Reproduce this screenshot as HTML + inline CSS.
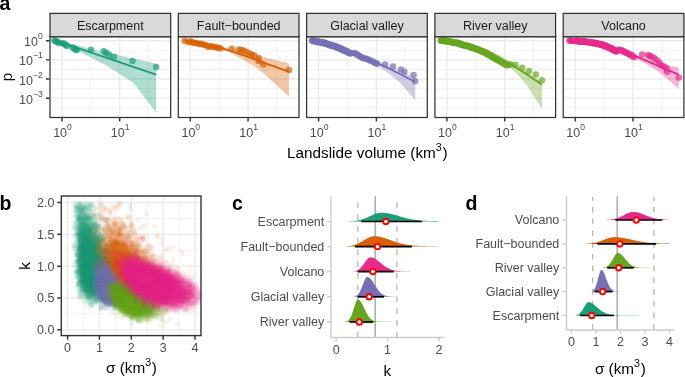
<!DOCTYPE html>
<html lang="en">
<head>
<meta charset="utf-8">
<title>Landslide volume distributions</title>
<style>
html,body{margin:0;padding:0;background:#fff;}
body{width:685px;height:377px;overflow:hidden;font-family:"Liberation Sans",sans-serif;}
svg{display:block;will-change:transform;font-family:"Liberation Sans",sans-serif;}
</style>
</head>
<body>
<svg width="685" height="377" viewBox="0 0 685 377">
<rect width="685" height="377" fill="#fff"/>
<g id="panel-a">
<g>
<rect x="50" y="36.7" width="120.7" height="80.8" fill="#fff"/>
<path d="M50,50.28H170.7M50,69.42H170.7M50,88.58H170.7M50,107.72H170.7M90.85,36.7V117.5M148.65,36.7V117.5" stroke="#ebebeb" stroke-width="0.7" fill="none"/>
<path d="M50,40.70H170.7M50,59.85H170.7M50,79.00H170.7M50,98.15H170.7M61.95,36.7V117.5M119.75,36.7V117.5" stroke="#ebebeb" stroke-width="1.35" fill="none"/>
<clipPath id="ca0"><rect x="50" y="36.7" width="120.7" height="80.8"/></clipPath>
<g clip-path="url(#ca0)">
<polygon points="54.4,39.8 80,46.3 107.3,52.8 132.5,58.6 156.2,63.5 156.2,112.7 133.6,83.1 107.3,66 80,52 54.4,40.6" fill="#1B9E77" fill-opacity="0.35"/>
<path d="M54.4,40.1 L156.2,74.6" stroke="#1B9E77" stroke-width="1.8" fill="none"/>
<g fill="#1B9E77" fill-opacity="0.7">
<circle cx="54.4" cy="40.6" r="3.25"/>
<circle cx="55.6" cy="40.9" r="3.25"/>
<circle cx="56.8" cy="41.4" r="3.25"/>
<circle cx="58" cy="42.2" r="3.25"/>
<circle cx="59.2" cy="42.9" r="3.25"/>
<circle cx="63" cy="43.3" r="3.25"/>
<circle cx="64.4" cy="44.1" r="3.25"/>
<circle cx="65.8" cy="45" r="3.25"/>
<circle cx="67" cy="45.9" r="3.25"/>
<circle cx="72.6" cy="47.4" r="3.25"/>
<circle cx="74.2" cy="48.4" r="3.25"/>
<circle cx="75.6" cy="49.3" r="3.25"/>
<circle cx="76.8" cy="50" r="3.25"/>
<circle cx="91" cy="49.8" r="3.25"/>
<circle cx="103.7" cy="51.3" r="3.25"/>
<circle cx="106.1" cy="52.7" r="3.25"/>
<circle cx="109" cy="54.5" r="3.25"/>
<circle cx="114" cy="56.8" r="3.25"/>
<circle cx="132.5" cy="60.9" r="3.25"/>
<circle cx="156.2" cy="66.9" r="3.25"/>
</g>
</g>
<rect x="50" y="36.7" width="120.7" height="80.8" fill="none" stroke="#333333" stroke-width="1.25"/>
<rect x="50" y="13.4" width="120.7" height="23.3" fill="#d9d9d9" stroke="#333333" stroke-width="1.25"/>
<text x="110.3" y="29.7" font-size="12.5" fill="#1a1a1a" text-anchor="middle">Escarpment</text>
<path d="M61.95,118v3.6M119.75,118v3.6" stroke="#333333" stroke-width="1.45" fill="none"/>
<text x="62.5" y="137.1" font-size="12.5" fill="#4d4d4d" text-anchor="middle">10<tspan dy="-7.0" font-size="8.6">0</tspan></text>
<text x="120.2" y="137.1" font-size="12.5" fill="#4d4d4d" text-anchor="middle">10<tspan dy="-7.0" font-size="8.6">1</tspan></text>
</g>
<g>
<rect x="178.3" y="36.7" width="120.7" height="80.8" fill="#fff"/>
<path d="M178.3,50.28H299M178.3,69.42H299M178.3,88.58H299M178.3,107.72H299M219.20,36.7V117.5M277.00,36.7V117.5" stroke="#ebebeb" stroke-width="0.7" fill="none"/>
<path d="M178.3,40.70H299M178.3,59.85H299M178.3,79.00H299M178.3,98.15H299M190.30,36.7V117.5M248.10,36.7V117.5" stroke="#ebebeb" stroke-width="1.35" fill="none"/>
<clipPath id="ca1"><rect x="178.3" y="36.7" width="120.7" height="80.8"/></clipPath>
<g clip-path="url(#ca1)">
<polygon points="184.7,39.9 187.5,40.4 191.3,41.1 195.8,42 200.8,42.9 206,43.9 211.1,44.9 215.8,45.8 220,46.6 223.7,47.3 227.2,48.1 230.5,48.8 233.7,49.4 236.7,50.1 239.6,50.8 242.4,51.4 245,52 247.5,52.6 249.8,53.2 251.9,53.8 254,54.3 255.9,54.9 257.8,55.4 259.6,55.9 261.5,56.4 263.3,56.9 265.1,57.3 266.8,57.8 268.4,58.2 270,58.6 271.7,59 273.3,59.5 275,59.9 276.8,60.4 278.8,60.9 280.8,61.4 282.8,61.9 284.8,62.3 286.5,62.8 287.9,63.1 289,63.4 289,96.8 287.3,95.2 285,93 282.2,90.4 279.2,87.6 276.1,84.8 273.3,82.2 270.9,80 268.9,78.2 267.1,76.6 265.4,75.1 263.9,73.7 262.4,72.4 260.8,71.2 259.2,69.9 257.6,68.7 256,67.6 254.5,66.6 252.9,65.6 251.3,64.6 249.5,63.5 247.5,62.3 245.2,61 242.7,59.5 240,58 237.3,56.4 234.6,55 232.2,53.7 230,52.6 228.4,51.8 227.3,51.3 226.5,51 225.7,50.7 224.5,50.4 222.7,50 220,49.3 216,48.3 210.7,47 204.8,45.6 198.7,44.1 193,42.8 188.1,41.6 184.7,40.8" fill="#D95F02" fill-opacity="0.35"/>
<path d="M184.7,40.3 C187.25,40.78 194.95,42.18 200.00,43.20 C205.05,44.22 211.27,45.55 215.00,46.40 C218.73,47.25 218.83,47.22 222.40,48.30 C225.97,49.38 232.12,51.45 236.40,52.90 C240.68,54.35 244.30,55.63 248.10,57.00 C251.90,58.37 254.72,59.48 259.20,61.10 C263.68,62.72 270.03,64.95 275.00,66.70 C279.97,68.45 286.67,70.78 289.00,71.60" stroke="#D95F02" stroke-width="1.8" fill="none"/>
<g fill="#D95F02" fill-opacity="0.7">
<circle cx="184.6" cy="40.8" r="3.25"/>
<circle cx="188.5" cy="42.2" r="3.25"/>
<circle cx="190.6" cy="41.3" r="3.25"/>
<circle cx="192.8" cy="42.7" r="3.25"/>
<circle cx="194.9" cy="42.8" r="3.25"/>
<circle cx="197.1" cy="43.3" r="3.25"/>
<circle cx="199.2" cy="43.9" r="3.25"/>
<circle cx="201.3" cy="43.8" r="3.25"/>
<circle cx="203.5" cy="44.8" r="3.25"/>
<circle cx="205.6" cy="45.1" r="3.25"/>
<circle cx="207.8" cy="46.8" r="3.25"/>
<circle cx="209.9" cy="46.3" r="3.25"/>
<circle cx="212" cy="46.6" r="3.25"/>
<circle cx="214.2" cy="47.1" r="3.25"/>
<circle cx="216.3" cy="47.5" r="3.25"/>
<circle cx="218.5" cy="47.8" r="3.25"/>
<circle cx="220.6" cy="48.5" r="3.25"/>
<circle cx="231.8" cy="48.8" r="3.25"/>
<circle cx="238.8" cy="49.4" r="3.25"/>
<circle cx="241.2" cy="49.9" r="3.25"/>
<circle cx="243.4" cy="50.6" r="3.25"/>
<circle cx="246.4" cy="51.8" r="3.25"/>
<circle cx="249.3" cy="53.5" r="3.25"/>
<circle cx="251.8" cy="54.5" r="3.25"/>
<circle cx="254.3" cy="55.6" r="3.25"/>
<circle cx="258.6" cy="58" r="3.25"/>
<circle cx="258.6" cy="61.1" r="3.25"/>
<circle cx="263.3" cy="64.4" r="3.25"/>
<circle cx="289" cy="69.9" r="3.25"/>
</g>
</g>
<rect x="178.3" y="36.7" width="120.7" height="80.8" fill="none" stroke="#333333" stroke-width="1.25"/>
<rect x="178.3" y="13.4" width="120.7" height="23.3" fill="#d9d9d9" stroke="#333333" stroke-width="1.25"/>
<text x="238.7" y="29.7" font-size="12.5" fill="#1a1a1a" text-anchor="middle">Fault−bounded</text>
<path d="M190.30,118v3.6M248.10,118v3.6" stroke="#333333" stroke-width="1.45" fill="none"/>
<text x="190.8" y="137.1" font-size="12.5" fill="#4d4d4d" text-anchor="middle">10<tspan dy="-7.0" font-size="8.6">0</tspan></text>
<text x="248.6" y="137.1" font-size="12.5" fill="#4d4d4d" text-anchor="middle">10<tspan dy="-7.0" font-size="8.6">1</tspan></text>
</g>
<g>
<rect x="306.6" y="36.7" width="120.7" height="80.8" fill="#fff"/>
<path d="M306.6,50.28H427.3M306.6,69.42H427.3M306.6,88.58H427.3M306.6,107.72H427.3M347.50,36.7V117.5M405.30,36.7V117.5" stroke="#ebebeb" stroke-width="0.7" fill="none"/>
<path d="M306.6,40.70H427.3M306.6,59.85H427.3M306.6,79.00H427.3M306.6,98.15H427.3M318.60,36.7V117.5M376.40,36.7V117.5" stroke="#ebebeb" stroke-width="1.35" fill="none"/>
<clipPath id="ca2"><rect x="306.6" y="36.7" width="120.7" height="80.8"/></clipPath>
<g clip-path="url(#ca2)">
<polygon points="312,40 314.6,40.7 318.1,41.6 322.3,42.7 326.9,43.9 331.8,45.3 336.8,46.6 341.6,48 346.1,49.3 350,50.5 353.5,51.7 356.7,52.9 359.8,54.1 362.8,55.3 365.6,56.5 368.3,57.7 370.9,58.9 373.5,60 376,61 378.4,62 380.7,62.8 382.8,63.7 384.9,64.5 386.9,65.2 388.8,66 390.8,66.8 392.9,67.6 395,68.5 397.3,69.5 399.8,70.6 402.4,71.7 405,72.8 407.5,74 409.9,75 412,76 413.8,76.8 415.2,77.4 415.2,100.2 414.1,98.9 412.6,97.2 410.9,95.1 409,92.8 406.9,90.4 404.7,87.9 402.5,85.4 400.2,83.1 398,81 395.8,79.1 393.5,77.2 391.2,75.3 388.8,73.5 386.3,71.7 383.8,70 381.2,68.3 378.6,66.6 376,65 373.4,63.5 370.7,62 368.1,60.5 365.4,59.2 362.6,57.8 359.7,56.5 356.7,55.2 353.4,53.8 350,52.5 346.1,51.1 341.6,49.6 336.8,48.1 331.8,46.6 326.9,45.2 322.3,43.8 318.1,42.6 314.6,41.6 312,40.8" fill="#7570B3" fill-opacity="0.35"/>
<path d="M312,40.4 C315.00,41.03 323.67,42.35 330.00,44.20 C336.33,46.05 343.33,48.87 350.00,51.50 C356.67,54.13 363.33,57.08 370.00,60.00 C376.67,62.92 382.47,65.33 390.00,69.00 C397.53,72.67 411.00,79.83 415.20,82.00" stroke="#7570B3" stroke-width="1.8" fill="none"/>
<g fill="#7570B3" fill-opacity="0.7">
<circle cx="312" cy="40.5" r="3.25"/>
<circle cx="312.6" cy="40.4" r="3.25"/>
<circle cx="313.1" cy="40.9" r="3.25"/>
<circle cx="313.7" cy="40.7" r="3.25"/>
<circle cx="314.2" cy="40.9" r="3.25"/>
<circle cx="314.8" cy="41.4" r="3.25"/>
<circle cx="315.4" cy="41.3" r="3.25"/>
<circle cx="315.9" cy="41.1" r="3.25"/>
<circle cx="316.5" cy="41.3" r="3.25"/>
<circle cx="317.1" cy="41.6" r="3.25"/>
<circle cx="317.6" cy="42.2" r="3.25"/>
<circle cx="318.2" cy="41.6" r="3.25"/>
<circle cx="318.7" cy="41.8" r="3.25"/>
<circle cx="319.3" cy="42.3" r="3.25"/>
<circle cx="319.9" cy="41.8" r="3.25"/>
<circle cx="320.4" cy="42.1" r="3.25"/>
<circle cx="321" cy="42.6" r="3.25"/>
<circle cx="321.6" cy="42.7" r="3.25"/>
<circle cx="322.1" cy="42.6" r="3.25"/>
<circle cx="322.7" cy="43" r="3.25"/>
<circle cx="323.2" cy="42.1" r="3.25"/>
<circle cx="323.8" cy="43.4" r="3.25"/>
<circle cx="324.4" cy="42.9" r="3.25"/>
<circle cx="324.9" cy="42.8" r="3.25"/>
<circle cx="325.5" cy="43.6" r="3.25"/>
<circle cx="326.1" cy="43.9" r="3.25"/>
<circle cx="326.6" cy="43.7" r="3.25"/>
<circle cx="327.2" cy="43.7" r="3.25"/>
<circle cx="327.7" cy="44.2" r="3.25"/>
<circle cx="328.3" cy="44.3" r="3.25"/>
<circle cx="328.9" cy="44.9" r="3.25"/>
<circle cx="329.4" cy="44.9" r="3.25"/>
<circle cx="330" cy="44.9" r="3.25"/>
<circle cx="330.6" cy="45.4" r="3.25"/>
<circle cx="331.1" cy="45.1" r="3.25"/>
<circle cx="331.7" cy="45.1" r="3.25"/>
<circle cx="332.2" cy="45.8" r="3.25"/>
<circle cx="332.8" cy="46" r="3.25"/>
<circle cx="333.4" cy="45.9" r="3.25"/>
<circle cx="333.9" cy="45.9" r="3.25"/>
<circle cx="334.5" cy="46.5" r="3.25"/>
<circle cx="335.1" cy="45.8" r="3.25"/>
<circle cx="335.6" cy="47" r="3.25"/>
<circle cx="336.2" cy="47.2" r="3.25"/>
<circle cx="336.7" cy="46.7" r="3.25"/>
<circle cx="337.3" cy="47.5" r="3.25"/>
<circle cx="337.9" cy="47.4" r="3.25"/>
<circle cx="338.4" cy="48.1" r="3.25"/>
<circle cx="339" cy="47.5" r="3.25"/>
<circle cx="339.6" cy="48.1" r="3.25"/>
<circle cx="340.1" cy="48.8" r="3.25"/>
<circle cx="340.7" cy="49.2" r="3.25"/>
<circle cx="341.2" cy="48.4" r="3.25"/>
<circle cx="341.8" cy="49.2" r="3.25"/>
<circle cx="342.4" cy="49.7" r="3.25"/>
<circle cx="342.9" cy="49.6" r="3.25"/>
<circle cx="343.5" cy="50.5" r="3.25"/>
<circle cx="344.1" cy="50" r="3.25"/>
<circle cx="344.6" cy="50.7" r="3.25"/>
<circle cx="345.2" cy="50.5" r="3.25"/>
<circle cx="345.7" cy="51.5" r="3.25"/>
<circle cx="346.3" cy="51.3" r="3.25"/>
<circle cx="346.9" cy="51.5" r="3.25"/>
<circle cx="347.4" cy="51.3" r="3.25"/>
<circle cx="348" cy="52.6" r="3.25"/>
<circle cx="348.6" cy="52.6" r="3.25"/>
<circle cx="349.1" cy="52.8" r="3.25"/>
<circle cx="349.7" cy="53.2" r="3.25"/>
<circle cx="350.2" cy="53.2" r="3.25"/>
<circle cx="350.8" cy="53.2" r="3.25"/>
<circle cx="354" cy="53" r="3.25"/>
<circle cx="355.4" cy="53.6" r="3.25"/>
<circle cx="356.8" cy="54.3" r="3.25"/>
<circle cx="358.2" cy="55.2" r="3.25"/>
<circle cx="359.5" cy="56" r="3.25"/>
<circle cx="361" cy="56.9" r="3.25"/>
<circle cx="362.2" cy="57.5" r="3.25"/>
<circle cx="363.6" cy="58.4" r="3.25"/>
<circle cx="366" cy="58.6" r="3.25"/>
<circle cx="367.5" cy="59.3" r="3.25"/>
<circle cx="369" cy="59.9" r="3.25"/>
<circle cx="370.8" cy="60.8" r="3.25"/>
<circle cx="372.5" cy="61.6" r="3.25"/>
<circle cx="374.2" cy="62.4" r="3.25"/>
<circle cx="375.9" cy="63.2" r="3.25"/>
<circle cx="377" cy="63.8" r="3.25"/>
<circle cx="385" cy="64.4" r="3.25"/>
<circle cx="393" cy="66.6" r="3.25"/>
<circle cx="401" cy="69.4" r="3.25"/>
<circle cx="404.4" cy="71.7" r="3.25"/>
<circle cx="413.6" cy="75.1" r="3.25"/>
<circle cx="415.2" cy="81.2" r="3.25"/>
</g>
</g>
<rect x="306.6" y="36.7" width="120.7" height="80.8" fill="none" stroke="#333333" stroke-width="1.25"/>
<rect x="306.6" y="13.4" width="120.7" height="23.3" fill="#d9d9d9" stroke="#333333" stroke-width="1.25"/>
<text x="367" y="29.7" font-size="12.5" fill="#1a1a1a" text-anchor="middle">Glacial valley</text>
<path d="M318.60,118v3.6M376.40,118v3.6" stroke="#333333" stroke-width="1.45" fill="none"/>
<text x="319.1" y="137.1" font-size="12.5" fill="#4d4d4d" text-anchor="middle">10<tspan dy="-7.0" font-size="8.6">0</tspan></text>
<text x="376.9" y="137.1" font-size="12.5" fill="#4d4d4d" text-anchor="middle">10<tspan dy="-7.0" font-size="8.6">1</tspan></text>
</g>
<g>
<rect x="434.9" y="36.7" width="120.7" height="80.8" fill="#fff"/>
<path d="M434.9,50.28H555.6M434.9,69.42H555.6M434.9,88.58H555.6M434.9,107.72H555.6M475.80,36.7V117.5M533.60,36.7V117.5" stroke="#ebebeb" stroke-width="0.7" fill="none"/>
<path d="M434.9,40.70H555.6M434.9,59.85H555.6M434.9,79.00H555.6M434.9,98.15H555.6M446.90,36.7V117.5M504.70,36.7V117.5" stroke="#ebebeb" stroke-width="1.35" fill="none"/>
<clipPath id="ca3"><rect x="434.9" y="36.7" width="120.7" height="80.8"/></clipPath>
<g clip-path="url(#ca3)">
<polygon points="440.7,40 443.9,40.6 448.3,41.4 453.6,42.3 459.4,43.4 465.3,44.4 471,45.5 476,46.5 480,47.4 483.1,48.2 485.6,48.9 487.6,49.6 489.3,50.2 490.8,50.9 492.2,51.5 493.5,52.1 495,52.8 496.4,53.4 497.6,54 498.7,54.5 499.7,55.1 500.7,55.7 501.9,56.4 503.3,57.2 505,58.2 507,59.4 509.4,60.8 511.9,62.3 514.6,64 517.3,65.6 520,67.3 522.6,69 525,70.5 527.4,72.1 529.9,73.7 532.3,75.4 534.8,77 537,78.6 539,80 540.7,81.1 542,82 542,109.3 540.9,107.5 539.4,105.1 537.7,102.2 535.8,99 533.7,95.7 531.5,92.2 529.3,88.9 527.1,85.8 525,83 522.9,80.5 520.9,78.1 518.7,75.8 516.6,73.6 514.4,71.4 512.1,69.3 509.8,67.3 507.5,65.4 505,63.5 502.5,61.7 500.1,59.9 497.6,58.3 495,56.7 492.4,55.1 489.6,53.6 486.6,52.2 483.4,50.9 480,49.6 476,48.4 471.5,47.1 466.5,46 461.4,44.9 456.3,43.8 451.4,42.9 447.1,42.1 443.4,41.4 440.7,40.8" fill="#66A61E" fill-opacity="0.35"/>
<path d="M440.7,40.4 C443.92,40.77 453.45,41.23 460.00,42.60 C466.55,43.97 473.33,46.00 480.00,48.60 C486.67,51.20 493.33,54.63 500.00,58.20 C506.67,61.77 513.00,65.58 520.00,70.00 C527.00,74.42 538.33,82.25 542.00,84.70" stroke="#66A61E" stroke-width="1.8" fill="none"/>
<g fill="#66A61E" fill-opacity="0.7">
<circle cx="440.7" cy="40.3" r="3.25"/>
<circle cx="441.3" cy="40.4" r="3.25"/>
<circle cx="441.8" cy="41" r="3.25"/>
<circle cx="442.4" cy="40.3" r="3.25"/>
<circle cx="442.9" cy="40.6" r="3.25"/>
<circle cx="443.5" cy="40.7" r="3.25"/>
<circle cx="444" cy="40.9" r="3.25"/>
<circle cx="444.6" cy="41.1" r="3.25"/>
<circle cx="445.1" cy="40.7" r="3.25"/>
<circle cx="445.7" cy="40.6" r="3.25"/>
<circle cx="446.2" cy="41.1" r="3.25"/>
<circle cx="446.8" cy="41.5" r="3.25"/>
<circle cx="447.3" cy="41.5" r="3.25"/>
<circle cx="447.9" cy="41.4" r="3.25"/>
<circle cx="448.5" cy="41.3" r="3.25"/>
<circle cx="449" cy="41.6" r="3.25"/>
<circle cx="449.6" cy="41.5" r="3.25"/>
<circle cx="450.1" cy="41.9" r="3.25"/>
<circle cx="450.7" cy="41.6" r="3.25"/>
<circle cx="451.2" cy="41.9" r="3.25"/>
<circle cx="451.8" cy="41.9" r="3.25"/>
<circle cx="452.3" cy="42.2" r="3.25"/>
<circle cx="452.9" cy="42.2" r="3.25"/>
<circle cx="453.4" cy="42.9" r="3.25"/>
<circle cx="454" cy="42.8" r="3.25"/>
<circle cx="454.5" cy="42.9" r="3.25"/>
<circle cx="455.1" cy="42.2" r="3.25"/>
<circle cx="455.7" cy="42.7" r="3.25"/>
<circle cx="456.2" cy="42.8" r="3.25"/>
<circle cx="456.8" cy="43.2" r="3.25"/>
<circle cx="457.3" cy="42.6" r="3.25"/>
<circle cx="457.9" cy="43.6" r="3.25"/>
<circle cx="458.4" cy="43.7" r="3.25"/>
<circle cx="459" cy="43.3" r="3.25"/>
<circle cx="459.5" cy="43.5" r="3.25"/>
<circle cx="460.1" cy="43.7" r="3.25"/>
<circle cx="460.6" cy="44.1" r="3.25"/>
<circle cx="461.2" cy="44.4" r="3.25"/>
<circle cx="461.7" cy="44.9" r="3.25"/>
<circle cx="462.3" cy="44.5" r="3.25"/>
<circle cx="462.9" cy="44.9" r="3.25"/>
<circle cx="463.4" cy="44.9" r="3.25"/>
<circle cx="464" cy="45.4" r="3.25"/>
<circle cx="464.5" cy="45.3" r="3.25"/>
<circle cx="465.1" cy="45.6" r="3.25"/>
<circle cx="465.6" cy="45.2" r="3.25"/>
<circle cx="466.2" cy="45.6" r="3.25"/>
<circle cx="466.7" cy="45.6" r="3.25"/>
<circle cx="467.3" cy="46.3" r="3.25"/>
<circle cx="467.8" cy="46.3" r="3.25"/>
<circle cx="468.4" cy="46.2" r="3.25"/>
<circle cx="468.9" cy="46.4" r="3.25"/>
<circle cx="469.5" cy="46.8" r="3.25"/>
<circle cx="470.1" cy="46.7" r="3.25"/>
<circle cx="470.6" cy="46.8" r="3.25"/>
<circle cx="471.2" cy="47.3" r="3.25"/>
<circle cx="471.7" cy="48" r="3.25"/>
<circle cx="472.3" cy="47.5" r="3.25"/>
<circle cx="472.8" cy="47.7" r="3.25"/>
<circle cx="473.4" cy="47.7" r="3.25"/>
<circle cx="473.9" cy="47.9" r="3.25"/>
<circle cx="474.5" cy="48.5" r="3.25"/>
<circle cx="475" cy="48.8" r="3.25"/>
<circle cx="475.6" cy="48.8" r="3.25"/>
<circle cx="476.1" cy="49.1" r="3.25"/>
<circle cx="476.7" cy="49.3" r="3.25"/>
<circle cx="477.3" cy="49.5" r="3.25"/>
<circle cx="477.8" cy="49.3" r="3.25"/>
<circle cx="478.4" cy="49.7" r="3.25"/>
<circle cx="478.9" cy="50.1" r="3.25"/>
<circle cx="479.5" cy="50.1" r="3.25"/>
<circle cx="480" cy="50.4" r="3.25"/>
<circle cx="480.6" cy="50.5" r="3.25"/>
<circle cx="481.1" cy="50.9" r="3.25"/>
<circle cx="481.7" cy="51.4" r="3.25"/>
<circle cx="482.2" cy="51.3" r="3.25"/>
<circle cx="482.8" cy="51.6" r="3.25"/>
<circle cx="483.3" cy="52.1" r="3.25"/>
<circle cx="483.9" cy="52.3" r="3.25"/>
<circle cx="484.5" cy="52.8" r="3.25"/>
<circle cx="485" cy="52.1" r="3.25"/>
<circle cx="485.6" cy="53.1" r="3.25"/>
<circle cx="486.1" cy="53" r="3.25"/>
<circle cx="486.7" cy="53.4" r="3.25"/>
<circle cx="487.2" cy="53.9" r="3.25"/>
<circle cx="487.8" cy="54.3" r="3.25"/>
<circle cx="488.3" cy="54.5" r="3.25"/>
<circle cx="488.9" cy="54.6" r="3.25"/>
<circle cx="489.4" cy="55.3" r="3.25"/>
<circle cx="490" cy="55.2" r="3.25"/>
<circle cx="490.5" cy="55.5" r="3.25"/>
<circle cx="491.1" cy="56.1" r="3.25"/>
<circle cx="491.7" cy="56.1" r="3.25"/>
<circle cx="492.2" cy="57.1" r="3.25"/>
<circle cx="492.8" cy="57.1" r="3.25"/>
<circle cx="493.3" cy="57.7" r="3.25"/>
<circle cx="493.9" cy="57.5" r="3.25"/>
<circle cx="494.4" cy="57.8" r="3.25"/>
<circle cx="495" cy="58.2" r="3.25"/>
<circle cx="495.5" cy="58.7" r="3.25"/>
<circle cx="496.1" cy="58.8" r="3.25"/>
<circle cx="496.6" cy="59.3" r="3.25"/>
<circle cx="497.2" cy="59.6" r="3.25"/>
<circle cx="497.7" cy="60.4" r="3.25"/>
<circle cx="498.3" cy="60.1" r="3.25"/>
<circle cx="499.6" cy="61" r="3.25"/>
<circle cx="501" cy="61.9" r="3.25"/>
<circle cx="502.4" cy="62.8" r="3.25"/>
<circle cx="503.8" cy="63.6" r="3.25"/>
<circle cx="505.2" cy="64.5" r="3.25"/>
<circle cx="506.4" cy="65.2" r="3.25"/>
<circle cx="508" cy="65.2" r="3.25"/>
<circle cx="510.5" cy="64.6" r="3.25"/>
<circle cx="515.3" cy="64.8" r="3.25"/>
<circle cx="522.2" cy="67.8" r="3.25"/>
<circle cx="529" cy="71" r="3.25"/>
<circle cx="535.9" cy="74.6" r="3.25"/>
<circle cx="542" cy="80.3" r="3.25"/>
</g>
</g>
<rect x="434.9" y="36.7" width="120.7" height="80.8" fill="none" stroke="#333333" stroke-width="1.25"/>
<rect x="434.9" y="13.4" width="120.7" height="23.3" fill="#d9d9d9" stroke="#333333" stroke-width="1.25"/>
<text x="495.2" y="29.7" font-size="12.5" fill="#1a1a1a" text-anchor="middle">River valley</text>
<path d="M446.90,118v3.6M504.70,118v3.6" stroke="#333333" stroke-width="1.45" fill="none"/>
<text x="447.4" y="137.1" font-size="12.5" fill="#4d4d4d" text-anchor="middle">10<tspan dy="-7.0" font-size="8.6">0</tspan></text>
<text x="505.2" y="137.1" font-size="12.5" fill="#4d4d4d" text-anchor="middle">10<tspan dy="-7.0" font-size="8.6">1</tspan></text>
</g>
<g>
<rect x="563.2" y="36.7" width="120.7" height="80.8" fill="#fff"/>
<path d="M563.2,50.28H683.9M563.2,69.42H683.9M563.2,88.58H683.9M563.2,107.72H683.9M604.10,36.7V117.5M661.90,36.7V117.5" stroke="#ebebeb" stroke-width="0.7" fill="none"/>
<path d="M563.2,40.70H683.9M563.2,59.85H683.9M563.2,79.00H683.9M563.2,98.15H683.9M575.20,36.7V117.5M633.00,36.7V117.5" stroke="#ebebeb" stroke-width="1.35" fill="none"/>
<clipPath id="ca4"><rect x="563.2" y="36.7" width="120.7" height="80.8"/></clipPath>
<g clip-path="url(#ca4)">
<polygon points="568.3,39.9 571.2,40.3 575.1,40.8 579.7,41.4 584.8,42.1 590.3,42.9 595.7,43.7 601,44.5 605.8,45.4 610,46.2 613.6,47.1 616.9,48 620,49 622.9,50 625.6,51.1 628.2,52.1 630.8,53.1 633.4,54.1 636,55 638.6,55.9 641.2,56.7 643.7,57.5 646.1,58.3 648.5,59.1 650.9,59.8 653.3,60.6 655.6,61.3 658,62 660.5,62.7 663.1,63.5 665.8,64.2 668.5,65 671,65.7 673.5,66.3 675.6,66.9 677.4,67.4 678.8,67.8 678.8,88.8 677.6,87.7 676,86.3 674.1,84.7 672,82.8 669.7,80.8 667.3,78.8 664.9,76.7 662.4,74.8 660,73 657.6,71.3 655.1,69.6 652.5,67.9 649.8,66.3 647.1,64.6 644.3,63 641.6,61.4 638.8,59.9 636,58.5 633.3,57.1 630.7,55.8 628.1,54.5 625.4,53.3 622.7,52.1 619.9,51 616.9,49.9 613.6,48.8 610,47.8 605.8,46.8 601,45.8 595.7,44.9 590.3,44 584.8,43.2 579.7,42.4 575.1,41.7 571.2,41.2 568.3,40.7" fill="#E7298A" fill-opacity="0.35"/>
<path d="M568.3,40.3 C571.92,40.65 583.05,41.28 590.00,42.40 C596.95,43.52 602.83,44.87 610.00,47.00 C617.17,49.13 625.50,52.28 633.00,55.20 C640.50,58.12 647.37,61.27 655.00,64.50 C662.63,67.73 674.83,72.92 678.80,74.60" stroke="#E7298A" stroke-width="1.8" fill="none"/>
<g fill="#E7298A" fill-opacity="0.7">
<circle cx="569.4" cy="40.6" r="3.25"/>
<circle cx="570.4" cy="40.7" r="3.25"/>
<circle cx="571.4" cy="40.8" r="3.25"/>
<circle cx="572.2" cy="41" r="3.25"/>
<circle cx="575.5" cy="41.2" r="3.25"/>
<circle cx="576" cy="40.8" r="3.25"/>
<circle cx="576.5" cy="40.7" r="3.25"/>
<circle cx="577.1" cy="40.8" r="3.25"/>
<circle cx="577.6" cy="40.8" r="3.25"/>
<circle cx="578.1" cy="41.1" r="3.25"/>
<circle cx="578.6" cy="41.4" r="3.25"/>
<circle cx="579.2" cy="41.2" r="3.25"/>
<circle cx="579.7" cy="41.4" r="3.25"/>
<circle cx="580.2" cy="41.7" r="3.25"/>
<circle cx="580.7" cy="41.4" r="3.25"/>
<circle cx="581.2" cy="41.4" r="3.25"/>
<circle cx="581.8" cy="41.3" r="3.25"/>
<circle cx="582.3" cy="41.1" r="3.25"/>
<circle cx="582.8" cy="41.7" r="3.25"/>
<circle cx="583.3" cy="41.1" r="3.25"/>
<circle cx="583.9" cy="41.8" r="3.25"/>
<circle cx="584.4" cy="41.7" r="3.25"/>
<circle cx="584.9" cy="42" r="3.25"/>
<circle cx="585.4" cy="41.8" r="3.25"/>
<circle cx="585.9" cy="41.6" r="3.25"/>
<circle cx="586.5" cy="42" r="3.25"/>
<circle cx="587" cy="41.8" r="3.25"/>
<circle cx="587.5" cy="42" r="3.25"/>
<circle cx="588" cy="42.1" r="3.25"/>
<circle cx="588.6" cy="42.2" r="3.25"/>
<circle cx="589.1" cy="42.2" r="3.25"/>
<circle cx="589.6" cy="42.1" r="3.25"/>
<circle cx="590.1" cy="42.4" r="3.25"/>
<circle cx="590.6" cy="42" r="3.25"/>
<circle cx="591.2" cy="42.6" r="3.25"/>
<circle cx="591.7" cy="42.4" r="3.25"/>
<circle cx="592.2" cy="43.1" r="3.25"/>
<circle cx="592.7" cy="43.2" r="3.25"/>
<circle cx="593.3" cy="42.5" r="3.25"/>
<circle cx="593.8" cy="43.1" r="3.25"/>
<circle cx="594.3" cy="43.1" r="3.25"/>
<circle cx="594.8" cy="43" r="3.25"/>
<circle cx="595.3" cy="43.5" r="3.25"/>
<circle cx="595.9" cy="43.4" r="3.25"/>
<circle cx="596.4" cy="43.1" r="3.25"/>
<circle cx="596.9" cy="43.6" r="3.25"/>
<circle cx="597.4" cy="43.8" r="3.25"/>
<circle cx="598" cy="43.9" r="3.25"/>
<circle cx="598.5" cy="43.7" r="3.25"/>
<circle cx="599" cy="44.3" r="3.25"/>
<circle cx="599.5" cy="44.4" r="3.25"/>
<circle cx="600" cy="44.1" r="3.25"/>
<circle cx="600.6" cy="44.3" r="3.25"/>
<circle cx="601.1" cy="44.6" r="3.25"/>
<circle cx="601.6" cy="44.6" r="3.25"/>
<circle cx="602.1" cy="45.3" r="3.25"/>
<circle cx="602.7" cy="45" r="3.25"/>
<circle cx="603.2" cy="44.8" r="3.25"/>
<circle cx="603.7" cy="45" r="3.25"/>
<circle cx="604.2" cy="45.4" r="3.25"/>
<circle cx="604.7" cy="46.2" r="3.25"/>
<circle cx="605.2" cy="45.8" r="3.25"/>
<circle cx="605.7" cy="46" r="3.25"/>
<circle cx="606.2" cy="46.3" r="3.25"/>
<circle cx="606.7" cy="46.4" r="3.25"/>
<circle cx="607.2" cy="47.2" r="3.25"/>
<circle cx="607.7" cy="46.7" r="3.25"/>
<circle cx="608.2" cy="47.3" r="3.25"/>
<circle cx="608.7" cy="47.3" r="3.25"/>
<circle cx="609.2" cy="47.7" r="3.25"/>
<circle cx="609.7" cy="47.5" r="3.25"/>
<circle cx="610.2" cy="48.4" r="3.25"/>
<circle cx="610.6" cy="48.2" r="3.25"/>
<circle cx="611.1" cy="48.5" r="3.25"/>
<circle cx="611.6" cy="48.5" r="3.25"/>
<circle cx="612.1" cy="48.8" r="3.25"/>
<circle cx="612.6" cy="49.4" r="3.25"/>
<circle cx="613.1" cy="49.7" r="3.25"/>
<circle cx="613.6" cy="49.9" r="3.25"/>
<circle cx="614.1" cy="50.3" r="3.25"/>
<circle cx="614.6" cy="50.5" r="3.25"/>
<circle cx="615.1" cy="50.6" r="3.25"/>
<circle cx="615.6" cy="51.1" r="3.25"/>
<circle cx="616.1" cy="51.3" r="3.25"/>
<circle cx="616.6" cy="51.4" r="3.25"/>
<circle cx="618.6" cy="49.4" r="3.25"/>
<circle cx="619.9" cy="50.1" r="3.25"/>
<circle cx="621.2" cy="50.3" r="3.25"/>
<circle cx="622.5" cy="50.7" r="3.25"/>
<circle cx="623.7" cy="51.6" r="3.25"/>
<circle cx="625" cy="52.6" r="3.25"/>
<circle cx="626.3" cy="52.5" r="3.25"/>
<circle cx="627.6" cy="53.2" r="3.25"/>
<circle cx="628.9" cy="53.9" r="3.25"/>
<circle cx="630.1" cy="55" r="3.25"/>
<circle cx="631.4" cy="54.8" r="3.25"/>
<circle cx="632.7" cy="56.2" r="3.25"/>
<circle cx="634" cy="57.2" r="3.25"/>
<circle cx="642.1" cy="54.6" r="3.25"/>
<circle cx="648" cy="55.2" r="3.25"/>
<circle cx="649.6" cy="55.8" r="3.25"/>
<circle cx="651.3" cy="56.6" r="3.25"/>
<circle cx="654" cy="57.9" r="3.25"/>
<circle cx="656.6" cy="59.9" r="3.25"/>
<circle cx="659.3" cy="62.5" r="3.25"/>
<circle cx="661.3" cy="65.2" r="3.25"/>
<circle cx="663.9" cy="66.5" r="3.25"/>
<circle cx="666.6" cy="68.5" r="3.25"/>
<circle cx="667.2" cy="71.8" r="3.25"/>
<circle cx="678.8" cy="77.5" r="3.25"/>
</g>
</g>
<rect x="563.2" y="36.7" width="120.7" height="80.8" fill="none" stroke="#333333" stroke-width="1.25"/>
<rect x="563.2" y="13.4" width="120.7" height="23.3" fill="#d9d9d9" stroke="#333333" stroke-width="1.25"/>
<text x="623.6" y="29.7" font-size="12.5" fill="#1a1a1a" text-anchor="middle">Volcano</text>
<path d="M575.20,118v3.6M633.00,118v3.6" stroke="#333333" stroke-width="1.45" fill="none"/>
<text x="575.7" y="137.1" font-size="12.5" fill="#4d4d4d" text-anchor="middle">10<tspan dy="-7.0" font-size="8.6">0</tspan></text>
<text x="633.5" y="137.1" font-size="12.5" fill="#4d4d4d" text-anchor="middle">10<tspan dy="-7.0" font-size="8.6">1</tspan></text>
</g>
<path d="M49.5,40.70h-3.6M49.5,59.85h-3.6M49.5,79.00h-3.6M49.5,98.15h-3.6" stroke="#333333" stroke-width="1.45" fill="none"/>
<text x="42.8" y="46.2" font-size="12.5" fill="#4d4d4d" text-anchor="end">10<tspan dy="-7.0" font-size="8.6">0</tspan></text>
<text x="42.8" y="65.3" font-size="12.5" fill="#4d4d4d" text-anchor="end">10<tspan dy="-7.0" font-size="8.6">−1</tspan></text>
<text x="42.8" y="84.5" font-size="12.5" fill="#4d4d4d" text-anchor="end">10<tspan dy="-7.0" font-size="8.6">−2</tspan></text>
<text x="42.8" y="103.7" font-size="12.5" fill="#4d4d4d" text-anchor="end">10<tspan dy="-7.0" font-size="8.6">−3</tspan></text>
<text x="367.3" y="158.0" font-size="15.3" fill="#000" text-anchor="middle">Landslide volume (km<tspan dy="-7.2" font-size="10.7">3</tspan><tspan dy="7.2" dx="0.7">)</tspan></text>
<text transform="translate(12.4,76.9) rotate(-90)" font-size="15.3" fill="#000" text-anchor="middle">p</text>
</g>
<g font-weight="bold" font-size="19.5" fill="#000">
<text x="-0.6" y="10.0">a</text>
<text x="-0.4" y="209.8">b</text>
<text x="232.1" y="209.8">c</text>
<text x="465.6" y="209.8">d</text>
</g>
<g id="panel-b">
<rect x="61.3" y="196" width="139.7" height="139.6" fill="#fff"/>
<path d="M83.52,196V335.6M115.38,196V335.6M147.22,196V335.6M179.07,196V335.6M61.3,313.89H201M61.3,282.06H201M61.3,250.24H201M61.3,218.41H201" stroke="#ebebeb" stroke-width="0.7" fill="none"/>
<path d="M67.60,196V335.6M99.45,196V335.6M131.30,196V335.6M163.15,196V335.6M195.00,196V335.6M61.3,329.80H201M61.3,297.98H201M61.3,266.15H201M61.3,234.33H201M61.3,202.50H201" stroke="#ebebeb" stroke-width="1.35" fill="none"/>
<clipPath id="cb"><rect x="61.3" y="196" width="139.7" height="139.6"/></clipPath>
<g clip-path="url(#cb)" fill="none" stroke-linecap="round" stroke-width="5.2">
<filter id="bl" x="-20%" y="-20%" width="140%" height="140%"><feGaussianBlur stdDeviation="2.2"/></filter>
<polygon points="122.9,284.7 122.6,281.3 121.8,277.5 120.6,273.3 118.8,268.7 116.7,263.8 114.3,258.4 111.7,252.8 108.9,246.9 106.1,240.9 103.2,234.8 100.4,228.8 97.7,222.9 95.1,217.5 92.7,212.4 90.5,208.1 88.5,204.5 86.7,204.4 85.1,204.4 83.6,204.4 82.4,204.4 81.3,204.4 80.3,204.4 79.5,207 78.9,211.2 78.3,216 77.9,221.4 77.5,227.1 77.3,233.1 77.2,239.2 77.1,245.3 77.2,251.2 77.3,256.9 77.5,262.3 77.9,267.4 78.3,272.1 78.9,276.4 79.5,280.3 80.3,283.8 81.3,286.9 82.4,289.7 83.6,292.1 85.1,294.1 86.7,295.9 88.5,297.3 90.5,298.5 92.7,299.4 95.1,300 97.7,300.4 100.4,300.6 103.2,300.5 106.1,300.2 108.9,299.6 111.7,298.8 114.3,297.7 116.7,296.3 118.8,294.6 120.6,292.7 121.8,290.4 122.6,287.7" fill="#1B9E77" fill-opacity="0.3" stroke="none" filter="url(#bl)"/>
<polygon points="114.7,282.1 114.5,279.1 114,275.9 113.1,272.4 111.9,268.6 110.4,264.6 108.7,260.3 106.8,255.8 104.7,251.3 102.6,246.6 100.5,242 98.3,237.4 96.2,233.1 94.2,229 92.3,225.4 90.5,222.2 88.9,219.6 87.3,217.7 86,216.4 84.7,216 83.6,216.2 82.6,217.3 81.8,219 81,221.4 80.4,224.4 79.9,228 79.5,231.9 79.2,236.2 78.9,240.7 78.8,245.3 78.8,250 78.8,254.6 78.9,259.1 79.2,263.4 79.5,267.5 79.9,271.4 80.4,275 81,278.3 81.8,281.3 82.6,284 83.6,286.4 84.7,288.5 86,290.4 87.3,292 88.9,293.3 90.5,294.4 92.3,295.2 94.2,295.8 96.2,296.2 98.3,296.3 100.5,296.2 102.6,295.9 104.7,295.4 106.8,294.6 108.7,293.6 110.4,292.4 111.9,290.9 113.1,289.1 114,287 114.5,284.7" fill="#1B9E77" fill-opacity="0.5" stroke="none" filter="url(#bl)"/>
<polygon points="107,278.9 106.8,276.6 106.5,274 105.9,271.3 105.2,268.5 104.2,265.5 103.1,262.3 101.9,259.1 100.5,255.8 99.1,252.6 97.6,249.4 96.2,246.3 94.7,243.4 93.3,240.7 91.9,238.2 90.5,236.2 89.3,234.5 88.1,233.2 87,232.4 86,232.1 85.1,232.3 84.3,232.9 83.6,234.1 83,235.6 82.4,237.6 82,239.9 81.6,242.6 81.3,245.4 81.1,248.5 81,251.7 81,254.9 81,258.2 81.1,261.4 81.3,264.6 81.6,267.6 82,270.6 82.4,273.3 83,275.9 83.6,278.3 84.3,280.4 85.1,282.4 86,284.2 87,285.7 88.1,287 89.3,288.2 90.5,289.1 91.9,289.8 93.3,290.3 94.7,290.7 96.2,290.8 97.6,290.7 99.1,290.4 100.5,290 101.9,289.3 103.1,288.4 104.2,287.4 105.2,286.1 105.9,284.6 106.5,282.9 106.8,281" fill="#1B9E77" fill-opacity="0.6" stroke="none" filter="url(#bl)"/>
<g stroke="#1B9E77" stroke-opacity="0.08">
<path d="M90.8,245.1h0M92.9,279.7h0M105.5,289.8h0M84.1,278.9h0M95.1,300h0M95.2,256h0M88.7,285.5h0M82.6,281.7h0M75.1,228.7h0M80.2,226.7h0M88.5,287.4h0M102.5,268.5h0M93.7,250.7h0M84.4,271.8h0M89,233.6h0M91.1,203.7h0M89.5,269.8h0M94.4,246.2h0M85.9,254.6h0M95.7,265.5h0M93.1,277h0M79.1,262h0M88.2,267.8h0M91.4,234.5h0M81,260.9h0M107,273.3h0M100.8,273.8h0M101,287.3h0M106.9,289.6h0M117.4,280.2h0M94,289.2h0M90.1,253.8h0M83.6,234.7h0M87.7,283.1h0M105.1,293.8h0M87.4,266h0M94.2,224.6h0M86.1,266.6h0M82.6,261.9h0M81,238.7h0M107.4,259.2h0M88.8,263.8h0M105.1,251.5h0M81.8,271.7h0M97.3,270.4h0M88.7,251.3h0M90,289.1h0M105.6,283.7h0M101.4,285.7h0M110.7,280.5h0M93.7,257.8h0M88.8,273.5h0M98.9,284.5h0M94.7,301h0M87.7,251h0M93.7,286.6h0M103.4,219.4h0M88.8,280.8h0M85.1,258.2h0M94.1,273.4h0M76.5,208h0M80.5,283.8h0M99.9,309.4h0M101.5,271.7h0M86.1,242.9h0M93.6,269h0M96.6,281.1h0M78.5,210.6h0M91.8,266.1h0M79.6,243.4h0M106.8,270h0M81,256.6h0M85.8,287.8h0M80.1,260h0M103.3,242.1h0M84.7,266.6h0M99.3,263.7h0M119.2,289.6h0M88.9,265.2h0M80.2,241.5h0M91.9,284.3h0M88.5,279.1h0M90.4,283.7h0M89.8,279h0M84.3,238.3h0M81.9,212.9h0M89.9,257.6h0M93.5,292.1h0M91.9,258.1h0"/>
<path d="M107.1,272.2h0M103.2,277.3h0M81.4,262.2h0M88.2,280.6h0M96.3,273h0M93.1,281.1h0M87.5,236.6h0M84.9,231.8h0M89.3,255.1h0M95,278.8h0M98.6,280.8h0M106.9,304.4h0M81.9,277.4h0M86.7,269.2h0M82.8,242.9h0M89.1,283.1h0M128.5,255.9h0M91.9,253.5h0M87.8,267.1h0M90.5,260.6h0M83.3,273h0M82.9,279.9h0M105.4,294.7h0M89,239.6h0M92.5,254.4h0M75.1,212.9h0M89.1,241.7h0M85.6,267.8h0M101,240.5h0M96.1,250.5h0M95.4,258.1h0M108.3,225.1h0M75.6,214.9h0M92.9,268.9h0M79.7,280h0M97,284.4h0M107.2,274.7h0M94.9,283.3h0M92.7,282.2h0M94.8,267.7h0M94.1,281.6h0M92.7,279.2h0M87,268.2h0M101.6,282.3h0M83.3,264.2h0M87.2,230h0M89.6,251.4h0M84.8,260.1h0M79.6,271.3h0M98,284.2h0M84.1,258.8h0M83.4,266.4h0M107.7,260.9h0M88.3,272h0M90.7,256.5h0M87.5,276.7h0M77.1,213.8h0M100,268.7h0M85.4,246.7h0M79.5,269.4h0M78.8,219.3h0M78.1,257.5h0M87.4,259.3h0M86.9,246.3h0M92.5,293.4h0M100.2,280.9h0M87.2,278h0M114.3,299.2h0M99.3,262h0M78.6,258.4h0M93.7,249h0M106.4,286.1h0M80.2,293.5h0M93.8,280.1h0M87.1,240.8h0M94,273.6h0M126.5,302.7h0M96.9,289h0M81.4,255.8h0M117.8,275.7h0M100.8,280.1h0M96.5,250.7h0M88.7,293.7h0M89,259h0M108.2,292.7h0M92.9,273.3h0M86.8,258.9h0M93.2,289.4h0M88.1,304h0"/>
<path d="M105,262.9h0M81.3,259h0M96.4,263.3h0M87.5,255h0M96.1,252.5h0M101.1,301.4h0M101.6,262.7h0M109.9,279.2h0M83.8,234.4h0M86.8,283.1h0M90.1,256.5h0M86.7,272.8h0M102.5,278.4h0M83.4,285.4h0M92.8,277.1h0M109.4,284.8h0M94.4,266.5h0M93.9,287.5h0M116.2,288.9h0M97.8,257.3h0M97.7,276.1h0M90.7,281.4h0M121.8,302.1h0M100.4,276.4h0M87.1,260.8h0M87.7,264.2h0M89.7,248h0M82.8,282.3h0M80.8,282.4h0M95.1,300.2h0M94.8,271h0M108.2,298.5h0M89.4,287.3h0M79.5,238.6h0M105,296h0M108.9,270.1h0M95.3,275.4h0M94,273.9h0M86.7,277.4h0M82,283.9h0M84.9,267.1h0M86.2,215.8h0M95.8,264.8h0M78.6,234.9h0M90.1,295.3h0M96.8,245.7h0M94,273.7h0M75.6,206.4h0M102.9,299.9h0M87.7,275.2h0M114.8,265.3h0M89.6,268.1h0M85.2,237.6h0M94.1,248.5h0M88.4,283.2h0M75,255.1h0M92.3,267.2h0M81,247h0M88.4,272.4h0M94.2,282.6h0M98.4,274.1h0M91.5,244.9h0M111,277.1h0M96.3,243h0M85.1,278.5h0M77.2,206.9h0M132.8,296.1h0M93.9,300.5h0M84.4,208.7h0M82.4,210.8h0M93.6,254.4h0M99.7,238.2h0M115.5,273.8h0M98.1,253.8h0M81.9,261.1h0M103.5,261.3h0M88.2,290.2h0M100,252.6h0M96.7,228.9h0M94.7,290h0M83.1,279.2h0M91.3,303h0M103.9,285h0M84.2,278.5h0M89.4,278.8h0M87.7,288.8h0M108.3,258.8h0M96,252h0M107.1,276.7h0"/>
<path d="M86.3,238h0M85.2,255.8h0M106.2,251.7h0M92.4,285.5h0M92.5,281.4h0M92.1,261.3h0M113.3,271.9h0M93.8,263.9h0M97,274.5h0M94,226.2h0M86.2,238.8h0M84.7,264.8h0M84.7,215.1h0M103.5,281.9h0M112.8,283.4h0M92.7,284.7h0M104.8,262.2h0M90,260.7h0M101.6,265.7h0M82.8,286.8h0M89.4,292.4h0M83.5,281.7h0M81.1,215.8h0M91.5,264.8h0M95.7,270.4h0M100.1,288.8h0M92.6,260.4h0M88.1,238.4h0M99.8,266.8h0M99.3,274.3h0M84.8,279.5h0M93.7,290.1h0M104.1,295.5h0M104.5,237.7h0M93.8,277.1h0M87.5,232.7h0M82.5,262.5h0M98.8,243.3h0M89.7,264.5h0M116.5,274.6h0M93.6,289.9h0M77.6,222h0M82.9,267.5h0M93.2,277.5h0M91,260.6h0M89.8,251h0M94.9,232.6h0M85.7,241.2h0M139.1,287.4h0M101.6,296.9h0M94,273.1h0M82.5,268.3h0M95.8,214.9h0M93.4,265.6h0M82.6,273.5h0M88.4,277.7h0M81.6,269.9h0M102.7,269.2h0M94.2,228.3h0M80,259.2h0M86.7,270.9h0M93.4,272h0M92.4,279.4h0M87.2,284.6h0M84.1,271.2h0M79.2,268.3h0M100.4,264.8h0M89.5,262.4h0M92.6,269.5h0M82.6,229.1h0M92.3,280.9h0M101.4,262.1h0M85.1,273.4h0M92,274.5h0M105.5,285.7h0M86.1,266.7h0M91.8,270.2h0M96.1,292.2h0M84.7,258.4h0M81.9,262.8h0M121.5,289.6h0M87.1,255.5h0M97.9,275.9h0M84.1,255.9h0M78,266.2h0M77.9,267.5h0M97.4,289.1h0M90.2,284.9h0M96.6,262.6h0"/>
<path d="M88,230.8h0M84,287.9h0M79.7,270.6h0M103.1,272.5h0M92.2,280.9h0M93.8,273.6h0M87,249.4h0M88.1,243h0M89,258h0M95.2,243.8h0M108.7,286.5h0M95.1,278.5h0M94,263.5h0M92.3,285.3h0M89.2,256.7h0M93.7,279.1h0M88.6,270.6h0M99.7,261.1h0M78.8,235.8h0M78.5,274h0M104.4,278.7h0M102.9,254.6h0M129.7,205.3h0M86.6,238.5h0M92.3,277.6h0M91.9,293h0M90.4,273.9h0M92.9,255.5h0M96.7,284.7h0M100.5,277.9h0M100.1,286.4h0M97.9,278.4h0M86.5,263.3h0M97.2,250.8h0M89.4,291.1h0M107.4,295.1h0M96.1,277.4h0M90.9,286.6h0M82.8,250.3h0M79,212.7h0M102.1,285.6h0M106.7,220.4h0M84,242h0M88.7,247.3h0M88,249.8h0M78,221.1h0M81.8,251.1h0M97.1,238.5h0M97,262.8h0M81.1,282.9h0M88.6,231.9h0M79.9,226.1h0M95.9,275.4h0M86.3,233.3h0M100.3,282.2h0M88.4,238.8h0M81,271.5h0M86.5,263h0M92.8,252.5h0M92.1,272.8h0M89.4,267.8h0M87.8,268.5h0M91.4,278.6h0M93.7,294.2h0M101.8,260.2h0M91.2,276.2h0M89.8,279.5h0M85.7,273.7h0M80.1,282.4h0M89.7,290.4h0M103.7,291.9h0M114.8,283.9h0M86.9,291.2h0M92.1,291.8h0M87.9,289h0M87.4,294h0M87.4,247.2h0M101.3,292.8h0M93.8,275.7h0M102.3,260.6h0M93.2,245.4h0M90.4,266.5h0M110.1,246.4h0M80.2,254.6h0M82.1,281.1h0M80.9,272.3h0M93.8,263.2h0M88.6,272.7h0M83.7,255.3h0"/>
<path d="M86.2,238.7h0M79.1,257.9h0M87.9,249.7h0M90.7,247.4h0M80.2,224.1h0M89.4,273h0M97.9,265.4h0M93.9,286h0M117.3,283.9h0M89.5,254.9h0M101.7,255.3h0M87.4,271.8h0M85.7,280.4h0M90.3,238h0M105.8,255.9h0M109.7,286.7h0M76.2,272.5h0M100.2,236.9h0M91.3,305.2h0M81.8,275.9h0M83.5,262h0M80.4,288.2h0M110.7,290.6h0M108.3,272.2h0M80.8,290.8h0M98.6,225.5h0M86.8,264.4h0M87.6,253.7h0M86.2,227.6h0M107.8,293.2h0M86.7,253.4h0M84.4,269.5h0M78.5,288.2h0M98.6,262.6h0M82.5,259.7h0M104.1,288.4h0M99.8,293.8h0M91.9,281.1h0M84.5,272.9h0M104.1,272.3h0M85.5,259.4h0M83.9,247.2h0M93.9,278.1h0M93.5,276h0M82.7,250.9h0M90.3,270.7h0M85.1,241h0M80,209.7h0M96.8,293h0M92.1,280.1h0M82.5,258.7h0M114,286.8h0M109.6,251.9h0M89.5,265.2h0M86.1,247.4h0M84.1,279.4h0M95.1,246h0M79.2,249.3h0M101.9,266h0M75.8,205.5h0M80.2,272.6h0M105.7,287.3h0M88.6,272.8h0M109,271.6h0M90.9,259.4h0M73.8,245.9h0M86.7,287.6h0M98,288h0M84.5,296.4h0M86.4,280.5h0M90.8,282.9h0M96.1,272.4h0M84.5,277.3h0M105.7,297.4h0M91,253.6h0M88.6,251.1h0M91.1,242.6h0M93,284.6h0M83.3,264.1h0M86.7,259.8h0M107.7,278.5h0M88.9,262h0M87.6,254.1h0M100.4,292.6h0M84,245h0M103.7,254.4h0M92.1,228.6h0M95,265.3h0M105.2,297.3h0"/>
<path d="M96.4,274.6h0M91.7,275.2h0M81.2,254.2h0M100.7,274.8h0M89.1,284.4h0M97.1,291.6h0M101,272.2h0M86.5,243.5h0M100.9,284.7h0M93.6,270.9h0M105.7,295.4h0M87.9,270.4h0M87.8,296.2h0M95.5,286.7h0M93.3,277.4h0M106,297h0M76.7,286.9h0M87.4,245.8h0M89.3,272.7h0M82.5,269.4h0M75.2,252.1h0M93.1,268.9h0M99.8,296.7h0M98.9,272.2h0M78.6,228.8h0M89.4,284.9h0M78.8,255.9h0M88.9,266.4h0M96.6,274.5h0M113.5,282.2h0M93.9,291.3h0M96.4,274.1h0M92.9,269.2h0M105.4,278.6h0M79.7,236.9h0M86.9,256.3h0M102.1,289.2h0M114,258.7h0M95.5,247.7h0M98.5,292.4h0M98,291.1h0M86.8,203.9h0M83.2,268.6h0M84.4,224.7h0M104.1,299.7h0M107,250h0M93.8,259.6h0M81.4,269.5h0M92.1,221.7h0M97.3,284.2h0M95.2,241.3h0M95.2,294.9h0M103.9,273h0M95.1,260.6h0M107.5,287.1h0M84.1,255.7h0M105,261.9h0M106.9,260.3h0M80.9,296.8h0M89.9,293.3h0M85.6,238.3h0M107.7,267.2h0M89.9,279.1h0M85.4,246.6h0M88.5,269.3h0M97.5,262.2h0M89.5,278.7h0M90.5,204.7h0M82.9,261.8h0M86.7,257.2h0M78.3,271.1h0M92,276.4h0M86.3,270.9h0M92.8,268.1h0M87.3,275.3h0M89,258.6h0M87.2,266h0M86.7,260.6h0M92.9,241.6h0M88.3,239.7h0M84.3,273.4h0M93.8,275.4h0M87.8,237.3h0M88.6,298.8h0M89.1,280.3h0M95.5,270.3h0M99.6,274.8h0M99.7,277.8h0M85.8,277.6h0"/>
<path d="M90,266.1h0M95.9,277.8h0M92.9,273.8h0M87,300.7h0M84.6,277.9h0M83.3,277.8h0M98.1,269.1h0M93.2,290h0M100.3,267.4h0M90.4,263h0M96.8,257.9h0M102.9,307.5h0M104.5,298.1h0M83.3,268.2h0M82.3,266h0M100.4,289.5h0M102.1,273.2h0M91.5,266.5h0M89,263.7h0M80.6,230.6h0M86.6,296.6h0M96.3,282.6h0M94.3,239.2h0M100.1,277h0M82.9,239.4h0M127.3,295.8h0M115.5,249.4h0M101.3,278.1h0M94.7,253.7h0M87.6,278.2h0M97.9,287h0M84,273.9h0M91.1,263.2h0M84.2,283.8h0M82.3,212.2h0M79.4,205.8h0M94,272.3h0M90.1,285.1h0M93.9,271.6h0M78.6,262.2h0M88.9,277h0M80,241.4h0M99.4,265.1h0M77.8,233h0M95.6,275.2h0M78.3,217.9h0M95.1,267.3h0M92.9,262.8h0M100.9,275.2h0M97.7,275.8h0M86.8,256.8h0M100.8,271.9h0M92.3,285.6h0M95.9,272h0M89.5,281.1h0M97.2,257.3h0M80.4,216h0M86.3,280.7h0M92.5,280.9h0M98.3,253.2h0M99,245.3h0M90.4,255.1h0M90.9,269.8h0M85.7,227.2h0M88.4,283.1h0M103.9,271.5h0M109.5,293.7h0M90.3,275.4h0M107.9,262.9h0M86.8,274.9h0M93.7,248.8h0M97.9,272.3h0M91.2,253.8h0M90.4,277.5h0M91.5,214.8h0M83.1,269.4h0M82.5,260.1h0M92.9,285.1h0M89,275.7h0M87.3,264.1h0M102.1,238h0M91.5,291.4h0M86.9,276.8h0M98.1,285.9h0M98.7,237.5h0M106.1,286.5h0M86.4,296.3h0M80,273.3h0M117.8,272.7h0"/>
<path d="M98.5,267h0M84.7,277.5h0M109.6,259.2h0M93.7,244.4h0M91.7,274.4h0M99.1,277.9h0M102.5,252.6h0M85.2,270.8h0M92.3,261.8h0M98.7,293.5h0M89.5,284.5h0M112.7,284h0M92.6,243.9h0M83.5,259.1h0M88.3,240.4h0M79.8,258.3h0M92.3,280.9h0M127.8,287.2h0M86.3,252.6h0M93.5,276.6h0M121.8,306.4h0M108.8,295.8h0M128.5,269.4h0M104.9,282.5h0M98.5,282h0M82.8,271.9h0M79.8,240.9h0M93.4,276.6h0M86.6,264.2h0M81.5,245.6h0M87.8,215.3h0M89.1,290.8h0M101.6,267.4h0M74.1,245.6h0M90.3,274.8h0M99.9,259.6h0M81.8,285.6h0M99.2,289.8h0M86.5,260.2h0M87.9,244.7h0M89,209.3h0M85.7,246.2h0M85.5,224.3h0M79.6,282.7h0M88,259.9h0M84.1,233.8h0M91.1,285.7h0M104.5,260h0M87.6,283.9h0M82.8,280.2h0M87.1,263.5h0M83.2,235.6h0M92.7,254h0M98.2,281.5h0M85.2,237.1h0M103,293.2h0M82.6,232.3h0M94.3,292.2h0M92.8,256.3h0M95.5,276.5h0M91.4,246.3h0M88.6,231.6h0M110,281.4h0M87.9,248.2h0M91.8,265.6h0M74.9,203.1h0M85.5,287.9h0M104.6,292h0M87.7,237.9h0M89.2,256.6h0M74.3,223.7h0M88.1,282h0M99.3,301.4h0M87.7,224.6h0M127.8,303.6h0M86.5,250.6h0M101.8,272.5h0M92,225.7h0M90.5,276.7h0M82.1,275.7h0M94.5,241.7h0M91.2,269.7h0M93.2,270.8h0M99.5,274.1h0M84.7,283.1h0M92.4,267.3h0M83.4,234.5h0M87.6,296.1h0M111.6,274.6h0"/>
<path d="M78.6,252.6h0M107.5,303.9h0M119.1,288.1h0M77.3,209.2h0M86.6,249.2h0M86.3,287.7h0M87.2,278.6h0M93.2,284h0M90.2,218.8h0M95.6,271.7h0M87,258.9h0M93.1,281.4h0M87.2,257.9h0M83.7,240.5h0M83.1,253.8h0M103.6,260.1h0M81.2,255.6h0M94.7,259.3h0M80.4,265.5h0M85.2,273.2h0M95.3,258.1h0M100.9,262.2h0M91.4,259.3h0M98.3,284.3h0M94.9,274.5h0M80.9,230.1h0M87.6,276.7h0M83.1,230.2h0M89.4,284.7h0M75.5,248.5h0M81.3,271.2h0M89.3,274.9h0M100.4,267h0M93.7,291h0M81.9,208h0M96.9,264.2h0M104.4,294.9h0M91,268.9h0M93.9,279h0M107.5,295.4h0M89.3,269.5h0M86.9,279.7h0M90.6,247.2h0M105.2,277.8h0M79.4,256h0M90.2,287.5h0M132.8,257h0M132.8,271.6h0M98.9,225h0M80.8,205h0M92.9,285.4h0M90.3,266.9h0M88.2,231.4h0M100.8,269.2h0M95.3,239.4h0M117.3,306.2h0M86,229.7h0M89.1,244.4h0M111.1,288.1h0M104.8,268h0M86.2,258.3h0M88.1,278.4h0M126.4,296.7h0M93.7,229.8h0M90.8,276.8h0M100.2,265.2h0M92.3,250.2h0M88.1,270.9h0M95,269.8h0M84,257.8h0M112.8,248.4h0M96.6,231.3h0M82.8,266.7h0M97.5,281.9h0M87.8,255.5h0M92.2,275.6h0M91.6,272.6h0M80.4,234.4h0M95,248.7h0M126.2,279h0M88.9,265.1h0M89.3,273.9h0M85,254.7h0M86.3,262.3h0M85.6,269.1h0M92.9,271.6h0M78.4,253.8h0M88.5,244.7h0M89.6,258.5h0"/>
<path d="M110.5,284h0M99.5,263.3h0M78.9,207.8h0M80.4,211.2h0M97,260.7h0M82.4,259.7h0M98.4,289.5h0M106.7,245.1h0M93.9,258.1h0M86,256h0M88.1,281.5h0M88.8,267.8h0M81.5,280.2h0M95.6,263.6h0M98.8,268.3h0M83.4,282h0M103.5,260.5h0M88.9,260.1h0M100,291.4h0M78,271.9h0M88.8,282.6h0M92.9,283.2h0M86.7,225.9h0M81.5,269.3h0M94.6,265.8h0M93.2,282.2h0M97.4,286.4h0M86.9,275.4h0M88.2,296.5h0M87.2,253.5h0M96.8,266.3h0M86.5,247.2h0M88,231.8h0M106.2,279.8h0M84.1,246.6h0M126.4,286.1h0M84.8,229.2h0M86.7,276.6h0M92.1,261.2h0M102.9,281.8h0M102.5,296h0M88,262.2h0M89.2,248h0M91.8,286.8h0M85.1,254.3h0M80.8,235.4h0M103.2,277.8h0M108.7,283.2h0M89.1,273.6h0M114.3,302.1h0M93,255.4h0M88.8,261.5h0M87.5,298.5h0M94.3,250.9h0M100.8,289.6h0M104.4,270h0M89.7,278.5h0M103.3,288.7h0M88.6,293.3h0M82.5,265.5h0M110,276.7h0M86.7,283.4h0M82,218.2h0M137.3,281.5h0M76.7,216.6h0M89.8,255h0M85.1,232.9h0M89.8,261.7h0M84.3,273.2h0M94.2,287.5h0M103.7,257.5h0M78,209.3h0M93.9,255.5h0M88.1,286.9h0M88.1,232.6h0M91.1,275.3h0M105.6,285.6h0M93.2,301.6h0M94.3,246.1h0M87,253.9h0M85.2,290h0M95.1,274.2h0M100.8,287.9h0M88.4,234h0M123,284h0M85.8,276.2h0M104.3,266h0M91.8,279.3h0M98.6,291.1h0"/>
<path d="M89.7,219.4h0M97.1,257.4h0M85.8,268.9h0M99.1,257.3h0M99.4,282.7h0M94.1,268.9h0M119.1,283.5h0M86.3,245.7h0M106.1,287.7h0M85.7,265.5h0M101.1,289.4h0M96.4,280.7h0M104.1,264.9h0M93.9,270.7h0M82.1,245.4h0M91.9,271.4h0M80,281.6h0M119.7,290h0M83.3,256.4h0M129.5,294.2h0M100.3,246.8h0M91.4,241.3h0M92,275.4h0M87.3,256h0M77.9,268.4h0M108.2,269.6h0M94.3,244.5h0M85.2,240.4h0M92.7,225.9h0M98.7,288h0M82.2,246.5h0M77.4,222.7h0M94.3,276.8h0M103.9,256.2h0M85.5,266.5h0M108.3,285.6h0M96.7,283.5h0M86.7,268.9h0M91.8,260h0M79.1,215.2h0M81.9,279.5h0M89.3,229.2h0M87.1,261.7h0M83.3,261.2h0M89.7,255.4h0M85.6,244.6h0M89.7,294.4h0M80.3,282.1h0M87.8,225.3h0M87.2,242.8h0M84.3,250.6h0M80.6,267.8h0M86.8,228.1h0M97.4,299.9h0M83.7,263.4h0M85.2,289.8h0M81.3,272.3h0M103.5,265.4h0M93.7,281.1h0M110.8,228.5h0M89.9,256.5h0M106.4,287.7h0M93.1,249.5h0M86,275.2h0M84.1,210.6h0M110,279.2h0M108,297.6h0M96.6,237.6h0M89.9,279.5h0M90.9,273.2h0M87.1,276.5h0M115.5,306.1h0M85.3,251h0M97.5,284.4h0M92.5,277.3h0M90.3,249.3h0M86.3,251.8h0M91.2,264.4h0M91.5,235.9h0M94.1,285.1h0M83.7,224.5h0M86.3,263.9h0M93.9,265.1h0M87.5,263.7h0M91.3,284.8h0M86.3,255.6h0M95.6,267.1h0M101.7,297.5h0M92.1,264.7h0"/>
<path d="M97.7,264.9h0M94.5,209.6h0M98,287.4h0M85.7,289.3h0M93.5,275.7h0M112.7,283.4h0M99.2,251.1h0M79.8,238.9h0M96,260.1h0M113.7,273.9h0M91.6,278.1h0M78.4,248.8h0M98.3,280h0M96.5,219.7h0M106.5,289.4h0M82.5,244.8h0M103.7,299.2h0M90.6,287.3h0M87.4,249.5h0M84,269.1h0M95.6,283.7h0M90.1,270.9h0M80.9,248.2h0M102.1,281.2h0M75.4,216.5h0M90,261h0M96.4,286.2h0M92.3,263.8h0M87,258.9h0M94.3,243.3h0M83.6,235.3h0M84,272.9h0M78.7,207.2h0M86,236.5h0M97.5,263.3h0M99,267h0M79.9,230.2h0M84.1,256.1h0M110.6,268.3h0M85.8,267.3h0M86.9,264.9h0M85,248.3h0M91.1,300.1h0M99.4,274.1h0M98.9,242h0M90.5,248.3h0M98.1,282.7h0M76.8,247.4h0M92.8,305.3h0M80,237.2h0M106,276.4h0M96.2,286.5h0M100.7,287.6h0M88.4,280.8h0M88.4,238.7h0M93.4,284h0M125.2,297.7h0M103.6,287.7h0M84.1,219.8h0M111.4,302h0M87.5,219.9h0M92.8,289.3h0M98.2,281.2h0M77.8,218.1h0M88.9,264.1h0M94.5,252.3h0M90.4,229.5h0M105.3,273h0M89.2,269.2h0M83,246.4h0M90.5,253.4h0M86.6,280.7h0M105.6,263h0M91.5,287.2h0M93.3,214h0M82.7,282.8h0M93,278.7h0M93,263.6h0M91.5,283.3h0M90.7,282.4h0M114.5,257.5h0M101.6,283.5h0M83.1,264.2h0M102.1,276.8h0M86.2,295.3h0M86.7,278.9h0M97.1,261.4h0M81,268.6h0M83.5,220.8h0"/>
<path d="M89.3,217.6h0M101.2,262.5h0M110.7,267.1h0M96.5,241.1h0M93.6,268.7h0M101.3,270.6h0M85.5,257.1h0M88.6,275.5h0M87.5,268.8h0M89.6,279.4h0M80.3,212.2h0M90.4,262.2h0M87.7,277h0M102.9,277.1h0M96.5,275.4h0M88.9,269.6h0M108.6,275.4h0M82.4,229.9h0M85.6,294h0M81.5,258.3h0M95.2,265.2h0M103.9,271.7h0M95.5,256.3h0M84.6,285.3h0M85.5,245.3h0M102.5,291.9h0M98.8,268h0M82,275.8h0M96.1,289.5h0M91.6,261.2h0M82.3,234.8h0M93.7,259.9h0M103.2,267.2h0M89.6,246.1h0M88,225.6h0M112.7,272.6h0M99,251.6h0M90.6,248.1h0M86.9,278.1h0M81.6,267.3h0M96.7,255h0M85.3,268.2h0M101.9,277.7h0M84.1,264.4h0M86.7,257.6h0M80.8,295.8h0M106.5,293.3h0M92.3,279.2h0M91.1,206.2h0M82.2,208.3h0M83.2,247.2h0M84.8,259.8h0M86.7,218.5h0M89.4,297.7h0M108.8,286.1h0M81.1,258.3h0M97.1,274.4h0M98.2,290.7h0M94.8,258.9h0M81.7,224.5h0M103.9,289h0M87.7,266.6h0M86.7,234.3h0M85.4,278.9h0M99.2,290.9h0M89.5,256.6h0M102.1,235.9h0M90.6,288h0M84.7,259h0M116.7,283.3h0M92.1,259.9h0M97.1,274.1h0M91.9,283.2h0M103.8,252h0M81.8,225.8h0M85.7,289h0M97.3,276.9h0M86.4,285.1h0M81.2,244.7h0M79.7,250.6h0M104.8,286.2h0M92.5,288.8h0M74.6,227.9h0M91.7,260.7h0M90.8,279.5h0M84.5,249.2h0M90.8,240.1h0M95.7,271.6h0"/>
<path d="M87.3,278.4h0M81.1,206.5h0M94.7,292.3h0M96.1,265.6h0M91.4,275.3h0M86.3,264.5h0M96.8,276.6h0M87.4,218.3h0M105.8,245.2h0M101.7,272.3h0M90.2,278.8h0M82.6,206.7h0M92.9,278.9h0M80.9,247h0M77.8,215.6h0M81.4,266.4h0M84.5,252.7h0M97.6,284.8h0M84.7,286.6h0M105.3,296.5h0M86.3,287.3h0M85.3,264.7h0M89.7,273h0M91,267.5h0M87.7,245.2h0M86.1,259.2h0M105.6,275.4h0M88.9,288.8h0M78.2,255.6h0M87.5,217.4h0M99.6,304.7h0M89.9,258.7h0M92.1,258.3h0M93.2,269.6h0M89.2,228.5h0M82.7,253.7h0M84.5,260.2h0M85.6,257.7h0M94.4,257.7h0M82.5,235.6h0M81.3,256.6h0M89.8,265.7h0M144.8,291.3h0M81.3,284.3h0M102.1,205.4h0M92.9,295.9h0M94,243.3h0M103.1,276.2h0M79.6,246.1h0M91.7,234.4h0M82.5,252.8h0M88.8,284.5h0M87.6,259h0M104.2,291.4h0M83.2,236.1h0M98.8,270.2h0M87.8,269.5h0M79.6,205.6h0M94.5,254.4h0M84.2,269.9h0M79,251.2h0M88.5,274.5h0M76.3,205.2h0M79.9,267.8h0M108.1,224.3h0M92.9,263.4h0M98.2,293.6h0M93.6,279.2h0M101.9,265.2h0M81.5,251.9h0M103.2,295.4h0M94.5,282h0M98.7,283.6h0M84.3,274.1h0M78.9,217.4h0M84.6,263.7h0M78.5,212.1h0M95.9,274.2h0M89.4,277.2h0M85.9,272.4h0M91.6,234.5h0M95.1,278.2h0M78.6,277.4h0M92.1,276.3h0M81.5,256.4h0M83.2,233.5h0M112,279h0M79,286.7h0"/>
<path d="M95.2,272.8h0M96.9,262h0M84.6,281.7h0M106.5,260.9h0M86.8,279h0M97.9,290.6h0M105.6,263.1h0M92,236.7h0M92.4,293.6h0M94.4,293h0M80.6,238.3h0M127.2,295.5h0M82.8,267.7h0M91.9,283.7h0M99,277.2h0M111.6,283.5h0M82.3,263.2h0M83.6,265.1h0M98.5,283.4h0M104.2,278.8h0M91.2,279.7h0M96,259.8h0M93.9,261.7h0M94.6,232.7h0M85.7,239.9h0M81.9,279h0M93.4,248h0M97.9,285.5h0M88.1,242.3h0M85.4,264.9h0M89,275.3h0M87.1,273.6h0M102.8,279h0M78.7,219.9h0M106.6,264.7h0M92.4,279.3h0M103.2,261h0M87,257h0M94.4,280.1h0M84.9,215.3h0M79.5,226h0M93,281.3h0M81.5,240.3h0M103.1,274.5h0M91,263h0M94.1,264.2h0M79,217.5h0M79.8,214.3h0M122.8,284.2h0M106,295.6h0M93.8,284.8h0M80.1,261.8h0M92.2,265.7h0M78.5,276.9h0M84.2,285.9h0M94.5,276.8h0M86.5,262h0M79.3,253.8h0M85.4,258.8h0M85.8,267.8h0M96.2,283.8h0M96.2,286.5h0M97.5,283.3h0M86.1,254.7h0M83.7,244.6h0M102.7,297.4h0M86.9,255.2h0M92.5,224h0M79.9,249.4h0M99.1,267.3h0M84.8,283.3h0M92.3,298.7h0M81,224.4h0M91.3,229.3h0M85.7,276.7h0M101.9,294.2h0M81.2,249.7h0M97.5,272.3h0M77,233.6h0M92.3,259.2h0M92.4,283.1h0M81.4,279.7h0M108.4,302.9h0M98.2,233.6h0M96,287.1h0M105.2,275h0M83,239h0M84.4,258h0"/>
<path d="M99.5,281.8h0M96.8,279.4h0M93.4,273.5h0M99.3,276.9h0M89.1,284.3h0M86.7,281.7h0M94.2,269.1h0M82.1,233.6h0M89.8,278h0M85.9,262.4h0M92.1,266.4h0M98.2,236.8h0M82.9,211.2h0M81,229.2h0M110.3,283.2h0M82.9,257.6h0M99.7,283.2h0M86.4,245h0M94.3,303.4h0M82.1,243.2h0M92.5,273.8h0M89.8,246.3h0M94.2,275.4h0M108.7,253.5h0M94.1,296.8h0M107.7,281.3h0M140.9,298.6h0M90.8,268.7h0M79.3,279.8h0M88.1,274.7h0M76.9,206.8h0M94.7,277.5h0M102.4,257.7h0M85.1,266.9h0M87.8,266.6h0M88.2,290.6h0M114.4,284.2h0M104.9,250.6h0M88.2,262.7h0M114.3,274.7h0M95.7,265.5h0M88.7,276.9h0M92.7,224.1h0M116.2,296.6h0M84.1,252.3h0M81.1,273.2h0M91.3,229.2h0M86.5,243h0M93.1,263.1h0M91.5,260.7h0M92,287.2h0M101.8,289.9h0M86.4,225.2h0M95.5,281.1h0M92.5,274.4h0M85.9,276.7h0M126.7,299.9h0M92.5,291.5h0M86.8,222.5h0M90.3,234.2h0M82.2,280.1h0M87.1,266h0M90.2,274h0M90.9,273.5h0M118.6,275h0M93.6,278.6h0M99.9,279.8h0M100.6,298.2h0M98.8,226.4h0M84.8,263.2h0M84.1,274.1h0M92.3,255.1h0M91.9,228.9h0M94,257.7h0M88.6,238.8h0M107.8,263.1h0M98.4,282.4h0M85.3,274.4h0M76.8,277.6h0M100.5,294h0M84.8,266.3h0M86.9,267h0M90,233.9h0M89.8,276.8h0M101.4,271.4h0M95,279.1h0M104.5,295h0M86.1,263.1h0"/>
<path d="M88.7,273.5h0M78.9,237.4h0M90.4,267.4h0M102,279.7h0M86.4,246.7h0M89.4,264.1h0M85.9,292.5h0M94.5,273.2h0M84.3,272.4h0M84.6,271.9h0M81.8,249.2h0M91.9,273.4h0M84.1,277.7h0M86.1,253.5h0M84.3,254h0M89.4,248.6h0M82.4,285.5h0M93.7,271.8h0M85.1,273.2h0M80.3,245.1h0M85.3,248.9h0M92.9,277.9h0M82.7,247.3h0M106.4,302.2h0M89.1,255h0M110.5,267.4h0M82.9,247.7h0M83.5,282.1h0M95.8,276.4h0M94.4,268.9h0M98.3,286.2h0M97.6,272.8h0M87.9,278.5h0M85.3,292.8h0M96.7,255.8h0M113.7,292.6h0M104.5,289.8h0M89.3,231h0M81.8,236.1h0M91.2,288.7h0M90,285.1h0M112.4,297.9h0M88.4,246.8h0M92.5,254h0M74.9,208.5h0M90.3,258.3h0M90.9,205.1h0M87.1,282.3h0M79.8,275.8h0M106.2,263.5h0M91.4,253.7h0M98.7,277.4h0M88.7,271.7h0M152.8,295.2h0M81.9,240.8h0M90,245.7h0M124.7,283.2h0M83.2,264.5h0M90.2,304h0M92.3,273.7h0M84.2,253.3h0M93.6,250.1h0M89.8,291.8h0M83.4,236.2h0M92,267.2h0M92.1,280.9h0M103.2,261.7h0M112.2,281.9h0M138.8,286.3h0M94.6,240.5h0M85.9,230.1h0M91.9,287.9h0M92.3,262.3h0M94.7,216.8h0M84.3,231.5h0M93.4,282.7h0M91.4,253.7h0M94.2,273.2h0M87.4,268.8h0M87.5,245.6h0M78.6,259.8h0M106.5,246.7h0M91.9,267.9h0M119.5,293.9h0M85.8,291.9h0M85.2,259.4h0M83.9,276.8h0M88,256h0"/>
<path d="M89.2,272.1h0M93.9,288.7h0M88.7,270.8h0M89.5,270.8h0M94.4,274.8h0M91.4,247.6h0M110.1,293.4h0M165.3,296.6h0M85.9,259.3h0M91.7,288.7h0M81.4,248.2h0M88.8,281.2h0M94,277.9h0M102,294.1h0M101.6,269.3h0M88.9,237.9h0M100,276.6h0M89.4,240.7h0M83.3,238.8h0M83,281.3h0M82.3,208.1h0M88.3,266h0M106.6,276.2h0M100.6,288h0M81.9,265.5h0M109.9,283.3h0M92.7,266.2h0M85.5,247.7h0M90.7,274.5h0M78.9,261h0M119.9,248.9h0M84.1,256.6h0M89.1,250h0M110.7,278h0M82.6,252.4h0M96.4,278.7h0M82.1,259h0M103.8,282.2h0M97.5,238.5h0M88,290.2h0M88.7,240.7h0M91.8,242.3h0M83.1,287.4h0M100.3,239.8h0M81.5,256.2h0M102.2,276.9h0M121.2,292.2h0M91.2,279.6h0M104.7,259h0M93.7,249h0M87.3,259.1h0M94.5,253.3h0M94.4,286.2h0M79.1,224.6h0M79.5,225.7h0M88.7,262.3h0M86.7,245.9h0M95.3,275.8h0M96.5,291h0M76.1,213.8h0M85,233.3h0M90.2,253.1h0M91.4,276.7h0M85.2,269.8h0M96.2,269.6h0M81.1,287.2h0M83,301.2h0M84.3,230.5h0M84.9,249.9h0M96.5,291h0M92.6,276.4h0M79.7,233.7h0M84.4,266.7h0M103.8,277.5h0M82.9,252.7h0M110.1,300.9h0M78.7,252.9h0M99.4,269h0M88.1,240.2h0M93.9,281h0M78.8,244.9h0M89.4,267.4h0M86.9,265.5h0M83.4,268.6h0M101.8,271.1h0M86.9,287.4h0M86.6,266.2h0M85.4,262.1h0"/>
<path d="M97.8,276h0M88.3,260.9h0M84.7,292h0M84.9,217.2h0M96.5,260.5h0M76.7,239.5h0M81.5,291h0M81.4,257.3h0M85.4,263.8h0M93,276.3h0M91.6,256.1h0M76,272.6h0M93.4,241h0M103.2,286.2h0M93,283.3h0M104.8,295.1h0M81.8,271.4h0M84.5,280.9h0M86.6,282.2h0M103.6,262.2h0M91.8,248.3h0M121.7,251.6h0M83,291.2h0M89,249.3h0M83.8,230.6h0M86.8,279.7h0M87.4,246.9h0M91.7,243.5h0M89.5,236.3h0M98.3,289.4h0M114.5,278.1h0M90.6,282.9h0M83.7,229.8h0M85.2,260.7h0M93.8,267.3h0M74.4,262.7h0M83.4,257.3h0M93.1,295.9h0M92.7,277h0M87.2,268.4h0M91.3,276h0M91.4,242.1h0M92.6,268h0M119.2,288.5h0M79.8,258.6h0M88.6,244.4h0M78.6,285.1h0M89.3,259.8h0M91.4,258.9h0M96.4,261.7h0M91.2,228.5h0M83.6,259h0M88.1,275.9h0M111.3,258.7h0M94.6,295.2h0M85.7,208.3h0M94.3,270.5h0M92.1,274.1h0M100.3,255.3h0M96.7,241.3h0M91.7,286.2h0M107.2,288.4h0M93,250.2h0M92.5,286.4h0M86.6,261.8h0M96.9,244.7h0M100,263.7h0M90.7,263h0M92.1,246h0M100.8,266.5h0M93.9,291.3h0M86.5,253.5h0M88.9,285.1h0M94.5,251.5h0M87.1,254.3h0M87.7,272.4h0M84.7,244.7h0M98.9,282.9h0M108,276.2h0M87.5,257h0M85.6,264.8h0M83.7,275.4h0M78.2,217.3h0M105.4,253.9h0M88,207h0M101.4,242.4h0M81.6,209.7h0M86.1,281h0"/>
<path d="M83.8,268.7h0M98.9,276.4h0M94.4,290.7h0M84.7,254.4h0M81.1,270.2h0M92.4,278.2h0M95.6,276.1h0M93.8,240.9h0M75.1,272.3h0M96.9,272.1h0M89.8,286.2h0M98.1,257.3h0M84.6,221.2h0M102.9,261.4h0M79.4,248h0M80.6,289.5h0M99.3,266.9h0M86,245.3h0M101.4,273.7h0M87.8,247.2h0M101.4,295.4h0M85.3,273.1h0M100.5,274h0M100.9,274.3h0M91.9,245.5h0M82,265.3h0M86,228.8h0M95.4,261.4h0M91.2,264.3h0M80.4,253.4h0M85.8,283.9h0M87.5,267.9h0M77.6,261.9h0M110.5,300.9h0M91.7,263.5h0M107.4,273.2h0M83.9,256.8h0M100,289.3h0M90.7,285.4h0M96.8,297h0M139.3,295.1h0M84.8,262h0M83.3,262.5h0M76.1,265.6h0M88.5,233.6h0M94.4,279.8h0M110.1,292.6h0M96.3,244h0M93.8,263.8h0M103,284.9h0M79.6,226.2h0M86.1,232.5h0M92.6,286.8h0M79.5,270.3h0M97.8,295.7h0M107.1,291.9h0M106.1,307.9h0M80.6,251.2h0M87.6,260.6h0M88.3,276.8h0M91.5,247.5h0M104.2,277.5h0M125.9,291.1h0M84.8,245.2h0M86.1,257.4h0M92.1,234.9h0M169.6,297.5h0M91.6,273h0M80.4,227.3h0M109.3,286.9h0M87.7,262.9h0M106.1,247.4h0M102.3,264.4h0M100.7,300.7h0M89.3,297.7h0M87.7,297.5h0M82.7,274.9h0M83.8,261.5h0M96.7,303h0M96.3,294.5h0M89.2,230.6h0M74.6,266.9h0M77.9,234.2h0M107.8,286.8h0M93.3,250h0M94.3,208.2h0M91.2,282.5h0M87.4,290.6h0"/>
<path d="M94.5,258.1h0M86.8,282.2h0M93.5,260.1h0M86.5,266.9h0M100.3,275h0M82.8,254.4h0M90.4,275.8h0M87.9,281.3h0M102,299.1h0M81.4,267.2h0M79.4,250.2h0M111.6,298.8h0M98.4,288.6h0M90.9,290.4h0M95.4,222.8h0M90.2,271.2h0M91.4,248.3h0M85.7,285.1h0M91.7,283.6h0M84.2,253.9h0M97.3,273.4h0M93.1,225.8h0M79.8,280.1h0M96.1,271.4h0M91.3,250.7h0M82,260.4h0M93.3,268.6h0M99.7,296.9h0M110.6,293.4h0M89.1,267.9h0M91.2,256.9h0M83.6,270.7h0M89.2,282.6h0M90.6,277.2h0M92.2,222.9h0M83.6,284.4h0M97.7,272.1h0M85.5,234.7h0M90.4,264.2h0M97.1,273.9h0M82.7,260.2h0M101.3,293.4h0M89.2,249h0M91,261.9h0M93,298.8h0M96.7,288.5h0M89.1,256.8h0M103.3,275.9h0M99.6,283.6h0M88.1,231.3h0M98.7,260.3h0M105,270.5h0M94.5,259.7h0M95.2,281.3h0M97.1,287.3h0M148.3,291.9h0M82.1,258.3h0M82.7,280.4h0M116.9,288h0M101.2,250.5h0M93.5,257.2h0M80.6,247.3h0M92.3,294.3h0M103.5,284.5h0M109.5,298.5h0M118.2,264.4h0M89.3,256.9h0M98.6,287.7h0M91.4,279.7h0M84.2,250.4h0M99.8,263.5h0M83.2,276h0M93.2,262.8h0M118.1,288.3h0M79.5,239.5h0M81.1,214.5h0M86.6,277.7h0M83.2,281.1h0M102.3,257.4h0M76.1,211.8h0M82,263.9h0M93.9,259.8h0M79.5,265.4h0M82.1,271.6h0M84.6,236.3h0M92.4,269.3h0M87.9,271.9h0M88,269.5h0"/>
<path d="M85.1,275.8h0M90.4,239.9h0M89.7,255.3h0M82.2,280.3h0M84.5,252.8h0M84.9,290.6h0M81.8,245.9h0M92.4,267.2h0M96.4,268.7h0M85.7,239.6h0M98.5,267.9h0M84.7,239.4h0M99,226.2h0M88.7,269.7h0M78.8,249.1h0M88.7,266h0M86.9,274.4h0M104.2,296.8h0M92.8,261.8h0M90.3,287.4h0M95.5,275.2h0M93.3,277.3h0M94.4,284.9h0M89.2,269.2h0M89.9,268.5h0M88.6,258.7h0M108.7,283h0M89.2,298.8h0M82.3,233.5h0M85.4,274.5h0M95.6,224.7h0M80.1,220.3h0M91.8,281.7h0M79.3,293h0M86.6,284.1h0M99,279.2h0M94.1,277.6h0M91.9,277h0M90.4,237.9h0M83.1,234h0M86.4,273h0M82.4,261.1h0M104.2,277.3h0M96.2,292.3h0M106.3,299.9h0M88.1,252.6h0M100.9,306.6h0M91.7,261.9h0M84.5,281.8h0M94.4,272.6h0M83,242.7h0M88.2,267.1h0M78.7,250.5h0M113.2,272.1h0M94.8,255.2h0M100,276.6h0M86,270.6h0M82.1,264.2h0M108.9,301.5h0M87.5,269.4h0M92.5,260.8h0M89.1,253.1h0M99.8,240.9h0M103,248.3h0M89.2,279.2h0M91.7,257.1h0M99.2,257.5h0M112.4,278.8h0M79.5,282.3h0M142.8,276.8h0M83.1,280.8h0M82.9,204h0M87.2,282.4h0M99.8,285.1h0M85.9,209.4h0M92.3,270h0M109.9,297.9h0M91.1,255.8h0M87.4,257.1h0M96.5,269h0M99.1,266.1h0M91.5,280.7h0M91.1,260.2h0M100,263.6h0M84.2,267.7h0M81.6,290.9h0M94.7,258.3h0M78.5,261.5h0"/>
<path d="M78.2,261.1h0M93.9,247.1h0M88.6,282.6h0M86,251.8h0M84.7,251.8h0M80.3,273.6h0M104.9,230.4h0M82.1,233.8h0M88.6,228.7h0M89.7,278.5h0M122.1,291.6h0M97.7,267.5h0M92.2,245.5h0M102.9,259.4h0M75.6,228.6h0M95.9,258.4h0M83.6,250h0M84.8,280.1h0M87.7,250.8h0M104.7,296.8h0M95.7,282.6h0M97,282.2h0M84.2,288.4h0M107.3,278.1h0M124.5,223.6h0M96.5,301.5h0M84.9,240.5h0M81.1,232.1h0M100.3,267.1h0M87.4,272h0M100.3,285.6h0M89.5,297.7h0M82.4,257.9h0M123.2,290.7h0M82.8,259.5h0M86.6,255.5h0M92.2,245.4h0M133.4,295.3h0M83.4,265.1h0M107.8,307.3h0M80.3,258.5h0M82.7,281.2h0M77.5,282.8h0M79.8,272.1h0M89.7,207.1h0M101,279.4h0M88,275.9h0M99.2,294.5h0M75,225.1h0M88,273.6h0M88.7,262.5h0M93.2,284.4h0M128.4,273h0M110.7,290.4h0M81.8,238.7h0M103.2,268h0M107.5,263.1h0M83.6,250.3h0M87,273h0M103.8,273.8h0M107.9,253.1h0M98.2,280.2h0M86.3,209h0M84,271.9h0M90.2,269.4h0M91,232.3h0M81.9,294.7h0M91.8,258.7h0M98.6,292.5h0M95.2,258.7h0M90.5,217.4h0M123.7,299.1h0M88.9,275.2h0M82.6,223.6h0M93.8,279.2h0M86.4,247.4h0M85.9,234.4h0M83,271.6h0M94.3,276.2h0M85.7,289.4h0M95.8,271.2h0M96.9,260.7h0M98,268.9h0M93.2,243.5h0M80.2,262.7h0M86.8,276.4h0M85.6,272.6h0M80.6,208.8h0"/>
<path d="M84.2,242.8h0M83.8,249.2h0M81.3,248.6h0M89.7,266.3h0M88.8,256.4h0M80.1,261.4h0M94,280.8h0M95.2,230.5h0M102.4,245.7h0M111.1,263.7h0M80.3,244.5h0M98.2,282.8h0M102.3,295.9h0M87.4,269.2h0M94.5,292.4h0M95.3,249.7h0M92.8,266.6h0M85.8,260.3h0M88.3,234.2h0M80.8,253.6h0M132.1,278.6h0M95.2,295.5h0M91.1,251.1h0M95.7,287.8h0M88.3,266.2h0M95.7,297h0M84.9,285.3h0M108.1,250h0M80.1,221h0M82.7,276.7h0M90.8,256.6h0M83.7,279.8h0M97.9,266.7h0M83.1,225.5h0M87.9,283.7h0M93,252.4h0M93.7,274h0M99.5,281.5h0M78.6,284.3h0M82.1,259.9h0M86.5,252.4h0M96.2,279.8h0M92.2,283.3h0M93.6,282.8h0M81.6,235h0M93.9,288.5h0M92.2,249.9h0M119.6,288.8h0M90.8,249h0M86,257.7h0M98.6,283.4h0M91.9,266.3h0M92.5,243.9h0M84.1,270h0M98.1,252.2h0M92.5,266h0M85.2,265.9h0M88.7,253.9h0M85.4,265.7h0M96,284.1h0M112.8,290.4h0M86.7,286h0M94.1,237.1h0M87.6,248.1h0M105.2,275.5h0M86.5,290.3h0M97,274.3h0M94.2,267.1h0M87.3,256.2h0M84.4,243.9h0M85.4,275.9h0M106.3,248h0M95.4,286.7h0M80.6,254.8h0M89.2,247h0M91,257.3h0M118.8,257.7h0M130.1,267.1h0M103.1,277.1h0M75,277h0M92,264.2h0M119.6,292.5h0M95.3,275.6h0M100.1,281.3h0M92.6,245h0M82.1,283.3h0M80.6,279.3h0M86.7,269.8h0"/>
<path d="M86.6,251.9h0M96.7,257.1h0M86.5,258.7h0M93,266.6h0M85.9,252.4h0M83.3,260.4h0M82,256.6h0M90.2,258.8h0M94.9,277.6h0M76.5,220.6h0M115.1,294.7h0M79.9,266.7h0M88,218.2h0M93.9,265.9h0M124.9,269.7h0M86.6,275.9h0M78.4,229.4h0M119.4,292.3h0M92.6,268.6h0M87.3,282.3h0M93,233h0M94.9,285.1h0M85.4,268.7h0M84.6,230.9h0M91.7,285.4h0M80.5,241.4h0M98.2,270.8h0M93.4,277.1h0M86.6,279.9h0M82,253.7h0M82.3,274.8h0M121.5,270.7h0M91.3,249h0M96.9,283.3h0M86.6,242.7h0M97.3,268.5h0M96.7,279.6h0M101.8,241h0M89.9,228.7h0M87.6,257h0M108.8,281.8h0M81.7,264.8h0M94.2,275.6h0M91.5,271.1h0M124.6,275.8h0M82.8,290.8h0M103.7,289.2h0M83.2,272.7h0M94.2,267.9h0M98.5,280.7h0M90.9,302.5h0M82.3,278.9h0M92.7,252.1h0M81.7,289.7h0M104.5,265.8h0M87.9,265.5h0M87.1,250.9h0M97.8,273.2h0M129.5,297.6h0M87.7,259.2h0M98.1,238.2h0M99.4,269.4h0M87.9,289.9h0M91.3,307h0M114.7,279h0M100,248.6h0M86.9,264.3h0M106.2,259.4h0M78.9,233.8h0M81.1,234.3h0M83.2,231h0M112.3,262h0M106.4,267.5h0M97.7,258.4h0M80.8,265.8h0M95,267.8h0M88.4,236.8h0M84.5,214.5h0M95.3,277.6h0M82.6,239.4h0M79,268h0M90.5,277.2h0M89.4,230.4h0M81.8,238h0M88.1,271.7h0M78.2,284.3h0M96.2,298.8h0M95.7,264.9h0"/>
<path d="M81.8,269.1h0M89.6,226.1h0M104.8,258.2h0M87.6,241.1h0M93.4,272.6h0M99.5,280.1h0M96.8,279.4h0M111.7,273.6h0M94.2,261.4h0M94.9,280.9h0M85,244.7h0M100.9,267.2h0M89.5,289.8h0M106.6,288.1h0M85.7,241.9h0M92.8,217.4h0M88.1,226.9h0M86,286h0M78.6,218.8h0M80.8,280h0M102.4,283.6h0M101.7,298.5h0M77.2,255.2h0M105.9,292.5h0M83,233.1h0M92.4,271.7h0M96.1,287.4h0M94.6,261.1h0M92.1,287h0M88.5,287.6h0M98.5,283.5h0M89.5,258.1h0M94.9,224.2h0M113,256.3h0M102.3,253.8h0M92.5,241.7h0M97.6,254.3h0M92.7,268.2h0M80,217.5h0M94.4,279.6h0M90.1,238.5h0M105,261.7h0M82.8,291.1h0M97.1,294.4h0M92.8,262.7h0M99.5,280h0M91.3,270.3h0M83,251.2h0M103.6,280h0M84.7,273.3h0M136.8,275.5h0M109.9,265.7h0M79.1,217.4h0M80.9,237.4h0M85.2,273.8h0M123.7,247.8h0M81.1,264.4h0M106.9,290.7h0M97.1,244.2h0M104.4,261.6h0M98.6,280.4h0M93.9,286.7h0M89.3,249.2h0M99.1,286.1h0M80.6,243.1h0M89.9,296.5h0M100.8,264.8h0M82.4,252.9h0M81.8,247.7h0M128.8,278h0M106.6,266.3h0M91.1,259.6h0M99.6,276.6h0M87.3,276.1h0M87.3,262.1h0M88.1,283.3h0M84.8,253.1h0M97.5,281.4h0M93.5,245.3h0M96.7,254.5h0M88.6,266.4h0M91.8,270h0M81.3,234.5h0M92.9,280.6h0M88.3,251.6h0M100.3,277.7h0M105.7,264.1h0M101.5,275.4h0"/>
<path d="M80.2,228.5h0M95.5,274.5h0M88.8,278.6h0M78.2,227.2h0M85.8,247.4h0M112.3,285h0M86.9,302.1h0M84.9,224.6h0M76.1,261.2h0M86.1,225.6h0M86.4,276h0M107,276.4h0M95.3,258.7h0M87.4,276h0M99.6,259.2h0M87.3,259.3h0M87.2,249.7h0M109.2,257.6h0M111.3,274.3h0M122.3,270.3h0M117.8,263.9h0M80.2,265.7h0M82.4,223.8h0M88.4,268.6h0M87.5,287.7h0M90.7,267.8h0M117.8,297.5h0M93.5,275h0M83.9,245h0M82.4,208.1h0M96.8,271.1h0M88.4,265.2h0M84.3,214.3h0M86.1,257.7h0M100.6,246.4h0M83.3,270.6h0M113,294h0M99.9,280.5h0M87.2,236h0M111.9,273.8h0M96,263.4h0M89.7,286.6h0M95.1,272.9h0M85.1,293.8h0M87.6,257.4h0M98.7,277.7h0M102.6,289.5h0M96.4,275.8h0M85.4,272h0M92.1,265.9h0M80.8,237h0M78,275.5h0M97.8,250h0M99,271.1h0M101.5,282.7h0M87.7,268.9h0M84.7,254.7h0M83.1,291.8h0M96.4,252.2h0M99.3,254.9h0M87.3,252.9h0M96.7,279.8h0M83.6,275.9h0M90.2,264.2h0M89.5,294.1h0M85.9,259.3h0M91.5,243.5h0M85.5,229.2h0M80.1,231.3h0M113.6,284.5h0M88.3,278.5h0M94,287.8h0M98.8,247.1h0M93.4,289h0M90.1,302.2h0M82,236.2h0M110.4,277h0M86.8,254.9h0M91,269.3h0M124.6,304h0M90.3,233.8h0M85,288.6h0M99.1,262.9h0M83.1,219.5h0M82.2,276.1h0M87.7,268.2h0M98.1,290.5h0M138.5,305.9h0"/>
<path d="M90.9,290.2h0M86.2,285.8h0M80.5,210.1h0M89.9,266.7h0M83.9,268.5h0M90.3,286.8h0M78.3,265.6h0M92.2,255.6h0M88.5,288.1h0M94.9,290.9h0M88.9,271.4h0M92.7,254.9h0M90.2,286.1h0M85.6,274h0M91.6,272.2h0M95.3,296.2h0M97.7,260h0M106.4,291.7h0M84.3,270.1h0M115.1,266.8h0M91,235.5h0M90.7,253.6h0M91.3,253.9h0M96.8,238.8h0M95.9,225.6h0M91.4,264.6h0M102.2,296.8h0M82.7,270.5h0M92.5,277.2h0M128.8,285.9h0M81,242h0M87,247.6h0M78.8,242.4h0M81.6,271h0M81.8,263.7h0M107.9,289.8h0M90.2,267.2h0M82,270.3h0M97.6,285.7h0M87.1,252.1h0M86,218.8h0M79.8,243.7h0M93.2,274.4h0M93.7,236.6h0M87.6,280.6h0M85,292.6h0M89.8,219.3h0M116.9,293.2h0M89.3,249.9h0M90.5,260h0M84.7,258.9h0M92.7,290.8h0M95.5,273.2h0M87.8,283.1h0M87.7,281.5h0M94.9,263.9h0M98.1,255.1h0M85.9,226.1h0M86.9,270.2h0M86.3,258.7h0M82.3,285h0M90,273.1h0M84.2,263.9h0M116.7,281.7h0M91.2,284.4h0M113.7,279.8h0M82.8,239.6h0M87.9,262.5h0M88.9,234.4h0M91,252h0M83.2,261.2h0M99.8,239.3h0M111.3,253.9h0M89,266.2h0M98.5,297.1h0M89.8,273.3h0M101.1,279.5h0M76.7,251h0M83.3,286.8h0M84.9,248.7h0M81.5,233.6h0M90,239h0M88.1,278.9h0M87.7,282.9h0M82,247.6h0M87,275.9h0M89.9,260.3h0M91.3,253.1h0"/>
<path d="M100.4,282.8h0M103,290.3h0M106.7,282.8h0M92.7,265.2h0M106.4,284h0M103.1,285.5h0M85,275.1h0M141.1,284.2h0M96,245.3h0M86.4,251h0M80.5,233.1h0M90,267.5h0M99.1,297.8h0M90.4,274.3h0M87.7,257.2h0M89.6,245.6h0M81.5,235.5h0M89.2,268.8h0M85.9,224.5h0M101.1,264.2h0M93.1,287h0M81.7,257.7h0M97.2,277.1h0M80.1,222.6h0M96.4,251.3h0M90.3,270.8h0M92.7,293.7h0M87.8,241.8h0M98.3,301h0M87,242.1h0M87.3,257h0M115.8,298.4h0M98.7,280.4h0M102.4,299h0M97.1,272h0M94.6,247.3h0M92.6,234.3h0M83.9,279.5h0M87.9,229.8h0M92.7,245.6h0M113.8,279.8h0M87.9,278.7h0M87,236.4h0M84.9,271.7h0M80.6,259.1h0M94.7,287h0M87.1,206.2h0M92.7,286.3h0M95.9,237.9h0M86.8,260.9h0M91.5,264.9h0M89.8,281.4h0M88.2,278.6h0M91.2,290.4h0M92.7,253h0M89.8,264.2h0M84.3,266.9h0M110.5,295.4h0M89.3,247.3h0M79.5,263.6h0M96.6,253.4h0M93.5,252.2h0M95.3,258.7h0M90,248.2h0M116.6,291.4h0M117.2,274.7h0M105.6,289.3h0M91.9,249.7h0M101.4,287.1h0M99.7,255h0M91.6,268.4h0M97.3,257.3h0M80,243.2h0M106.4,250.3h0M79.4,255.9h0M89.5,280.3h0M107.4,268.7h0M89.3,257.5h0M83.4,275.8h0M85.2,238.5h0M77.2,270.8h0M90.3,286.1h0M90.3,278.8h0M108.1,283.1h0M85.4,258.4h0M83.2,230h0M94.3,261.3h0M84.2,270h0"/>
<path d="M88.5,221.7h0M96.8,259.7h0M96,239.8h0M103,274.8h0M90.9,253h0M88.2,260.6h0M93.1,265h0M84.5,270.4h0M111.3,268.5h0M94.1,269.3h0M106.2,258.5h0M99,282.5h0M81.5,234h0M96.7,261h0M96.9,274.3h0M85.2,255.9h0M113.1,287.3h0M80.6,248h0M106.8,287.4h0M89.3,235.7h0M102.4,237.9h0M92.9,280.3h0M80.4,289.9h0M90.5,268h0M89.2,234h0M88.8,274.4h0M87.7,246.4h0M93,279.2h0M81.8,268.5h0M85.2,283h0M93,266.2h0M83.2,250.2h0M96.7,290.6h0M91.1,251.9h0M86.5,245.1h0M90.5,282.4h0M78.6,247.1h0M99.4,274.8h0M86.2,232.4h0M105.2,208h0M91.5,237.3h0M113.1,285.5h0M103.8,278.2h0M95.7,275.1h0M96.3,287.6h0M106.7,280.6h0M88.7,283.1h0M104,272.1h0M88.8,268.8h0M104.3,283.6h0M107.3,259.1h0M79.6,283.4h0M93.9,286.4h0M93.7,288.5h0M94.6,291.1h0M97.1,283.7h0M81.3,249h0M100.5,283.3h0M99.3,276h0M86,275.2h0M90.8,268h0M95.9,280.9h0M98.7,241.6h0M93,204.7h0M131.3,285h0M87.8,250.6h0M90,252.4h0M94.4,276.9h0M84.5,241.9h0M108,263.1h0M83.3,266.2h0M90.4,292.8h0M80.5,218.2h0M104.8,277h0M97.4,281.2h0M90.4,297.1h0M117.4,285.5h0M83.2,275.2h0M80.4,203.9h0M95.3,240h0M116.8,288.1h0M98.6,271.5h0M89.8,240.1h0M89.3,274.2h0M95.3,300.7h0M98.6,273.7h0M79.1,271.9h0M92,291.4h0"/>
<path d="M84.6,298.9h0M89,261.8h0M120.9,268.5h0M96.5,258.1h0M82,222.1h0M78.3,283.7h0M97.2,286.2h0M83.6,284.8h0M115.5,286.2h0M110.5,266.9h0M95.5,281.1h0M80,239.2h0M108.2,272.5h0M95.4,270.8h0M111.8,266.3h0M90.3,262h0M87.8,265.3h0M95.1,279.7h0M92.7,266.8h0M97.4,255.7h0M112.6,248.1h0M82,276.6h0M77.5,227.6h0M83.4,259.3h0M94.5,248.5h0M96.7,271.1h0M92.6,251.6h0M102.3,260.3h0M89.8,253.9h0M86,255.5h0M95.8,288.8h0M89,285.3h0M89.4,247.9h0M81.6,238.6h0M95.2,268.1h0M98.2,276.3h0M81.2,213h0M87,260.2h0M95.2,243.2h0M96.3,265.8h0M81.2,219.7h0M83.4,280.3h0M80.8,266.7h0M91.1,255.3h0M93.5,242.9h0M92.4,262.2h0M86.4,278.5h0M88.4,276.5h0M89.4,281.5h0M92,260.9h0M88.5,242.4h0M93.8,268.1h0M107.6,265.1h0M95.3,264.9h0M80.5,253.3h0M90.5,252.6h0M85.6,259.7h0M92.8,270.7h0M97,268.9h0M97,287.9h0M99.9,284.1h0M80.3,250.5h0M95.3,282.6h0M90.9,286.2h0M90.8,271.8h0M83.7,242.4h0M83.8,274.6h0M87.4,218.1h0M92.5,272.5h0M92.2,263.4h0M97.7,258.7h0M80.6,296h0M76.8,209.3h0M82.2,207.3h0M86.5,291.6h0M97.1,245.1h0M102.8,291.1h0M86.3,281.5h0M94.1,246.7h0M93.2,267.6h0M97,288.2h0M96.2,263.9h0M86.6,257.4h0M76.9,265.3h0M93.5,272.7h0M120.4,295.9h0M87.5,255.3h0M97.4,266.3h0"/>
<path d="M94.3,274.9h0M97.1,294h0M91.1,284.5h0M85.3,245.2h0M90.6,250h0M91.9,288h0M92.1,289.2h0M90.2,230.9h0M108.2,284.1h0M94,292.9h0M84.6,272.9h0M91.4,287.3h0M84.4,262.5h0M92,219.4h0M81.6,256.3h0M94.1,293.8h0M82.1,249h0M97.6,267.1h0M85.8,242.2h0M77.5,271.5h0M93.6,265.1h0M83.3,272.6h0M83.9,265.6h0M83.2,270.8h0M91.1,259.7h0M91.7,255.5h0M89,264.4h0M91.1,225.6h0M87.3,277.5h0M82.5,260.7h0M99,298.8h0M84.3,283.4h0M86.8,252h0M82.5,284.2h0M86.5,256.8h0M86.2,290.7h0M85.1,266.4h0M88.8,271.5h0M87.8,268.5h0M102.7,289.1h0M98,275.5h0M80.8,239h0M96.4,274h0M86.6,253.2h0M109.6,267.7h0M103.9,261.8h0M89.5,263.4h0M101.6,250.5h0M83.8,286.9h0M92,287.4h0M80.6,247.5h0M95.9,284.3h0M88.6,275.6h0M96.7,282.1h0M109.5,276.6h0M97.2,298.7h0M114.8,272.6h0M76.5,231.9h0M84,270.3h0M88.4,271.3h0M78.6,271.6h0M83.5,264.7h0M85.2,269.3h0M82,258.9h0M95.1,222.7h0M105.8,288.3h0M92.7,254h0M117.2,260.6h0M76.4,234.9h0M87.4,258.1h0M101,274.6h0M85.1,274.3h0M100,241.2h0M93.2,274.5h0M92.2,252h0M88.4,270.1h0M105.1,258.9h0M79.7,253.8h0M87.9,247.2h0M85.7,287.9h0M87.3,277.3h0M86.6,252.9h0M84.7,270.9h0M80.7,255.7h0M85.1,248.7h0M96.5,265.1h0M103.8,302.8h0M91.6,241.3h0"/>
<path d="M98.2,254.5h0M105.6,252.5h0M86.7,269.2h0M84.8,257.5h0M79.9,216.9h0M95,277.7h0M91,256.2h0M90.1,274.5h0M82,231.8h0M94.9,288.9h0M88.1,242.9h0M102.6,261.2h0M89.1,262.8h0M96.2,262.3h0M96.3,257.2h0M124.4,289.1h0M107.5,255.7h0M101.4,264.7h0M79.9,269.9h0M93.2,245.4h0M94.1,230.4h0M90.1,290.1h0M88.8,273.1h0M78.3,260.3h0M78.4,275.2h0M92.7,263.5h0M80.9,226.8h0M74.2,236.4h0M78.2,208.8h0M76.2,210.9h0M96,261.6h0M89.3,256h0M88,270.4h0M87.2,272.2h0M80.3,248.1h0M116.7,262.5h0M81.9,266.8h0M87.4,237.9h0M86.7,267.6h0M101.4,290.1h0M96.1,236.7h0M95,278.8h0M87.9,263.7h0M80.1,266.8h0M102.2,271h0M105.7,288.6h0M107.3,265.3h0M86,257.8h0M113,276.8h0M113.3,272.3h0M104.1,280.2h0M91,276.1h0M84.4,278.7h0M92.2,289.7h0M84.1,228.8h0M81.7,225.6h0M92.4,272.6h0M82.9,260h0M105.5,219.5h0M114.2,272.2h0M135,285.3h0M82.8,270.2h0M93.8,290.2h0M101.7,283.4h0M101.2,281.8h0M85,274.5h0M84.1,264.2h0M85.9,246.8h0M97.6,293.2h0M90.9,296.2h0M103.5,299h0M80.3,271.4h0M76.8,254.4h0M88,270.2h0M97.4,264.8h0M87.9,272.9h0M79.3,225.7h0M83.6,275.3h0M84.9,276.4h0M89,294.9h0M111,289.3h0M107.4,263.7h0M85.7,254.1h0M82.1,239.8h0M93.4,259.8h0M100.8,293.2h0M94.9,273.8h0M82.5,260.8h0"/>
<path d="M87.9,268.2h0M114.5,278.7h0M80.5,246.1h0M118.9,293.8h0M114.5,282.4h0M86.9,226.2h0M95.3,273.1h0M99.7,285.8h0M77.1,235.1h0M94.2,283.8h0M80.1,297.5h0M81.6,254.8h0M80.8,256.9h0M79.7,245.3h0M93.9,290.7h0M86.4,260.2h0M112.2,257.3h0M91.2,270.5h0M92.3,264h0M81,252.3h0M91.4,263.9h0M107.9,295.7h0M85.5,245.3h0M121.9,287.5h0M73.8,246.8h0M85,261.3h0M90.6,267.4h0M88.4,215.9h0M88.9,275.4h0M88.2,245.9h0M89.4,263.1h0M90.1,281.1h0M89.2,269.4h0M101.3,253.2h0M102,271.2h0M92.9,254.6h0M92.8,272.4h0M88.8,282.7h0M86.8,229.7h0M92.4,288.3h0M91.2,256.1h0M105.2,285.7h0M82.2,229.8h0M110.3,286.4h0M99.1,266.1h0M89.9,256.2h0M82,244.6h0M98.5,277.6h0M84.3,262.3h0M75,227h0M83.6,242.7h0M84.1,244.1h0M108.7,291.2h0M79.9,261.7h0M90,281.4h0M90,291.9h0M86.1,253.2h0M92,283.6h0M93.5,293h0M93,280.2h0M81.3,218.4h0M112.8,267h0M75.9,241.6h0M93.5,256.5h0M105.3,281.7h0M143.1,298.6h0M96.2,275.9h0M90.1,283.9h0M95.5,271.2h0M100.9,287.4h0M82.9,256.1h0M112.4,269h0M90.3,252.8h0M81.2,261h0M83.6,274.7h0M112.6,303h0M84.3,248.1h0M89,237.7h0M93.6,260h0M87.2,204h0M103.3,293.5h0M83.2,269.1h0M81.3,253.2h0M102,288.2h0M113.9,275.9h0M81.5,263.6h0M83.8,279.2h0M89.4,272.6h0"/>
<path d="M96.1,284.8h0M79.8,203.1h0M106.5,259.3h0M98.6,257.2h0M80.1,257.8h0M93.5,257h0M88.7,281.4h0M91.8,249.9h0M96.4,277.6h0M84.6,260h0M87.6,232.3h0M101.7,291.6h0M96.8,277.4h0M92.1,271.5h0M80.6,261.2h0M93.5,273.4h0M83.7,279.6h0M104.7,258.2h0M104.6,285.9h0M81.1,244.4h0M81.8,225.1h0M96.6,226.3h0M84.3,272.9h0M89.3,234.5h0M125.4,276.4h0M94.5,287.4h0M89,275.2h0M94,290.2h0M84.3,262.5h0M93.5,294.2h0M80.9,281.7h0M103,282.3h0M86.2,265.2h0M88,278.5h0M95.1,273.5h0M94.3,283.2h0M102.5,284.7h0M81.7,288.8h0M108.7,273h0M96.4,257.6h0M92.4,272.3h0M101.1,252.1h0M88.4,281.4h0M102,240.2h0M104.5,278.7h0M97.1,247.4h0M79.5,231.4h0M95.3,250.7h0M92.1,237.3h0M82.7,254.4h0M88.9,246.1h0M95.1,300.7h0M94.5,275.1h0M109.5,265.9h0M86.7,256h0M108,284.5h0M92.2,296.1h0M85.7,264.4h0M83.2,262.6h0M92.4,281.3h0M90.8,257.7h0M93.5,279.2h0M101.3,290.3h0M92.5,281.7h0M88.5,290.3h0M90.6,265.6h0M91.4,266.4h0M105.5,275h0M76.3,261.3h0M91.4,272h0M89.8,285.9h0M87.6,262h0M98.9,229.5h0M97.4,276.2h0M84,292.2h0M102.2,258h0M95.2,273h0M89.7,251.9h0M85.6,237.2h0M96.8,265.1h0M95,262.4h0M98.5,276.5h0M92.9,276.5h0M84.9,206.3h0M91.5,239.3h0M92.1,283.2h0M99.6,271h0M90,279h0"/>
<path d="M102.4,289.3h0M100.2,252.8h0M131.7,301.5h0M115.3,266.4h0M95.4,258.8h0M96.4,237.8h0M104.3,288.4h0M84.5,276.8h0M90.8,261.7h0M96.1,270.7h0M100.9,249.7h0M87,281.6h0M105.8,292.7h0M83.4,274.7h0M111.3,309.3h0M108.8,267.9h0M90.7,268.9h0M107.6,287.6h0M83.6,262.7h0M84.9,219.2h0M103.5,265.4h0M93.6,266.2h0M100,276.7h0M92.9,277.5h0M99.6,277.6h0M89.4,262.4h0M88.5,283.8h0M106.1,261.4h0M106.8,298.8h0M80.1,220.5h0M96.8,232.9h0M80.5,237.4h0M77.8,292.7h0M97.4,265.7h0M81.6,244.7h0M94.1,295.5h0M86.9,270.4h0M80.5,265.5h0M96.9,278.3h0M99.8,268.1h0M91.2,269.1h0M87.1,255.2h0M87,296.7h0M99,247h0M87.5,283.5h0M87.8,274.1h0M90.5,242.9h0M95.3,289.5h0M88.7,268.4h0M75.5,222.3h0M100.4,217.8h0M103.5,280.5h0M90.2,262.7h0M105.9,252.8h0M95.6,288.3h0M83,257.1h0M95.2,276.6h0M118.8,243h0M101.9,256.7h0M94.5,287.9h0M101.7,281.8h0M94.3,262.8h0M90.3,277h0M98.8,295.8h0M101.1,234.7h0M103.4,282.4h0M88.6,291h0M100.9,308h0M105.8,279.4h0M81.9,229.2h0M117.8,286.2h0M89.4,260.3h0M80.7,235.2h0M89.3,277.4h0M89.3,251.7h0M89.4,268.9h0M92.7,276.6h0M82.2,249.8h0M101.8,274.6h0M98.9,254.4h0M92.7,250h0M111.5,280.8h0M89,268.5h0M79.9,246.1h0M119.1,284.4h0M92.5,264.2h0M89.2,262.7h0M80.6,263.9h0"/>
<path d="M88.7,296.1h0M95.2,279.1h0M84.1,269.6h0M121.3,296.7h0M96.1,259h0M83.8,224.3h0M91.9,274.6h0M92.6,289.7h0M101.3,275.2h0M88.7,265.3h0M79.1,272.4h0M77.6,254.4h0M102.8,266.4h0M81,251.4h0M117.6,285h0M77.6,207.6h0M85,289.6h0M82.6,277.9h0M107.2,297.8h0M87.5,255.5h0M88.3,280.7h0M108,291.8h0M101.6,259.3h0M103.5,267h0M90,259.2h0M77.4,271.2h0M86.9,246.6h0M98.1,273.5h0M83.8,275h0M90.5,290.9h0M107.6,289h0M90.2,284.8h0M98.8,275h0M112,303.1h0M78.4,278.1h0M83.6,253.3h0M86.6,271.5h0M89.7,259.4h0M94.8,284.2h0M89.7,256.4h0M83.2,261.3h0M93,260.2h0M79.9,230.3h0M84.5,241.8h0M86.3,213.5h0M102.3,277h0M112.8,256.4h0M108.6,261.1h0M85.8,290h0M91,271h0M85.2,277.7h0M92.7,262h0M128.5,289.5h0M86,261.4h0M95.3,251h0M85.5,272.5h0M91.9,252.3h0M93.3,275.2h0M88.9,243.5h0M83.6,246.2h0M80.7,270.6h0M92.2,264.8h0M93.3,255.4h0M99.6,295.7h0M85.6,260.6h0M82.1,285.3h0M99.5,280.2h0M91.8,275.6h0M79.7,258.9h0M99.8,249.8h0M89.2,261.8h0M94,279.6h0M85.3,268.8h0M95,274.3h0M97.9,280.3h0M83.2,232.2h0M98.4,272.5h0M84.7,264.6h0M115.7,270.3h0M113.6,285.9h0M98.9,271.4h0M97.4,251.2h0M102,260.7h0M103.4,271.1h0M94.9,283.9h0M109.1,283.8h0M98,270.8h0M81.7,226.8h0"/>
<path d="M84.2,283.6h0M89.7,265.3h0M85.3,247h0M84.1,250.8h0M93.5,233.6h0M80.3,263.4h0M93.4,253.5h0M133.5,293.8h0M89.4,273.3h0M84.2,265.3h0M86.9,235.3h0M89.6,293.6h0M99.6,274.6h0M81.7,277.2h0M83.3,240h0M79,203.3h0M87.8,275h0M108.2,276.2h0M82.2,252.3h0M96.5,237.5h0M79.1,244.2h0M83.4,243h0M98.6,263.8h0M89.5,258h0M79,264.8h0M95.4,282.9h0M112.7,267.5h0M129.7,234.4h0M112.9,284h0M81.7,218.6h0M117.9,299.7h0M111.1,270.2h0M80.1,244.3h0M105.7,290.9h0M86.1,270.9h0M82,249.9h0M86.4,243.8h0M83,259.4h0M81.5,248.3h0M109.9,276.2h0M79.9,243.8h0M103.2,274.3h0M88.2,263.7h0M86.8,217.5h0M89.5,250.9h0M89.5,293.8h0M102.6,229.8h0M103.9,287.3h0M97.5,290.3h0M95.6,257.2h0M86.8,250.9h0M113.4,262.2h0M93.5,287h0M89.2,262.4h0M91.1,275.8h0M108,287.4h0M78.8,232.5h0M82.3,242.7h0M99,296.7h0M89.4,271.9h0M85.9,281.6h0M86.2,292.7h0M104.4,278.2h0M78.5,231.2h0M75.7,243.4h0M91.6,248h0M82.2,279.7h0M96,269.5h0M89.1,209h0M79.3,246.9h0M107.2,280.6h0M91.2,247.5h0M88.3,259h0M129.6,295.1h0M85.8,242.9h0M86.6,264.2h0M86.8,259.5h0M83.8,263.8h0M94.7,246.9h0M100.5,279h0M108.7,286.3h0M93,285.8h0M78.7,239h0M92.9,282.6h0M106.7,262.2h0M90.5,278.2h0M80.5,238.1h0M104.3,276.6h0"/>
<path d="M94,269.9h0M82.9,272.7h0M96.7,263.4h0M94.4,277.4h0M101.8,299h0M88.6,267.4h0M96.1,241.2h0M105.7,278.6h0M92.6,280.9h0M90.2,279.3h0M91.9,262.1h0M83.1,221.7h0M79.9,258.2h0M83.5,247.3h0M113.6,285.2h0M81.9,222.3h0M110.4,299.9h0M92.2,285h0M84.7,287.3h0M98,273h0M89.2,269.9h0M87.1,276h0M83.5,271.6h0M95.9,264.7h0M81.4,270.8h0M88.2,262.8h0M97.9,247.5h0M108.1,278.5h0M86.1,250.1h0M90.1,268.7h0M90.1,258.9h0M88.8,269.9h0M87.5,266.9h0M108.4,266.3h0M81.9,281.1h0M92.8,243.2h0M91.8,260.5h0M85.1,277h0M96.4,291.7h0M83.1,228.4h0M100.6,290.9h0M120.2,280.9h0M109.4,294.3h0M110.7,302.2h0M81.2,257.6h0M85.8,277.3h0M106.7,273.8h0M86.3,244.2h0M103.7,275h0M97.9,262.1h0M95.6,285.2h0M100,272.1h0M90.3,256.1h0M86.5,258.3h0M108.6,284.8h0M95,246.3h0M93.6,286.6h0M82.6,288.6h0M85.9,280.3h0M85.1,288.8h0M77.7,255.5h0M84.6,289h0M87.1,262.4h0M95.9,268.8h0M81.3,268.9h0M105.3,293.5h0M103.7,260h0M101.5,288.7h0M105.6,289.9h0M85,281.2h0M111.7,262.5h0M96.7,282.2h0M98.6,213.7h0M106.7,291.6h0M80.5,218.2h0M94,284.6h0M103.6,293.2h0M91.5,248h0M84.9,235.4h0M97.4,276.8h0M91.2,265.1h0M107.2,271.9h0M104.2,288.8h0M93.9,271.9h0M104.3,282.8h0M83.3,253h0M86,275.1h0M77,233.6h0"/>
</g>
<polygon points="177.4,293.1 177.1,290.8 176.1,288.1 174.4,285.2 172.1,282 169.3,278.4 166.1,274.6 162.5,270.6 158.5,266.2 154.4,261.8 150.2,257.1 145.9,252.5 141.7,247.9 137.5,243.3 133.5,239.1 129.7,235.1 126.1,231.7 122.8,228.7 119.7,226.4 116.9,224.8 114.3,224 112,223.9 110,224.7 108.3,226.2 106.8,228.4 105.5,231.3 104.5,234.7 103.7,238.6 103.2,242.8 102.8,247.3 102.7,251.9 102.8,256.6 103.2,261.2 103.7,265.7 104.5,270 105.5,274.1 106.8,278 108.3,281.6 110,284.8 112,287.8 114.3,290.5 116.9,292.8 119.7,294.9 122.8,296.7 126.1,298.3 129.7,299.6 133.5,300.7 137.5,301.5 141.7,302.2 145.9,302.6 150.2,302.8 154.4,302.8 158.5,302.6 162.5,302.2 166.1,301.6 169.3,300.8 172.1,299.7 174.4,298.5 176.1,296.9 177.1,295.2" fill="#D95F02" fill-opacity="0.2" stroke="none" filter="url(#bl)"/>
<polygon points="163.6,289.7 163.3,287.7 162.6,285.6 161.5,283.2 160,280.7 158.1,277.9 155.9,275 153.4,272 150.7,268.8 147.8,265.5 144.8,262.2 141.7,259 138.6,255.7 135.6,252.6 132.6,249.8 129.7,247.1 126.9,244.8 124.3,242.9 121.9,241.4 119.6,240.3 117.6,239.8 115.7,239.7 114,240.2 112.6,241.2 111.3,242.7 110.2,244.5 109.3,246.8 108.7,249.4 108.2,252.3 107.9,255.3 107.8,258.6 107.9,261.8 108.2,265.1 108.7,268.4 109.3,271.6 110.2,274.7 111.3,277.6 112.6,280.4 114,282.9 115.7,285.3 117.6,287.5 119.6,289.5 121.9,291.2 124.3,292.7 126.9,294.1 129.7,295.2 132.6,296.2 135.6,296.9 138.6,297.5 141.7,297.9 144.8,298 147.8,298.1 150.7,297.9 153.4,297.5 155.9,297 158.1,296.3 160,295.4 161.5,294.2 162.6,292.9 163.3,291.4" fill="#D95F02" fill-opacity="0.38" stroke="none" filter="url(#bl)"/>
<polygon points="151.4,285.9 151.3,284.5 150.9,282.9 150.2,281.2 149.3,279.4 148.1,277.5 146.8,275.4 145.2,273.4 143.5,271.2 141.7,269.1 139.8,267 137.8,264.9 135.7,262.9 133.7,260.9 131.7,259.2 129.7,257.6 127.8,256.2 126,255 124.2,254.1 122.6,253.5 121.1,253.2 119.7,253.2 118.4,253.5 117.3,254.1 116.3,254.9 115.5,256 114.8,257.4 114.3,259 113.9,260.7 113.7,262.6 113.6,264.6 113.7,266.7 113.9,268.8 114.3,271 114.8,273.1 115.5,275.2 116.3,277.2 117.3,279.1 118.4,281 119.7,282.7 121.1,284.3 122.6,285.8 124.2,287.1 126,288.3 127.8,289.3 129.7,290.2 131.7,291 133.7,291.6 135.7,292 137.8,292.3 139.8,292.5 141.7,292.5 143.5,292.3 145.2,292.1 146.8,291.6 148.1,291 149.3,290.3 150.2,289.4 150.9,288.4 151.3,287.2" fill="#D95F02" fill-opacity="0.5" stroke="none" filter="url(#bl)"/>
<g stroke="#D95F02" stroke-opacity="0.08">
<path d="M130,268.1h0M106.1,270.7h0M117.1,226.5h0M121.6,277.2h0M131.4,298.6h0M117.5,288.9h0M115.4,267h0M106.6,207.9h0M130.6,289.4h0M150,277.2h0M152.6,265.1h0M169.5,287.7h0M120.2,256.2h0M152.7,305.1h0M144.1,278.3h0M103.9,267.2h0M124.2,279.9h0M164.2,301.7h0M147.8,277.4h0M183.1,277.8h0M147.1,267.7h0M141.5,288.9h0M117.7,270.4h0M121,263.5h0M141.1,291.5h0M133.4,289.1h0M120.1,283.7h0M123.7,277.9h0M129.2,274.9h0M121.7,262.6h0M139.5,295.9h0M168.3,294.7h0M119.3,253.3h0M107.4,269.2h0M131.1,275.6h0M131.2,281.8h0M110.6,261.4h0M165.8,294.9h0M115.5,256.5h0M107.3,279h0M129.3,276.5h0M149.8,292.6h0M173.3,274.9h0M134.7,276.7h0M114.2,245h0M139.1,292.1h0M172.6,264.3h0M130,261.7h0M113.5,267.4h0M128,240.6h0M106.4,254.1h0M115.8,261.9h0M114,268.2h0M136.9,266.7h0M142.5,290.9h0M159.8,301.4h0M114.4,252.5h0M180.2,287.1h0M119.4,287.8h0M110,284.2h0M110.6,289h0M109.5,285.3h0M108,229.3h0M105.6,263.5h0M117.4,255.2h0M119,269.5h0M114.4,270.6h0M164.3,267.5h0M122.7,274.2h0M160.7,300.2h0M134.7,297h0M167.4,284.6h0M151,254.6h0M103.9,247.4h0M112.4,276h0M189.4,286h0M132.8,266.8h0M140,299.3h0M108,232.1h0M133.1,273.3h0M116.9,268.1h0M107.6,247.4h0M149.5,301.3h0M133.1,265.5h0M130.9,282.8h0M109,261.4h0M134.3,265.7h0M128.8,247.1h0M162.6,254.6h0"/>
<path d="M159.9,293.8h0M130.5,249.1h0M149.6,245.2h0M123.5,281.6h0M125.8,264.5h0M139.9,255.6h0M145.3,287.4h0M126.2,273.8h0M127.6,272.2h0M155.9,288.4h0M124.8,270.9h0M126,275.2h0M121.1,254.2h0M152.7,284.5h0M112.7,244.8h0M109.1,284h0M173.8,303.4h0M142.6,270.2h0M126.6,251.5h0M130.9,269.3h0M123.1,227.5h0M142.2,286.7h0M113.4,294.3h0M153.2,281.8h0M143.2,289h0M142,280.5h0M128.6,282.3h0M143.8,270.2h0M138.6,265h0M124.1,264.5h0M119.4,244.4h0M105.4,268.2h0M154,267.8h0M138.2,276.5h0M130.5,283.8h0M125.3,266.3h0M130.7,294.4h0M107,246.4h0M171.2,269.7h0M134.5,276.8h0M98.7,248.8h0M141.6,282.1h0M149.9,298.8h0M168.2,293.9h0M140.3,280.1h0M130.4,248.7h0M119,280.3h0M136.8,288.8h0M167.1,278.4h0M155.4,301.4h0M112.9,265.1h0M134.9,286.4h0M113.7,286.3h0M133.1,276.7h0M143.6,269.3h0M152.9,287.5h0M129,254.5h0M134.8,276h0M129.5,271.4h0M126.9,286.2h0M114.5,270.1h0M119.2,285.1h0M127.9,280.2h0M123.5,293.5h0M130.6,248h0M157.9,286.9h0M134.9,283.7h0M139.7,285.1h0M132.5,247h0M161.9,266.5h0M107,254.4h0M140.8,290.5h0M119.6,284.5h0M127,263.8h0M98.8,254h0M97.9,248.7h0M151.4,282h0M120,276.6h0M104.8,252.6h0M137.7,290.8h0M136.2,290.7h0M126.4,259.9h0M116.8,275.7h0M122.7,248.4h0M127,300.6h0M109.9,252h0M123.6,283.4h0M109.4,281.9h0M118.8,255.5h0"/>
<path d="M147.5,286.6h0M123.8,255.6h0M172.5,281.8h0M142.6,283.8h0M147.3,299.4h0M134.3,296.1h0M155.6,275.8h0M110,257.3h0M129.7,294.7h0M120.8,294.4h0M113.9,283.9h0M123.6,280.5h0M138.5,270.3h0M159.7,280.8h0M120,276.5h0M122.3,257.1h0M125.8,279.4h0M117.3,262.7h0M186.3,287h0M124.4,285.3h0M155.4,289.5h0M118.7,276.3h0M119.5,263.7h0M137,250h0M121.9,277.1h0M93.6,266.3h0M140.8,264.6h0M120.3,253.4h0M107.8,265.6h0M109.5,251.8h0M140,272h0M154.2,296.8h0M118.6,288.7h0M103.5,241.1h0M180.8,288.8h0M100.1,246.8h0M110.3,263.4h0M191.8,292h0M108.4,244.4h0M112,231.2h0M159.2,288.1h0M124,255.8h0M113.7,258.1h0M136.3,296.4h0M160.8,299.9h0M109.3,257.1h0M124.7,284.9h0M125.1,287.1h0M172.9,291.4h0M166.3,304h0M105.9,253.8h0M140.1,264.1h0M126.8,263.8h0M134,293.6h0M115.7,265.8h0M147.4,281.6h0M159.7,291.5h0M116,269.9h0M121.3,243.2h0M127.5,274.2h0M135.8,279.5h0M140.1,294.4h0M158.1,289h0M119.6,267.3h0M127.6,241h0M112.1,262.5h0M109.4,269.3h0M119.8,252h0M133,272.1h0M140.3,288.8h0M114,232.2h0M142.2,282.4h0M111.7,256h0M129.4,265.9h0M157.5,298.6h0M123.9,243.6h0M122.7,254.7h0M138.3,272.6h0M125.6,273.8h0M120.1,275.1h0M116.7,233.9h0M172.6,277.6h0M124.6,261.8h0M125.9,289.1h0M114.3,268.2h0M125.5,270.5h0M141.6,288h0M102.1,243.5h0M115.6,272.8h0"/>
<path d="M146.5,285.5h0M119.4,292.8h0M111.6,273.3h0M143.3,287.2h0M136.8,264.4h0M110.3,231.5h0M141,288.8h0M112.4,232.6h0M124.1,254.7h0M121.7,248.5h0M119.6,274h0M134.6,286.5h0M114.2,282.2h0M122,272.7h0M135.1,298.5h0M152.9,255h0M136,295.8h0M108.1,264.5h0M172.8,307.8h0M161.3,274.4h0M132.4,285.2h0M104.8,269.9h0M128.8,294.5h0M149.9,302.3h0M131.1,229.9h0M122.2,272.1h0M122.7,297.4h0M96.6,207.3h0M104.6,239.3h0M152.6,302.8h0M118.4,296.1h0M116.7,265h0M106.4,270.8h0M123.1,264.7h0M136.6,298.1h0M103.8,273.9h0M119.9,230.7h0M110.7,280.4h0M115.6,303.6h0M163.9,282.9h0M115.5,265.1h0M166.8,297.1h0M153,291.8h0M121.3,279.9h0M129.6,259.3h0M142.6,291.7h0M103.5,255.7h0M133,283.3h0M126.8,285.3h0M151.3,292.3h0M126.7,276.6h0M134.6,300.7h0M147.3,277.1h0M137.5,270.8h0M115.5,261h0M137.9,277.8h0M125.4,252.9h0M111.6,288.8h0M165.8,250h0M145.3,272h0M139.5,295.1h0M105.8,249.6h0M140.2,273.4h0M129.2,292h0M145.3,285.4h0M131.7,277.2h0M121.5,284.1h0M125.8,271.6h0M120.7,282.9h0M156.4,282.5h0M145,276.5h0M96.6,263.6h0M107.4,254h0M124.8,267.8h0M136.1,302.1h0M151.1,290.8h0M146.2,285.8h0M125.2,246.4h0M139.5,290.9h0M145.8,286.3h0M137.4,265.4h0M132,293.4h0M122.9,245.8h0M158.3,292.8h0M117.4,260.2h0M147.6,280.1h0M116.5,266h0M114.3,259.9h0M132.4,286.4h0"/>
<path d="M118,268.8h0M117.8,218.1h0M128.3,272h0M160,272.9h0M158,273.9h0M111.6,289.3h0M139.6,302.6h0M119,281.4h0M135.8,271.3h0M113.5,260.1h0M123.4,251.8h0M148.1,297.6h0M104.2,216.2h0M103.8,262.2h0M118.7,245.8h0M154.1,281.8h0M110.4,210.6h0M131.1,272.4h0M131.3,298.1h0M139.3,283.6h0M146.7,280h0M133.1,283.9h0M143.5,236.4h0M139.7,288.3h0M117.2,241.4h0M111.4,258.2h0M163.9,297.1h0M126.5,290.5h0M123.5,263.2h0M176.3,297.5h0M120.2,260.2h0M142.3,270.3h0M118.3,279.8h0M190.5,295.3h0M112.1,234.1h0M146.9,301.8h0M120.3,279.3h0M125.5,272.1h0M136.2,256.8h0M167.9,288.9h0M147.6,265.8h0M111.2,240.8h0M127.8,279.3h0M126,274.2h0M137.6,274.3h0M153.7,277.1h0M129.8,262.1h0M163.4,288.3h0M168.8,247.9h0M129.5,281.2h0M101.4,251h0M130.9,284.3h0M122.7,279.2h0M183.3,297.3h0M135.1,279.9h0M126.1,302.3h0M126.1,290.3h0M117.5,278.5h0M154.1,283.1h0M131.1,267.7h0M120.4,278.7h0M123.9,243.4h0M120.7,253.2h0M140.1,284.3h0M149.4,296.8h0M104.8,227h0M143.6,292.3h0M127,266.2h0M121.3,264.5h0M128.2,290.7h0M129.9,275.1h0M141.2,290.7h0M142,292.8h0M114.6,246.9h0M128,291.9h0M176.9,303.6h0M123.3,268.9h0M129.6,269.6h0M133.5,273.5h0M119.2,274h0M161.6,265.9h0M103.7,239.8h0M116.7,294h0M135,290.4h0M141.9,262.4h0M120.5,276h0M118,236.6h0M122.1,267.7h0M126.7,296h0"/>
<path d="M118.3,301.8h0M119.8,264h0M148.2,264.1h0M102.8,268.9h0M118,275.1h0M124.3,259.7h0M122.5,255.6h0M122.8,276.8h0M117.1,275.1h0M124,284.7h0M130.5,279.8h0M163.8,287.9h0M122.1,264.5h0M132.2,281.3h0M107.4,279.1h0M142.4,273.7h0M149.7,273.1h0M162,301.8h0M140.7,282.9h0M120.3,296.6h0M116.9,250.3h0M110.5,277.2h0M113.5,267.1h0M165.9,300.5h0M123.9,225.4h0M159.5,279.2h0M149.7,301.7h0M160.2,292.4h0M136.2,240.6h0M117.1,267.9h0M128.2,296.6h0M109.5,272.4h0M136.2,296.5h0M155.5,307.6h0M131.9,249.7h0M112.4,243.3h0M97.8,234.5h0M116.1,282.2h0M140.2,302.6h0M155.3,284.8h0M127.2,254.2h0M105.7,274.2h0M144.6,262.4h0M156,299.7h0M130.7,297.6h0M134.2,274.6h0M170.5,304.1h0M120,252.6h0M146.5,265.3h0M136.5,269.6h0M108.6,274.6h0M188.4,292.3h0M111.6,244h0M131.8,262.7h0M182.9,254.2h0M112.4,263.1h0M120.5,284.7h0M134.2,243.4h0M131.8,269.8h0M140.9,286.3h0M125.5,254.4h0M128.4,275.2h0M125.2,290.6h0M108.7,274.3h0M131.6,254.8h0M152.3,270.5h0M130.9,294.7h0M94.1,266.8h0M110.4,279.9h0M120.7,281.5h0M153.4,302.9h0M105,264.2h0M123,264.7h0M130.3,284.5h0M132.9,258.3h0M158.1,296.2h0M132.1,271.4h0M112.6,268.2h0M127.7,272.5h0M151.3,281.9h0M132.1,295.1h0M111.2,231.8h0M152.2,257.9h0M145.6,258.6h0M155,281.7h0M117.7,247h0M151.7,300.9h0M109.8,260.7h0M158.9,287.4h0"/>
<path d="M118,284.3h0M132.1,289.3h0M141.9,289.2h0M135.2,267.7h0M136.8,294.8h0M158.3,306.5h0M183.3,288.9h0M133,291.1h0M188.5,304.5h0M121.7,279.9h0M131.3,273.9h0M112.9,243.3h0M123.5,284.6h0M133,264.4h0M132.3,294.8h0M156.7,276.9h0M127.3,280h0M147.5,293h0M136.2,283.4h0M134.1,278.9h0M175.4,304.7h0M153.8,307.4h0M109.9,254.5h0M126.8,270.3h0M145.4,225.3h0M150.4,284.5h0M165,302.3h0M114.3,247.8h0M160.2,297.6h0M144.8,286.3h0M151.7,279.4h0M138.6,303.1h0M125.5,225.7h0M142.6,292.8h0M120.6,245.6h0M136.4,294.3h0M111.2,290.4h0M131.9,285.8h0M132.6,285.2h0M188.4,278.6h0M126.2,280.7h0M109.7,227.5h0M137.4,285.6h0M138,283h0M147.7,262.9h0M141.1,283.1h0M112,268.8h0M116.5,258.8h0M113.1,244.1h0M130.9,286.5h0M116.6,220.4h0M130.2,272.5h0M115.3,294.3h0M157.5,266.6h0M104.5,229.5h0M150.6,286.3h0M136.3,296.8h0M157.4,285h0M121.5,289.7h0M164.2,297.5h0M114,245.1h0M107.3,264.3h0M144,296.6h0M117.1,237.7h0M122.6,280.3h0M109.1,209.9h0M147.5,276.2h0M143.4,278.8h0M121,246.8h0M193.7,310h0M129.8,263.9h0M119.7,257.7h0M129.9,262.7h0M134.6,291.4h0M157.8,301.5h0M122.1,281.3h0M135.3,300.3h0M140.7,278.6h0M116.2,253.6h0M171.2,302.4h0M128.9,284.8h0M126.5,300.1h0M168.3,273.7h0M106.6,259.2h0M165.6,282.5h0M120.7,248.3h0M164.7,299.6h0M106.5,252.8h0M153,293.6h0"/>
<path d="M154.5,254.7h0M143,278.7h0M151.5,285.9h0M125.9,290.7h0M121.1,261.1h0M118,277.5h0M124.3,280.6h0M113.4,219.1h0M118,282h0M179.6,283.4h0M115.2,237.7h0M125.3,281h0M146.3,283.8h0M134.3,286.2h0M122.3,279.4h0M121.8,288h0M125,275.5h0M164.6,297.3h0M136.7,296.9h0M136.5,253.1h0M133.9,266.5h0M131.7,298.5h0M152.7,281.1h0M114,243h0M122.2,275.2h0M131.9,274.4h0M108.6,251.3h0M142.6,280.7h0M118.4,270.1h0M127.6,284.5h0M147,271.9h0M134.9,299.5h0M118.1,275.4h0M141.1,286h0M119.3,229.1h0M143.7,287h0M136.3,293.8h0M140.6,282.7h0M168.4,267.2h0M146.9,271.6h0M140.1,284.3h0M157.2,298.4h0M131.2,275.6h0M117.4,258.4h0M107.5,249.3h0M154.5,291.9h0M123.9,246.5h0M178.2,297h0M149.9,287.6h0M131.5,289.4h0M149.3,302.4h0M129.3,282.9h0M111.1,264.2h0M133.8,291.1h0M105.7,243.6h0M122.2,249.7h0M140.1,252.9h0M130.7,287.3h0M142,275.9h0M112.7,288.3h0M121.2,261.7h0M155.3,278h0M165.4,296.7h0M123.4,283.8h0M168.2,290.4h0M111.9,251.7h0M117.8,262.2h0M124.6,269h0M168,293.3h0M125.4,241.9h0M140.6,285.2h0M148.1,256.1h0M169.1,273.5h0M130.3,288.9h0M123.1,236.1h0M169.7,270.1h0M97,214.7h0M121.8,289.7h0M128.5,298.3h0M147.5,267.4h0M139.3,282.4h0M112.5,270.7h0M114.5,250.9h0M142.9,292.5h0M118.5,264.3h0M143.8,272.5h0M136.4,253.1h0M121.8,278.2h0M134.3,232.1h0"/>
<path d="M157.2,287.2h0M116,264.6h0M159.1,297.3h0M112.7,265.3h0M111.4,269.4h0M140.9,297.8h0M133.8,281.6h0M119.7,286.1h0M143.4,282.2h0M160.9,296.7h0M119.8,284.9h0M100.3,260.1h0M118.3,265.4h0M121.8,272.8h0M134.3,259.9h0M115,253.7h0M124.4,257.8h0M123.9,246.4h0M152.3,274.9h0M126.4,272.8h0M143.8,286.1h0M129.3,291.8h0M140.4,300.9h0M119.7,272.3h0M146.6,279h0M132.7,285.8h0M169.5,292h0M123.9,293.9h0M114.7,282.7h0M141.1,279.4h0M93.6,234.3h0M100.5,267.9h0M116.9,271.7h0M125.6,270.6h0M112.6,287.8h0M128.3,277.3h0M101.1,250.6h0M192,295.6h0M175,301.1h0M164.8,288.4h0M171.2,296.9h0M131.7,293.1h0M136.4,245.4h0M156.9,295.9h0M116,243.2h0M141.6,295.2h0M118.1,229.6h0M122.3,260.7h0M144,278.3h0M145.7,270.1h0M140.9,278h0M155.2,273.1h0M105.3,233h0M129.1,277.5h0M140.8,271.1h0M133,281.8h0M116,281.7h0M157.2,298.3h0M135.3,280.7h0M128,283.3h0M137,267.6h0M125,286.4h0M125.2,251.3h0M106.4,257.5h0M115.6,278.7h0M126.8,266.1h0M122,297.7h0M145.1,277.8h0M126.7,297.3h0M157.9,236.1h0M131.8,275.7h0M106.4,280.2h0M108.9,290.8h0M167.7,290.8h0M109.4,258.9h0M167.6,279h0M156.9,272.2h0M154.5,288.9h0M129.9,253.2h0M131.7,276.9h0M113.2,289.6h0M131.9,289.1h0M165.3,291.2h0M118,269.6h0M114.1,239.6h0M126.7,286.3h0M118.4,271h0M119.9,260h0M125.9,282.5h0"/>
<path d="M112.8,230.2h0M174.9,282.3h0M104.1,265h0M147.2,279.8h0M104.1,260.4h0M117.9,263.1h0M137.1,268.5h0M127.2,292.8h0M161.3,297.5h0M108.5,280.3h0M182.1,301.3h0M123.7,286.9h0M124.4,274h0M137.8,275.3h0M146.5,298.7h0M177,272.8h0M127.4,274.8h0M131.7,277h0M115.5,255.9h0M98.1,258.2h0M117.3,257h0M131.7,306h0M145.9,256.5h0M130.7,224.9h0M126.9,302.9h0M131.5,274.9h0M123.1,276.4h0M107.6,258.8h0M115.8,253.7h0M133,254.4h0M156.6,291.5h0M118.3,272.3h0M114.3,271.7h0M119.3,258.4h0M144.9,296.8h0M152.3,281.3h0M108.9,238h0M156.1,291.7h0M180.1,307.3h0M150.4,306.8h0M128.3,266h0M119.8,261.8h0M122.7,267.1h0M108.2,224h0M119.6,292.6h0M127.7,276.1h0M125.7,286.1h0M135.2,265.4h0M133.2,283.3h0M154.8,297.6h0M123.5,247.6h0M172.2,297h0M121.9,242h0M116.4,276.1h0M134.5,304.8h0M109.3,259.5h0M132.4,269.8h0M127.4,288h0M129.4,292.2h0M137.8,258.9h0M162.1,268.9h0M107,262.8h0M131.9,273.9h0M125.8,243.2h0M127.2,293.9h0M140,228.5h0M127.5,282h0M95,226.9h0M114.6,234.3h0M116.6,265.2h0M140.3,278.6h0M192.8,275.9h0M100.4,243.1h0M149.8,295.1h0M153.6,284.5h0M124,264.8h0M140.9,269.4h0M106.9,238.7h0M127.6,265.9h0M141.6,291.2h0M118.9,266.8h0M116.2,252.3h0M152.6,305.3h0M169,275.1h0M142.1,300.3h0M129.7,279.9h0M154.1,300.6h0M118,235.2h0M129.2,285.3h0"/>
<path d="M109.5,271.5h0M161.8,277.4h0M143.7,299.2h0M109.3,238h0M127.9,284.3h0M137.4,291.5h0M124.4,267.4h0M133.1,295.3h0M125.8,290.2h0M145.8,278.8h0M123.8,241.5h0M148,299.8h0M119.6,279.5h0M112.2,266.1h0M120.1,269.7h0M138.1,263.5h0M142.6,279.8h0M117,282.9h0M109.4,229.7h0M132.9,276.6h0M118.2,261.1h0M145.3,294.5h0M124.5,282.1h0M116.1,282h0M133.1,275.9h0M128.5,272.8h0M118.7,272h0M124.6,253.3h0M117.3,252.9h0M128.3,292.9h0M130.9,279.7h0M141.7,282.2h0M113,278.5h0M179.1,299.6h0M121.1,271.5h0M119.6,283.7h0M114.7,247.7h0M118.1,271h0M128.1,277.9h0M149,275.2h0M120,263.5h0M125.8,297.1h0M117.7,289.1h0M100.6,267.7h0M151.3,267.8h0M105.8,254.1h0M117.6,293.8h0M127.7,277.3h0M120,277.4h0M130.8,208.5h0M133.9,299.4h0M114.6,255.1h0M117.6,257h0M130.2,304h0M114.3,280.1h0M138,283.4h0M169,306.7h0M101.2,260.2h0M121.4,289.3h0M119,273.1h0M140.6,284.1h0M113.7,243.3h0M139.1,282.6h0M120.9,300.2h0M177.8,299.2h0M110,285.1h0M147.2,283.9h0M144.2,281.6h0M119,260.9h0M137.5,274h0M136.9,285.5h0M120.5,299.6h0M132.1,265.8h0M114.3,261.5h0M123.4,225.8h0M131.5,278.1h0M137.7,260.4h0M152,282.4h0M111.9,270.1h0M100.2,259.9h0M110.9,260.3h0M115.4,289.2h0M123.3,269.5h0M109.2,282.7h0M125.4,272.7h0M118.2,264.4h0M163.5,286.3h0M169.7,306h0M159.2,298.7h0"/>
<path d="M131.6,297.1h0M124.9,249.3h0M105.9,224.6h0M108.5,281h0M114.6,274.5h0M119,273.7h0M146.1,296.3h0M139.7,251.1h0M148.8,278.3h0M125,257.9h0M159.5,281.5h0M142.7,296.3h0M120.2,232.2h0M146,279.7h0M110.7,213.1h0M122.6,275.3h0M143.7,237.2h0M141.9,291.1h0M157.3,283.8h0M114.6,275.4h0M144.5,286.1h0M129.2,266.9h0M108.3,230.2h0M130.6,273.4h0M125.5,281.5h0M142.8,276.9h0M126.4,282.9h0M99.3,287h0M132.9,243.6h0M149.8,264.7h0M131.3,278.1h0M150.4,278h0M119.5,248.7h0M125.7,260.4h0M123.3,273.4h0M142.4,298.2h0M149,292.9h0M133.7,285.2h0M148.6,289.4h0M148.6,282.8h0M139.5,273.7h0M113.8,242.4h0M125.9,289.5h0M114.4,283.9h0M161.9,286.6h0M115.9,266.6h0M124.3,276.1h0M143.2,295h0M99.1,241.8h0M146.2,299.6h0M125.7,296.1h0M113.4,265.7h0M122.1,238.7h0M118.2,264.7h0M148.3,265.6h0M160,300.3h0M106.3,234.7h0M135.9,282.6h0M107.4,225.5h0M137.2,288h0M148,293.6h0M137.5,257.7h0M126.4,294.2h0M135.8,287h0M141.3,285.5h0M127.8,271.1h0M153.7,298.1h0M130.4,267.2h0M117.5,276.3h0M147.5,245.4h0M153.4,296.6h0M146.1,304.8h0M161,270h0M118.2,271.8h0M155.7,299.8h0M115.2,259.8h0M132.3,292.9h0M109.8,245.4h0M121.3,244.9h0M163.7,286.1h0M114,269h0M108.5,261.4h0M142.2,292.5h0M118.8,252.3h0M146,279.5h0M128.2,232.3h0M125.8,260.7h0M146.6,259.9h0M137.1,281.6h0"/>
<path d="M158.8,292.4h0M135.2,295.2h0M114.4,276.8h0M168.1,309.9h0M120.4,285.5h0M137,277.3h0M166.9,271.8h0M146.5,270.5h0M120.4,265.9h0M104,230.2h0M120.7,251.5h0M192.8,294.8h0M182.6,299.2h0M172.5,284.3h0M116,259.2h0M144.5,292.8h0M117.1,253.6h0M127,252.9h0M138.7,247.7h0M113.1,251.2h0M105.5,269.8h0M140.7,279.1h0M159.2,266.9h0M127.3,284.3h0M157.3,286.9h0M141.5,271.6h0M165.7,292.3h0M156.8,262.4h0M108.2,263.1h0M144.1,294.9h0M163.3,298.6h0M134.5,234.2h0M97.4,237.2h0M119.3,232.5h0M125.8,280.3h0M128.2,280.4h0M149,250.3h0M131.8,282.9h0M125,301h0M135.7,280.6h0M97.3,267.5h0M100.8,214.8h0M125,281.2h0M103.2,222.9h0M142,287.9h0M117.2,232.7h0M112.7,268.9h0M144.3,276h0M129.6,257.3h0M135.5,277.9h0M101.8,219.2h0M158.8,291.6h0M172.9,287.1h0M152.2,291.7h0M133.2,254.5h0M127.9,264.3h0M151.1,301h0M151.5,262.1h0M109.5,235h0M104.8,248.1h0M130.8,275.1h0M159.8,293h0M136.4,297.2h0M142.2,300.9h0M140.6,301.9h0M139.9,273.3h0M156.4,282h0M112.5,277.3h0M127.8,272h0M105.6,268.2h0M120.8,267.1h0M120.5,227.6h0M132.8,270.3h0M114,228.2h0M165.8,275.7h0M124.5,290.2h0M124.5,269h0M136.1,286.3h0M125,247.1h0M115,267.9h0M167,291.6h0M135.7,282.9h0M178.4,288.9h0M148.4,282.8h0M149.5,282.3h0M122.5,257.3h0M124.4,285.5h0M108.3,281.7h0M141.7,289.7h0"/>
<path d="M134.4,284.7h0M164.6,286.7h0M112.5,261h0M137.6,248.7h0M114,246.6h0M114.2,282.6h0M125.8,274.6h0M134.5,291h0M113.6,244.1h0M134.3,264.8h0M135.2,275.3h0M142.7,301.6h0M95.7,229.2h0M131.3,281.8h0M144.8,286.6h0M116.4,278.5h0M108.2,278.1h0M117.3,259.8h0M123.6,282.1h0M130.8,272.1h0M158.2,290.4h0M136.8,300h0M157,273.3h0M125.4,292.7h0M133.6,276.2h0M126.8,262.3h0M141.3,275.7h0M123.2,275.3h0M145.2,269.8h0M122.6,286.2h0M117.9,259.7h0M119.5,285.1h0M138,289h0M142.6,274.5h0M118.7,260h0M108.2,277.6h0M164.1,312.9h0M118.3,232h0M163.4,267.7h0M174.9,277.6h0M115.8,261.1h0M154.1,281.9h0M138,276.8h0M126.8,281.4h0M158.5,284.2h0M145.8,283.9h0M134.7,260h0M133.3,260.5h0M124.9,273.6h0M133.6,256h0M102.8,260.5h0M153,295.6h0M147.5,286.3h0M141.1,286.5h0M121.6,283.2h0M148,251.1h0M148.6,294.3h0M141.5,277.2h0M106.3,265.1h0M125.4,281.2h0M139.7,278.8h0M134.9,284.6h0M134.7,273.1h0M142.8,252.5h0M129,245.8h0M129.7,264.4h0M132,286.1h0M178.1,289.1h0M116.3,252h0M107.4,251.1h0M125.7,262.4h0M144,260.9h0M161.9,287.8h0M131.8,290.8h0M128.4,264.1h0M162,243.9h0M159.3,290.4h0M110.7,248.7h0M100,263.3h0M113.1,252.8h0M115.1,289.2h0M133.9,289.7h0M119.1,276.7h0M183.2,296.1h0M124,248.6h0M152.7,278.9h0M140,290.4h0M146.1,288.8h0M97.6,278.8h0"/>
<path d="M142.1,292.8h0M114.6,276.5h0M139.1,272.6h0M146.8,295.8h0M112.1,236.1h0M116.3,278.1h0M158.5,299.5h0M139.2,293.1h0M116.4,251h0M117.8,263h0M117.7,284.6h0M121.2,236.1h0M140.6,282.7h0M129.8,236.5h0M130.4,288.2h0M166.6,274.5h0M100.1,268.4h0M123.7,280.2h0M119.9,276h0M186.8,298h0M119.7,244.9h0M120.6,293.4h0M119.2,303.8h0M130.3,282.5h0M118,298h0M117.4,255.5h0M140,293h0M137.4,252h0M109.6,255.2h0M139.4,293.9h0M113.3,275.3h0M128,254.7h0M135.1,283h0M128.2,260.5h0M122.8,278.3h0M102.4,250.6h0M114.1,289.4h0M141.6,256.6h0M98.6,247.6h0M112.5,278.2h0M113.9,275.8h0M130.5,294.7h0M133.8,274h0M131,287.5h0M122.9,259.9h0M160.8,285h0M151.7,273.1h0M115,250.7h0M112.4,239.1h0M114.7,264.6h0M108.4,269.7h0M146.4,292.8h0M160.5,284.6h0M124.9,267.3h0M128.1,300.6h0M126.9,288.7h0M107.6,297.4h0M153.6,258h0M115,296.3h0M104.2,273.7h0M150.2,293.5h0M132.9,285.3h0M158.6,300h0M124.7,265.1h0M154.6,290.1h0M117.2,278.4h0M118.2,268.2h0M146.8,295.1h0M155,287.1h0M118,279.5h0M118.3,224.8h0M119.9,264.9h0M154.8,294.3h0M151.1,266.7h0M128.2,285.6h0M111.5,249.1h0M128.7,279h0M113.3,267.4h0M128.3,276.4h0M121.4,238.8h0M127.3,264h0M135.2,280.1h0M120.3,288.7h0M109.6,252.3h0M128.1,292.2h0M129.9,254.2h0M127.4,289.5h0M124.9,286.7h0M111,235.5h0"/>
<path d="M138.8,260.8h0M119,291.9h0M105.4,261.7h0M159.4,292.5h0M130.3,293.8h0M177.4,290.9h0M162.9,275.2h0M144.2,241.5h0M154.2,300.9h0M135.4,282.4h0M100.7,209.9h0M116,250.9h0M115.4,261.4h0M142,291.2h0M144.9,300.6h0M108.7,271.2h0M119.8,278h0M142.3,286.5h0M108.7,243.9h0M111,243h0M150.9,302.7h0M153.9,294.6h0M137.4,294h0M124.1,271.1h0M133.7,272.9h0M167.9,288.7h0M155.1,286.6h0M129.8,258.3h0M188.7,271.5h0M119.7,253.1h0M102.2,283.5h0M109.4,263.6h0M131.4,269.4h0M158.1,292.9h0M128.2,275.3h0M126.9,296.4h0M146.5,266.9h0M134.7,291.6h0M118.8,273.1h0M106.4,250.6h0M123.5,288h0M162.2,300h0M106,286h0M125.6,287.6h0M120.8,276.9h0M130.4,251.8h0M146.7,284.1h0M115.4,283.3h0M110.6,253.4h0M138.2,299.4h0M123.7,281.7h0M124.6,282.2h0M128.9,217.7h0M155,272.7h0M120.6,289.7h0M132.6,248.5h0M106.2,281.1h0M115.1,292.1h0M173.2,259.9h0M185.3,309.1h0M115.1,260.8h0M126,268.8h0M119.8,249.2h0M133.6,279.6h0M135.1,257.2h0M138.1,285.8h0M122.9,286.6h0M115.1,263.8h0M116.4,261.9h0M123.5,254.9h0M129.5,279.4h0M128.7,270.8h0M136.6,250.9h0M165.9,281h0M127.5,279.9h0M156.9,271.6h0M146.7,297.9h0M142.2,294.1h0M132.2,274.2h0M112.9,263.8h0M121.6,240.4h0M141,300.4h0M114.1,208.7h0M127.6,285.2h0M107.5,224.8h0M154.3,300.5h0M107.2,286.3h0M114.7,251.6h0M125.8,265.4h0"/>
<path d="M140.8,257h0M119.1,282.2h0M131.5,291.8h0M109.9,265.2h0M109.3,242.6h0M148.4,296.6h0M121.5,241.9h0M129.7,288h0M153.3,286.6h0M139.9,302.8h0M118.7,276.1h0M133.7,278.6h0M130,297h0M140,281.7h0M122.5,243.4h0M119.5,267.8h0M133.2,242.5h0M149.8,273.5h0M126.5,267.3h0M136,246.4h0M118.7,264.5h0M167.7,300.2h0M153.1,291.3h0M152.8,294.1h0M158.3,293.4h0M122.1,271.5h0M156.3,294.2h0M107.6,250h0M127.3,273.6h0M129.1,267.2h0M111.5,255.8h0M113.3,260.3h0M148.6,279.7h0M118.8,284.7h0M143.1,307.4h0M169,296.7h0M134,254.4h0M121.8,300.2h0M126,274.2h0M117,265.7h0M108.9,259.1h0M129.6,268h0M148,297.8h0M120.5,262.1h0M107,275.6h0M151.7,273.4h0M103.6,271.4h0M132.3,270.3h0M160.5,288.4h0M128.5,275.6h0M149.5,299.5h0M142.2,277.8h0M133.4,230.7h0M113.9,253.4h0M135.3,271.1h0M121.6,233h0M120.5,252.1h0M125.2,277.3h0M130.7,266.3h0M175.6,310h0M150.2,280.8h0M166.6,266.5h0M131,289.5h0M132.9,275.2h0M125.3,282.5h0M153.2,301.8h0M130.1,273.5h0M116.9,275.4h0M125.3,251.4h0M130.7,268.6h0M138.7,293.3h0M98.7,242.6h0M117.3,268.2h0M132.3,226h0M125,286.9h0M137,257.8h0M104.1,271.9h0M104.4,283.2h0M131.6,289.7h0M127.6,295.7h0M120.3,289.7h0M125.6,290.8h0M181.2,251.3h0M119.2,285.3h0M107.9,238.4h0M137.4,270.5h0M142.5,288.5h0M117.8,272.5h0M141.3,251.3h0"/>
<path d="M126.8,285.4h0M113.3,282.2h0M107.1,269.5h0M161,268.5h0M126,247.7h0M109.3,252.8h0M143.9,294.6h0M133.6,280.7h0M114.8,282.5h0M118.2,271.7h0M146.5,276.9h0M168.8,298h0M132.4,248.9h0M140.5,278.3h0M144,298.5h0M125.5,270h0M134.5,283h0M147.5,287.6h0M105.8,282.4h0M107.4,250h0M129,277.3h0M154,280.9h0M156.1,287.4h0M133,287.1h0M136.5,296h0M117.5,278.1h0M158.2,275.6h0M122.9,273.8h0M131.4,279.7h0M142,263.6h0M146.8,251h0M133.1,282.7h0M119.6,250.3h0M116,256.5h0M175.8,297.8h0M156.1,302.1h0M109.6,212.8h0M118,251.7h0M121.4,270.2h0M168.1,305h0M148,289.1h0M141.4,305.2h0M129.3,293.4h0M113.4,276.3h0M156.1,278.9h0M98.1,284.2h0M161,285.2h0M176.7,291.7h0M107.4,255.6h0M136.3,259.7h0M125.4,283.5h0M108.3,271h0M115.7,258.6h0M116.1,225.5h0M118.1,272.3h0M96.2,271h0M160.8,303.4h0M130.4,300.8h0M144.4,251.6h0M157.7,282.5h0M141.6,263.3h0M157.7,287h0M136.1,277h0M150.8,273.6h0M153.9,287h0M188.7,300.3h0M107.4,254.9h0M141.5,291.3h0M162.8,293.9h0M117.2,242.5h0M131.1,235.2h0M150.3,306.5h0M132.7,246.1h0M118.9,279.5h0M127.7,238.9h0M137.5,280.4h0M178,294.3h0M147.1,307.6h0M112.8,266.1h0M122.6,265.8h0M122.5,289h0M153.3,297.7h0M151,301.9h0M169.1,304.8h0M144.2,296.7h0M133.7,308.4h0M145.3,273.4h0M125.1,298.3h0M141.7,271.3h0"/>
<path d="M138.7,242.9h0M144,277.6h0M179.7,303.4h0M131.6,265.5h0M129.8,266.9h0M154.8,305.2h0M133.5,297.6h0M115,281h0M152.4,302h0M164.9,297h0M156.4,279.7h0M109.2,240.1h0M115.2,267.2h0M132.8,278.9h0M120.3,268.2h0M125.3,278.4h0M107.7,235.4h0M194.9,298.3h0M134.3,289.1h0M105.9,221.2h0M131.5,279.2h0M131.8,277.7h0M140.6,251.4h0M147.4,284.6h0M114.1,276.2h0M191.7,289.3h0M152.7,268h0M155.9,289.7h0M105.6,232.6h0M139,291.2h0M116.5,242.9h0M128.9,253.9h0M129.4,249.4h0M122.4,264.4h0M131.3,288.3h0M139.8,238.9h0M139.9,293.2h0M144.3,247.9h0M168.3,272.3h0M125.1,277.4h0M124.4,264.2h0M118.2,244.8h0M148.5,285.2h0M150.5,291.7h0M141,276.5h0M135.5,280.8h0M145.6,294.9h0M104.8,259.6h0M145.2,303.8h0M152.7,294.6h0M124.9,255.7h0M111.5,281h0M103.9,241h0M145.1,292.3h0M112.2,238.5h0M136.4,296h0M119.3,234.1h0M136.7,304.6h0M120.2,282.2h0M147.3,279.6h0M151.3,296.9h0M106.4,278.8h0M117.8,252.7h0M103.8,237.9h0M174.5,297.2h0M157.6,306.3h0M105.2,210.1h0M172.4,298.1h0M129.2,275.7h0M117.4,244.2h0M102.5,219.6h0M143.9,271.1h0M155.3,284.8h0M112.3,251.1h0M161.7,239.3h0M119.8,271.6h0M132.5,292.1h0M181.3,302.7h0M124.1,254.4h0M126.3,271.7h0M123.7,272.4h0M112.4,246.6h0M116.9,262.4h0M183.6,290.4h0M180.5,295.5h0M105,265.7h0M104.3,240.3h0M113.3,264.9h0M130.5,276.4h0"/>
<path d="M143.2,268.6h0M125.5,278.8h0M120.5,268.3h0M140.4,261.6h0M107.3,228.4h0M125.5,228.3h0M132.6,295.8h0M134.6,228h0M114.8,265.5h0M131.9,244.8h0M151.3,279.4h0M113.2,271.4h0M140,262.2h0M123.8,289.1h0M117.9,248.6h0M109.4,276.9h0M143.6,298.8h0M146.9,292h0M137.2,270.3h0M123.3,255.7h0M149.7,281.7h0M143.5,281.4h0M125.6,247.2h0M108.9,272.2h0M118.4,252.3h0M131.7,255.2h0M138,270.8h0M146.6,293.1h0M135.2,279.9h0M106.9,279.1h0M113.3,267.6h0M143.1,268.2h0M96.4,252.1h0M166.6,275.6h0M147.4,301.3h0M147,304.6h0M129.3,295.4h0M127.5,279h0M108.6,265.1h0M116.3,265.1h0M132.6,270.1h0M142.8,250h0M144.3,277.7h0M102.4,284.7h0M129.3,292.5h0M111.5,281h0M156,298.5h0M128.9,278h0M132,258.3h0M146.4,301.5h0M126.8,279.7h0M164.6,282.5h0M105.9,243.6h0M135.2,265.8h0M117.8,272.9h0M138.9,291.6h0M130.4,228.7h0M141.4,279.5h0M160.3,294h0M149,292.9h0M138.3,257.2h0M130,255.2h0M123.9,262.1h0M124.8,270.8h0M136.2,279.9h0M105.5,235.1h0M135.5,276.9h0M140.1,289.1h0M157.4,256.9h0M113.3,281.5h0M118.1,279.9h0M123.6,279.3h0M140.1,275.8h0M105.3,266.7h0M139.6,298.2h0M146.1,294.9h0M134,283.7h0M142.3,289.3h0M134.2,234.5h0M152.4,284.3h0M133.9,293.8h0M142.7,258.8h0M127.2,290.1h0M137.8,298.2h0M106.2,257.9h0M125.4,271.2h0M170.9,293h0M124.2,256.6h0M103.7,227.7h0"/>
<path d="M127.2,291.5h0M131.2,271.4h0M129.2,285.2h0M146.6,262.7h0M152.6,274.6h0M159.5,273.2h0M119,278.5h0M151.8,296.4h0M133.4,284.1h0M116.2,276.1h0M118.5,286.6h0M130.2,236.2h0M160.1,287.7h0M166.7,290.4h0M128.5,284.6h0M147.2,278.4h0M120.3,259.5h0M115.6,298.4h0M119.8,267.1h0M149.7,287.2h0M115.7,256.5h0M112.6,271.2h0M121.7,277.2h0M131.6,259.1h0M114.3,277.5h0M127,283.3h0M142.6,266.3h0M123.2,269.8h0M102.8,266.2h0M141.6,238.4h0M137.2,290.2h0M132.3,246.6h0M133,290.8h0M148.9,289.3h0M118.1,249.4h0M149.5,293.1h0M118.3,291.5h0M156.2,282.5h0M116.3,279h0M115.9,242.5h0M130.2,277.2h0M122.8,290.9h0M135.5,282.5h0M145.6,299.7h0M109.3,226.8h0M150.5,295.1h0M116,268.5h0M140.3,288.7h0M157.8,278.2h0M145.6,284h0M133,271.9h0M110.1,258.7h0M122.3,292.2h0M112.2,277.2h0M136.4,276.1h0M140.8,293.9h0M132,281.4h0M150.8,304.8h0M132.6,247.5h0M125.2,266.4h0M118.5,272.1h0M140.9,262.5h0M129.2,276.5h0M117,245.4h0M116.2,264.9h0M157.9,290.2h0M134.1,277.9h0M122.6,256.1h0M126.4,278.6h0M113.3,274.6h0M120.5,273.5h0M124.2,299.4h0M129.8,287.1h0M170.5,295.5h0M171.3,299.6h0M127.5,275.7h0M112.3,283h0M105.5,252.6h0M146.3,303.2h0M135,281.6h0M122.4,285.2h0M121.2,275.3h0M143,270.7h0M151.7,293.2h0M109,293.4h0M114.5,288.6h0M111.7,286.5h0M141.7,282.4h0M130.3,277.1h0"/>
<path d="M169.4,277.6h0M130.9,278.5h0M111.2,235.4h0M142.7,275.6h0M114.3,263.9h0M108.2,285h0M152.1,299h0M118.7,292.4h0M144.6,278.9h0M105.1,248.3h0M122.1,262.3h0M122.6,275h0M109.2,241.4h0M110.1,278.2h0M126.4,278h0M141.7,291.8h0M155.5,298.6h0M155.2,278.2h0M154.1,294.9h0M135.3,277.9h0M141.2,281.1h0M115.9,250h0M128.5,290.3h0M122.6,259.1h0M162.9,268.5h0M109.1,247h0M110.3,271.8h0M117.7,261.7h0M147.1,303.2h0M111.3,249.6h0M113.6,274h0M140.5,237.3h0M122.6,278.8h0M134.4,292.5h0M163.8,300.8h0M126,281.1h0M112.4,281.1h0M147.9,284.5h0M111,253.3h0M139.2,272.9h0M124.3,263.4h0M142.5,296.5h0M141.8,274.5h0M135.4,285.3h0M113.6,270.1h0M158.9,274.6h0M120.3,221.8h0M120.9,281.3h0M106.1,245.2h0M121.8,298.8h0M114.7,247.6h0M126.3,264.8h0M137.6,287.2h0M117.7,273h0M153.3,279.7h0M169,298.8h0M128.3,294.6h0M123,272h0M146.8,294.6h0M125.8,263h0M122.1,291.9h0M126.2,250.1h0M121.4,272.5h0M131,269.8h0M135.8,272.9h0M151.3,297.5h0M115.3,264.9h0M173,299.4h0M145.8,292.1h0M136.6,275.8h0M123.9,270.2h0M112.5,251.1h0M137.6,296h0M123.1,266.6h0M141.3,284.1h0M126.6,276.8h0M114,255h0M140.9,292.4h0M134.7,268.1h0M117.3,291.6h0M135.2,284.8h0M120.1,277.7h0M125.3,287.2h0M121.8,284h0M121.8,271h0M149.2,307.8h0M110.2,259.7h0M129.4,290.2h0M115.4,240.3h0"/>
<path d="M112.5,256.2h0M125.8,271.9h0M119.8,275.9h0M123,276.4h0M139.9,285.1h0M126.7,287.2h0M157.2,294h0M160.7,288.9h0M100.8,261.2h0M189,286.4h0M110,283.2h0M147.9,278.8h0M104.9,257.3h0M154,289h0M124.4,253.8h0M130,282.9h0M125.4,280.6h0M116.7,269.3h0M147.6,288h0M135.4,250.6h0M135.7,254.1h0M115.1,264.8h0M118.5,251.5h0M103,249.7h0M134.6,270.8h0M113.2,268.1h0M128.9,281.8h0M128.3,295.9h0M118.9,258.7h0M134,305.7h0M117.1,236h0M127.2,292.5h0M141.5,279.5h0M131.2,291.1h0M188.7,310.7h0M160,296.4h0M105.8,246.5h0M110.7,254.6h0M129.2,272.3h0M128.8,276.6h0M118.8,263.5h0M134.1,266.7h0M108.3,263.1h0M129,294.9h0M139.9,244.3h0M155.4,260.6h0M144.7,250.5h0M135.3,274.1h0M132,273.2h0M106.7,244.9h0M141.9,290.9h0M141.6,281.3h0M184.9,292.9h0M125.8,253.2h0M119.1,271.9h0M148.4,297.1h0M178.6,297.9h0M113.3,280.6h0M154.2,288.1h0M101.7,267.5h0M130.2,254.8h0M138.2,265.9h0M112.2,253.8h0M150.7,247.7h0M116.8,258.3h0M135.4,252.1h0M150,281.9h0M120.1,262.8h0M184.6,293.3h0M120.8,257.9h0M119,234h0M117.4,251.2h0M129.9,270.4h0M120.5,250.7h0M123.4,286.4h0M106.2,287.5h0M136.4,237.3h0M126.2,291.4h0M108.8,284.5h0M123.8,277h0M124.8,292.4h0M117.2,292h0M154.9,280.4h0M114.4,244.7h0M143.8,290.7h0M135.3,296.9h0M114.4,243.7h0M123.4,271.1h0M99.4,246.2h0"/>
<path d="M122.5,271.9h0M164.6,283.9h0M159.1,281.5h0M129.4,250.3h0M121.3,283h0M121,277.7h0M168.8,296.7h0M121,268.8h0M142.7,273.9h0M116,285.2h0M132.9,272.9h0M120.6,284.2h0M154.2,302.7h0M114.8,255.4h0M129.6,274.7h0M140.7,262.9h0M130.9,276.7h0M113.2,244.7h0M135.2,281.1h0M157.6,282.1h0M146.3,287.1h0M119.5,202.9h0M142.6,269.7h0M184.2,280.8h0M150,286.2h0M161.5,292.1h0M100.8,245.1h0M109.8,273h0M134.4,253.9h0M144.2,295.7h0M116.4,250.5h0M141.1,282.5h0M147,291.5h0M136.1,276.1h0M136.7,286.8h0M135.4,296.9h0M139.4,287.4h0M100.6,260.6h0M115,252.7h0M156.9,277.3h0M159.5,289.4h0M112.5,276.2h0M167.3,289.7h0M139.3,288.1h0M129.9,246.5h0M147.2,278.3h0M173.8,271.7h0M128.9,275.7h0M158,298.4h0M123.6,257.5h0M128.3,281.4h0M135,246.7h0M127.2,286h0M119.2,260h0M113.6,273.2h0M138.4,286h0M135.1,276.2h0M122.3,248.3h0M138.9,281.6h0M149.5,281.5h0M97.1,226.5h0M142.7,287.6h0M121,276.5h0M133,292.6h0M149.2,282.6h0M143.5,282.9h0M131.7,302.7h0M159.3,281.3h0M115.2,243.2h0M112.6,264.5h0M123.3,271.1h0M134.3,251.8h0M147.5,286.1h0M174,271.3h0M125,251.5h0M130.5,272.1h0M90.2,211.7h0M131.3,271.7h0M143.2,290.5h0M113.8,261.1h0M122.6,294.7h0M139,298.4h0M131.1,285.1h0M143,308.6h0M104.1,266.3h0M136.3,273.4h0M128.1,255.6h0M112.5,222.5h0M113.7,259.1h0"/>
<path d="M115.5,290.7h0M126.4,286.4h0M134.2,291.3h0M132.8,260.5h0M115.9,268.4h0M116.8,257.4h0M135.1,299.7h0M154.2,292.7h0M124.3,277.6h0M130.5,292.7h0M144.6,288.8h0M129.5,256.8h0M178.3,299.3h0M138.5,269h0M149.3,266.6h0M120.8,257h0M117.6,288.5h0M146.3,213.5h0M118.4,272.1h0M139.7,264.5h0M116,207.4h0M147,274.4h0M132.4,281h0M110.4,294.7h0M148.7,296.8h0M124.2,289.1h0M129.9,281.7h0M134.4,305.5h0M139.7,278.6h0M107.6,256.6h0M137.2,291.6h0M194.3,284.8h0M126.3,267.9h0M114.1,294.4h0M124.3,232.6h0M121.6,287.6h0M138.2,286.9h0M130.4,277.1h0M150.5,296.6h0M124.1,300h0M147.6,294.4h0M130.4,264.9h0M179.5,273.5h0M106.9,230.2h0M154.3,289h0M156,309.2h0M115,291.3h0M147.7,282.7h0M127,272.2h0M130.2,273.6h0M133.8,275.5h0M112.2,247.5h0M106.5,261.3h0M133.8,275.1h0M135,288.1h0M118.8,261h0M111.8,294.4h0M126.4,250.9h0M178.2,281.8h0M126.5,257.9h0M116.1,264h0M115.2,283.5h0M118.4,246h0M131.6,282h0M125.8,283.5h0M153.6,297.8h0M127.7,276h0M143.6,238.8h0M140.1,291.4h0M111.4,247.2h0M148.9,259h0M135.5,259.2h0M126,244.9h0M118.6,274.6h0M187,292.2h0M123.3,289.5h0M155.7,288.5h0M127.8,267.3h0M165.7,281.6h0M148.1,286.8h0M124.1,254.1h0M131.9,275.5h0M157.5,278.7h0M124.8,279.6h0M129.9,300h0M126.1,268.1h0M126.9,283.7h0M116.3,246.2h0M121,295.1h0"/>
<path d="M152.3,280.5h0M115.5,269.4h0M111.4,290.6h0M152.8,282.6h0M118.7,235.2h0M110.4,245.8h0M132.6,274.2h0M171.5,300.8h0M107.2,254.6h0M134.9,256.1h0M131.9,247.7h0M128.5,267.8h0M128.7,284.3h0M113.4,265.3h0M117.4,244.3h0M150,306.3h0M118.4,207.3h0M120.8,275.4h0M119.8,260.7h0M119.7,291.4h0M130,298.8h0M115.9,264.6h0M125.5,285.9h0M148.6,295.8h0M125.1,287.5h0M155.7,291.6h0M133.6,268.9h0M105.7,284.7h0M149.3,268.1h0M113,226.4h0M118,263.6h0M113.6,238.8h0M110.2,281.8h0M139.6,258.3h0M131.2,277.5h0M144,258.4h0M124.3,262h0M118.2,273h0M149.2,279.2h0M149.5,291h0M165.4,276.6h0M133.2,284.9h0M143.4,270.4h0M151.7,284.9h0M133.6,264.4h0M175.3,297.9h0M136,269.8h0M171.2,302.8h0M108.6,275.4h0M134.2,293.4h0M140,291.9h0M119.3,263.9h0M122.1,289.3h0M127.9,271.9h0M153,289.3h0M109.6,265.1h0M135.4,289.2h0M122.3,294.6h0M115.3,242.2h0M102.4,280.5h0M119.3,287.2h0M157.8,280h0M121.3,243.9h0M117.9,250.9h0M139.4,299.7h0M125.3,264.9h0M143.3,273.2h0M127.8,256.4h0M112.7,267.6h0M116.5,248.7h0M141.6,277.3h0M144.9,286.2h0M169.5,303.8h0M127.6,285.1h0M119.4,273.6h0M148.4,287.1h0M115.8,288.2h0M151.2,278.7h0M124.6,288.2h0M110.2,219.6h0M166.8,301.2h0M151.1,269.5h0M136.6,301h0M148.4,285h0M158.5,284.3h0M157.8,283.9h0M104.6,273.2h0M107,225.7h0M131.4,283.2h0"/>
<path d="M152.8,295.5h0M108.7,263.2h0M120.9,276.7h0M99.6,282.4h0M106.4,277.8h0M177.5,280.2h0M155.6,267.3h0M134.5,302.1h0M144,267.8h0M148.4,265.7h0M115.4,276.7h0M132.9,270.5h0M100,263.1h0M105.8,266.2h0M103.5,211.8h0M119.1,286.3h0M130.8,291.6h0M131.2,266.1h0M115.4,252.1h0M114.3,247.8h0M117.5,228.4h0M118.7,273.7h0M113.6,223.2h0M147,261.6h0M155.6,271.1h0M112.9,251.9h0M118.6,272.7h0M117.2,281.7h0M160,292.6h0M146.8,248.2h0M120.9,235.7h0M131.6,266.1h0M135.9,279.5h0M121.2,278.4h0M166.6,261h0M128.2,250.8h0M122.7,276.4h0M113,269.6h0M100.6,234.9h0M115.6,280.2h0M127,257.3h0M118.2,277.3h0M121.2,279.7h0M140.7,263.7h0M118.1,285.2h0M121.5,276.9h0M139.4,291.8h0M125.1,269.2h0M102.5,262.7h0M161.6,272.6h0M140.4,280.2h0M140.5,274.4h0M138.2,282.2h0M139.4,270.9h0M123,272.1h0M123.1,287.3h0M142.7,281.2h0M115,250.4h0M124.5,285.5h0M116.3,269.9h0M120.2,251.8h0M132.4,282.2h0M143.5,261.8h0M135,263.7h0M130.8,273.1h0M111.1,271.4h0M136.4,279.5h0M120,284.6h0M129.1,284.6h0M106.1,264.3h0M162.1,296.6h0M155.3,276.3h0M138.1,296.2h0M137.7,278.3h0M152.3,303.3h0M132.4,225.7h0M115,278.3h0M168.9,286.3h0M95.7,229h0M120,229.5h0M109.8,240.6h0M114.3,273.4h0M134.3,271.2h0M127.6,271.4h0M100.1,206.3h0M102.1,255.8h0M130.3,259.7h0M127.3,287.7h0M143.5,277.7h0"/>
<path d="M116.9,224.2h0M118.1,277.6h0M126.7,256.5h0M162.6,296.3h0M120.1,265.1h0M128.4,254.2h0M125.8,279.8h0M123.1,288.2h0M135.4,247h0M108.5,287.4h0M135.4,281.7h0M160.4,263h0M105.4,289.2h0M112.2,205.9h0M136.9,297.2h0M111.9,246.5h0M142,288.5h0M122.2,276.6h0M102.8,267.5h0M124.3,295.3h0M123.1,277.1h0M106.9,269.8h0M131.9,240.4h0M157.2,297.4h0M128.8,277.1h0M147.7,278.4h0M122.3,290.9h0M147.1,277.9h0M154.2,274.8h0M135.9,293.3h0M126.1,272.5h0M121.3,280.8h0M146.9,278.9h0M134,279.3h0M111.1,248.4h0M146.4,251.7h0M119.3,267h0M117.5,264.7h0M100.4,271.5h0M140.8,274.3h0M135.4,260.9h0M127.9,277.4h0M144.8,287.9h0M155.2,298.3h0M111.4,258.9h0M168.5,296.6h0M124.3,264.6h0M136.6,248.6h0M118.2,286.3h0M136.3,253.3h0M145.3,273.8h0M121.7,251.5h0M111,239.1h0M128.7,251.3h0M163.4,276.4h0M121.4,261.2h0M113.1,256.3h0M148.2,285.7h0M140.1,265.5h0M139.7,280.3h0M113.7,282.4h0M152.3,284.5h0M156.2,283.4h0M133.4,285.4h0M146,286.6h0M125.2,298.6h0M113.5,284.5h0M120.5,288.2h0M118.7,225.4h0M133.2,276.8h0M106,249.7h0M151.1,285.3h0M133.8,258.2h0M103.2,221.1h0M114.3,289.8h0M128.4,238.1h0M128.3,263.8h0M134.7,287.5h0M147.1,290h0M164.9,307.5h0M125.1,285.9h0M132.3,288.3h0M120.3,265.9h0M162.1,290h0M112,230.4h0M142.8,266.4h0M136.3,278.4h0M136.5,280.1h0M131.3,274.9h0"/>
<path d="M130.6,291.4h0M133,291.6h0M172,279.1h0M114.6,257h0M113,256.5h0M122.9,289.4h0M128.4,284.4h0M139.2,248.5h0M136.8,286.6h0M97,240.8h0M129.4,278.9h0M108.7,276.2h0M149.3,288.3h0M113.1,266.6h0M175.9,289.5h0M125.7,287.2h0M145.4,253.3h0M127.6,285.1h0M131,224.7h0M136.8,239.5h0M153.6,299.2h0M117.8,285h0M123.9,244.2h0M123.2,251.6h0M137.3,277.6h0M133.3,264.7h0M155.1,298.9h0M129.5,276.9h0M144.9,268.5h0M101.3,230.7h0M103.5,249.5h0M138.9,235.7h0M148.4,294.6h0M130,281.3h0M159.1,258.2h0M111.5,273.1h0M145.2,258h0M163.3,303.6h0M147.4,277.6h0M126.3,261.2h0M137.1,292.8h0M150.1,275.7h0M124.2,249.5h0M101.4,234.7h0M129.9,299.9h0M124.9,238.1h0M137.5,265.5h0M139.7,294.6h0M152,290.2h0M163.7,271.9h0M115.2,265.4h0M167.1,289h0M120.5,269.4h0M136.6,270.2h0M117,267.1h0M152.3,277.9h0M133.3,301.3h0M150.5,278.8h0M128.6,279.5h0M106.2,288.1h0M112.6,282.2h0M134.9,253.5h0M146.3,268.2h0M113.7,230.4h0M102.1,232.8h0M143,281.6h0M118.9,291.7h0M129.6,274.8h0M132,253.1h0M137.3,285.4h0M113.1,289.3h0M137.7,277h0M104.5,271.4h0M108.9,245h0M140.9,281.4h0M120.8,291.5h0M174,290.5h0M160.9,283.3h0M152.3,275.6h0M121.7,223.7h0M141.4,271.5h0M113.7,276.1h0M136.8,273.1h0M129.6,260h0M142.9,261.9h0M122.2,262.1h0M117,235.1h0M135.6,287.3h0M128,276.4h0"/>
<path d="M121.4,292.6h0M132.7,273.6h0M127.4,251.6h0M187,299.9h0M152.8,287.6h0M104.5,252h0M174.5,301.3h0M122.9,296.5h0M124.6,299.8h0M131.2,251.6h0M137.1,302.1h0M103.6,286h0M171.9,285h0M159.5,260h0M151.7,285.3h0M125.4,259.2h0M118.1,248.5h0M105.4,270.3h0M146.3,279.4h0M123.9,266.2h0M156.7,297h0M105.1,252h0M137.5,265.2h0M97.2,228.5h0M102.2,246.4h0M123.3,284.1h0M125.1,269.5h0M118.5,267.9h0M119.4,275.6h0M150.2,287.8h0M124.9,282h0M138.2,291.4h0M120.5,254.2h0M135.5,249.8h0M114.5,251.8h0M111.3,259h0M133.1,288.9h0M125.6,251.1h0M137.8,281.8h0M127.6,256.6h0M124.1,287.4h0M158.1,279.7h0M169.7,291.6h0M135.2,285.8h0M169.4,302.5h0M109.5,250.1h0M121.7,257.9h0M133.8,276.8h0M166,275.1h0M123.4,278.3h0M138.3,300.1h0M126.6,261.4h0M138.2,267.3h0M122.5,278.9h0M161.2,295.5h0M136,290.5h0M119.8,271.7h0M151,293h0M139.3,282.9h0M120.9,204.6h0M124.4,274.2h0M128.1,298.7h0M116.6,284h0M141.4,265.1h0M135.6,288h0M120.5,235.1h0M108.7,289.4h0M161,282.4h0M111.4,254.3h0M109.4,280.3h0M110.3,271.9h0M136.4,240.2h0M100.6,270.9h0M136.6,262.8h0M123.6,297.7h0M119.5,265.5h0M131.8,281.2h0M120.3,260.8h0M129.9,294.4h0M129.8,292.2h0M138.2,287.5h0M138.7,271.6h0M147.2,281.8h0M132.3,279.9h0M152.3,280.3h0M113.3,275.2h0M98.3,218.9h0M126,276.9h0M119.5,244.2h0"/>
<path d="M108.6,250h0M135,268.8h0M138.1,286.6h0M139.4,265.8h0M137.6,281h0M153.3,289.4h0M111.9,264.6h0M115,240.4h0M118.1,292.7h0M106.7,273.2h0M124.4,277.3h0M106.3,289.6h0M126.3,268h0M118.5,281.6h0M110.1,265.3h0M136,261.7h0M110.6,296.2h0M150.8,289.7h0M107.6,260.4h0M125.5,255.9h0M114.6,273.6h0M148.2,277.8h0M114.6,271.9h0M144.2,280.8h0M128.8,261.5h0M104.7,292.5h0M131.8,222.3h0M132.2,285.4h0M111.9,285.5h0M119.5,274.6h0M103.8,283.8h0M116.2,243h0M114.7,222.9h0M121.8,291.1h0M116.8,256h0M178.3,275.2h0M103.9,252.4h0M177.2,291.9h0M106.2,218.7h0M151.1,273.7h0M129.3,272.6h0M131.2,278.1h0M122.5,282.6h0M127.8,261.7h0M180.6,294.7h0M143.2,272.3h0M160,296.5h0M130.9,276.9h0M131.2,268.7h0M113.2,252.2h0M106.5,250.5h0M172.2,294.3h0M130.7,279.6h0M137.2,266.6h0M143.2,296.1h0M140.2,275.9h0M110,259.9h0M146,264.1h0M186.3,293.3h0M100.3,216.3h0M118.8,248h0M159.4,305.5h0M135.6,285h0M121.4,228.3h0M132.9,273.6h0M119.1,294h0M142.1,252.5h0M129,285.4h0M101.1,214.9h0M120.3,246.7h0M151.2,275.9h0M126.1,278.2h0M127,300.2h0M102,248.9h0M122.2,254.9h0M117.6,260.6h0M151.1,304.9h0M192.5,284.9h0M122.3,223.1h0M136.6,286.2h0M112.6,288.1h0M159.8,270.2h0M107.4,220.6h0M152.9,292.1h0M116.5,247.3h0M117.3,268.7h0M110.9,235.5h0M156,298h0M127.7,251.5h0"/>
<path d="M116,285.8h0M122.3,228.7h0M152.4,290.9h0M172.8,246.7h0M110.4,276h0M153.5,279h0M96.5,268.3h0M153.3,247.6h0M109.1,231.6h0M124.1,272.6h0M131.5,278.5h0M123.5,283.7h0M107.9,274.1h0M116.9,263.5h0M137.8,300h0M143.1,266.1h0M138.7,274.1h0M159.4,287.3h0M137.8,243.2h0M120.1,280h0M126.9,271.1h0M126.5,242.8h0M143.8,277.9h0M129.2,278.3h0M123.3,259.2h0M162,280.5h0M180.2,292.7h0M124.8,290.5h0M144.9,286.4h0M111.6,270.3h0M110.9,240.3h0M132.2,282.5h0M124.6,307.2h0M149.8,275.3h0M135.6,309.9h0M143.1,273.9h0M131,288.9h0M146,281h0M129.3,241.7h0M113.9,224.3h0M105.9,234.5h0M99.1,202.6h0M111.8,253.1h0M99,270.5h0M117.6,255.7h0M147.2,283.7h0M106.4,276.8h0M100.9,241.6h0M148.9,295.5h0M148.9,293h0M100.7,253.4h0M128.7,244h0M136.9,290.7h0M136.5,280.4h0M105.5,271.6h0M105,276.6h0M115.3,241.9h0M140.7,265.9h0M125,254.4h0M121.4,223.6h0M158.2,287.6h0M136.9,298.2h0M110.5,245.7h0M101,254.7h0M134.8,292h0M110.7,270.2h0M128,262h0M116,245.3h0M141.1,297.9h0M123.1,227.3h0M144.1,292.5h0M157.4,309.6h0M122.4,285.5h0M119.7,256.7h0M115.7,274.5h0M144.3,254.4h0M108.7,280.1h0M113.4,269.4h0M155.3,297.7h0M130.5,243.5h0M111.2,252h0M114,265.9h0M141.8,259.7h0M135.8,276.2h0M146.7,299.7h0M127.8,232.9h0M116.7,267h0M135.1,288.6h0M110.9,283.1h0"/>
<path d="M135.6,251.9h0M138,277.7h0M193.6,295.2h0M125.7,272.5h0M172.1,296.4h0M125.6,277.4h0M152,276.7h0M102.5,218h0M125.3,237.1h0M182.8,293.5h0M115.8,280.3h0M130.9,282.8h0M154.4,259.9h0M112.9,225.7h0M153.4,288.8h0M170.6,266h0M159.8,272.9h0M126.8,236.1h0M126.1,273.5h0M116.4,267.3h0M128.5,276.2h0M149,281.1h0M127.8,289.9h0M144.9,297h0M117.6,275.8h0M133.6,280.3h0M137.9,299.5h0M134.2,264.9h0M136,278.4h0M134.8,294.7h0M121.1,257.4h0M133.3,280.9h0M113,277.6h0M136.6,273.9h0M143.5,299.8h0M113.2,259h0M138.8,269.3h0M104.4,269h0M110.5,255.8h0M121.9,288.5h0M111.2,261.6h0M145.9,256.8h0M116.5,287h0M124.3,271.4h0M140.3,267.5h0M137.4,265h0M136.6,268.4h0M132.4,264.5h0M151.8,295.8h0M112.6,232.6h0M122.5,272.3h0M155.6,289.5h0M129.8,274.5h0M144,279.4h0M139.8,275.9h0M121,282.4h0M146.2,280.3h0M122.2,273.5h0M135.5,280.9h0M128.2,295.2h0M129,273.8h0M165.9,298.1h0M140.4,305.4h0M125.8,247.2h0M108.3,250h0M140.3,270.1h0M148.8,262.8h0M159.8,306.6h0M131.6,287.8h0M145.9,285.4h0M119.9,274.3h0M117.6,274.8h0M178.9,286.2h0M127.7,227.2h0M117.3,244.9h0M107.5,256.9h0M117.7,261.1h0M111.6,281.1h0M147.3,292.5h0M147.3,269.2h0M126.7,277.3h0M151.8,291h0M159,295.4h0M163.5,285.6h0M148.2,291.2h0M134,286.4h0M142.5,297h0M138.9,257.2h0M142.5,281.3h0"/>
<path d="M140.5,293.5h0M138.5,277h0M142.7,287.5h0M172.2,287.7h0M124.8,259.1h0M107.8,289h0M163.4,295.3h0M149.8,282.3h0M112.5,246.3h0M118.9,275.8h0M114.2,268.8h0M139.5,286.9h0M107.8,263.3h0M128.1,288h0M147.9,264.8h0M108.6,281.6h0M121.5,285.9h0M160.2,283.3h0M132.7,292.8h0M110.9,279.8h0M114.4,233.4h0M160.4,276.1h0M178,269.8h0M128.2,295h0M134.3,275.1h0M130.6,266.2h0M151.5,283.1h0M152.9,277h0M120.8,254.9h0M119.2,283.7h0M131.3,263.6h0M127.4,255.6h0M100.3,252h0M117.1,242.1h0M151.1,301.8h0M106.4,253.8h0M119.2,288.4h0M138.5,303.5h0M147,298.2h0M120.5,261.4h0M114.9,240.3h0M176.1,282.8h0M117.8,263.8h0M131.2,260h0M117.8,242.9h0M119.9,273.2h0M121.6,244.4h0M113.4,275h0M142.4,263.4h0M107.1,265.7h0M136.8,294.8h0M137.3,311.1h0M128.4,298h0M136.4,277.6h0M125.7,272.6h0M151.5,285.1h0M126.8,254.5h0M123,295.1h0M121.4,261.3h0M98.1,245.8h0M127.8,288.6h0M141.7,283.8h0M144.1,301.4h0M138.6,281.4h0M159.1,291.6h0M113.2,258h0M118.4,274.3h0M152,306.2h0M158.2,283.9h0M117.3,223.1h0M120.5,288.3h0M116.7,289.7h0M117.8,248.3h0M141.8,272.6h0M132.8,272.5h0M134.7,286.1h0M145.7,296.1h0M122.3,250.2h0M129.7,292.8h0M130.3,290.8h0M152.3,294.9h0M113.2,259.9h0M150.1,285h0M122.1,267h0M109.2,263.8h0M151.2,299.2h0M120,261.9h0M111.1,282.7h0M128.3,266.9h0"/>
<path d="M117.1,253.3h0M110.9,281.1h0M112.6,252.5h0M138.2,266.3h0M108.8,243.6h0M140.3,288.9h0M161.4,301.4h0M116.9,241.3h0M121.6,240h0M143.1,290.1h0M95.3,232.1h0M134.8,271.8h0M117.1,261h0M128.2,291.7h0M174,280.5h0M105.4,272.7h0M122.6,271.3h0M150.1,291.7h0M145.6,298.4h0M116.5,281.9h0M122.9,273.8h0M138.6,276.1h0M117.3,284.4h0M161,305.4h0M110.5,266.8h0M150.4,253.8h0M140.5,291.4h0M127.7,292.3h0M128.6,299.5h0M130.6,282.1h0M124.6,245.7h0M135.4,289.4h0M136.2,266.1h0M138.3,266.9h0M163.2,294h0M128.3,258.5h0M121.2,286.3h0M164.6,291.3h0M109.5,262.5h0M134.9,290.9h0M111.8,280.4h0M125.8,293.1h0M145.4,290h0M117,264.4h0M135,261h0M143.8,298.7h0M129.3,287.5h0M122.9,253.8h0M116.3,270.8h0M120.9,288.3h0M138.2,279.7h0M130.2,265.3h0M158.9,296.9h0M123.1,253.6h0M126.5,248.2h0M121.3,275.7h0M106,243.8h0M135.5,306.1h0M116.8,280.5h0M116.9,240.1h0M146.2,268.6h0M184.8,291.1h0M123.6,258.5h0M137.4,273.5h0M118.8,260.4h0M126.1,256.6h0M111.8,276.5h0M131.7,287.9h0M133.4,252.3h0M123.5,234.4h0M134.9,277.7h0M136.4,292.3h0M114.5,293.2h0M127.8,283.9h0M161.5,280.8h0M163,284.1h0M110,242.4h0M145.9,268.6h0M126.9,247.8h0M138.8,279h0M142.5,239.3h0M162,296h0M138.7,291.6h0M117.2,260.1h0M127.6,274.4h0M117.9,289.2h0M136.3,283.6h0M121.2,257.5h0M150.3,246.5h0"/>
<path d="M129.1,290.1h0M137.3,281.3h0M113.7,246.7h0M138.1,246.1h0M152.8,300.8h0M128.7,217.7h0M152.7,283.1h0M150.5,267.5h0M137.5,286.4h0M111.4,299.9h0M131.8,271.8h0M131.1,257.9h0M117.9,272.4h0M140,266h0M146.8,293h0M134.7,285.9h0M122.3,282.7h0M158.9,273.5h0M150.5,292.4h0M174,289.2h0M112.7,268.4h0M135.8,282.6h0M179.9,300.7h0M141.8,274.8h0M125.4,265.4h0M114.7,242.8h0M143,298.9h0M105,263h0M149.5,258.9h0M134.8,271.2h0M151.6,286.7h0M160.7,275.9h0M137.7,293.1h0M123.8,288.8h0M112.6,243.4h0M113.5,273.9h0M119.4,257h0M103.9,264h0M119.3,284.7h0M108.9,269.8h0M138.6,271.7h0M115.9,277.9h0M129.5,270.2h0M137.8,276.5h0M94.3,249.3h0M126.9,275.2h0M115.6,281.7h0M139.2,269.8h0M145.2,269.3h0M137,282.7h0M135.7,281.1h0M108.9,266.6h0M147.4,289h0M128.6,272h0M117.7,271.2h0M110.9,236.6h0M144.4,294.4h0M103.8,228.3h0M103.3,280.2h0M138,287.5h0M127.7,280.8h0M117,281.5h0M130.2,273.4h0M131.3,262h0M138.3,220h0M118,272.8h0M153.8,303.2h0M157.5,279.2h0M131.5,296h0M113.2,273.8h0M159.2,304.5h0M108.2,218.2h0M146.9,279.4h0M111.3,268.5h0M137.5,273.5h0M136.1,271h0M94.7,235.2h0M150.2,287.9h0M133.8,271.5h0M112.9,252.5h0M126.6,236.3h0M131.8,278.8h0M127.4,282.8h0M151.2,268.2h0M120,278.8h0M116.8,295.7h0M128,278.3h0M120,272.7h0"/>
<path d="M146.3,290.9h0M137.7,258h0M170.5,279.3h0M139,304.2h0M142.3,283.5h0M106.8,258.4h0M155.2,288.2h0M121.1,291.8h0M146.4,291.8h0M122.4,278.4h0M130.8,268.2h0M103,268.2h0M117.7,281.6h0M117,231.3h0M93.8,239h0M159.4,293.8h0M136.9,289.6h0M167,299.3h0M118.8,279h0M153.7,290.2h0M141.2,286.1h0M131.8,268.3h0M129.7,278.2h0M124.9,273.3h0M96.8,275.8h0M165,309.5h0M156.8,236.3h0M137.8,275.5h0M148.7,275.3h0M149.4,260.2h0M131.2,282.9h0M141.7,279.1h0M142.3,279.7h0M137.2,299.8h0M131.8,266h0M160.1,284h0M142.3,304.9h0M110,297.3h0M139.5,292.7h0M163.5,280.2h0M137.2,301.8h0M136,282.7h0M135.8,231.5h0M141.8,286.5h0M119.1,271.4h0M138.3,299.3h0M93.2,238.4h0M142.1,286.1h0M113.9,221.6h0M154.6,278.5h0M146.3,291.4h0M140.2,284.1h0M133.6,286.7h0M158.4,292.6h0M129.9,283.1h0M133.6,281.4h0M93.8,215.2h0M134.6,276.9h0M139.7,295.4h0M123,219.3h0M128.7,264.4h0M131.2,254.9h0M145.9,287.6h0M128.1,281.4h0M120.9,253.4h0M158.5,267.7h0M147,279.2h0M133.7,262h0M115.9,259.4h0M114.1,270h0M165.8,293.6h0M124.1,263.6h0M101.7,270.4h0M129.6,279h0M115.3,277.4h0M126.3,297.4h0M116.1,283.4h0M105.9,292h0M153,285.2h0M127.9,288.3h0M121.9,288.7h0M139.8,262.2h0M114,219.2h0M142.1,257.4h0M124.2,274.9h0M149.4,300.1h0M124.6,261.7h0M150.2,292.5h0"/>
<path d="M160.6,287.3h0M124.7,227h0M137.6,291.2h0M97.1,254.7h0M112.6,291h0M183,279.7h0M118.4,241.1h0M176.3,287.3h0M137.9,258.6h0M136.9,277.9h0M112.5,239.9h0M117.5,241.6h0M139.6,279.6h0M109.8,242.5h0M140.5,283.6h0M152,272.2h0M151.2,256.1h0M111.7,246.1h0M146.1,302.3h0M162,292.1h0M114.3,253h0M121.9,260h0M183.1,273.5h0M120.9,287.5h0M126,278.9h0M148.9,292.3h0M127.2,216.1h0M116.4,285.7h0M119.5,273.5h0M134.8,284.3h0M140.3,274.2h0M125,287.4h0M115.5,231.3h0M147.4,306.6h0M146.5,276.4h0M102.9,268.7h0M122.4,229.1h0M127.6,251.8h0M130.8,253.7h0M132.6,263h0M138.1,291.1h0M134.2,270.1h0M124.3,268.3h0M122.3,301.8h0M103.8,267.3h0M139.5,303.4h0M166.6,297h0M122.5,258.8h0M132.2,258.2h0M130.6,277.8h0M104,269.5h0M130.3,264.7h0M139.2,275.8h0M125.2,292.9h0M118.8,238.5h0M120,266.3h0M112.8,259.3h0M102.5,280.5h0M162.1,285.7h0M163,301.1h0M154.4,226.6h0M117.3,273.5h0M144,286h0M141.8,286h0M125.9,275.7h0M151.1,285.5h0M108.4,284.2h0M174.1,291.2h0M109.1,265.4h0M118.4,276.8h0M118.9,252h0M107.2,271.7h0M131.6,287.6h0M154.1,281.9h0M138.6,288.8h0M184.7,290.9h0M121,228.1h0M133.5,290.3h0M132.8,248.4h0M121.7,263.5h0M124,275h0M112.3,253.7h0M116.4,283.3h0M122.2,287.8h0M133.2,263.1h0M151.9,265.9h0M146.3,291.7h0M125.5,260.2h0"/>
<path d="M135.9,289.4h0M153.4,279.6h0M102.5,209.1h0M107.5,220.4h0M111.1,264.1h0M143.9,284.9h0M153.9,287.1h0M121.2,287.5h0M135,267.1h0M126.5,237h0M164,274.1h0M137.2,288.1h0M112.9,280.3h0M127.4,267.6h0M116,250.5h0M127.4,266.8h0M114.8,243.3h0M149.1,281.2h0M122.9,278.1h0M132.1,279.4h0M162.9,288.3h0M99.8,253h0M155.9,274.5h0M100.7,246.9h0M118.3,240.7h0M143.1,288.5h0M147,285.5h0M154.6,297.1h0M109.7,279.3h0M131.7,262.6h0M120.9,288.8h0M134.2,278.2h0M128.4,270h0M121.5,277.4h0M135.7,302.8h0M157.4,276.3h0M128.9,265.3h0M120.2,234.9h0M153.1,279.5h0M133.5,280.3h0M125.2,288.9h0M149.1,263.1h0M160.7,300h0M124,286.1h0M163.9,289.6h0M122.1,281.6h0M145.8,268.6h0M122.3,244.7h0M146.9,296.5h0M149.8,287h0M119.7,272.7h0M135.6,307.9h0M128,286.9h0M131,294.1h0M132,260.4h0M129.8,255.9h0M98.7,255.5h0M174.5,302.5h0M130.9,275.3h0M147.4,284.9h0M149.4,281.9h0M112.8,247h0M120.2,234.9h0M139.9,245h0M121.9,265.6h0M189.3,296.3h0M152.3,295.8h0M128.3,245.1h0M132.2,281.7h0M153.8,263.9h0M148.6,290.8h0M115.7,268.4h0M110,247.7h0M119.5,256h0M96.9,251h0M135.7,284.9h0M123.5,303.3h0M136.9,262.8h0M111.4,282.3h0M127.2,292.8h0M125,280.2h0M165.9,305.2h0M124.7,256.1h0M114.4,279.3h0M112.5,285.1h0M113.1,251.2h0M154.9,285.9h0M124.8,270.2h0"/>
<path d="M116,252.7h0M130.6,242.6h0M120.8,296.6h0M105.8,257.3h0M126,273.1h0M112.8,270.4h0M114,275.1h0M99.1,286.4h0M124.5,264.1h0M118.6,204.5h0M155.1,291.1h0M109.4,278.5h0M131.4,292.2h0M147.1,291h0M113.8,277h0M125.1,285.5h0M139,291.2h0M128.7,283h0M96.6,260.8h0M127.6,246.6h0M102,203.9h0M132.8,281.7h0M111.5,276h0M133.6,257.4h0M172.1,304.7h0M144.2,255.6h0M122.5,273.1h0M150.4,280.1h0M102.8,265.1h0M136.6,292.6h0M118.4,295.9h0M179.4,289.5h0M110.6,271.7h0M129.2,268.8h0M155.3,299.6h0M113.7,251.6h0M131,280.6h0M170.8,295h0M138.3,286h0M127,253.3h0M152.1,277.4h0M119.3,279.6h0M130.6,298h0M146.4,293.7h0M123,296.6h0M143.8,287.1h0M139,263h0M125.3,242.1h0M153.9,307.9h0M130,289.6h0M124.8,298.1h0M119.8,294.9h0M128.1,258.8h0M166.2,286.1h0M151.8,267.9h0M136.5,298.7h0M119.2,233.4h0M142.7,226.4h0M157,285.4h0M154.4,291.5h0M125.6,289.1h0M133.2,244.3h0M117.6,258.6h0M103.8,272.5h0M106.3,255.6h0M118.4,260.7h0M118.2,242.9h0M118.1,258.5h0M111.7,259.8h0M136.3,285.8h0M126.3,255.3h0M105.7,250h0M94.7,242.8h0M111.6,286.7h0M128.2,272.9h0M119.8,229.8h0M141.7,288.4h0M123.8,281.8h0M119.5,283.7h0M107.5,219.7h0M107.6,274.8h0M127.3,230.8h0M114.3,224.4h0M120.5,218.3h0M103.6,238.6h0M117.4,258.2h0M157.4,273.3h0M123.7,244.5h0"/>
</g>
<polygon points="125.5,297.3 125.4,295.5 125,293.6 124.4,291.6 123.6,289.4 122.6,287.1 121.4,284.6 120.1,282.1 118.6,279.5 117.1,276.9 115.4,274.3 113.7,271.8 112,269.5 110.4,267.3 108.7,265.3 107.1,263.6 105.5,262.2 104.1,261.1 102.7,260.5 101.4,260.2 100.2,260.4 99.1,260.9 98.2,261.9 97.3,263.2 96.6,264.8 96,266.7 95.4,268.8 95.1,271.2 94.8,273.6 94.6,276.2 94.5,278.8 94.6,281.4 94.8,283.9 95.1,286.4 95.4,288.7 96,291 96.6,293.1 97.3,295 98.2,296.8 99.1,298.4 100.2,299.9 101.4,301.2 102.7,302.3 104.1,303.3 105.5,304.1 107.1,304.7 108.7,305.3 110.4,305.6 112,305.9 113.7,306 115.4,305.9 117.1,305.7 118.6,305.4 120.1,304.9 121.4,304.3 122.6,303.5 123.6,302.6 124.4,301.5 125,300.3 125.4,298.8" fill="#7570B3" fill-opacity="0.4" stroke="none" filter="url(#bl)"/>
<polygon points="122.1,296.1 122,294.6 121.7,293 121.3,291.2 120.6,289.3 119.8,287.4 118.9,285.3 117.8,283.3 116.6,281.1 115.3,279 114,277 112.6,275 111.2,273.1 109.8,271.3 108.4,269.8 107.1,268.4 105.8,267.3 104.5,266.5 103.3,266 102.2,265.8 101.2,265.9 100.3,266.4 99.4,267.1 98.7,268.1 98,269.4 97.5,270.9 97,272.6 96.7,274.4 96.4,276.4 96.3,278.5 96.2,280.6 96.3,282.7 96.4,284.8 96.7,286.8 97,288.8 97.5,290.7 98,292.5 98.7,294.1 99.4,295.7 100.3,297.1 101.2,298.4 102.2,299.5 103.3,300.5 104.5,301.4 105.8,302.2 107.1,302.8 108.4,303.2 109.8,303.6 111.2,303.8 112.6,303.9 114,303.8 115.3,303.6 116.6,303.3 117.8,302.9 118.9,302.3 119.8,301.6 120.6,300.8 121.3,299.8 121.7,298.7 122,297.5" fill="#7570B3" fill-opacity="0.6" stroke="none" filter="url(#bl)"/>
<polygon points="118.6,294.7 118.5,293.5 118.3,292.2 117.9,290.8 117.5,289.3 116.9,287.7 116.1,286.1 115.3,284.5 114.4,282.9 113.5,281.3 112.5,279.8 111.4,278.3 110.3,276.9 109.2,275.6 108.2,274.5 107.1,273.5 106.1,272.7 105.1,272.1 104.1,271.7 103.2,271.6 102.4,271.7 101.6,272 100.9,272.5 100.3,273.2 99.7,274.2 99.3,275.3 98.9,276.5 98.6,277.9 98.4,279.3 98.2,280.9 98.2,282.5 98.2,284.1 98.4,285.7 98.6,287.3 98.9,288.9 99.3,290.4 99.7,291.8 100.3,293.1 100.9,294.4 101.6,295.6 102.4,296.6 103.2,297.6 104.1,298.4 105.1,299.2 106.1,299.8 107.1,300.3 108.2,300.7 109.2,301 110.3,301.2 111.4,301.3 112.5,301.3 113.5,301.1 114.4,300.8 115.3,300.5 116.1,300 116.9,299.4 117.5,298.7 117.9,297.8 118.3,296.9 118.5,295.9" fill="#7570B3" fill-opacity="0.7" stroke="none" filter="url(#bl)"/>
<g stroke="#7570B3" stroke-opacity="0.08">
<path d="M109,280.9h0M101.3,286.7h0M105.7,289.1h0M103.7,271.3h0M105.4,287.2h0M106.3,292.3h0M108.9,273h0M122.7,300.6h0M110.1,294.2h0M103.7,294.6h0M103.9,293.7h0M101.9,265.4h0M103.3,295.1h0M101.1,293.8h0M110.3,266.9h0M104.5,289.5h0M109.1,299.1h0M98.6,283.2h0M103.3,271.7h0M116.3,287.3h0M100.6,298.7h0M111.8,280h0M119.9,292.2h0M102.4,296h0M120.3,285.5h0M105.4,286.8h0M101.8,283.2h0M109.3,284.5h0M107,289.5h0M100.6,276.6h0M98,280.3h0M116.5,285.8h0M101.3,278.9h0M103.2,295.7h0M97,298.5h0M105.6,297.5h0M111.8,283.5h0M100.2,285.5h0"/>
<path d="M104.6,266.3h0M111.3,294.4h0M106.5,295.4h0M109.4,286.3h0M107.6,303.9h0M110.1,290.4h0M115.2,300.1h0M106.1,290.6h0M101.6,284.9h0M105,283.1h0M103.5,275.4h0M111,293.3h0M104.5,300.6h0M101.1,285.6h0M104.2,294.5h0M110.8,300.7h0M112.4,301.2h0M112.3,291.7h0M110.4,286h0M103.4,267.4h0M103.4,289.4h0M107.9,285.6h0M104.8,284h0M109.8,297.3h0M105,297.6h0M100.5,297.1h0M94.2,273.9h0M94.2,273.6h0M113.5,293.3h0M109.8,281.8h0M111,297.6h0M99.3,278.2h0M106.9,280.7h0M108.7,287.7h0M106.8,290.7h0M117.1,299.3h0M103.9,287.3h0M103.1,308.1h0"/>
<path d="M106.6,299.9h0M100.7,295.7h0M117.7,295.4h0M118.6,300.1h0M110.2,291.8h0M101.5,297h0M110.5,293.7h0M96.5,291.6h0M102.9,254h0M117.7,303.3h0M109.5,278.1h0M110.5,295.6h0M107.5,281.6h0M110.8,292.7h0M103.8,300h0M105.3,295.5h0M107.7,303h0M101.8,277.9h0M104.4,288.2h0M107.2,289.2h0M112.9,298.8h0M110.3,285.2h0M115.3,288.1h0M110.4,271.6h0M108.6,286.9h0M108.4,300.8h0M103.9,282h0M106.4,284.6h0M112.8,290.3h0M97.7,285.2h0M118.4,289.7h0M104.2,276.4h0M108.3,299.9h0M112.2,299.8h0M99.3,280h0M106.5,302.4h0M115.1,292h0M105.8,295.7h0"/>
<path d="M115.1,301.3h0M100.3,291.1h0M118.2,299.1h0M104.8,283.8h0M115,299.1h0M108,296.6h0M103.7,288.7h0M100.3,280.1h0M110.6,302.8h0M108.2,280.2h0M101,277.7h0M107.7,276.3h0M109.9,290h0M102.8,284.2h0M104,285h0M108.2,293.9h0M104.6,296.2h0M102.7,288.3h0M107.6,271.6h0M112.7,291.7h0M125.4,301.7h0M99.9,279.9h0M107.1,286.7h0M116.1,302.5h0M99.7,294.9h0M103.5,284.4h0M103.4,290.4h0M102.3,290.2h0M104.3,293.3h0M111.2,294.7h0M101.5,289.4h0M104.7,275.8h0M111.4,292h0M112,292.3h0M113.4,283.3h0M105.7,288.3h0M113,294.4h0M117.3,292.7h0"/>
<path d="M95.1,265.4h0M104,282.5h0M111.4,293.4h0M108.5,293h0M104.5,300h0M103.5,281.6h0M107.3,295.2h0M95.6,275.6h0M105.3,288.1h0M119,291h0M110.7,282.9h0M107.9,300.3h0M109.4,295.9h0M111.5,298.7h0M106.4,284.7h0M115.8,297h0M120,299.7h0M105.1,296.8h0M102.9,271.4h0M106,281.4h0M101.2,302.7h0M100,272.8h0M110.6,291.1h0M110.8,294.2h0M106.6,282.5h0M115,285.4h0M108.2,288.7h0M111.5,295.3h0M106.7,307.9h0M103.6,288.9h0M103.5,281.6h0M104.4,293.3h0M114.5,286.4h0M113.5,291h0M100.5,280.9h0M101.2,280.5h0M123.8,289h0M102.7,292.3h0"/>
<path d="M113.4,287.7h0M102.1,294.4h0M118.3,299.6h0M111.1,281.8h0M105,294.5h0M107,272.2h0M107.2,303h0M99.7,290.8h0M116.4,279.8h0M106,293.3h0M103.3,275.8h0M102.7,285.9h0M108.9,287.8h0M114.4,283.9h0M124.1,306.6h0M110.4,292.4h0M105.1,271.7h0M112.8,296.8h0M104.1,274.6h0M121.4,294.5h0M109.3,298.4h0M101.2,279.8h0M102.9,287.9h0M98.3,288.4h0M105.3,282.8h0M122.2,288.7h0M108,288.1h0M114.2,306.8h0M114.5,295.2h0M113,288.8h0M115.4,297.3h0M108.6,289.8h0M109.4,295h0M112.1,291.8h0M107.7,285.8h0M118,281h0M107,298.8h0M106.7,283.2h0"/>
<path d="M114.7,296.3h0M110.4,279.6h0M104.1,274h0M112.3,291.5h0M101.5,292h0M104.5,292.1h0M112.8,284.1h0M97.5,270.7h0M99.9,282.4h0M101.2,284.9h0M107.9,269.4h0M110.3,293.5h0M99.4,285.5h0M116.4,300.5h0M105.4,297.1h0M110,293h0M102,292.2h0M109,290.8h0M102.5,294.1h0M125.1,299.2h0M96.4,284.8h0M104.8,289.5h0M112.6,286.8h0M102.6,278.8h0M108.6,289.1h0M99,278.4h0M104.6,286.3h0M108.8,289.7h0M104.7,275.8h0M104.9,303.1h0M100.3,299h0M109.5,290.2h0M102.3,291.4h0M110.9,298.5h0M98.5,298.7h0M110,284.8h0M107.3,289.5h0M113.4,290h0"/>
<path d="M106.1,286.3h0M107.7,286.6h0M102.6,263.5h0M113.2,293.2h0M109.6,289.8h0M107.3,278.1h0M110.7,256h0M113.9,294.1h0M103.9,293.6h0M106.8,292.9h0M108.9,251h0M119.1,289.9h0M122.3,290.8h0M114.6,296.6h0M103.9,293.9h0M106.7,296.6h0M108.3,289h0M105.2,289.8h0M109.4,270.9h0M102.4,285.3h0M106.1,277.6h0M101.4,289.9h0M106.7,292.3h0M100.4,290.3h0M107.4,293.3h0M106.8,282.5h0M102.7,284.2h0M104.2,292.5h0M112.3,285.5h0M117.7,280.3h0M101.5,279.8h0M106,286.9h0M105.2,288.5h0M107.6,296h0M109.6,290.9h0M107.3,288.7h0M104.5,284h0M107.8,289.1h0"/>
<path d="M114.5,284.2h0M102.8,287.8h0M95.8,283.8h0M107.8,289.4h0M113.9,299h0M109.2,292.2h0M105.6,278.6h0M105.1,295.1h0M102.5,290.5h0M109.5,287.5h0M109.3,304h0M107.6,285h0M104.3,290h0M101.5,287.5h0M100.8,278.9h0M104.7,299.5h0M103.3,288.1h0M98.9,276.2h0M103.3,282.2h0M103.6,271.7h0M109.1,298.9h0M100.9,289.5h0M99.4,290.5h0M100.1,271.8h0M106.2,288.6h0M100.5,295.4h0M118.4,294.2h0M109.8,289.5h0M105.7,300.5h0M105.8,290.6h0M109.9,293.4h0M99.8,289.9h0M98.5,273.5h0M105.5,285.4h0M116.6,295.8h0M102.4,291.1h0M101.5,292.3h0M104.8,287.9h0"/>
<path d="M103.1,281.1h0M113.3,302.3h0M112.2,298.3h0M107.4,297h0M106.5,277.7h0M103,275.6h0M112.8,303.4h0M100.1,289.1h0M108.8,283.5h0M105.9,277h0M113.9,286.6h0M98.4,283.5h0M115.1,289.3h0M107.5,281.8h0M108.3,287.7h0M99.1,269.8h0M108.7,291.1h0M106.9,274.8h0M101.5,268.1h0M106.7,289.5h0M107.6,301.4h0M111.4,290.8h0M105.2,279.5h0M101.2,285.1h0M112.4,289.7h0M100.7,276.1h0M109.8,290h0M112.2,290.7h0M111.1,296.5h0M105.1,288.1h0M107.1,267h0M108,269.1h0M111.1,284.9h0M104.1,296.8h0M105.2,263.8h0M105.2,289.8h0M109.6,293.7h0M107.6,285.1h0"/>
<path d="M101.2,298.1h0M111,292.8h0M109.5,288.9h0M108.3,288.9h0M112.5,272.3h0M117.1,301.6h0M97.8,282.3h0M120.5,300.1h0M103.2,293.7h0M99.7,285.7h0M105.6,287.6h0M103.3,289h0M108.7,304.4h0M107,289.7h0M110.7,300h0M105.7,274.3h0M101.8,294.8h0M114.1,289.6h0M111.1,296.8h0M109.1,301.3h0M100.1,284.4h0M105.9,294.4h0M102,287.9h0M111.5,280.3h0M103.6,289.7h0M108.2,285.6h0M107,298.1h0M114.5,291.3h0M108.2,295.7h0M103.8,292.6h0M110.9,290.2h0M106.7,301.2h0M121.3,293.4h0M123.4,302.4h0M114.9,283h0M118.2,275.8h0M122.5,298.2h0M115.7,288.3h0"/>
<path d="M98.7,283.2h0M105.5,290.8h0M100.4,283.5h0M104.4,289.2h0M104,282.2h0M101.3,283.2h0M97.6,284.6h0M104.1,278.7h0M113,290.4h0M98.3,279.9h0M102.7,267h0M110.3,290.1h0M108,271.3h0M113.9,278.4h0M102.4,293.5h0M114,292.6h0M109.4,286.3h0M107.8,285.7h0M109.5,290.7h0M114.4,280.3h0M104.8,271.5h0M99.8,284.5h0M110.8,293.5h0M111.1,288.8h0M101.5,299.8h0M110.2,304.5h0M99.5,291.2h0M113.7,299.6h0M108.6,276.8h0M104.7,293.3h0M99.4,294.7h0M111,295.4h0M99.8,285.1h0M112.9,288.7h0M106.3,294.2h0M102.3,266.5h0M103.7,261.5h0M107,293.9h0"/>
<path d="M106.1,286.9h0M102.6,281.5h0M110.2,282.8h0M97.9,281.4h0M104.3,293.7h0M110,281.3h0M111.7,282.3h0M118.3,298.9h0M119.6,294.8h0M118.9,285.6h0M107,286.3h0M110.5,292.9h0M105.7,281.7h0M105.4,276.9h0M104.4,296h0M119.6,287.3h0M98.3,287.3h0M111.1,286.1h0M117.5,299.1h0M120,296.2h0M117.9,289.4h0M115,298.3h0M103.7,284.3h0M108.8,290.4h0M114.4,287.8h0M105.6,276.5h0M103.7,275.5h0M105.7,281.6h0M115.7,292h0M99.4,282h0M111.7,295h0M101.9,280.4h0M110.2,298.1h0M108.9,294h0M101.1,272.8h0M101.7,277.9h0M102.6,272.2h0M113.5,290.4h0"/>
<path d="M109.6,281.1h0M101.2,273.8h0M105.2,292.1h0M109,280.9h0M115.3,293.5h0M120.3,302.5h0M97.4,280.9h0M105.3,277.6h0M106.8,283.4h0M102.6,286.6h0M121.6,291.3h0M102.9,290.2h0M106.8,293.3h0M116,297.3h0M109.3,290.3h0M103.7,278.5h0M107.9,279.7h0M107.4,291.2h0M106.5,292.4h0M102.9,274.5h0M107.9,292.4h0M115,292.9h0M112.2,295.3h0M101.1,294.3h0M111,291h0M112.6,282h0M107.2,289.5h0M108.2,286h0M102.3,298.3h0M108,291.8h0M103.2,272.1h0M115.2,303.2h0M111.5,296.8h0M115,290.3h0M105.6,296.2h0M116.3,301.4h0M108.1,283.1h0M101.6,297h0"/>
<path d="M108,278.9h0M108.5,281.4h0M108.3,291.2h0M107.2,297.4h0M114.8,293.1h0M116.6,294.1h0M117.1,295.7h0M107.1,286.3h0M109.7,284h0M109.9,282.8h0M113.8,294.3h0M102.4,285h0M98.7,292.4h0M108.1,281h0M103.7,265.3h0M107.1,281.3h0M111.1,289.2h0M105.5,287.2h0M111.8,297.4h0M106.6,293.2h0M103.2,284.1h0M114.4,293.6h0M111.5,297.8h0M104,291.6h0M102.1,286.9h0M107.5,292.1h0M101.1,289.4h0M107.3,292.9h0M101.8,291.7h0M98,282.5h0M114.2,294.1h0M108.8,292.6h0M129.4,307.3h0M110.6,291.7h0M102.7,281.1h0M101.6,283h0M103.3,262.6h0M105.3,283.2h0"/>
<path d="M99.8,282.7h0M106.6,282.8h0M113.2,292.4h0M125.8,297.9h0M107.5,295.7h0M106.1,295.5h0M108.7,295.9h0M110.6,291.7h0M103.9,279.6h0M113,297.1h0M101.7,273.3h0M108.2,287.9h0M105,302.4h0M115.9,300.5h0M102.5,271.6h0M110.1,295.4h0M108,298.8h0M107.9,282.1h0M103.5,293.4h0M112.3,304.4h0M108.1,295.6h0M95.4,277.5h0M110.6,283.5h0M110.8,292.3h0M100.7,288.5h0M104,295.8h0M102.6,277.7h0M114.9,301.2h0M97.5,267.6h0M106.4,294.2h0M112,296h0M100.3,283.2h0M121.2,286.3h0M111,290.3h0M110.9,297.9h0M111.5,285.5h0M110.4,272.1h0M103.4,274.9h0"/>
<path d="M107.4,284.8h0M108.6,282.5h0M110.8,292.4h0M104.5,273.2h0M101.5,287.6h0M110.1,293.3h0M107.9,286.6h0M117.4,291.1h0M114.2,290.9h0M112.5,293.6h0M100.3,275.7h0M108.8,274.2h0M122.4,299.1h0M107.9,298.5h0M111.5,284.5h0M108.8,289.1h0M106.7,281.3h0M107,283h0M113.3,284.9h0M104,292h0M102.5,284.4h0M100.1,272.8h0M103.8,276.3h0M108.7,292.2h0M101,306.5h0M118.9,284.6h0M101.4,258.7h0M99.2,287.8h0M129.9,295h0M104.1,278.4h0M104,289h0M112,296.7h0M104.8,284.1h0M108.7,292.6h0M110.5,279.8h0M120.5,301.9h0M105.8,280.9h0M113.6,286.6h0"/>
<path d="M110.6,293.7h0M109.1,274.3h0M106.6,285.6h0M100.6,285.9h0M108.3,278.7h0M102.2,283h0M115,295.9h0M106.9,290.9h0M102.4,279.2h0M92.2,266.8h0M105.9,286.1h0M108.1,285.9h0M111.3,296.2h0M107.8,273.5h0M115.4,300.8h0M104.7,291.4h0M122.7,303.5h0M124.1,305.4h0M116.7,294.8h0M110.4,300.7h0M104.4,290.1h0M100.8,284.2h0M114.2,298.9h0M100.8,279.3h0M123.2,297.6h0M110.8,290.4h0M105.5,263.7h0M98.9,295h0M104.7,288.4h0M104.9,292.3h0M114.1,292.5h0M101.5,279.9h0M113.5,292.9h0M111,298.7h0M118.5,291h0M100.5,279.6h0M104.3,286h0M100.9,284h0"/>
<path d="M109.8,296.7h0M108.6,284.2h0M104.6,283.4h0M103.6,289.6h0M100.6,291.1h0M109.4,293h0M120.7,294h0M117.5,297.3h0M106.3,288.9h0M98.7,270.4h0M99.4,262.9h0M107.1,295.1h0M103.8,289.4h0M101.3,279.6h0M105,277.9h0M95.2,293h0M107.2,300.8h0M108.3,290.9h0M116.5,295.5h0M99.6,282.4h0M105.3,268.8h0M107.9,301h0M106.4,290.2h0M107.8,289.8h0M111.8,294.6h0M107.5,297.7h0M108.9,289.9h0M114.1,292.1h0M114.5,303h0M102.3,282.5h0M105.7,292.4h0M103,298.7h0M111.9,293.5h0M108.4,299.6h0M102.7,273.8h0M101.7,280h0M104.2,296.9h0M98.2,278.8h0"/>
<path d="M116.5,292.3h0M103.1,280.9h0M113.1,289.1h0M104,285.3h0M110,283.4h0M101.8,291h0M107.6,286.6h0M102.3,295.5h0M109.8,296.7h0M99.8,293.2h0M100,260.2h0M107,286.5h0M104.7,290.1h0M105,271.1h0M96.7,287.7h0M104.3,296.9h0M102.6,264.4h0M106.6,290.4h0M97.8,296.9h0M109.3,289.2h0M106.7,295.3h0M110.3,285.7h0M106,284.1h0M107.4,282.3h0M109,286.4h0M112.3,296.7h0M105.9,285.6h0M114.1,296.3h0M105.2,299.8h0M105.2,295.4h0M101.5,293.9h0M105.3,296.4h0M98,279h0M100.3,278.4h0M106.5,282.2h0M115.5,293.5h0M107.5,297.2h0M109.8,285.4h0"/>
<path d="M101.3,295.9h0M108.9,294.2h0M100.9,298h0M110.1,280.6h0M104.7,289.4h0M114.6,292.1h0M109.8,290.6h0M122.3,289.8h0M101.6,286.1h0M110.4,291.4h0M114.1,287.6h0M103.2,291.3h0M104.3,286.8h0M117.7,295.2h0M109.7,296.2h0M103.1,284.5h0M107.1,283.8h0M107.1,286.9h0M100.6,283.2h0M106.4,292h0M105,284h0M110,289.8h0M113.7,282.8h0M117.4,295.3h0M111.8,289.9h0M112.9,288h0M105.3,294.1h0M111.3,277.1h0M104.3,261.9h0M106.2,283.2h0M104.5,297.9h0M108.6,274.4h0M108,302h0M108.9,286.7h0M103.8,287.4h0M115.9,298.1h0M116.8,296.3h0"/>
<path d="M109.3,303.3h0M106.6,288h0M108.9,285.8h0M104.3,286.6h0M101.8,293.2h0M109.2,295.8h0M102,286.3h0M109.3,267.1h0M111.4,287h0M104,274.5h0M113.7,292.3h0M97.3,261.6h0M106,300.8h0M117.3,297.4h0M98.9,272h0M105,287.8h0M115.6,285.1h0M108.6,275.8h0M96.9,291h0M109.9,275.7h0M110.4,288.2h0M103.2,284.5h0M104.3,280.6h0M105.4,290.2h0M110.9,296.5h0M106.4,292.1h0M109.2,282.5h0M106.3,280.4h0M102.7,289.7h0M108,284.9h0M99.7,274.7h0M123.2,295.7h0M105.6,275.8h0M111.2,296.8h0M102.7,291.5h0M121.2,285.8h0M97.1,284.4h0"/>
<path d="M106.1,298.1h0M96,274.4h0M112.7,290.7h0M110.4,281.2h0M106.4,290.9h0M103.5,290h0M100.5,287.5h0M107.8,296.8h0M105.9,280h0M100,280.3h0M113,295.6h0M100.4,280.6h0M115.6,304.3h0M95.5,286.6h0M119.7,296.6h0M106,284.5h0M104.2,290h0M108.8,276.6h0M113.7,285h0M101.1,293.8h0M99.5,285.1h0M113.8,293.3h0M114.9,287.4h0M94.1,268.8h0M124.9,293.8h0M114.2,279.2h0M112.2,282.8h0M113.2,296.9h0M121.6,303.1h0M116.5,289.4h0M105.6,259.7h0M105.6,286.5h0M118.3,289.9h0M107.5,273.5h0M105.2,289.8h0M108.8,293.9h0M120.2,291.1h0"/>
<path d="M107.6,284.6h0M104,298.9h0M115.9,304.7h0M103.8,294.4h0M124.1,290.8h0M111.9,297.1h0M100.3,285.2h0M105.9,288.4h0M109,273.3h0M110.4,296.2h0M117.9,274.4h0M104.9,291.9h0M110.1,283.9h0M123.9,284h0M108.7,283.5h0M103,285.8h0M98.1,285.9h0M112.4,297h0M115,295.6h0M102.7,296.1h0M100.7,283.4h0M121.3,300.1h0M112.2,294.7h0M109.1,287.9h0M111.2,292.9h0M98.8,289.2h0M93.1,281.2h0M106.7,292.6h0M102.6,289.9h0M105,293.7h0M101.7,281.5h0M110.2,302.7h0M105.7,294h0M105.9,286h0M110.6,290.5h0M108.3,285.1h0M109.5,297.2h0"/>
<path d="M103.9,286.3h0M113.9,276h0M99,282.7h0M104.1,274.4h0M110,291.5h0M103.9,285.6h0M115.8,302h0M108.7,273.8h0M105,290.3h0M111.4,288.4h0M96.8,287.1h0M111.9,297.8h0M104,287.5h0M118.8,289.9h0M111,286.7h0M108.3,288.5h0M105,294.6h0M112.2,278.2h0M104.9,283.7h0M103.9,286.1h0M112.7,271.5h0M107.6,298.7h0M111,289.5h0M114.3,286.5h0M110.5,289.5h0M100.6,276.8h0M101.3,295.5h0M103.4,289.7h0M101.6,260.7h0M111.5,291.8h0M114.5,281.9h0M109.8,295.1h0M110.1,292h0M108.6,289.2h0M111.3,287.5h0M100.9,276.2h0M116.8,286.9h0"/>
<path d="M107.3,290.1h0M109.1,291.3h0M110.1,295.6h0M107.9,291.8h0M110.2,295.1h0M108.5,295.9h0M104.9,302.2h0M110.7,274h0M100.4,292.2h0M107,292.6h0M107.9,285h0M102.2,279h0M96.1,267.7h0M103.1,298.1h0M108.7,294.6h0M103.2,283.9h0M100.2,288.5h0M108.7,293h0M102.1,288.4h0M99.7,277.2h0M104.4,297.4h0M114.1,289.4h0M106.5,279.4h0M98.6,279h0M105.8,289.6h0M108.3,279.7h0M105.2,293.9h0M111.1,297.4h0M109.6,277.2h0M112.5,289.6h0M101.3,278.9h0M105.5,283.9h0M116.9,276.7h0M107,284.4h0M113.9,288.6h0M105.7,293.1h0M113,297.1h0"/>
<path d="M99.8,268.1h0M104.4,281.4h0M105.6,289.2h0M107.6,284h0M100.7,286.6h0M102.6,293.6h0M117.4,296h0M108.4,275.5h0M111.2,298h0M99.6,270.4h0M103.4,291.4h0M121.3,300.6h0M118.2,302.1h0M111.8,298.1h0M113.4,291.1h0M99.4,292.2h0M105.3,292.5h0M96.9,270.7h0M103.4,293.3h0M97.2,280.8h0M106,286.9h0M107.6,282.8h0M103.8,295.1h0M112.8,295.7h0M113.3,288.3h0M100.2,282.4h0M108.8,288h0M100.9,276.7h0M110.8,285.9h0M112.1,280.9h0M115,291.2h0M98.9,292.5h0M113.6,286.6h0M101.2,291.3h0M105.3,288h0M107,284.1h0M110.9,291.3h0"/>
<path d="M103.7,283.8h0M103.9,301.8h0M105.7,296.6h0M99.7,273.4h0M110.9,298.1h0M103.8,294.5h0M101,279.1h0M99.6,284.4h0M108.1,287.9h0M108.7,295.4h0M113.6,296.9h0M106.2,296.8h0M114.3,295.5h0M113.1,297.8h0M111.5,286.8h0M109.1,295.6h0M98.5,295h0M112.3,288.6h0M101.9,295.2h0M100.8,291.2h0M104.2,279.1h0M94.3,292.9h0M109.7,283h0M114.7,291.4h0M109.7,285.6h0M117.8,289.9h0M95.6,292.1h0M109.1,293.5h0M109.4,294.1h0M105.8,289.5h0M111.6,300.8h0M107.2,295.4h0M100.4,269.7h0M106.9,293.8h0M106.3,282.8h0M109,278.3h0M102.5,294.7h0"/>
<path d="M113.1,294.7h0M109.1,289.3h0M112.6,286h0M109.7,295.1h0M98.8,281.3h0M112.6,300h0M102.3,289.8h0M120.3,285.2h0M108,302.3h0M101.9,293.3h0M101.6,290.8h0M102.7,286.6h0M106.8,297.5h0M94.8,290.4h0M109.7,291.1h0M106.4,265.7h0M116.7,283.5h0M108.8,289.3h0M103.5,278.5h0M110.4,283.4h0M104.1,294.6h0M103.3,291.1h0M100.7,282.5h0M108.4,286.3h0M108.6,286.2h0M107,293.7h0M104.4,278.5h0M105.6,303.4h0M101.6,277.1h0M120.8,292.7h0M98.4,282.4h0M96.6,271.8h0M107,288.2h0M103.1,291.2h0M104.7,294h0M102.3,279.8h0M102.4,284.6h0"/>
<path d="M103.8,275.7h0M104.6,295.8h0M108.3,284.4h0M105.7,269h0M103.6,278.6h0M119.9,292.9h0M108.1,295.6h0M103.5,286h0M105,297.5h0M105.9,287.1h0M109.6,276h0M111.8,297.1h0M109.3,264.4h0M106.2,279.1h0M108.4,298.1h0M109.3,287.3h0M106.5,295.8h0M116.5,298.2h0M102.5,285.5h0M105.7,302.1h0M100.8,294.3h0M104.9,300.9h0M108.8,294.3h0M104,286h0M94.1,260.4h0M113.6,281.7h0M115,293.4h0M107.7,292.8h0M107.6,276.7h0M99.3,283.6h0M106.2,286.6h0M109.2,298.1h0M109.4,296.2h0M100.4,285.6h0M91.3,272.6h0M105.8,290.2h0M112.3,303.3h0"/>
<path d="M105.2,288.1h0M98.8,284h0M94.3,267.7h0M119.8,293.6h0M108.3,281.2h0M118.3,288h0M113.5,292.5h0M102.2,293.5h0M110.4,289h0M108.3,289.8h0M112.4,294h0M114.9,293h0M104.8,300.3h0M108,290.9h0M98.9,269.9h0M113.3,282.1h0M110.7,283.7h0M95.4,268.4h0M111.6,299.2h0M108.5,298.8h0M107.4,300.8h0M110.4,301.9h0M102,280h0M107.5,276h0M106.2,278.7h0M107.8,288.4h0M106.6,293.1h0M119.3,308.5h0M112.4,292.6h0M103.7,294.2h0M105.5,289.5h0M99.3,283.4h0M110.4,293.6h0M109.8,283.2h0M107.3,299h0M113.6,290.2h0M110.7,291.8h0"/>
<path d="M109.3,301h0M99.8,292.9h0M111.3,287.6h0M105.9,291.3h0M121.4,281.8h0M113.9,294.1h0M102.2,294h0M101.6,282.4h0M104.6,285h0M108,289.6h0M113.3,302.3h0M117,291.6h0M103.3,294.9h0M106,282.7h0M111.2,295.3h0M98.9,287.5h0M106.9,297.2h0M112.1,285.7h0M121,294.5h0M106.6,291.5h0M106.6,271.2h0M112.2,284.6h0M114.6,289.6h0M105.4,301.5h0M102.3,281.5h0M104.6,292.1h0M107.7,289.2h0M99.7,285h0M103.1,290.1h0M108.9,299.8h0M103.6,289.9h0M108.8,292.8h0M105.7,279.1h0M108.9,284.8h0M107.4,287h0M117.9,295.6h0M121.7,290.7h0"/>
<path d="M110.4,295.4h0M123.2,302.8h0M101.2,280.3h0M108.9,275.1h0M102.9,280.6h0M108.3,298.3h0M104.3,295.1h0M111.4,288h0M108.1,299.8h0M105.5,294.3h0M117.7,300.2h0M112.6,276.3h0M124.6,294.3h0M99.7,282.2h0M105.4,293.9h0M105.4,287.4h0M111.7,290.8h0M95.7,292.1h0M106.1,279.8h0M118.7,305.6h0M101.8,281h0M103.6,288.2h0M107.7,293.6h0M108.9,288.1h0M111.8,294.8h0M105.9,287.9h0M112.7,297.7h0M109,285.4h0M117.8,293.6h0M103.3,296.4h0M105.9,287.8h0M113.6,300.7h0M113.3,290.7h0M112.7,298h0M104.1,288.7h0M111,295.2h0M91.9,291.5h0"/>
<path d="M115,297h0M105.2,299.6h0M110.3,286.4h0M101.8,278.4h0M110,304.4h0M112.5,302.2h0M103,290.3h0M102.6,271.6h0M117.8,290h0M106.3,282.2h0M117,302.1h0M110.6,278.4h0M95.4,268.4h0M106.3,300h0M108.6,294h0M100.1,270h0M105.2,295h0M107.4,276.4h0M112.1,291.3h0M104.4,288.1h0M107.2,294.1h0M101.3,270.8h0M113.5,293.7h0M115.3,292.4h0M97,283.7h0M112.8,282.3h0M111,285h0M114.8,296.3h0M104.2,283.5h0M107.9,282.8h0M120.9,295.7h0M102.9,286.2h0M103,290.8h0M105.6,279.2h0M108.2,276.9h0M112.5,291.8h0M103.7,289.3h0"/>
<path d="M102.7,283.9h0M107.1,278h0M103.8,275.4h0M110.2,269.8h0M105.3,284.8h0M106.6,292.6h0M119.3,294.8h0M105.4,292.2h0M105,287.1h0M110.8,292.2h0M107.8,292.1h0M105.2,275.8h0M105.4,301.9h0M110.5,295.2h0M113.1,284.8h0M108.1,287h0M104.3,291.2h0M105.2,288.3h0M117.3,288.7h0M106.2,292.4h0M113.9,296.6h0M101.9,297h0M101.5,291.5h0M108.5,281.7h0M103.8,286.1h0M105.6,289.3h0M102.9,287.9h0M112.6,302.7h0M110,294.9h0M111,304.4h0M106,290.7h0M110.6,289.2h0M104.7,304.4h0M110.1,262.5h0M114.1,296.3h0M117.5,295.7h0M94.3,287.7h0"/>
<path d="M105.7,289.3h0M107.9,295h0M103,286h0M103.9,286.4h0M97.3,293h0M106.7,292.4h0M109.4,291.1h0M117.3,299.6h0M109.7,284.6h0M107.5,296.8h0M99,287h0M108.3,294.5h0M109.7,297.2h0M109.6,297.7h0M102.4,283.9h0M99.7,278.5h0M101.7,286.8h0M112.6,287.1h0M116.4,296.7h0M112.2,293.7h0M97.1,284.5h0M106,287.4h0M107,290.6h0M104.4,291.1h0M101.1,284.2h0M97,293.4h0M108,284.4h0M109.5,293.4h0M108.3,303.5h0M106.7,291.4h0M100.5,288.6h0M114.4,304.7h0M116.8,288.3h0M108,295.4h0M100.4,289.2h0M97.1,286.5h0M120.9,298.4h0"/>
<path d="M100.2,279.7h0M108.9,297.9h0M107,281.6h0M108,298.2h0M110.7,294.2h0M105.9,288.7h0M109.8,280.5h0M112.6,289.3h0M104.7,278.1h0M94.6,238.4h0M109.6,276.7h0M109.1,285.5h0M110.3,304.8h0M101.1,276.1h0M102.7,267.7h0M94,268.1h0M103.3,291.1h0M96.6,287.1h0M105.8,301.3h0M107.6,289.2h0M113,289.8h0M105.1,279.3h0M103.4,294.7h0M111.8,289.6h0M107.4,294.9h0M116.6,299.9h0M102.7,270.5h0M102.1,277.8h0M105.3,271.6h0M105.2,297.5h0M102,286.4h0M101.1,275.5h0M105.5,279.6h0M110.8,278.3h0M109.5,301.1h0M120.4,300.2h0M103.1,292.2h0"/>
<path d="M109.8,290.7h0M111.1,301.3h0M110.2,298.7h0M112.3,288.8h0M123.6,301h0M113,293.2h0M103.1,289.5h0M106.9,283.9h0M108.9,291.1h0M102.5,281h0M117,299.5h0M103.2,293.3h0M107.3,281.9h0M123.5,294h0M112.1,301.4h0M115.2,293.4h0M112,292.8h0M111.7,291.6h0M110.3,299.8h0M108.7,286.2h0M103.5,293.5h0M107.4,281.7h0M106,298.3h0M105.5,293.1h0M108.3,297.2h0M105.2,276.4h0M110,292.3h0M116,294.5h0M113.8,287.5h0M110,291.2h0M104.1,284.7h0M96.3,288.8h0M99.7,284h0M102.8,295.6h0M103.5,280.2h0M107.1,298.5h0M99.2,277.2h0"/>
<path d="M107.5,291.5h0M107.4,290.5h0M101.8,278.2h0M99.9,297.1h0M111.7,287.9h0M109,286.4h0M106.1,299h0M101.4,268.1h0M105.8,288h0M106.8,292.6h0M114.7,299.9h0M109.9,294h0M105.6,283.1h0M101.3,289.9h0M103,289.9h0M100.9,294.3h0M113,294.6h0M98.4,283.1h0M115.8,295.9h0M110.2,290h0M104.6,282h0M113.3,275.6h0M100.7,276.6h0M98.9,294.7h0M109.9,286.8h0M105.6,289h0M111.3,290.3h0M104.7,299.7h0M99.6,290.2h0M104.9,290.7h0M122.8,294.3h0M103.4,292.9h0M116.5,293.5h0M113.1,295.7h0M106.2,298.1h0M98.5,278.8h0M111.2,274.9h0"/>
<path d="M108.2,292.3h0M104.6,272.7h0M114.8,294.3h0M96.6,272.2h0M102.6,286.6h0M100,291h0M102.7,294.4h0M106.5,285.6h0M111.9,288h0M113.3,285.5h0M96.9,278.5h0M97.7,286.6h0M109,291.9h0M103.5,273h0M104.2,286.2h0M103.7,296.5h0M103.7,294h0M104.3,305.3h0M114.4,291.6h0M101.7,285.1h0M108.6,284.4h0M100.8,281h0M113,301.9h0M109,297h0M104,286.4h0M106.1,295.1h0M113.2,305.8h0M120.6,302.6h0M106.7,286.6h0M103.8,277.4h0M104.1,284h0M108.6,288.8h0M100.2,285h0M103.3,285.5h0M106,276h0M109.2,294.5h0M111.8,288.3h0"/>
</g>
<polygon points="161.5,310.6 161.3,308.8 160.6,306.9 159.6,305 158.2,303 156.5,301 154.4,299 152.1,297 149.6,295.1 146.9,293.2 144.2,291.5 141.3,289.8 138.4,288.2 135.6,286.8 132.7,285.5 130,284.4 127.4,283.5 124.9,282.8 122.6,282.3 120.5,282 118.5,281.9 116.7,282 115.1,282.3 113.7,282.8 112.5,283.5 111.4,284.4 110.6,285.5 109.9,286.8 109.5,288.2 109.2,289.8 109.1,291.5 109.2,293.2 109.5,295.1 109.9,297 110.6,299 111.4,301 112.5,303 113.7,305 115.1,306.9 116.7,308.8 118.5,310.6 120.5,312.3 122.6,313.8 124.9,315.3 127.4,316.5 130,317.6 132.7,318.5 135.6,319.2 138.4,319.8 141.3,320.1 144.2,320.2 146.9,320.1 149.6,319.8 152.1,319.2 154.4,318.5 156.5,317.6 158.2,316.5 159.6,315.3 160.6,313.8 161.3,312.3" fill="#66A61E" fill-opacity="0.4" stroke="none" filter="url(#bl)"/>
<polygon points="155.7,309.1 155.5,307.6 155,306 154.2,304.4 153.1,302.7 151.7,301 150.1,299.3 148.2,297.7 146.2,296 144,294.5 141.7,293 139.4,291.5 137,290.2 134.7,289 132.3,288 130,287 127.8,286.3 125.7,285.7 123.7,285.2 121.9,285 120.2,284.9 118.6,285 117.2,285.2 115.9,285.7 114.9,286.3 113.9,287 113.2,288 112.6,289 112.2,290.2 111.9,291.5 111.9,293 111.9,294.5 112.2,296 112.6,297.7 113.2,299.3 113.9,301 114.9,302.7 115.9,304.4 117.2,306 118.6,307.6 120.2,309.1 121.9,310.5 123.7,311.8 125.7,313 127.8,314.1 130,315 132.3,315.8 134.7,316.4 137,316.8 139.4,317.1 141.7,317.2 144,317.1 146.2,316.8 148.2,316.4 150.1,315.8 151.7,315 153.1,314.1 154.2,313 155,311.8 155.5,310.5" fill="#66A61E" fill-opacity="0.6" stroke="none" filter="url(#bl)"/>
<polygon points="149.5,307.4 149.4,306.2 149.1,305 148.5,303.7 147.6,302.4 146.6,301 145.4,299.7 144,298.4 142.5,297.1 140.8,295.8 139.1,294.6 137.3,293.5 135.5,292.5 133.7,291.5 131.8,290.7 130,290 128.3,289.4 126.6,288.9 125,288.5 123.5,288.3 122.1,288.3 120.8,288.3 119.6,288.5 118.6,288.9 117.7,289.4 116.9,290 116.3,290.7 115.8,291.5 115.4,292.5 115.2,293.5 115.2,294.6 115.2,295.8 115.4,297.1 115.8,298.4 116.3,299.7 116.9,301 117.7,302.4 118.6,303.7 119.6,305 120.8,306.2 122.1,307.4 123.5,308.5 125,309.6 126.6,310.5 128.3,311.4 130,312.1 131.8,312.7 133.7,313.2 135.5,313.5 137.3,313.7 139.1,313.8 140.8,313.7 142.5,313.5 144,313.2 145.4,312.7 146.6,312.1 147.6,311.4 148.5,310.5 149.1,309.6 149.4,308.5" fill="#66A61E" fill-opacity="0.7" stroke="none" filter="url(#bl)"/>
<g stroke="#66A61E" stroke-opacity="0.08">
<path d="M128.3,300.1h0M123.4,309.4h0M115.4,292.4h0M128.5,290.3h0M115.6,291.8h0M135.6,308h0M166.7,301h0M123.8,290.7h0M129.8,299.7h0M131.2,303.8h0M134.8,297.7h0M134.6,309.1h0M126.4,308h0M119.7,294h0M121.3,287.7h0M126.9,293.9h0M115.2,291.3h0M139.1,299h0M138.3,308.5h0M133.8,302h0M115.6,292.3h0M115,296.9h0M129,288.6h0M123.7,297.6h0M132.1,299.2h0M127.4,299.5h0M135,303.7h0M122.4,296.6h0M126,310.8h0M122.4,300.9h0M143.9,303.8h0M118.1,289.1h0M124.7,305.9h0M126.1,292.5h0M141.8,305.4h0M133,299.7h0M140.4,310.1h0M134,307.7h0M137.8,300.5h0M139.5,307.8h0M129,291.1h0M127.8,304.7h0M129.8,305.2h0M115.6,301.9h0M118,286h0"/>
<path d="M160.5,309.3h0M129.5,303.4h0M131.8,312.4h0M132.9,298.8h0M134.9,303.4h0M125.3,306.6h0M136,303h0M123.6,300.3h0M120.5,291.4h0M132.8,305.1h0M134.6,308h0M109.1,299.2h0M145,299.6h0M146.5,296.7h0M129.5,285.7h0M124.3,293.3h0M127.4,298.1h0M142.6,315h0M132.9,302.7h0M136.8,308.2h0M139.6,307.3h0M135,307.5h0M147,297.3h0M128.9,311.1h0M106.5,276.5h0M132.3,300.4h0M128.1,290.4h0M136.3,302h0M122.5,295.6h0M132.2,301.1h0M132,317.7h0M123.5,294.8h0M116.6,288h0M127.2,307.4h0M140,299.8h0M134.5,295.6h0M127.1,303.5h0M128.5,296.6h0M122.6,304.7h0M133.5,292.7h0M122.3,305.2h0M137.8,303h0M136,293.4h0M148,304.5h0M121.6,288.6h0"/>
<path d="M133,307h0M126.9,301.3h0M116.7,315.3h0M127.6,300h0M109.1,283.3h0M129.5,295.7h0M139.2,312.1h0M123.8,302.6h0M156.5,317.1h0M129.2,309.8h0M130.9,310.6h0M131.7,302.5h0M122.7,294h0M150.6,305.5h0M129.7,299.7h0M127.2,297.2h0M128.3,308.1h0M139.6,294.3h0M125.3,286.1h0M143,312.7h0M114.4,308.3h0M128.8,306.4h0M138.9,292.6h0M131.5,294.8h0M122.1,300.3h0M131.7,302.4h0M129.3,294.2h0M129.3,297h0M149,313.2h0M129.6,298.3h0M130,297.1h0M128,304h0M148.4,310.7h0M132.7,294.9h0M121.5,292.9h0M121.3,293.6h0M149.8,301.3h0M120.6,295.6h0M133.4,314.1h0M118.1,297.5h0M124.9,302.7h0M156.6,305.6h0M142.2,302.1h0M134.2,289.6h0M139.6,304.4h0"/>
<path d="M132.5,300.4h0M140,311.8h0M115.3,301.8h0M136.9,302.4h0M140.1,305.7h0M139.1,301.6h0M129.2,300.5h0M132.4,297.4h0M147.8,302.9h0M130.1,298.2h0M138.1,302.1h0M130,300.9h0M130.3,303.9h0M123.2,296.6h0M129.3,309.7h0M148.2,310.4h0M113.5,288.9h0M131.3,305.1h0M134.2,313.9h0M133.3,292.3h0M128.4,291.2h0M135.5,303.6h0M134.5,301.9h0M119.6,299.1h0M137,312.9h0M155.5,312.3h0M128.4,302.5h0M128.6,294.5h0M160.4,325.5h0M125.9,303.8h0M123.3,292.8h0M138.2,297.4h0M117.3,300.9h0M123.5,288.9h0M131.7,296.9h0M141.3,309h0M129.5,296.5h0M132.7,298.9h0M127.9,299.3h0M134.7,305.4h0M117.3,299.5h0M125.2,295.9h0M144,302.8h0M134.3,299h0M127.5,284.1h0"/>
<path d="M125.1,299.6h0M145.9,305h0M140.4,309.4h0M148.1,308.4h0M130.2,299.6h0M136.5,301.8h0M135.4,297.3h0M130.2,308.8h0M160.7,309.4h0M140.5,290.9h0M125.4,298.2h0M117.4,300h0M134.3,304.3h0M134,301.7h0M144.6,304.8h0M159.5,306.4h0M127.2,298.3h0M134.3,305.4h0M124.3,309.4h0M122.6,303.5h0M140.4,312.1h0M134,307.8h0M148.8,296h0M117,294.5h0M123.5,302h0M137.4,297.2h0M140.2,302h0M136.8,294.2h0M140.4,295.6h0M134.2,308.7h0M118.1,299.2h0M142.6,292.1h0M117.6,296h0M141,298.6h0M119.3,287.9h0M132.2,306.1h0M124.7,297.3h0M131.3,303.1h0M142.8,299.5h0M154.4,304.2h0M120.1,293.2h0M116.9,301.3h0M133.4,299.7h0M148.5,303.7h0M144.6,301.6h0"/>
<path d="M138.2,300.4h0M124.1,301.4h0M114.4,301.8h0M125.6,303.2h0M139.4,301.8h0M132.9,303.4h0M153.5,298.4h0M134.9,299.5h0M122.3,301.2h0M133.2,300.5h0M134.9,305.9h0M122.7,295.4h0M120.7,305.8h0M139.4,298.8h0M131.7,302.4h0M138.6,295.5h0M115.5,293.2h0M116.4,297.7h0M134,301.8h0M149.6,309.2h0M127.7,300.4h0M130,299.6h0M133.2,304.6h0M136.7,293.3h0M131.8,308.9h0M122.7,300h0M131.5,298.8h0M135.3,301h0M136.1,298.2h0M120.7,299.3h0M125.5,307.5h0M143.5,301.6h0M130.8,323.7h0M132.2,301.8h0M126.1,310.2h0M132.7,313.8h0M128.1,301.9h0M123.1,293.8h0M138.5,304.3h0M121.6,297.2h0M118.5,296.3h0M125.3,296.9h0M113.4,295.2h0M130.1,293.7h0M132.7,319.1h0"/>
<path d="M129.5,301.7h0M120.2,298.4h0M128.2,303.7h0M123.6,301.2h0M115.6,303.5h0M141.1,309.6h0M123.9,296.2h0M122.7,284.9h0M128.7,297.9h0M128.7,299.1h0M126.6,302.3h0M139.4,309.3h0M127.8,293.4h0M135.8,308.8h0M125.3,307.6h0M120.3,293.5h0M130.7,294.7h0M121.3,291.3h0M116.7,285.5h0M131.9,299.4h0M141.6,298.7h0M120.7,286.8h0M155.3,301.1h0M133.4,300.1h0M138.3,303.8h0M125.8,299h0M124.6,289.1h0M145.1,310h0M149.7,305.5h0M110.3,295.7h0M146.4,316.1h0M134.9,311.2h0M118.4,292.2h0M131,300.7h0M122.8,287h0M131.8,301.1h0M131.2,299.8h0M115.7,292.2h0M112.6,299.6h0M132.1,304.8h0M126.2,301.2h0M133.5,298.3h0M132,293.8h0M126.5,296.6h0M136.5,303.9h0"/>
<path d="M139.3,314.3h0M134.4,301.7h0M134.3,294.9h0M129.1,297.1h0M130.5,299.3h0M116,296.7h0M127.5,297.7h0M138.6,300.1h0M119.3,298.8h0M142.1,312.8h0M134.9,302.2h0M144,302.5h0M119.2,295.3h0M130.4,305.7h0M123.4,295.5h0M122.7,309.9h0M141.6,312.4h0M130.9,304.7h0M127.4,300.7h0M138.6,298.6h0M134.9,295.3h0M129.2,306.8h0M130.5,303.2h0M130.7,307h0M135.4,303.9h0M113,312.5h0M123.7,301.9h0M141.6,311.7h0M123.7,305.4h0M145,305h0M133.9,297.4h0M135.4,313.6h0M129.1,291h0M118.9,308.8h0M136.9,291.3h0M149.9,314.1h0M136.6,308.3h0M131,301.8h0M140.5,317.8h0M120.3,293.7h0M144.9,311h0M139.6,287.1h0M127,301.5h0M119,296.8h0M144.4,292.4h0"/>
<path d="M135.7,312.4h0M128.2,305.5h0M140.8,303.6h0M170.1,319.1h0M114.7,287.8h0M125,304.7h0M117.1,293.7h0M133.7,303.9h0M135.2,295.3h0M136.9,294.5h0M110.9,289.5h0M120.3,289.4h0M139.5,301.2h0M126.4,298.1h0M141,306h0M129.8,298.4h0M128.1,306h0M143.2,306.7h0M117,288.3h0M132.6,303.2h0M141.8,307.3h0M126.1,297.5h0M136,299.3h0M137.7,303.6h0M143.4,309.2h0M141.8,304.2h0M124.8,304.5h0M123,298.8h0M131.7,295h0M124.5,303.3h0M134.9,304.3h0M122.5,300.2h0M124.1,299.9h0M140.7,307h0M146.2,301.2h0M124.6,295.7h0M124.2,306.9h0M134,296.6h0M133.9,299.8h0M114.8,304.5h0M138.4,310.8h0M128.2,295.6h0M123.4,300.1h0M122.5,300.3h0M124,295.7h0"/>
<path d="M117.7,290.7h0M132.7,299.5h0M116.9,301.8h0M134.7,309.9h0M140.1,298.5h0M148,312.7h0M123,294.8h0M112.4,288h0M134.2,304.4h0M132.3,298.1h0M134.2,292.8h0M115.3,303.4h0M130.5,300.1h0M128.6,308.2h0M121.7,304.3h0M132.3,302.7h0M127,305.9h0M161.5,319.3h0M135.6,305.7h0M132.7,310.9h0M149.3,306.9h0M131.3,304.6h0M135.5,297h0M126,295.3h0M121.8,299h0M120.2,297.3h0M134.5,301.8h0M141.8,304.5h0M137.8,301.2h0M122.7,293h0M116.9,289h0M150.3,310.6h0M124.8,314.2h0M143.1,308.1h0M154.8,302h0M148.5,303.9h0M148.5,318.5h0M143.4,309.3h0M131,293.9h0M140.8,320.3h0M123.2,293.6h0M147.4,314.1h0M142,298.6h0M134.6,307.1h0M127,289.3h0"/>
<path d="M130.9,297.5h0M140.3,308.4h0M128.8,311.1h0M109.5,284.5h0M129.8,291.4h0M125.3,301.5h0M123.1,295.5h0M129.1,293.5h0M139.9,300.5h0M130.5,302.4h0M123.6,304.6h0M128.7,296.7h0M160.9,305.9h0M126.3,295h0M123.9,303.8h0M135.1,294.5h0M132.2,305.3h0M127.1,309h0M145.8,306.8h0M133.6,306.3h0M140.6,300.8h0M135.8,309h0M127.4,303.2h0M128.5,306.6h0M127.8,298.1h0M131.5,303.7h0M115.5,293.4h0M127.3,281.1h0M131.3,302.3h0M137.7,291.2h0M168,302.7h0M122.9,293.9h0M138.3,321.1h0M128.2,309.6h0M117.4,287.4h0M164.7,311.8h0M131,297.9h0M125.5,288.4h0M118.7,300.7h0M129.5,308.1h0M116.3,303.2h0M136.5,308h0M117.7,299.1h0M129.3,307.1h0M140.5,302.8h0"/>
<path d="M139.3,304.9h0M131.6,301.9h0M143.4,310.7h0M122.5,302.5h0M118,294h0M114.3,290.6h0M130.5,303.2h0M153.8,308.7h0M136.1,288.5h0M139.5,296.7h0M136.2,307.1h0M130.6,300.7h0M127.5,292.6h0M149.7,309.9h0M131,294.9h0M133.3,306.7h0M130,298.2h0M146.9,304.1h0M152.4,306.6h0M117.9,302.7h0M129.6,299.3h0M132.3,298.7h0M129.8,310.2h0M147.7,297.7h0M132.7,308.2h0M117.8,287.4h0M124.8,314.9h0M151.7,309.3h0M138,305.7h0M135.6,307.1h0M126.6,306.6h0M124.1,311.7h0M149,308h0M134.7,297.6h0M136.1,304h0M131,299.8h0M140.2,295.8h0M138.1,314.2h0M150.6,305.9h0M131.4,292.3h0M116.8,299.7h0M148.5,312.4h0M154.3,306.8h0M121.5,299.2h0M131.5,296.3h0"/>
<path d="M140.5,301.1h0M136.6,301.5h0M113.3,299.3h0M118,294.8h0M151.5,313.8h0M129,304.9h0M132.4,296.3h0M128.9,298.8h0M115.2,293.2h0M118.8,294.3h0M115.3,293.3h0M123.6,304.7h0M130.2,291.5h0M118.9,300.6h0M133.7,307.7h0M151.3,316.5h0M143.5,301.4h0M140.1,311.7h0M127.9,312.9h0M140.7,305.2h0M131.8,317.4h0M120.7,294.6h0M140.2,302.2h0M121.6,291.9h0M135.9,296.3h0M134.1,303.5h0M124.7,314.7h0M119.3,308h0M119.4,299.8h0M120.8,305.7h0M132.8,303.4h0M132.8,296.8h0M130.3,289h0M125.4,301.1h0M127.5,300.2h0M125.2,291.2h0M122.3,300.6h0M141,303.8h0M124.5,307.8h0M131.7,295.9h0M120.2,291h0M140.4,297.6h0M133.8,297.1h0M124.6,301h0M124.1,284.2h0"/>
<path d="M131.9,292.9h0M116.9,280.9h0M120.5,299.3h0M131.6,308.4h0M126.7,288.7h0M127.7,296.2h0M128,304.5h0M126.5,295.2h0M128.5,299.9h0M123.9,303.1h0M132.8,302.9h0M120.1,298.3h0M152.2,306.7h0M128.1,306h0M131.9,302h0M138,305.8h0M122.4,298.5h0M126.2,307.5h0M117.9,303.5h0M141.8,310.8h0M123.3,297.4h0M117.3,297.7h0M116.9,294.1h0M148.1,301.6h0M119,303.5h0M133.8,295.6h0M135.4,310.5h0M129.3,301.8h0M112.9,288h0M142.1,310.6h0M152.8,314.7h0M131.4,303.4h0M125.1,299.5h0M125.8,294.9h0M133.5,297.7h0M115.4,296.3h0M133.9,296.2h0M124.8,293.7h0M133.9,308.4h0M136.9,316.4h0M154.3,304.4h0M143.1,309.7h0M127.3,304.1h0M115.4,282.7h0M166.4,311.3h0"/>
<path d="M116.1,301.4h0M127,308.2h0M127.5,294.8h0M133.1,302.9h0M119.6,307.7h0M133.3,296.7h0M121.4,309.1h0M124,291.7h0M157.7,306.1h0M143.2,302.7h0M121.7,317.2h0M111,287.9h0M134.2,306.9h0M133.6,314h0M118.5,299.4h0M143.8,295.8h0M135.6,303.2h0M128.8,295.7h0M139.3,308.6h0M138.5,302.1h0M130.9,305.4h0M134.6,298.8h0M132.7,301.3h0M136.4,308.5h0M117.8,293.1h0M129.2,296.1h0M121.8,308.3h0M117.2,302.7h0M131.1,294.2h0M127.3,304h0M131.2,308.2h0M125.9,289.8h0M132,301.4h0M137,307.4h0M116.3,286.6h0M134.8,290h0M125.9,298.9h0M143.4,306.8h0M123.4,295.7h0M140.3,299.6h0M127.4,299.7h0M141.9,296.3h0M136.1,292.2h0M117.9,295.6h0M114.1,293.9h0"/>
<path d="M121.9,290.1h0M127.6,290.5h0M126.3,309.8h0M126.5,304.1h0M114.6,290.6h0M120.9,296.7h0M120.2,300.9h0M133.2,304.2h0M127,301.6h0M128.5,301h0M129,299.1h0M131.1,295.2h0M137.4,311h0M122,303.1h0M121.5,303.4h0M135.7,297.4h0M128.3,293.7h0M119.6,298h0M137.1,303.8h0M131.5,308.9h0M120.7,294.1h0M115.3,305h0M154.7,303.5h0M137.5,310h0M115.9,308h0M123.5,294.3h0M127.9,305.4h0M144,308.5h0M124.7,304.5h0M133.6,294.3h0M112,284.5h0M134,303.2h0M128.9,295.3h0M125.9,310.7h0M112.4,296.4h0M130.9,297.4h0M141,310h0M151.7,304h0M138.4,302.7h0M134.6,314h0M115.4,287.9h0M125.2,306.1h0M142.2,298.6h0M136.6,305.1h0M129.5,293.6h0"/>
<path d="M153.5,296.7h0M132.8,301.4h0M125.2,298.5h0M122.4,302.4h0M147.8,321.6h0M134.5,306.1h0M129.8,305.2h0M130.6,300.3h0M136.8,303.7h0M127.2,289.7h0M124,288.3h0M124.9,301.4h0M118,290.3h0M138.1,315.5h0M114.5,297.5h0M140.6,301.5h0M116.7,306h0M141.2,304.3h0M121.2,294.2h0M112.1,294.7h0M128.6,309h0M135.4,304.2h0M127.5,304.6h0M128.5,291.5h0M126.8,298.5h0M158.7,313.4h0M127.4,298.2h0M132.2,307.1h0M144.9,306.7h0M131.7,293.5h0M138.8,310.8h0M139.6,300.9h0M125.8,304h0M130.1,300.8h0M117.8,298.6h0M120,303.4h0M126.1,293.4h0M126.5,302.1h0M124.6,304.3h0M132,301.5h0M135.6,312.9h0M109.8,291.2h0M126.6,298.6h0M131.3,287.8h0M131.8,291h0"/>
<path d="M137.3,295.3h0M131.3,307.2h0M138.4,297.1h0M121.4,298.1h0M129,302.3h0M121.3,293.7h0M126.4,297.3h0M132.5,293.6h0M126.7,293.9h0M145.4,308.8h0M113.1,286.9h0M112.8,294.4h0M137.1,301.1h0M126.2,308.5h0M113,287.5h0M126.2,284.7h0M131.2,308.5h0M151.9,303.3h0M139.9,306.4h0M122.9,293.9h0M117.2,297.3h0M133.8,302.3h0M136,315.5h0M140.9,304.2h0M134.3,299.9h0M136.6,298.9h0M130.3,315.4h0M129,300.5h0M137.1,310.6h0M140.8,298h0M117.6,295.9h0M138.1,306.9h0M122.4,292.6h0M135.5,305.2h0M144.2,307.5h0M123.4,305.5h0M125.2,301.4h0M139.9,299.2h0M128,306.4h0M110.5,288.5h0M124.7,294.8h0M146.8,301.8h0M137.2,297.1h0M126.4,300.5h0M126.7,285.4h0"/>
<path d="M143.1,308.1h0M128.1,302.8h0M128.2,298.5h0M150.5,305.9h0M127.2,286.3h0M136.2,299.3h0M119.3,302.9h0M132.5,300.2h0M138.9,309.5h0M141.2,301.1h0M145.8,296.5h0M122.1,286.1h0M119.6,283.3h0M143.8,314h0M117,284.1h0M128.5,306.1h0M137.5,292.4h0M128,298h0M133,297.1h0M130.2,295.2h0M151.5,309h0M121.2,311h0M131.2,311.1h0M133.8,304.1h0M126.5,293.1h0M133.1,293.5h0M119.6,301.9h0M121.6,289.8h0M116.8,295.2h0M141.3,308.7h0M129.1,291.3h0M116.5,303.8h0M127.4,312.1h0M121.3,293.2h0M118.4,286.8h0M112.9,287.6h0M130.7,303.9h0M125.6,293.3h0M141.1,304.7h0M119.3,302.7h0M152.3,305.9h0M120.1,295.8h0M134.6,304.4h0M128.7,301.8h0M134.1,296.8h0"/>
<path d="M109,287.4h0M116.9,300.4h0M125.5,298.5h0M126.5,301.3h0M133.3,312.4h0M134.2,289.3h0M134.8,319.3h0M119.9,297.8h0M133.3,295h0M132.5,303.4h0M132.1,300.1h0M129.6,298.1h0M132.6,298.5h0M117.1,296h0M133.6,305.2h0M146.1,312.5h0M145.9,313.2h0M130.8,294.2h0M143.3,311.9h0M123.4,310.7h0M135.6,303.8h0M124.2,287.4h0M146.4,310.3h0M121.8,296.9h0M129.2,307.8h0M128.7,295.7h0M141.7,309.3h0M121.1,291.2h0M135.7,308.5h0M130.1,306h0M133.7,299h0M131.2,290h0M123.8,300.9h0M138.9,304.5h0M139,305.1h0M137.1,301h0M130.3,301.3h0M134.9,311.4h0M129.6,300.8h0M127.4,298.5h0M141,294.9h0M123.6,289.4h0M124.8,313.1h0M140.2,302.8h0M129.4,290.9h0"/>
<path d="M130.7,302.4h0M133.6,296.6h0M117,302h0M125.5,290.4h0M127.7,289.2h0M112.1,293h0M138,312.4h0M125.8,286.8h0M130.9,304.9h0M137.8,302.6h0M124.9,294.7h0M123.9,298.9h0M119,304.8h0M162.1,314.2h0M126.3,300.7h0M116.9,304.5h0M117.2,298h0M138.9,299.7h0M123.6,294.1h0M134.7,300.6h0M133.7,310.7h0M124.7,302.1h0M165.9,322.3h0M127.6,297.9h0M138.1,305.9h0M130.5,289.9h0M161.9,320.6h0M119.2,296h0M123.2,291h0M129.4,308.3h0M147.7,309.8h0M119.5,301h0M129,304h0M116.1,285.8h0M130,303.8h0M116.6,307.6h0M129.6,303.5h0M103.5,299h0M128.1,302.7h0M125,310.2h0M140.3,305.3h0M140.8,304.4h0M134.1,300.2h0M132.9,300h0M131.9,317.7h0"/>
<path d="M135,309.7h0M136.7,299.1h0M135.2,306.7h0M131.6,299.8h0M140.8,307h0M120.3,291.1h0M132.1,304.9h0M135.4,309.9h0M137.2,310.7h0M133.2,306.2h0M136.6,312.3h0M147,303.9h0M141.2,300.7h0M141.2,303.4h0M113.1,294.6h0M120.3,296.6h0M123.5,298.8h0M138.8,308.5h0M121,290.9h0M137.7,304.5h0M135.4,307.9h0M124.9,302.2h0M122.1,299.1h0M126.2,290.9h0M115,299.3h0M137.6,308.2h0M122.9,292.8h0M119.8,286.8h0M107.5,296.5h0M151.1,310.4h0M150.6,302.7h0M127.2,309.1h0M125.5,302.2h0M123.5,302.5h0M137.7,302.9h0M127.7,298.1h0M130.6,310.7h0M124.3,298.6h0M145.7,306.8h0M118.2,286.4h0M136.4,311.4h0M152.5,304.3h0M124.5,295.1h0M135,305.5h0M131,303.8h0"/>
<path d="M131,306.5h0M127,295.6h0M137.7,292.5h0M125.6,302.2h0M119.2,301.4h0M136.1,295.5h0M126.5,306.6h0M121,298.4h0M125.9,288.5h0M129.9,303.1h0M115.7,303.1h0M127.9,295.4h0M134.1,304.6h0M148,315.7h0M127.8,299.6h0M145.6,311h0M130.5,292.3h0M122.6,298.7h0M127.2,298.9h0M127.6,300.9h0M119.2,295h0M131.1,296.4h0M124.9,299.5h0M135.2,303.1h0M123.7,290.9h0M131.2,310.8h0M139.8,304.8h0M129.4,298.4h0M154.9,305.4h0M122.6,296.3h0M148.6,303.7h0M143.7,306.7h0M142.1,321.7h0M143.4,293.1h0M125.6,303.2h0M134,290.6h0M138.6,309.3h0M148.8,315h0M116.2,288.5h0M131.5,288.7h0M132.7,300.2h0M145.1,301.3h0M135.2,296.8h0M120,300.5h0M126.4,300.7h0"/>
<path d="M139,307.6h0M131.8,296.1h0M122.8,297.1h0M138.8,303.4h0M132.2,303.1h0M132.4,291.3h0M128.1,306.9h0M131.3,296.6h0M134.1,309.8h0M140.1,312.4h0M126.5,304h0M127.4,302.7h0M114.8,289.8h0M135.8,305.3h0M128.2,297.4h0M138.9,313.3h0M108.5,285.4h0M136.5,304.7h0M127.7,306.1h0M117.1,301.4h0M131.2,283.9h0M117.8,290.5h0M136.7,314h0M130.1,297.2h0M115.8,297.6h0M138.7,301.3h0M131.6,314.7h0M126.6,296.5h0M139.5,305.2h0M118.3,298h0M126.1,285h0M134,301.8h0M131.5,304.4h0M141.2,302.2h0M142.5,310.3h0M139.6,302.2h0M141.7,311h0M141.3,303.6h0M140.4,307.9h0M132.3,297.1h0M124.4,308.6h0M128.3,290h0M126,297.8h0M134.2,296.3h0M133.8,294.4h0"/>
<path d="M143.4,308.6h0M125.4,306.4h0M146.9,304.2h0M123.1,296h0M138.6,305.5h0M126.8,310.8h0M123.7,293.7h0M137.2,296.8h0M130.8,304.2h0M140.3,305.3h0M139.6,320.8h0M141.6,312.9h0M120.1,303h0M121.9,300.7h0M149.7,303h0M124.3,294.6h0M125.6,302.9h0M128.6,306h0M135.2,296.4h0M115.3,305h0M125,300.3h0M134.2,300.9h0M150.1,304.6h0M129.2,307.9h0M140.4,305.1h0M125.8,294.1h0M139.4,302h0M119.7,303.8h0M124.8,303.2h0M129.7,307h0M127.2,306.5h0M113.3,296.9h0M129.6,296.1h0M130.9,294.3h0M131.1,296.8h0M130.5,308h0M149.3,306.1h0M140.7,301.1h0M149.3,299.1h0M146,314.2h0M131.5,305.7h0M140.1,309.6h0M138.6,303.4h0M119.6,300.8h0M117.9,304.5h0"/>
<path d="M137.8,304.2h0M121.7,309.4h0M126.6,301.6h0M118.2,290.9h0M118.8,293.2h0M124.8,296.2h0M138.2,308.1h0M125.6,304.6h0M136.2,299.1h0M130.3,299.1h0M123.8,296.6h0M134.7,312.4h0M131.7,300.8h0M124.2,298h0M136.9,304.1h0M121.9,298.3h0M134,311.4h0M146.2,305.6h0M129.8,291.1h0M122.5,297.9h0M131.7,296.1h0M124.8,297h0M113.5,299.5h0M120.5,285.3h0M131.2,303.4h0M135.4,304.3h0M128.5,303h0M124,302.2h0M127.7,306.8h0M121.3,291.9h0M136.1,301.8h0M125.1,303h0M154,313.2h0M130.1,310.4h0M129.7,296.3h0M125.9,294h0M132.7,297.7h0M176.9,324.3h0M129.3,299.2h0M124.7,302.2h0M152.7,314.9h0M123.1,307.8h0M141.4,301.4h0M133.3,307.7h0M132.1,301.1h0"/>
<path d="M120.8,306.3h0M124.6,295.6h0M131,313.7h0M135.2,307h0M131.7,297.4h0M131.2,302.5h0M121,291.4h0M136.4,302.5h0M129.2,300.4h0M131.6,298.3h0M130.6,304.7h0M138.7,300.2h0M120.7,298.2h0M119.9,300.1h0M135.2,315.6h0M147.7,298.3h0M151.9,302.5h0M139.5,309.3h0M131.5,298.9h0M139.2,296.7h0M139.1,301.9h0M125,302.6h0M127.6,313h0M135.4,300.2h0M142.8,310.3h0M130.4,298.8h0M138.9,298.2h0M125.3,303h0M149,294.7h0M126.3,288.2h0M135.1,298.4h0M148.4,309.6h0M156.3,299h0M133.2,297.3h0M132.4,306.4h0M134,296.1h0M124.9,289.5h0M128.5,299.2h0M142.9,302.2h0M136.6,307.8h0M145,299.4h0M127,298.1h0M144.8,306.5h0M125.1,299.7h0M119.5,312h0"/>
<path d="M115.9,307.9h0M118.1,297.7h0M128.8,300.5h0M129.6,311.6h0M144.5,302.3h0M146.1,309.6h0M143.2,301.4h0M120.3,294.1h0M112.5,284.7h0M118.7,294.9h0M142.2,304.1h0M129.4,306.1h0M128.6,304.1h0M113.6,291.6h0M151.3,298.5h0M128.2,292.7h0M133.7,304.6h0M120,295.7h0M140.5,308h0M145.7,318.2h0M126.7,291.5h0M136.6,314.2h0M129.5,296.9h0M127.1,299.5h0M111.2,285.4h0M134.8,307.1h0M142.6,307.5h0M137.6,308.8h0M135.7,310.4h0M138.4,305.1h0M125.7,296.5h0M132.2,299h0M130.4,302.9h0M126,298.7h0M129.3,299.7h0M123.6,303.4h0M151.4,305.3h0M122.2,300.3h0M121.6,307.5h0M122.2,298.8h0M132.2,297.3h0M147.6,309h0M135.7,306.4h0M140.8,306.8h0M141.6,303.3h0"/>
<path d="M128.1,305.8h0M124.3,304.6h0M131.6,300.8h0M126.7,310.3h0M118.1,294.2h0M138.2,319.5h0M131.9,297.2h0M119.2,300.8h0M127.1,299h0M124.4,292.5h0M128,299.4h0M121.5,307.1h0M125.4,307.5h0M134.8,307.2h0M137.5,300.5h0M147.4,312h0M118.4,304.9h0M132.2,301.4h0M125.7,296.5h0M130.2,303.1h0M122.2,311.5h0M133,312.4h0M131.3,304h0M125.2,301.6h0M116.5,295.9h0M130.4,302h0M143.6,300.1h0M128.9,305.5h0M164.5,310.4h0M167.1,312.8h0M128.8,301.3h0M123.6,292.4h0M127.4,299.8h0M131.7,293.3h0M119.2,292h0M122.5,294.7h0M130.4,310.5h0M102.1,284.4h0M130.8,306.6h0M129.4,298.2h0M134,309.6h0M119.7,297.8h0M121.2,291.8h0M129.9,302h0M147.5,295.8h0"/>
<path d="M115.5,288.6h0M112.9,286.1h0M129.7,304.5h0M118.4,308.5h0M140.8,306.1h0M140.9,310.2h0M109.5,292.3h0M117.4,293.9h0M123.4,299.2h0M121,302.8h0M129.8,298.1h0M138.3,314.3h0M118.6,293.5h0M123.7,294.5h0M121,299h0M136.9,302.1h0M135.4,296.6h0M141.9,309.9h0M123.2,290.2h0M137.1,300.2h0M131.6,316.7h0M115.3,296.5h0M148.4,304.2h0M115.6,296.6h0M122.6,301.3h0M126.1,297.5h0M119,287.1h0M122.7,304.5h0M131.4,310.9h0M141,297.7h0M118.9,290.2h0M139,302.6h0M121.1,310.4h0M141.2,309.2h0M129.4,311.2h0M116.1,305.3h0M140.7,313h0M121.2,303.4h0M133.8,303.8h0M114.3,296.5h0M131.5,300.9h0M114.7,293.1h0M125.8,295.4h0M114.9,296.3h0M123.7,305.3h0"/>
<path d="M129.8,300.7h0M131.5,288.6h0M161.6,301.7h0M121.2,290.8h0M134.7,291.5h0M151.4,310.6h0M155.4,312.6h0M136.7,303.7h0M120.8,297.2h0M141.1,306.9h0M127.5,294.9h0M115.1,285.7h0M128.8,306.8h0M130.3,291.7h0M119.3,295.5h0M135.2,305.8h0M139.5,312.5h0M133.3,291.5h0M141.4,309.1h0M141.5,299.2h0M131.4,302.6h0M124.4,290.4h0M129.8,295.7h0M134.1,298.3h0M131,294.4h0M129.3,300.7h0M133,310.6h0M136.8,299.5h0M120,301.4h0M124.5,298h0M125.2,298.9h0M134.2,301.3h0M134.4,297.7h0M135.1,302.4h0M134.5,314.7h0M130.1,288.8h0M131.9,302.5h0M117.7,293.7h0M119.3,303h0M114.4,288.8h0M119.4,298.9h0M123.6,298.1h0M118.2,289.9h0M127.5,300.1h0M115.2,295.5h0"/>
<path d="M148.8,304.8h0M143.6,297h0M130.1,296h0M131.9,314.1h0M131.4,294.4h0M121.9,293.5h0M122.8,292.1h0M125.9,304.5h0M136.1,303.3h0M143.2,309.7h0M132.9,305.4h0M127.9,289.5h0M135.8,315.9h0M144.4,300.3h0M147.7,306.1h0M131.3,309.9h0M113.2,300h0M120.7,287h0M121.8,309.5h0M140.3,315.9h0M132.5,305.4h0M122.2,305.4h0M138.6,313.5h0M126.9,310.4h0M131.5,304.7h0M130.6,291.5h0M146.6,307.6h0M135.8,311.1h0M129.1,315.1h0M124.5,304.1h0M115.5,293h0M133.7,297.4h0M125.9,297.6h0M121.8,308.7h0M130.9,298.7h0M121.6,295.7h0M132.3,293.1h0M150,308.8h0M112.6,287.5h0M140.9,287h0M128.9,308.1h0M137.8,309.5h0M144.7,304.8h0M133,301.4h0M114.9,299.8h0"/>
<path d="M122.6,301.9h0M136.3,305.6h0M133.1,311.6h0M127.9,292h0M133.7,303h0M119,302.2h0M133,305.4h0M134.5,311.6h0M113.2,288.4h0M120.5,306.9h0M133.6,307.7h0M121.5,297.4h0M138.8,311.9h0M118,295.9h0M154,306.8h0M125,282.2h0M133.5,297.3h0M115.5,283.2h0M122.7,297.3h0M123.1,297.5h0M131.2,306.4h0M141,299.2h0M118.6,295.1h0M118.5,283.4h0M135.3,302.5h0M131.6,296.8h0M145.5,308h0M114.7,300.3h0M143.2,301.2h0M119.5,301h0M134.2,290.4h0M157,316.9h0M138.5,296.2h0M122.5,293.4h0M124.7,308.2h0M134.5,314.4h0M119.6,301.1h0M128.2,312.7h0M143.9,299.8h0M111,281.1h0M132.7,296.4h0M122.3,296.7h0M119.2,291.2h0M137.3,299.7h0M124.7,296.6h0"/>
<path d="M139.5,309h0M128.4,286.7h0M153.9,310.2h0M138.3,303.4h0M133.4,300.6h0M127.4,297.1h0M124.4,296.1h0M118.7,295.8h0M130.6,302.4h0M134.5,306.5h0M125.3,306.6h0M127.5,293.1h0M124.2,301.4h0M136.2,303.4h0M147.5,319.3h0M123.1,295.5h0M151.2,316h0M123.4,288.6h0M125.8,290h0M114.8,307.1h0M143.3,308.3h0M127.9,307.5h0M133.5,288.7h0M134.8,303.1h0M134.5,313.6h0M118.1,298.4h0M127.4,303.8h0M142.5,303h0M136.9,300h0M133.4,295.7h0M126.3,284.7h0M163.1,309.9h0M142.9,311.9h0M115.8,288h0M128.4,298.4h0M141.2,308.6h0M111,291.6h0M118.9,302h0M111.4,286.5h0M130.7,295.8h0M135.2,302.8h0M127.3,297.1h0M143.4,306.8h0M140.8,316.6h0M125.8,309.6h0"/>
<path d="M136.3,304.4h0M125.4,288.7h0M162.1,318h0M124.1,294.5h0M141.1,302.1h0M136.3,311.6h0M120.9,296.2h0M137.7,300.5h0M134.2,296.1h0M144.2,318.2h0M147.6,305.9h0M128.9,296.1h0M134.9,302.9h0M118.8,293h0M149.7,298.6h0M124.5,300.2h0M134.5,291.5h0M125.4,288.5h0M126.1,300.5h0M127,290.9h0M132.8,298.3h0M130.8,301.4h0M126.3,290.5h0M124.1,287.5h0M118.9,301.6h0M135.8,309.9h0M123.6,297.8h0M134.3,290.5h0M125.8,299.6h0M150.9,301.7h0M151.7,303.5h0M127.5,291.2h0M123.6,298.2h0M143.9,299.7h0M120.9,293.7h0M125.3,303.4h0M128,304.2h0M131.6,294.9h0M136.4,305.7h0M124.7,304.7h0M131.9,291.5h0M135.8,300.6h0M138.1,318.8h0M132.6,292.6h0M131.6,298.4h0"/>
<path d="M125.8,298.2h0M116.1,302.4h0M121.5,298.9h0M113.7,304.8h0M139.2,293.6h0M118.2,296.6h0M139.4,308.1h0M125.2,304.3h0M135.1,300.1h0M135.9,305.2h0M126.9,304h0M135.3,312.6h0M122.1,300.4h0M125.3,302.3h0M159,313.1h0M151,298.4h0M129.9,291.5h0M124.2,295.7h0M145.6,305.9h0M127.1,301.8h0M134.4,288.8h0M134.9,294h0M149.2,308.7h0M137.5,310.2h0M121.6,289.9h0M127.3,291.6h0M154,304.8h0M130.2,294.2h0M121.8,291.3h0M131.4,303.6h0M134.1,298.3h0M128.1,304.6h0M137.3,295.5h0M141.6,305.6h0M134,303.4h0M133.8,310.4h0M129.6,298.7h0M134.7,301.1h0M128.7,309.9h0M125.2,295.7h0M150.3,306.1h0M114.1,306.4h0M125.4,303.5h0M150.9,297.1h0M137.7,302.2h0"/>
<path d="M129.8,298.5h0M127.5,297.7h0M138.3,322.1h0M130.2,304.3h0M119.1,295.2h0M126.9,297.1h0M136,317.6h0M132.7,306.7h0M139.1,305.8h0M119.3,293.1h0M122.4,307.7h0M111.5,288h0M132.4,300.2h0M122.5,304h0M145,299.9h0M142.5,307h0M121.5,311.1h0M113.8,279.9h0M114.8,300h0M117,292.5h0M125.5,312.8h0M144.4,309h0M135.7,299.6h0M124.3,309.5h0M121.9,295.2h0M138.7,315.1h0M127.3,299.9h0M133.7,309.4h0M134,293.5h0M118.8,296.7h0M132.5,302.7h0M134.2,294.7h0M133.8,303.1h0M139.5,298.5h0M125.6,303.4h0M132.2,293.9h0M125.4,301.8h0M131.2,298.4h0M129.2,316.7h0M128,311.2h0M138.4,305.3h0M160,308.6h0M124.7,294.6h0M117.7,300.1h0M126.9,308.9h0"/>
<path d="M120.4,284.7h0M143.4,306h0M130.8,300.1h0M132.3,295.6h0M127.3,298.7h0M129.3,305.4h0M133.8,302.1h0M129.2,307.5h0M129.7,295.5h0M125.1,296.9h0M126.4,301.9h0M133,300.4h0M117.3,294.2h0M129.9,304.1h0M127.1,297.2h0M145.9,305.8h0M122.6,299.4h0M134.8,303.2h0M135.7,312.2h0M137,303.8h0M123.9,304.7h0M129.1,315.8h0M123.7,293.8h0M144.7,313.5h0M142.2,305.6h0M134.5,307.6h0M131.9,300h0M165.8,309.1h0M141.3,313h0M153.1,309.4h0M133.6,311.6h0M120,296.2h0M106.4,291.1h0M123,295.6h0M134.1,296.5h0M128.6,296h0M130.5,296.8h0M146.5,302.9h0M145,302.7h0M132.4,305.9h0M123.5,301.5h0M121.3,307.6h0M125.1,292.7h0M126.8,297.1h0M122.3,291.7h0"/>
<path d="M129.8,292.9h0M135.2,310.6h0M132,300.6h0M133.6,307.8h0M116,291h0M136.1,307.1h0M131.3,298.1h0M127.3,311.8h0M122.3,308.2h0M134.8,313.3h0M138.4,302.4h0M144.4,305.9h0M135.8,302.2h0M119.8,299.7h0M129,305.1h0M125.9,291.6h0M152.8,302.5h0M133.8,303.8h0M134,298.2h0M140.5,314.6h0M133.8,301h0M132.6,292.1h0M129.7,295.8h0M133.5,302h0M140.2,311h0M123.3,297h0M137.9,305.5h0M134.8,301.4h0M152.9,300h0M135.2,299.6h0M138.3,319.9h0M132.1,295.1h0M121.4,307.5h0M150.9,313.9h0M134.2,293.3h0M146.3,304.1h0M130.5,301.6h0M130.4,302.7h0M130.5,306h0M133.9,286h0M120.7,304.8h0M149.8,304.5h0M125.2,305.6h0M116.6,301.2h0M163.3,303.4h0"/>
<path d="M137.1,299.5h0M114.8,291.7h0M128.2,307h0M130.8,291.9h0M135.6,300.5h0M119.6,295.9h0M129.8,304.5h0M122.3,299.1h0M142.7,302.3h0M139.2,293.6h0M130.8,298.6h0M148.6,307.4h0M127.8,300.8h0M132.6,304.8h0M128.6,300h0M127.8,301.8h0M129.6,296.9h0M122.2,297.2h0M122.3,288.5h0M128.8,288.1h0M128.7,309.7h0M140.3,311.5h0M124.9,303.7h0M116.9,292.4h0M135.4,302.5h0M122,306.3h0M129.6,299.5h0M127.3,291.1h0M116.7,298.4h0M128.2,292.5h0M130.8,293.4h0M122.2,305.3h0M131.9,292.1h0M114.1,293.4h0M136.5,311.3h0M129.9,294.5h0M127.8,294.9h0M131.9,310.3h0M131.9,313.9h0M124.9,291.2h0M124.7,304.3h0M118.1,303h0M125.9,295.7h0M122.7,298.9h0"/>
</g>
<polygon points="202.1,296.2 201.7,293.9 200.7,291.4 199,288.9 196.6,286.3 193.7,283.8 190.3,281.2 186.5,278.6 182.4,276.1 178.1,273.7 173.5,271.3 168.9,269 164.3,266.9 159.7,264.9 155.3,263.1 151,261.4 147,259.9 143.2,258.6 139.6,257.6 136.3,256.8 133.3,256.2 130.6,255.8 128.2,255.8 126.1,256 124.3,256.5 122.8,257.3 121.6,258.4 120.6,259.8 119.9,261.4 119.5,263.4 119.4,265.5 119.5,267.9 119.9,270.5 120.6,273.3 121.6,276.2 122.8,279.2 124.3,282.3 126.1,285.3 128.2,288.4 130.6,291.3 133.3,294.1 136.3,296.8 139.6,299.3 143.2,301.5 147,303.5 151,305.3 155.3,306.7 159.7,307.8 164.3,308.6 168.9,309.1 173.5,309.3 178.1,309.1 182.4,308.7 186.5,308 190.3,306.9 193.7,305.7 196.6,304.2 199,302.4 200.7,300.5 201.7,298.4" fill="#E7298A" fill-opacity="0.45" stroke="none" filter="url(#bl)"/>
<polygon points="191.6,294.3 191.3,292.3 190.5,290.3 189.2,288.2 187.4,286.1 185.2,283.9 182.6,281.7 179.6,279.6 176.4,277.5 172.9,275.4 169.3,273.4 165.6,271.5 161.9,269.7 158.2,268.1 154.6,266.5 151,265.1 147.7,263.9 144.5,262.9 141.4,262 138.6,261.3 136.1,260.9 133.7,260.6 131.6,260.6 129.8,260.9 128.2,261.3 126.8,262 125.7,263 124.9,264.1 124.2,265.5 123.9,267.2 123.8,269 123.9,271 124.2,273.1 124.9,275.4 125.7,277.8 126.8,280.2 128.2,282.7 129.8,285.2 131.6,287.7 133.7,290.1 136.1,292.4 138.6,294.6 141.4,296.6 144.5,298.5 147.7,300.1 151,301.5 154.6,302.7 158.2,303.7 161.9,304.4 165.6,304.8 169.3,305 172.9,304.9 176.4,304.5 179.6,303.9 182.6,303.1 185.2,302.1 187.4,300.9 189.2,299.5 190.5,297.9 191.3,296.2" fill="#E7298A" fill-opacity="0.6" stroke="none" filter="url(#bl)"/>
<polygon points="181.9,292.3 181.7,290.7 181.2,289.1 180.2,287.4 178.9,285.7 177.2,284 175.3,282.2 173.1,280.5 170.6,278.8 168,277.1 165.3,275.5 162.5,274 159.6,272.5 156.7,271.2 153.8,270 151,268.9 148.3,267.9 145.8,267.1 143.3,266.4 141,265.9 138.9,265.5 136.9,265.4 135.2,265.4 133.6,265.6 132.3,266 131.1,266.6 130.2,267.4 129.4,268.4 128.9,269.5 128.6,270.8 128.5,272.2 128.6,273.8 128.9,275.5 129.4,277.3 130.2,279.2 131.1,281.1 132.3,283.1 133.6,285 135.2,286.9 136.9,288.8 138.9,290.6 141,292.3 143.3,293.9 145.8,295.4 148.3,296.7 151,297.8 153.8,298.8 156.7,299.5 159.6,300.1 162.5,300.4 165.3,300.6 168,300.5 170.6,300.3 173.1,299.9 175.3,299.2 177.2,298.4 178.9,297.5 180.2,296.4 181.2,295.1 181.7,293.8" fill="#E7298A" fill-opacity="0.7" stroke="none" filter="url(#bl)"/>
<g stroke="#E7298A" stroke-opacity="0.08">
<path d="M153.8,278.5h0M159,280.9h0M166.5,289h0M154,283.5h0M139.8,265.6h0M145.8,277.5h0M158.8,279.6h0M136.2,272h0M164.3,302.1h0M132.8,272.2h0M149.6,273.8h0M177,283.8h0M141.6,284.1h0M129.7,279.8h0M181.2,290.4h0M176.1,296.5h0M163.3,280.6h0M125,273.1h0M140.4,283.2h0M171.5,283.8h0M140.4,280.9h0M152,281.2h0M138.4,279.8h0M140.1,286.8h0M144.6,274.1h0M137.2,290.8h0M155.2,285.2h0M147,293.5h0M146.7,295.8h0M143.2,278.5h0M147.7,273.5h0M172.2,290.9h0M180.7,291h0M145.4,273.3h0M144.1,276.5h0M143.3,288.7h0M144.5,272.6h0M148,295.1h0M157.8,286.2h0M155.2,287.2h0M153.6,277.7h0M167,280.9h0M154.8,284.7h0M147.1,287.4h0M141.2,267.7h0M138.3,280.6h0M171.3,277.2h0M157.7,296.4h0M134.2,271.4h0M144.1,271.2h0M145.3,287.8h0M123.1,276.7h0M168.2,288.6h0M159.8,286.5h0M148.4,280.5h0M161.8,289.8h0M150.1,288.4h0M150.3,281.7h0M156.7,296.6h0M141.2,269.1h0M152.1,278.2h0M135.9,264.2h0M167.4,296h0M135.4,251.4h0M148.5,266.8h0M175.3,283.3h0M152.1,284.8h0M152.3,277.5h0M138.3,282.1h0M190.2,279.7h0M141.4,284.1h0M141.6,287.9h0M156.1,289.2h0M132.3,275.8h0M162.8,295.3h0M175.8,289.2h0M151,278.8h0M131.9,273.5h0M145.3,306.1h0M145.3,281.8h0"/>
<path d="M165.4,283.7h0M138,289.5h0M169.6,278.6h0M137.9,271.7h0M143,288h0M156.3,289.7h0M147.9,275.9h0M146.7,277.1h0M140.9,278.2h0M153.9,282.9h0M189.3,285h0M145.8,283.6h0M165.5,294.7h0M136.2,262.8h0M142.5,288.8h0M138.2,277.3h0M121.6,265.6h0M171.2,291.1h0M158,273.3h0M154.7,278.9h0M131.3,243.7h0M157.1,290.4h0M165.5,279.8h0M168.8,290.1h0M176.7,294.5h0M161.4,277.9h0M149,271.3h0M153.1,279.1h0M133.3,272.3h0M147.4,281.2h0M177.7,281.6h0M142.5,273h0M154.6,289h0M130.4,271.5h0M150,287.2h0M135.9,281.7h0M156.2,278.7h0M159.6,269.7h0M130.4,276.1h0M171.6,287.3h0M154,291.6h0M124.8,270.6h0M141.4,281.4h0M149.4,274.4h0M165,291.3h0M172.5,290.6h0M145.9,292.5h0M130.3,269.2h0M146.4,290.1h0M160.4,294.3h0M141,274.2h0M152.5,300h0M142.7,279.4h0M159.8,299h0M153.9,275.2h0M180,292.9h0M148.9,286.3h0M170.9,291h0M161,281.8h0M148.6,296.2h0M157.8,285.4h0M142.3,291.2h0M170.5,296.1h0M134.9,281.2h0M151.4,275.6h0M168.8,296.5h0M182.5,303.5h0M144.5,278.4h0M164.4,292.8h0M130.5,268.4h0M139.5,258.9h0M138.9,271.2h0M140.6,283.8h0M134.4,270.6h0M158,284.3h0M166.8,287.8h0M128.4,265.7h0M164.6,292.6h0M136.8,280.9h0M144.6,258.6h0"/>
<path d="M146.7,277h0M153.7,279.6h0M148.7,290.4h0M165.3,290.1h0M153.8,280.1h0M157.1,292h0M149.4,283.7h0M147.1,268.5h0M127,280.6h0M152.8,288.1h0M135.8,267.1h0M129.7,276.8h0M152,269.5h0M151.5,292.5h0M146.3,280.9h0M123.3,263.7h0M141.8,283.2h0M184.2,296.6h0M178,274.7h0M136.1,270.7h0M151.9,290.5h0M148.4,274.7h0M121.9,286.8h0M155.9,296h0M139.9,293.4h0M171.5,280.1h0M146.5,287.2h0M127.1,274h0M144.7,297.4h0M150.8,287.6h0M135,264.4h0M150.5,283h0M157,286.3h0M158.1,290.8h0M146.7,275.8h0M134.4,293h0M152.6,286.4h0M158.8,282.1h0M174.8,305.2h0M190.2,292.6h0M161.3,280.5h0M167.2,277.4h0M142.4,268.3h0M148.4,274.2h0M155.8,269.5h0M120.9,267.2h0M154.7,289.6h0M194.9,302.5h0M150.9,289.2h0M136.5,276.7h0M162.7,290.3h0M139.4,281h0M162.8,280.9h0M149.5,285.2h0M148.9,271.9h0M170.1,277.4h0M193.4,294.4h0M180.1,289.9h0M165.8,302.5h0M173.9,292.1h0M148.4,285.7h0M147.3,278.9h0M153.2,279.7h0M157.7,279.7h0M134,282h0M144.9,283.6h0M159.7,285.8h0M179.1,302.1h0M148.3,294.9h0M162.6,276.5h0M174.5,288.2h0M173.4,281.6h0M125.6,264.7h0M155.6,267.6h0M145.8,286.1h0M163.8,286.1h0M151.6,290.5h0M176.4,280.1h0M148.3,268.2h0M164.3,300h0"/>
<path d="M148.7,275.6h0M136.3,262.9h0M160.9,263.8h0M153.1,284.6h0M164.7,290.4h0M141.1,276h0M175.9,289.5h0M175.6,285.4h0M164.7,282.9h0M139.8,277.6h0M148.8,284.8h0M136.7,272.1h0M171.1,289.9h0M160.9,285.9h0M180.4,299.4h0M148.9,291.3h0M156.8,292.8h0M167.1,277.9h0M174.1,290.6h0M135,282.3h0M140,284.9h0M157.7,286.7h0M149.2,276.8h0M191.2,286.7h0M136,267.9h0M127.9,272.7h0M135.5,286.2h0M162.6,278.2h0M134,272h0M137.4,260.6h0M160.5,286.7h0M171.5,282.8h0M173.7,271.1h0M148.9,282.5h0M144.3,266.9h0M159.7,294.1h0M162.9,292.5h0M171.5,283.8h0M137.9,274.3h0M141.5,278.3h0M133.2,271.2h0M162.8,278.5h0M152.1,283.6h0M165.1,277.7h0M151.8,297.3h0M150.1,273.8h0M191.8,288.5h0M145,278.5h0M150.6,284.5h0M158.6,273.7h0M153.7,274.8h0M152.9,283.4h0M157.5,278.7h0M141.1,284.7h0M128.4,273.7h0M169,290.6h0M159.3,278.3h0M140.7,283.6h0M154.9,288.5h0M144.8,269.1h0M138.3,288.2h0M140.2,284.3h0M131.2,273.1h0M130.8,271.4h0M145.3,277.6h0M127.2,283.3h0M158.6,275.2h0M147.4,286.2h0M150,284.9h0M163.3,282.4h0M153.7,276.9h0M167.1,284.2h0M138.9,281.5h0M165.1,295.5h0M175.1,290h0M149.3,279.6h0M156.9,278.9h0M150.7,273.5h0M144.1,292.3h0M135.3,286.8h0"/>
<path d="M181,294.5h0M118.4,261.6h0M157.1,287h0M158.2,288.3h0M171.3,288.8h0M161.9,305.7h0M159.5,295.9h0M143.8,276h0M180.1,294.3h0M158.4,299.1h0M147.1,287.6h0M165.7,290.4h0M166.2,299.3h0M157,294.5h0M168,286.8h0M166.7,289.9h0M129.5,285.8h0M136.4,290.7h0M142.3,285.5h0M154.7,287.3h0M153.9,260.6h0M143.7,294.9h0M145,267h0M162.7,270.9h0M142.2,279.4h0M143.9,273.3h0M159.6,286.8h0M137.4,287.7h0M160.1,295.9h0M166,289.3h0M145.8,285.9h0M151.7,285.6h0M140.9,266.5h0M138.1,283.7h0M150.7,283.2h0M159.1,290.7h0M151.9,278.4h0M147.8,291.4h0M152.2,291.5h0M141.4,272.6h0M123.4,267.5h0M143,282.1h0M140.4,296.5h0M146.5,273.5h0M156.2,284.7h0M153.4,287.7h0M171.4,285.7h0M138.3,265.1h0M160.9,277.5h0M156.9,289.4h0M145.3,280.9h0M149.2,281.1h0M171.6,305.1h0M149,289h0M163.2,306.5h0M162.1,287.3h0M136.4,266.9h0M170,273.7h0M154.8,286.1h0M181.7,297.9h0M137.3,256.6h0M151.9,264.8h0M144.6,271.4h0M158.8,281.2h0M175.1,302.5h0M156.5,274.8h0M146.3,285.6h0M158.9,291.8h0M132.6,277.1h0M138.3,284.3h0M131.8,277.9h0M147.7,274.9h0M166.2,283.1h0M147.6,278.9h0M160,282.9h0M180.3,297.5h0M166.9,287.1h0M159.3,274.1h0M126.2,270h0M154.2,281.5h0"/>
<path d="M150.8,275.5h0M126.8,282.6h0M165.6,291.2h0M135.2,276.9h0M125.3,266.3h0M152.1,289.4h0M154.1,288.2h0M152.2,286.3h0M164.9,278.6h0M158.9,293h0M147.1,289.3h0M146.1,283.2h0M155.2,280.5h0M164.4,291.9h0M148.8,283.4h0M141.4,287.8h0M177.8,291h0M151.8,283h0M159.6,291h0M129.7,283.3h0M153.5,286.1h0M141.8,294.4h0M135.3,286h0M141.8,285.1h0M138.2,281.6h0M191.4,291.5h0M151.7,295.6h0M130.7,282.6h0M172.3,290.5h0M168.8,288.9h0M160.6,285.3h0M158.7,282.5h0M160.1,294.2h0M155.5,287.8h0M134.8,275.1h0M149.4,300.2h0M155.2,296.9h0M143.6,280.4h0M181.3,282.4h0M141.9,281.5h0M173.1,283.2h0M154.3,296.2h0M174.2,293.5h0M156.7,268.3h0M152.9,283h0M164.9,289.5h0M126.4,265.2h0M142,285.2h0M142.8,282.7h0M175.5,289.9h0M189.9,291.6h0M144.1,293.5h0M149.5,279.9h0M156.5,280.4h0M172,278.4h0M138.9,278.4h0M176.6,283.5h0M116.8,265h0M164.9,293h0M138.9,285.1h0M148.7,287.3h0M142,278.8h0M146.1,292.1h0M149.1,276.2h0M129.2,279.1h0M160.1,290.9h0M136.4,277.5h0M166.1,296.6h0M161.8,293.7h0M141.3,280.7h0M164.9,277h0M149.4,280.6h0M149.4,288.4h0M136.3,271.8h0M159.3,289.1h0M153.7,272.5h0M177.5,302.9h0M137.6,285.9h0M162,292.7h0M160.6,286.3h0"/>
<path d="M149.4,281.5h0M165.7,293.6h0M169,288h0M145.8,278.7h0M163.3,270.4h0M176.8,267.7h0M142.7,301.5h0M152.7,270.6h0M143.3,281.4h0M149,280.5h0M153.1,284.9h0M178.9,287.4h0M168.2,284.2h0M140.7,272h0M160.9,290.6h0M156.7,275h0M181,306.3h0M162.9,298.7h0M169,290.1h0M158.2,288.3h0M179.4,289.9h0M156.1,294.5h0M149.7,292.7h0M179.7,276.5h0M142.3,277h0M166.2,289.5h0M143.3,283.9h0M183,291.9h0M133.9,267.5h0M147.8,286.2h0M171.9,280.3h0M176.1,270.8h0M140.3,282.8h0M133.4,281.5h0M129.5,266.3h0M153,278.9h0M171.2,295.8h0M171.5,279.3h0M144.6,276.2h0M151.7,277.8h0M125.2,280.3h0M136.8,258.4h0M142.5,282.6h0M172.5,296.9h0M183.5,284.8h0M164.4,282h0M168.1,278h0M155.9,276.8h0M162,273.3h0M153.8,297.1h0M167.7,288.1h0M162.7,294h0M159.5,299.6h0M143.8,277.9h0M147.8,288.4h0M139.1,278.1h0M141.5,279.2h0M175.8,281.2h0M142.6,284.9h0M181.2,284.5h0M161.7,293h0M166,280.4h0M151,277.9h0M140.8,291.9h0M152,286.2h0M148,290.8h0M146,275.5h0M156.1,290.6h0M181.4,291h0M136.3,280.6h0M134.3,280.4h0M163.6,294.7h0M144.8,272.7h0M128.3,263h0M149,279.8h0M115.7,260.9h0M144,284.7h0M173.3,292.6h0M153,286.4h0M158.6,296.1h0"/>
<path d="M131.9,264.9h0M167,303.3h0M170.3,293.9h0M155.7,279.6h0M166.7,301.1h0M150.2,291.1h0M154.3,280.6h0M156.3,269.2h0M145.9,279.3h0M175.8,284.3h0M139.9,288.8h0M137.2,269.8h0M138.9,273.5h0M162.6,294.1h0M147.5,290.3h0M162.7,275.8h0M156.9,282.6h0M139.2,283.6h0M139.7,273.8h0M192.9,296.2h0M192.1,305h0M152.9,286.7h0M155.6,288.2h0M155,285.8h0M149.7,296.3h0M135.9,287.2h0M145.3,273.7h0M145.2,274.3h0M128.5,281.9h0M144.9,274.5h0M141.8,281.1h0M138.5,273.6h0M158.5,303.5h0M187.6,299.6h0M142.2,260.6h0M154.1,285.5h0M158.8,300.1h0M180.6,288.3h0M165.4,282.8h0M166.3,269.9h0M156.6,289.4h0M133.5,271.5h0M138.9,289.2h0M149.5,285.1h0M143,290.6h0M155.5,280.8h0M181.6,301.5h0M135.1,256.4h0M133.1,268.6h0M131.5,266.5h0M145.7,288.2h0M145.8,285.7h0M170.6,299.2h0M138.2,275.2h0M154.4,276.6h0M158.7,294.4h0M161.6,276.4h0M161,278.9h0M133.4,265.6h0M144.3,285.4h0M151.5,284.9h0M144,267.9h0M144.7,284.6h0M167.2,294.5h0M131,273.2h0M136.9,272.3h0M168.1,276.6h0M142.6,290.9h0M161.9,299.7h0M139.9,271h0M153.4,276.2h0M149.4,290.6h0M133.9,291.9h0M119.4,260.6h0M139.7,293.7h0M137.6,276.8h0M125.9,265h0M167.7,268.9h0M146.1,269.8h0M138,279.1h0"/>
<path d="M127.6,269.8h0M163.8,289.8h0M149.4,285.8h0M157.2,289.2h0M152.4,269.8h0M159.3,284.8h0M181.5,292.3h0M154.7,277.6h0M158.5,279.5h0M145.4,273.8h0M165.1,279.9h0M172,284.3h0M161.3,281.4h0M148.7,284.2h0M168.6,285.3h0M170.6,289.2h0M140.5,288.8h0M146.6,283.1h0M169.7,298.5h0M159.2,277.1h0M123.7,285.2h0M150.4,282h0M145.2,279.5h0M139.6,267.7h0M141.2,274.9h0M119.7,271.1h0M188.7,299.2h0M156.4,286.5h0M179.2,279.8h0M138.1,277.7h0M146.3,277.4h0M136.2,274.2h0M144.4,280h0M114,253.3h0M136.8,282h0M157.6,280.5h0M133.7,280.8h0M162,285.1h0M140.9,282.4h0M139.3,282.1h0M156.2,284.3h0M173.3,279.2h0M148.4,285.7h0M154,274.1h0M140.4,274.7h0M137.2,266.4h0M160,278.8h0M173.3,289.3h0M161,274.6h0M160.1,282.5h0M141.3,283.5h0M133.3,270.2h0M157.4,276.8h0M127.7,269.9h0M159.3,289.6h0M161.7,297.9h0M159.5,266.7h0M136.8,277.6h0M147.8,283.9h0M137,276.4h0M142.2,280.9h0M169.4,300.8h0M145.1,282.3h0M134.1,270.8h0M137.3,299.3h0M152.8,293.8h0M159.4,276.3h0M160.8,291.7h0M174.2,276.3h0M158.3,295.9h0M124.4,273.3h0M145,283.6h0M147.9,278h0M152.2,280.5h0M137.4,279.8h0M154,293.3h0M162.9,297h0M137.6,272.6h0M151.6,283.3h0M144.2,282.9h0"/>
<path d="M136.6,266.4h0M144.8,273.6h0M161.6,295.2h0M163.7,291.8h0M167,297.8h0M175.2,285.4h0M135.3,296.1h0M189,305.6h0M169,280.1h0M139.5,279.4h0M145.4,263.3h0M125.3,274.4h0M149.7,289.2h0M153,282.6h0M133.7,286.1h0M129.1,276.8h0M170.6,277h0M133.6,278.8h0M157.8,300h0M143.8,278.7h0M147,294.9h0M141.8,280.8h0M144.2,277.7h0M186.4,288.7h0M156.4,284.5h0M154.8,271.8h0M136.6,272.2h0M152.1,283.2h0M143.2,279.5h0M145.5,276.6h0M158.8,271.4h0M188,291h0M125.3,272.2h0M159,273.1h0M155.8,293h0M129.5,278.2h0M138.2,273.7h0M169.3,275.8h0M158.8,295.6h0M155.1,287.1h0M147.9,290.2h0M141.6,292.5h0M158.4,286.2h0M164,280.7h0M160.9,277h0M163,275.5h0M161.7,258.2h0M162.4,291.6h0M158.9,286.9h0M123.7,276h0M150.3,298.7h0M144.4,283.2h0M161.3,289.9h0M154.7,302.7h0M138.9,279.4h0M155.2,287h0M151.9,297.1h0M135.9,278h0M143.5,267h0M131,276.8h0M138.6,276.7h0M191.5,286.8h0M123.3,273h0M145.4,288.8h0M164.1,290.5h0M135.7,283.1h0M176.7,287.3h0M169.2,283.3h0M148.8,293.3h0M149.8,281.5h0M177.6,298.3h0M163.7,294.3h0M154.7,294.9h0M136.4,278.5h0M117,270.4h0M162.6,289.7h0M163.3,286.9h0M148.3,280h0M161.6,280.6h0M136.3,271h0"/>
<path d="M190.3,292.5h0M160.2,281.5h0M136.2,260.6h0M153.5,288.6h0M159,300.2h0M154,291.3h0M143.7,287.6h0M135.2,283.5h0M154.5,288.4h0M132.9,275h0M153.7,286.5h0M143.7,293.1h0M155.5,283.4h0M146.5,295.3h0M134.8,276.3h0M155.4,297.9h0M165.9,300.6h0M185.3,309.9h0M161.1,276.6h0M147,283.4h0M161.2,290.2h0M161.5,279.8h0M150.5,280.9h0M151.1,277.4h0M154.7,293.4h0M160.3,274.8h0M154.4,285.2h0M157.8,287.4h0M142.4,281.1h0M154.3,286.5h0M166.4,291.6h0M158,282.7h0M143.1,290.5h0M178.7,295.3h0M169.6,290.7h0M162.5,285.1h0M144.5,282h0M171.9,295.4h0M152.1,296.1h0M151.9,280.1h0M143.6,283.5h0M163.5,301.7h0M163.5,272.8h0M136,275.2h0M135.4,279h0M140.8,275.6h0M151.4,286.5h0M139.2,281.4h0M163,285.5h0M139.6,284.8h0M135.3,278.4h0M176.4,283h0M153.9,283.7h0M168.5,287.5h0M152.1,285.6h0M160.1,275.8h0M158.7,277.1h0M123.9,274.2h0M146.2,290.5h0M160.9,299.3h0M151.9,285.9h0M154.1,278.4h0M142.9,282.2h0M146.3,284h0M171.1,286.4h0M176.7,292.5h0M156.8,307.9h0M152,286.9h0M152.6,284.4h0M168.4,284.7h0M161.3,289.5h0M143.9,269.1h0M128.8,258.7h0M127.1,262.7h0M147,297.8h0M152.1,287.9h0M163.6,281.7h0M135.1,270.7h0M151.4,278h0M143.7,276.6h0"/>
<path d="M143.6,291.2h0M127,275.3h0M162,296.3h0M147.2,289.4h0M157.4,282.4h0M151.3,288.4h0M161.4,291.4h0M172.8,296.4h0M148.9,278.4h0M162.7,274.3h0M147.4,293.2h0M124.8,260.7h0M180.5,287h0M145.2,301.8h0M145.3,293.8h0M165.4,277.9h0M159,294.9h0M128.8,274.2h0M131.1,265.2h0M125.3,259.4h0M169,294.2h0M161.9,291.7h0M141,276h0M140.3,282.1h0M164.9,303.4h0M175.7,284.7h0M154.1,279.9h0M161,276.2h0M168.4,275.3h0M170.6,297.2h0M134.2,287.2h0M168.9,270.6h0M151.3,275.8h0M161,291.7h0M159.2,292.6h0M140.1,275.2h0M178.3,287h0M167.5,284.9h0M168.6,296.9h0M142,272.5h0M146.4,284.2h0M148.5,270.2h0M133.5,272.3h0M157.3,280h0M156,276.3h0M158.2,278.7h0M156.3,290.6h0M180.2,295.6h0M158.7,292h0M154.9,276.3h0M132.1,291.9h0M147.2,285.7h0M134.1,270.5h0M153.1,276.1h0M137.8,272.2h0M147.7,283.2h0M141,277.4h0M164.3,287.4h0M152.3,273.6h0M143.9,267.5h0M150.9,293h0M135.2,270.4h0M135.4,272.9h0M138.7,281.6h0M145.9,275.8h0M143.9,279.5h0M162.9,291.5h0M183.9,283h0M129.6,276.2h0M155.1,276.5h0M141.5,263.3h0M138.9,284.2h0M165.5,304.2h0M142.8,287.6h0M151.8,287.7h0M162.1,287.2h0M131.5,272h0M150.5,288.5h0M144.6,287h0M154.2,276.3h0"/>
<path d="M168.5,293h0M139.9,277.1h0M146.1,275.2h0M114,258.6h0M128.7,272.9h0M145.9,266.5h0M163.8,275.7h0M147.2,264.7h0M165.1,289.8h0M145.3,297h0M147.6,278.7h0M167.9,295.2h0M141.3,274.2h0M145.9,279.3h0M140.8,281.6h0M143.8,283.4h0M167.2,297.9h0M160.6,269.6h0M160.9,284.4h0M164.9,287.8h0M136.4,275.7h0M149.7,273.9h0M171.6,290.1h0M156.2,282.4h0M168.2,278h0M184,288.8h0M136.4,286.6h0M153.3,291.7h0M158.8,280h0M165.7,290.5h0M151.5,287.5h0M170.9,276.3h0M161,276.8h0M150.3,290.9h0M145,276.3h0M150.8,297.2h0M138.4,283.7h0M165.4,286.3h0M163.7,291.4h0M152.1,270.7h0M151,283.3h0M161,282.2h0M163.4,292.7h0M143,274.2h0M155.2,285.6h0M133.6,270.1h0M146.3,282h0M144.2,279.9h0M164.4,287.8h0M147.2,288h0M168.9,302.4h0M141.6,289.4h0M165.8,292.9h0M154.1,291.6h0M146.1,278.4h0M143,281.7h0M148,276.7h0M165.4,291h0M142.3,276.2h0M138.4,280.5h0M142.1,275.2h0M138.7,267.9h0M154.1,275.4h0M162.2,294h0M167.8,289.3h0M133.1,267.8h0M153.5,278.6h0M143.7,279.5h0M166.2,271.9h0M176.6,294.1h0M141.9,280.4h0M142.4,275.2h0M176,293.2h0M131.1,279h0M124.2,271.8h0M167.8,292.3h0M168.3,308.9h0M153.9,305.9h0M155.7,280h0M143.2,282.2h0"/>
<path d="M162.1,285.1h0M161.6,287.4h0M130.9,268.3h0M158.1,277.2h0M164.1,280.2h0M159.9,286.1h0M170,291h0M125.8,273h0M156.3,276.5h0M144.6,291.6h0M167.7,292.7h0M165.2,299.3h0M156.5,289.9h0M154.8,287.3h0M132,261.4h0M170.4,292.2h0M161,285.8h0M142.9,268.7h0M174.9,289.7h0M144.9,263.6h0M126.5,267.3h0M117.3,253.9h0M145.6,282.7h0M165.5,291h0M158,287.2h0M142.3,271.9h0M167.8,286.3h0M139.4,275.2h0M140.5,278.3h0M144,284.2h0M155.8,279.8h0M165.2,290.3h0M128.1,276.4h0M175.2,276.8h0M145.6,272.8h0M173.1,295h0M150.9,285.7h0M164.6,278.1h0M154.3,276.6h0M161.1,291.7h0M142.7,283.8h0M146.6,282.9h0M165.6,299.2h0M130,284.3h0M159,274.7h0M147.3,286.7h0M169.8,276.6h0M139.8,281.5h0M143.2,276.5h0M144.6,274.3h0M146.2,279.9h0M116,263.1h0M169.6,301.5h0M152.4,294.7h0M159.1,295.1h0M162.1,282.2h0M153.7,283.3h0M136.2,277.8h0M147.1,272h0M132.5,269.1h0M156.3,266.6h0M154.1,281.6h0M140.7,284.8h0M131.9,271h0M127.6,274.5h0M157.1,292h0M154.7,287.8h0M176.8,298.6h0M145.6,273.5h0M147.7,273h0M185.2,294.2h0M132.5,276.2h0M147,277.8h0M154.6,299.2h0M153.1,283.6h0M121.6,264.3h0M153.6,274h0M166.9,291.1h0M129,279.2h0M150.7,287.7h0"/>
<path d="M138.4,276.8h0M157.4,297.3h0M152.9,286h0M150.6,273.2h0M139.7,282.1h0M127.6,276.8h0M146.2,278.5h0M172.4,281.5h0M176.8,295.5h0M170,291.7h0M130.4,274.2h0M159.2,294.6h0M157.4,278.6h0M161.5,287.8h0M145.4,282.4h0M150.3,287.9h0M170.9,289.8h0M156.2,280.6h0M138.6,283.4h0M156.8,289.4h0M160.5,292.9h0M184.2,300.6h0M146.7,290.6h0M150.1,284.1h0M161.9,293.5h0M147.3,272.4h0M122.2,281.9h0M160.3,287.4h0M147.9,283.7h0M161.8,300.1h0M140.7,287h0M161.8,284.3h0M128.3,279.2h0M135.8,282.2h0M158.5,291.4h0M136.2,285.6h0M119.2,262.4h0M145.4,274h0M150.6,301.8h0M160.6,293.4h0M149.3,270.3h0M179.8,292.3h0M151,269.1h0M135.2,273.5h0M175.4,299.4h0M164.9,281.3h0M177.7,293.8h0M138.9,269.4h0M141.6,289.3h0M152.7,273.4h0M167.1,287.8h0M139.3,283.6h0M138.4,267.2h0M140.8,272.2h0M120.9,267.3h0M151.2,287h0M151.9,279.6h0M166,285.6h0M147,294.3h0M150.2,284.9h0M150.4,288.4h0M140.7,285.7h0M147.4,280.1h0M134.5,283.3h0M160,287.9h0M146.5,283.3h0M160.3,290h0M155.2,283h0M166.6,278.3h0M156.5,275.1h0M187.8,284.3h0M149,290.6h0M127.5,280.1h0M125.3,276.8h0M148.1,269.9h0M144.2,280.6h0M137,280.3h0M152.6,285.7h0M167.4,285.2h0M150.7,285.8h0"/>
<path d="M148.2,278.8h0M137.3,284.9h0M163.2,281.3h0M148.5,291.9h0M133.5,271.4h0M138.2,287.6h0M155.3,282.9h0M145.9,276.6h0M147.9,290.8h0M135.5,286.3h0M151.4,282.7h0M149.5,293h0M161.9,287.1h0M142,279.2h0M151.1,262.4h0M175.2,286.4h0M153.3,284.3h0M149.9,279.1h0M149.1,284.1h0M181.1,306.8h0M137.7,287.1h0M144.5,287.1h0M172.3,285.8h0M156.9,287.8h0M140.8,286.4h0M145.1,290.3h0M144.7,278.5h0M159.5,288.2h0M152.6,288.3h0M138.2,284.1h0M129.9,273.2h0M137.1,283.5h0M159.5,286.8h0M134.1,271.6h0M158.6,276.9h0M185.8,302.1h0M140.2,282h0M144,275.2h0M162,287.5h0M151.7,283.8h0M177.4,304.7h0M130.8,264.2h0M156.3,284.7h0M167.2,292.1h0M144.6,278.4h0M177.7,283.3h0M179.8,306.7h0M168.3,280.5h0M145.4,284.6h0M140,276.9h0M120,276h0M142.5,275.4h0M169.2,278.3h0M118.1,265.9h0M129.4,257.7h0M145.1,273.7h0M176.6,295h0M130.1,262.9h0M142.7,288.7h0M148.9,276h0M158.2,286.3h0M164.2,289.9h0M154.7,291.5h0M149.9,285.4h0M121.8,271.5h0M161.7,285.3h0M139.1,276.5h0M146.4,294.2h0M154.4,290.4h0M168.7,295.3h0M164.1,286.1h0M146.9,278.1h0M156.8,273.9h0M164.8,284h0M134.2,277.6h0M142.4,282.3h0M153.6,277.8h0M152.4,275.3h0M145,276.3h0"/>
<path d="M147.4,285h0M159,283.7h0M170.4,282h0M156.7,290.4h0M140.4,291.9h0M154,273.1h0M151.4,295.6h0M177.3,290.1h0M174.7,278.6h0M146.7,277.3h0M119.9,256.1h0M145.5,285.2h0M147.6,284h0M163.2,288.2h0M162.3,279.2h0M151.6,282.5h0M138.3,288h0M147.5,280.3h0M139.9,278.8h0M138.6,284.9h0M138.7,288.7h0M147.3,271.3h0M131.4,264.1h0M169.1,289.2h0M138.3,275.1h0M172.3,301.7h0M156.4,290.2h0M147.9,291h0M137.8,273.5h0M156.7,289.5h0M166.7,273h0M155.8,290.1h0M156.8,279.3h0M146.5,280.5h0M162.5,288h0M144.5,278.6h0M156.3,294.9h0M163.2,301.9h0M162.8,280.9h0M154.8,272.5h0M149.2,282.7h0M163,292.8h0M160.3,282.6h0M143.7,281.9h0M142.5,305.4h0M150,283.6h0M172.1,283.9h0M158.6,309h0M132.8,274h0M154,274h0M152.1,269.9h0M158.9,290.1h0M132,277.1h0M160.7,284.1h0M131.7,260h0M148,280h0M159.7,287.8h0M163.6,287.8h0M156.1,275.5h0M160.1,285.3h0M139.1,274.1h0M149,296.8h0M157.5,284.7h0M133,264.3h0M150.6,291.9h0M154.1,289.4h0M163.4,274.4h0M133.4,286.2h0M140.2,266.5h0M156.6,272.5h0M159.4,300.9h0M158.8,292.5h0M157.7,283.4h0M143.1,284.7h0M127.8,280.5h0M130.8,268.7h0M166.5,288.6h0M155.4,274.5h0M159.8,285.2h0"/>
<path d="M156.4,288.6h0M173.4,275.5h0M147.7,276h0M143.9,282h0M160.6,292.1h0M162,277.8h0M133.6,274.1h0M138,280.2h0M154.2,306.2h0M141.8,277.3h0M152.2,278.8h0M136.5,287.3h0M169.1,294.6h0M136.7,277.3h0M183.8,290.5h0M158.7,283h0M147.7,282.1h0M171,294.1h0M142.2,281.6h0M146.1,282.6h0M154.7,287h0M136.2,255.9h0M170.7,295.5h0M160.9,292.2h0M169.9,298.2h0M141.9,272.6h0M170.6,291.4h0M188.1,303.1h0M147.7,280.7h0M149.1,275.8h0M173.1,290.4h0M129.9,270.7h0M134.7,279.8h0M140.9,283.3h0M139,297.7h0M138.5,278.4h0M172.9,290.7h0M187.2,293.8h0M125.5,291.1h0M130.1,281.4h0M172,294.3h0M182.1,282.7h0M120.6,276.4h0M157.1,272.8h0M149.4,284.7h0M140.2,262.9h0M148.2,264.3h0M148.2,270.4h0M175.9,293h0M156.5,277.5h0M184.4,283.9h0M133,276.2h0M153.9,279.5h0M150.6,283.7h0M137.5,280.2h0M150.7,282.1h0M153.6,283.4h0M153.4,280.1h0M161.2,286.9h0M172.3,291.8h0M158.6,310h0M142,291h0M163.4,292.4h0M157.2,286.3h0M158.1,286.5h0M143.7,284.4h0M140.9,269h0M157.3,300h0M170.1,301.7h0M165.8,282.4h0M140.9,266.5h0M151.5,275.9h0M154.7,287.3h0M144.3,283.5h0M136.5,288.3h0M127.7,266.5h0M126.6,280.6h0M142.8,270.2h0M142.8,284.4h0"/>
<path d="M161.1,300.5h0M149.8,283.5h0M144.6,293.8h0M158.6,283.9h0M155.7,294.8h0M186.6,293.6h0M184.2,281.3h0M144.7,276h0M172.7,277.1h0M132.1,282.5h0M138,288.1h0M147.8,280.3h0M178.2,299.4h0M153,288.7h0M144.2,282.1h0M142.7,271.4h0M132.9,282.8h0M140.3,288h0M126.9,275.2h0M164.4,279.6h0M115.9,264.3h0M136.8,280.8h0M145.3,283.1h0M130.6,265.6h0M150.5,276.3h0M163.4,280.1h0M136,276h0M139.1,274.2h0M161.1,289h0M151.2,273.6h0M149.9,282.1h0M139.5,264h0M165.4,276.3h0M146.9,274.5h0M161,272h0M174.9,295.3h0M169.1,297.1h0M169.5,285.6h0M165.1,294.5h0M132.6,273.3h0M161.1,278.5h0M137.9,291.3h0M171.1,278.5h0M167.1,291h0M171.8,292.2h0M150.3,311.6h0M145.1,274.2h0M150.2,281.2h0M135,289.9h0M163.5,290.7h0M170.2,285.2h0M157.2,271.7h0M141.7,284.4h0M147.4,272.1h0M163.8,293.9h0M162.3,285h0M145.6,268.5h0M134,287.9h0M171,298.3h0M140.9,280.8h0M145.6,288.5h0M144.6,306.3h0M138.6,265.8h0M167.8,271.4h0M149.5,274.7h0M162.3,272.6h0M149.3,281.9h0M157.9,275.7h0M129.9,287.7h0M154.1,285.3h0M154.3,268.7h0M154.5,288.4h0M138.8,276.5h0M150.9,288.2h0M179.9,293h0M162.8,265h0M174.5,305h0M146.9,288.2h0M145.8,289.5h0"/>
<path d="M155.1,277.5h0M192.2,294h0M138,269.1h0M159.7,276.5h0M152.9,296.5h0M174.9,282.2h0M172.3,284h0M158.2,272.1h0M146.8,284.5h0M136,263.7h0M155.2,292.2h0M145.5,273.1h0M141,287.5h0M159.3,279.3h0M122.5,274.3h0M150.1,290.4h0M131.6,267.5h0M146.3,280.9h0M152.7,286.7h0M124.3,265.9h0M167.8,289.2h0M163.8,288.9h0M156.3,285.1h0M149,288.5h0M142.4,289.9h0M138.2,285.3h0M122.5,275.6h0M144.2,274.5h0M146.9,276.4h0M146.3,281.9h0M149,283h0M139.9,276.1h0M184,295.7h0M151.3,271.9h0M189.8,285.4h0M137.8,284.4h0M141,271.6h0M153.1,281.5h0M130.6,272.5h0M156.4,274.6h0M173.5,293h0M133.7,278.7h0M158.1,276.5h0M165.7,282.3h0M154.3,277.2h0M157.9,288.1h0M149.9,286.7h0M143.4,296.9h0M162.7,284.4h0M147.4,282.8h0M171.9,271.9h0M169.3,284h0M157.1,281.9h0M172.6,294.9h0M130.4,273.3h0M146.1,284.7h0M145.5,282.2h0M156.1,279.1h0M156.8,284h0M144.4,284h0M149.6,284.3h0M175.7,294.4h0M144.8,288.1h0M131.1,285.9h0M165,295h0M144.6,277.3h0M131.9,283.8h0M142.1,272h0M139.4,273.6h0M174.2,290.7h0M162,285.7h0M150.6,289h0M124,254.8h0M129.6,272h0M166.4,294.5h0M150.7,289.2h0M187.1,296.7h0M143,301.9h0M157.4,281.1h0"/>
<path d="M177.6,283.3h0M148.9,292.8h0M163.6,281h0M156.9,287.3h0M153.4,285.9h0M159,286.7h0M150.4,294.8h0M164.5,284.1h0M142.3,281.9h0M148.5,282.2h0M151.7,266.8h0M165.2,285.8h0M143.6,297.6h0M161.7,282.7h0M151.9,292.1h0M133.1,278.3h0M162.5,294.7h0M153,289.7h0M143.6,288h0M155.8,293.1h0M131.3,271.4h0M143.5,291.1h0M157.9,300.1h0M155.8,297.6h0M161.1,276.4h0M145.6,282.3h0M152,298.7h0M151.9,302.2h0M153.6,282.3h0M138.6,291.8h0M146.4,289.2h0M170.3,295.8h0M161.9,271.4h0M129.4,275.2h0M171.1,286.1h0M157.8,281.1h0M189.5,288.1h0M136,301.9h0M162.6,296.6h0M152,276.8h0M163,275.6h0M169.9,295.4h0M147.5,271.5h0M125.3,270.4h0M147.9,297.6h0M188.8,297.9h0M157.6,288.1h0M173.9,289.4h0M129.6,274.2h0M131.3,270.4h0M172,293.2h0M137,288.3h0M135.3,282.1h0M193.5,304.2h0M151,265.3h0M142,272.8h0M152,280h0M143.3,267.7h0M178.3,281.3h0M141.6,301.4h0M136.4,276.5h0M120.1,274.8h0M155.1,290.4h0M154.1,273.3h0M144.1,270.9h0M142,276.7h0M144,289.9h0M171.5,291.9h0M145.5,273.5h0M130.5,262.4h0M120.4,259.9h0M146,268.6h0M141,286.4h0M148.4,282.7h0M141.7,278.7h0M157,278.3h0M167.3,276.6h0M161.5,284.5h0M155.9,285.2h0"/>
<path d="M153.5,277h0M153.4,279.4h0M179.9,290.2h0M132.8,283.7h0M167.9,271h0M142.1,282.2h0M156.8,294.4h0M118.1,275.4h0M138.4,270.2h0M149.7,282.4h0M169.9,297.9h0M138.3,285.1h0M161,288.7h0M152.9,279.4h0M131.1,271.7h0M132.3,276.3h0M161.8,290.3h0M143.5,288.2h0M166.4,291.1h0M147.7,284.6h0M178.4,280.6h0M154,284.5h0M151.2,289.6h0M141,278.7h0M151.4,310.4h0M161.1,278.8h0M134.1,273.6h0M160.1,280.5h0M152.9,277.6h0M142.5,281.4h0M132.8,272.5h0M157.5,290.8h0M149.9,287.1h0M143.6,278.3h0M166.5,292.3h0M131.3,259.7h0M149,286.1h0M163.8,297.2h0M149.9,283h0M162.2,296.9h0M178.2,285.4h0M157.3,295.9h0M157,287.4h0M153.4,287.5h0M141.6,278.1h0M150.1,291.1h0M153.2,273.5h0M159,274.5h0M131.4,283.6h0M173.9,278h0M148.7,291.8h0M149.9,272.2h0M144.8,289.9h0M139.3,273.1h0M166.8,289.8h0M144.3,299h0M167.2,291.4h0M124.3,286.3h0M144.7,275.8h0M144.2,271.4h0M149,294.5h0M146.5,304.5h0M157.7,276.1h0M137.4,282.8h0M162.1,274.3h0M157.7,271.7h0M154,277.1h0M140.5,273h0M150.3,290.7h0M144.4,274.7h0M150.3,293.1h0M149.2,279.1h0M169.7,269.5h0M141.6,285h0M163.2,281.6h0M140,275.8h0M140.4,283.7h0M152.8,279.1h0M173.4,282.5h0"/>
<path d="M174.7,306.4h0M145.8,294.3h0M147.8,287.1h0M150.4,273.1h0M163,280.1h0M129.2,280.4h0M138.8,273.5h0M129.1,273.2h0M155.9,295.8h0M149.1,271h0M158.7,290.8h0M124,276.7h0M172.9,303.4h0M148.1,277.7h0M138.9,282.6h0M150.8,283.2h0M150,277.2h0M126.1,284.7h0M166.3,296h0M135.3,280.4h0M130.2,274.2h0M150.1,279.2h0M161.3,302h0M184.3,296.6h0M184.7,294.6h0M168.7,269.7h0M118.3,254.5h0M146.7,283.4h0M139.1,279.1h0M153.3,276.3h0M130.2,261.2h0M148.9,284.3h0M169.3,291.5h0M164.9,281.6h0M150.3,289.1h0M161.4,283.4h0M170.3,282.9h0M140.2,274.5h0M145.5,282.2h0M163.3,291.5h0M166.2,276.2h0M149.4,287.1h0M164.8,279.3h0M153.7,289.6h0M155.1,281.1h0M130.9,278.4h0M158.5,291.4h0M138,280.8h0M142.6,277.7h0M149.7,298.3h0M182,295.3h0M180.3,285.6h0M173.3,288h0M160.6,282.6h0M158.3,279.8h0M165.7,298.8h0M155.9,292.5h0M163,285.8h0M163.2,286.6h0M168.3,281.5h0M165,295.7h0M155.3,294.4h0M135,272.9h0M141.9,281.8h0M156.5,291.3h0M174.5,286.3h0M172.2,280.1h0M156.3,293.7h0M173.2,281.4h0M149.5,281.8h0M125.6,270.1h0M151.8,275.8h0M158,290.5h0M138.1,293h0M182.1,297.4h0M160.1,282.1h0M166.7,278.7h0M128.9,281.1h0M154.1,271.3h0"/>
<path d="M172,295.5h0M159.1,283.7h0M159.6,288.9h0M153.7,275.5h0M145.3,283.7h0M171.6,283h0M162,270h0M172.2,283h0M132.3,268.8h0M140,284.6h0M162.8,295.1h0M162.4,293.1h0M149.4,284.7h0M152.8,284.3h0M137.1,287.7h0M138.4,270.7h0M171.2,299h0M143.1,284.3h0M149.3,276.8h0M139.8,280.3h0M154.8,289.8h0M140.2,269.5h0M135.4,299.7h0M158.9,301.8h0M145.8,275.5h0M152.8,270h0M133.9,274.2h0M149.6,280.9h0M154.8,275h0M143.4,280.9h0M150.6,276.2h0M159.7,287.5h0M130.3,272.2h0M190.2,301h0M147.2,274.4h0M134.4,264.9h0M145.6,273.7h0M172.7,283h0M159.8,278.6h0M140.9,266.8h0M145.9,271.8h0M174.3,297.8h0M160,289.9h0M165.7,301.1h0M154.9,268.5h0M143.6,277.7h0M137.1,277.2h0M159.7,282.3h0M155.1,290.1h0M133.9,284.3h0M147.3,275.3h0M156.1,285.7h0M177.8,287.1h0M162.5,291.1h0M177.9,295.4h0M156.8,280.9h0M141.3,276.9h0M144.6,280.8h0M173.5,291.9h0M183.1,300.6h0M127.3,279.8h0M177.2,294.2h0M143.1,283.2h0M145.8,279.8h0M154.1,291.8h0M129.5,263h0M145.7,287.4h0M154.2,285.2h0M133.1,261.3h0M168,276.9h0M125.8,287.9h0M144.8,281h0M148.3,283.6h0M155.8,283.8h0M120.9,255.6h0M131.4,290.4h0M136.6,284.4h0M146.8,276.8h0M131.4,280.3h0"/>
<path d="M125.9,275.4h0M158.5,282.1h0M168.7,309.1h0M151.1,282.8h0M151.2,273.7h0M120.4,270.2h0M151.7,294.1h0M175.4,281.8h0M159.9,278.6h0M131.3,281.4h0M169.8,297.1h0M153.4,284.6h0M159.1,283.6h0M129.6,282h0M134.8,286.9h0M141.6,285.5h0M143.7,290.5h0M184.9,292.7h0M137.8,270.8h0M156.6,273.5h0M126.3,260h0M128.4,259.6h0M129.7,280h0M147.6,269.1h0M143.3,284.1h0M166.6,292.7h0M146.6,289.8h0M146.1,266.5h0M133,262.5h0M158.2,288.3h0M166.8,278.9h0M175,293.1h0M153.2,277.1h0M174,304.5h0M155.5,284.8h0M137.1,286.2h0M178,294.2h0M136.5,273.1h0M143.6,290h0M161.6,287.3h0M152.3,283.3h0M156,281.9h0M147.1,281.4h0M165.9,290h0M158.3,288h0M142,271.5h0M161.1,286.4h0M164,295.9h0M164.5,292.2h0M157.1,292.9h0M165.7,276.3h0M139.2,272.5h0M145.1,291.8h0M177.8,283.9h0M150.8,282.2h0M175.4,305.9h0M152.4,284.2h0M129.8,293.1h0M183.7,281.1h0M150.7,278.9h0M139.9,283.2h0M152.7,278.8h0M181.7,301.4h0M153.5,292h0M128.3,266.8h0M179.7,294.8h0M156,287.8h0M132.1,265.8h0M152.4,288.4h0M150.7,292.7h0M140.9,270.2h0M187.6,292h0M126.3,268.1h0M140.6,274.3h0M173,294.2h0M145.4,298.3h0M192.8,295.9h0M155.6,282.8h0M177.3,275.1h0"/>
<path d="M157.9,286.3h0M135.4,276.9h0M141.8,271h0M155.6,287.5h0M163.6,296.8h0M183.2,294.1h0M153.4,283.7h0M149.4,294.8h0M158.2,300.4h0M136.2,253.3h0M142.6,278.5h0M175.5,301.7h0M132,260.5h0M156.5,285.4h0M152.4,281.6h0M165.9,301.8h0M163.2,289.7h0M157.4,294.4h0M155,285.1h0M133.5,274.5h0M164,289.7h0M147.2,285.4h0M144.8,276.5h0M187.3,307.5h0M146.3,279.6h0M134.6,269.2h0M145.1,276.1h0M151.8,287.5h0M157,278.8h0M133.6,272.9h0M161.6,287.6h0M138.5,278.8h0M169,280.4h0M144.9,282.2h0M140.5,280.4h0M194.8,300.2h0M162,294.9h0M166.8,296.2h0M148.5,274h0M132.5,257.9h0M187.2,284.2h0M168.3,285.3h0M150.7,294h0M128.4,274.9h0M163.8,291.3h0M134.5,269.6h0M141.3,278.5h0M161.7,280.5h0M151.8,273h0M151.3,288.2h0M138.1,265.8h0M146.3,287.4h0M149.6,273.8h0M141.2,279.6h0M148.9,289.2h0M129,271.4h0M149.7,300.3h0M155.2,263.6h0M146.7,293.7h0M155.2,285.3h0M133,284.2h0M134.9,268.8h0M128.9,262.2h0M147.5,275.9h0M169.8,285.4h0M144.1,271.5h0M155,299.9h0M155.3,272.4h0M141.9,285.4h0M176.9,291.4h0M166.5,293.4h0M156.6,289h0M154.4,285h0M173.1,291.3h0M130.8,271.4h0M120.9,268.1h0M154,278.4h0M151.2,288.2h0M147.9,285.6h0"/>
<path d="M133.8,284.9h0M131.8,280h0M160.8,301.1h0M152.9,294h0M140.8,268.5h0M138.5,271.7h0M135.9,261.3h0M156.2,279.9h0M138.1,292.3h0M166,303.9h0M170.7,278.3h0M158.4,282.7h0M133.6,275.8h0M144.8,274.7h0M167,280.6h0M188.2,283.6h0M130,278.5h0M163.6,280.2h0M159.9,269.7h0M154.1,282.9h0M131.5,278.1h0M142.9,278.4h0M134.3,284.5h0M125.2,264.7h0M173.5,292.6h0M146.2,282.2h0M144.1,276h0M153.8,281.7h0M147.8,279.1h0M151.8,278.3h0M136.6,277.2h0M164,277.3h0M167.4,288.3h0M168.8,289.5h0M137.8,281.8h0M133,268.6h0M149.8,291.5h0M167.5,283h0M153.2,288.4h0M143.5,290h0M145.1,277.4h0M151.5,280.1h0M141.9,269.6h0M142.3,280.1h0M130,267.5h0M182.1,298.7h0M149.8,293h0M157.9,298.6h0M132.1,282.7h0M152.3,271.8h0M128.5,289.6h0M195,287.1h0M167.1,294.5h0M145.6,271.3h0M151.3,279.3h0M164.4,286.7h0M155.8,286.1h0M164.6,290.8h0M153.8,282h0M130,268.1h0M139.8,273.3h0M151.6,284.1h0M121.4,276.7h0M151.4,289.9h0M143.9,270.4h0M174.4,284.6h0M132.3,284.8h0M143.1,272.6h0M157.1,281.7h0M142.2,278.4h0M146.1,278.8h0M148.1,289.2h0M134.2,282.3h0M144.2,296.3h0M158.3,282.1h0M158,270.9h0M155.6,282.9h0M136.4,276.9h0M171.3,280.3h0"/>
<path d="M159.6,271.3h0M163.9,294.1h0M164.4,277.9h0M142.8,283h0M146.4,280.3h0M165.7,278h0M134.8,272.6h0M130.2,263.3h0M131.8,275.8h0M128.8,270h0M159.2,297h0M164.4,293h0M136,282.7h0M124.3,266.9h0M164.1,261.8h0M157.6,296.7h0M170.4,292.1h0M152.2,287.4h0M167.4,288.7h0M143.5,277.5h0M184.4,291.6h0M191.9,302.6h0M134.1,276.9h0M160.1,273h0M173.7,285.2h0M162.6,276.8h0M123.4,259.8h0M141.5,287.2h0M137.8,277h0M173.2,297.2h0M170.1,284.4h0M151.3,291.2h0M155.8,273.3h0M143.8,281.2h0M159,291.4h0M155.1,287.1h0M159.4,287.6h0M159.1,278.5h0M134.1,283.4h0M147.7,288h0M184.8,289.6h0M148.9,276.8h0M174.2,310.1h0M130.5,282.1h0M162.1,281.5h0M152.3,285h0M157.2,285.7h0M161.2,295.5h0M150.7,276.5h0M137,267.1h0M152.4,291.3h0M144.5,278.2h0M146.8,274.4h0M142.7,280.9h0M163.2,271h0M154.8,300.3h0M147.4,282.2h0M138.3,257.9h0M160.4,283.5h0M128.6,275.6h0M154.8,300.4h0M150.7,287h0M133.6,264.1h0M159,280.6h0M174.3,292.8h0M150.1,294.3h0M149,281.3h0M150.7,287.1h0M153.4,285.7h0M144.2,278.2h0M151.6,287.4h0M158.2,272.7h0M144.8,268.9h0M154.2,268.6h0M157.2,279.8h0M150.5,277.7h0M130.6,262.3h0M135.9,275.7h0M172.3,290h0"/>
<path d="M153.8,277.7h0M179.4,280.9h0M154.3,282h0M140.5,280.7h0M152.8,294.2h0M163.3,301.7h0M143.8,273.7h0M159.3,283.5h0M177.6,291h0M128.2,272.8h0M181.8,278.7h0M132,277.5h0M185,301.1h0M142.7,273.3h0M151.7,290h0M157.5,277h0M134.6,273.2h0M182.9,293.9h0M177.5,290.4h0M164.7,288.7h0M146.1,274.5h0M154.6,288.2h0M136.1,297.4h0M143.4,279.4h0M189.3,285h0M155.2,274.1h0M140.5,282.1h0M180.7,290.1h0M145.6,278.7h0M156.8,301.3h0M145.8,291h0M147.3,282.8h0M143,280.8h0M126.3,274h0M127.8,271.9h0M173.2,290.6h0M133.9,280.5h0M125.7,273.4h0M156,288.7h0M161.1,314.3h0M143.6,263h0M160.7,297.1h0M138.1,280.9h0M166.6,291.8h0M179.9,277.7h0M173.3,287.8h0M165.8,294.7h0M136.8,283.8h0M156.6,283.8h0M139.5,279.9h0M150.2,276.4h0M122.8,271.4h0M147.7,280h0M148.8,283.6h0M141.6,272.3h0M166.3,292.8h0M131.7,278.6h0M152.7,282.9h0M160.7,273.1h0M145.9,280.5h0M153.8,293.2h0M157.3,274.2h0M153.8,267.2h0M140.6,280.9h0M139.7,266.7h0M132.3,266.8h0M145.7,281.4h0M130.7,283.8h0M161,291.1h0M170.7,293.6h0M158.6,295.6h0M171.6,297.5h0M169.5,298.9h0M149.2,271.3h0M144.5,264h0M148.5,285.1h0M161.8,293.2h0M141.5,289.9h0M144.1,273.9h0"/>
<path d="M155.8,286.3h0M151.1,276.6h0M150.6,271.6h0M137.7,278.3h0M184.4,302.1h0M168.1,287.3h0M157.7,293.6h0M149.1,288.1h0M143.1,283.4h0M155.1,292.4h0M135.3,274.5h0M166.2,291.4h0M139.4,266.3h0M146.4,277.7h0M168.7,274.2h0M142.3,291.4h0M168.2,285.5h0M134.2,290.4h0M131.8,282.5h0M172.9,298.7h0M166.2,295.4h0M152.1,276h0M159.5,288.5h0M163.1,286h0M177,298.7h0M121.9,266.3h0M144.2,278.8h0M148.6,281.7h0M129,286.9h0M142.4,284.8h0M185.6,294.9h0M154.1,274.3h0M165.2,289.5h0M164.3,284.5h0M153.3,287.2h0M154,272.7h0M158.9,277.5h0M170.8,288.6h0M171.8,280.5h0M129.4,268.8h0M156.9,290.7h0M146.2,279.8h0M162.4,293.2h0M178.6,300.3h0M158.6,293.1h0M175.7,279.1h0M148.8,291.5h0M140,274.3h0M147.1,278h0M137.4,290.7h0M155.3,305.3h0M144.7,280.4h0M132.8,284.1h0M173.8,300h0M159.8,284.7h0M129.7,260h0M167.8,289.9h0M179.4,280h0M160.4,284.2h0M144.1,293.2h0M147.9,290h0M141.6,276.7h0M162.2,277.7h0M143.6,302.3h0M148.1,287.9h0M161.3,272.6h0M150.2,271.8h0M156.6,296.6h0M166.6,274.5h0M146.3,273.2h0M143.2,266.2h0M138.9,283.8h0M162.4,288.4h0M158.4,286.7h0M168.6,291.3h0M148.5,281.8h0M165.6,272.7h0M143.9,288.3h0M144.7,287.9h0"/>
<path d="M161.9,290.9h0M140.2,276.9h0M140.2,288h0M163.1,284.1h0M158.9,278.7h0M158,280.4h0M139.5,286.5h0M150.8,283.2h0M140.6,283.2h0M153.6,292.2h0M160.9,275.8h0M157.4,272.8h0M151.4,293.8h0M156.5,276.1h0M172,303.9h0M173.4,276h0M158.5,286.8h0M170.3,299.6h0M143.6,278.7h0M138,258.5h0M141.7,280.6h0M160.2,290.3h0M177.8,291.2h0M135.4,284.6h0M148.5,276.7h0M149.7,278.2h0M171.6,300.5h0M154.5,280.8h0M144,276.3h0M158.2,299h0M142.7,289h0M175,286h0M146.8,289.4h0M147.9,285.6h0M168.9,289.9h0M152.7,291.4h0M139.2,283.2h0M155,276.5h0M150.3,278.6h0M165.9,296.9h0M194.7,288.1h0M179.6,284.3h0M144.1,263.1h0M142.2,279.9h0M141,264.5h0M144.9,285.8h0M155.6,271.3h0M144.3,279.7h0M159.6,284.7h0M159.3,289.2h0M146.7,278.4h0M143.8,281.1h0M141.5,286.9h0M129.7,266.5h0M164.8,281.2h0M163.3,280.9h0M187.4,298.3h0M157.4,286.9h0M149.8,278.4h0M132.5,278.4h0M123,260.9h0M161.4,284h0M146.4,286h0M144.1,281.5h0M154.7,282.3h0M135.8,280.3h0M166.8,289.6h0M131.9,288.8h0M170.1,293.8h0M130.1,276.9h0M140,271.9h0M148.4,275h0M138.4,279.8h0M157.1,284.3h0M148.6,272.1h0M151.5,279.2h0M140.3,288.4h0M154,297.1h0M132.5,270.8h0"/>
<path d="M146.1,295.5h0M150.9,276h0M157.4,291.9h0M165.8,280h0M132.9,272.3h0M149.7,278.3h0M159,303.7h0M161.6,290.9h0M140.4,277.3h0M140.9,283.9h0M148.3,287.5h0M187.1,289.4h0M160.7,284.7h0M141.4,281.7h0M165.7,288.6h0M124,266.7h0M159.1,293.4h0M166.3,280.3h0M149.6,290.6h0M150.3,289.7h0M149.1,287.1h0M154.2,290.5h0M137.7,293.1h0M166.8,290.4h0M115.4,263.3h0M137.4,284h0M148,283h0M130.9,269.9h0M154.8,295.8h0M178.3,307.7h0M139.9,272.9h0M162.6,279.1h0M156.2,273.3h0M153.4,276.2h0M138.3,275.3h0M118.7,266.5h0M147.9,292.6h0M147.2,293.6h0M153.5,288.2h0M130.9,285.8h0M162.7,291.6h0M155.3,289.9h0M134.8,264.9h0M159.4,285.1h0M169.3,300.3h0M156,276.8h0M168.1,283.7h0M156.2,278.3h0M145.9,273.5h0M137.2,271.2h0M147,278.3h0M142.2,274.3h0M140.4,279.9h0M132,280.1h0M156.4,284.6h0M139.4,271.9h0M147.2,270.4h0M150.1,277.2h0M148.3,272.2h0M134.6,271.4h0M163.1,284.3h0M144,278.6h0M139.2,276.9h0M152.6,286.5h0M154.4,281.8h0M151.4,283.7h0M146.4,293.6h0M135.4,271h0M155.8,283.2h0M144.5,273.8h0M152.5,281.8h0M139.7,272.7h0M124.6,271h0M132.8,276.2h0M149.9,289h0M159.5,296.8h0M141.2,282.4h0M143.3,284.7h0M154.9,266.2h0"/>
<path d="M147.9,274.5h0M153,287.8h0M148.5,283.6h0M170,296.6h0M138.9,288.5h0M152.1,301h0M141.8,271.6h0M146.1,279.5h0M165.4,284h0M152.3,271h0M145.3,288.2h0M159.1,264.8h0M164.2,280.5h0M149.1,280.7h0M135.7,272.1h0M129.4,274.9h0M161.8,279.5h0M166.4,297.7h0M161.9,284.6h0M178.7,294.5h0M125.3,259.1h0M160.6,283.5h0M155.1,276.3h0M139.2,293.1h0M162.8,279.6h0M153,279.9h0M151,275h0M170.4,275.5h0M162.9,284.1h0M163.8,289.8h0M163.7,285.5h0M175.8,290.1h0M129.3,273.5h0M152.4,278.1h0M149.6,269.9h0M146.2,282.5h0M176.9,297.1h0M156.3,289.4h0M159.7,302.8h0M145,284.4h0M147.1,292.6h0M146.1,280.1h0M147.4,283.2h0M135.2,264.2h0M125.8,268.4h0M160.3,299.8h0M157.4,287.5h0M182.9,296.4h0M139.3,277.8h0M138.7,276.9h0M124.5,261.1h0M156.4,290.6h0M158.6,283.9h0M191,282.7h0M136.3,283h0M164.8,290.4h0M160.4,284.9h0M139.3,276h0M133.2,272.1h0M142.1,275.9h0M137.4,281.7h0M155,285.1h0M126.2,281.6h0M170,285.7h0M143.7,281h0M151.2,272.5h0M145.4,284.6h0M156.2,281.5h0M155.9,282.7h0M132.7,286h0M159.9,284.4h0M155.2,295h0M150.1,285.3h0M158.6,285.4h0M144.1,273h0M155.4,278.2h0M129.4,276h0M132.9,268.7h0M130,283.6h0"/>
<path d="M163.5,285.5h0M144,280.7h0M159.4,304.7h0M165.5,288.8h0M172,301.5h0M128.3,268h0M139.5,272.7h0M168.7,293.4h0M161.5,282.5h0M128.6,282.2h0M141.2,277.8h0M151.4,287.8h0M148.8,270.4h0M129.5,265.7h0M155.9,292.8h0M141,270.2h0M132.5,282.9h0M142.8,276.7h0M132.5,280.6h0M148.4,289h0M142,277.8h0M165.5,302.4h0M157.8,289.9h0M136.8,251.9h0M163,276.7h0M153.1,296.9h0M158.2,285.9h0M170.3,285h0M156.7,272.4h0M166.1,290.6h0M133.5,277.1h0M157.2,292.1h0M152.4,282.1h0M132.6,268.8h0M140.9,265.2h0M177.8,297h0M150.7,278.7h0M146.8,267.2h0M161.1,288h0M149.4,280.9h0M127.1,265.8h0M141.5,279.2h0M151,295.1h0M126.4,267.2h0M164.4,299.7h0M153.7,286.4h0M139.1,286.6h0M141.8,287.1h0M160.4,292h0M141.2,257.5h0M169,287.6h0M174.8,293.3h0M159,283.8h0M146.1,275.8h0M167.4,270.2h0M193.3,289.9h0M139.1,281.6h0M173.3,297.9h0M155.9,274.8h0M167.1,281.9h0M158.1,290h0M176.8,299h0M150.4,287.9h0M168.9,292.3h0M129.1,285.8h0M156.3,297.9h0M131.9,282h0M140.2,270.2h0M157.8,282.8h0M140.3,279h0M134.4,280.6h0M143.8,292.8h0M140.9,267.4h0M148.5,283.5h0M121.4,257.4h0M162.4,295.7h0M141.3,283.4h0M149.5,284.9h0M178.1,290.2h0"/>
<path d="M161.9,284.7h0M173,296.1h0M162.1,297.4h0M130.2,271.5h0M131.5,280h0M135.3,282.2h0M177.7,273.9h0M141.8,239.1h0M163.9,283.8h0M154.2,285.7h0M190.5,296.6h0M131.6,269.1h0M152.9,272.8h0M130.5,271.8h0M132.5,274h0M174.6,288.8h0M136.8,276.9h0M163,280h0M140.3,265.8h0M155.3,282.3h0M182.3,305.1h0M165.5,284.4h0M163.6,299h0M187.9,284h0M176.4,310.9h0M151.3,288.5h0M148.2,273.3h0M169.8,293.1h0M141.9,273.8h0M186.9,296.1h0M151.6,285.5h0M171.2,297.7h0M152.7,288h0M157.2,279.6h0M183.5,304h0M127.8,259.4h0M139.8,281.2h0M150.4,277.6h0M147.3,284.7h0M138,269h0M163.5,285.6h0M130.3,268.7h0M168.3,284.5h0M183.9,290.1h0M172.2,286.3h0M144.6,300.9h0M170,299h0M175.6,273h0M150.6,281.5h0M154.5,288.7h0M182.4,291h0M179.5,292.6h0M137.9,275h0M137.9,283.7h0M188.7,293.2h0M155.2,288.1h0M168.5,291.2h0M156,292.7h0M157.1,276.4h0M177.1,286.4h0M176.1,294.3h0M135.3,271.6h0M168.3,293.1h0M178.9,305.7h0M158.1,284.7h0M166.2,287.4h0M148.4,285.1h0M158,288.3h0M174.3,291.9h0M162.3,299.2h0M138.5,285.7h0M165.2,294.2h0M158.8,290.8h0M164.7,280.1h0M151.2,279.7h0M146.2,285.4h0M138.5,284.9h0M161.2,299h0M161.8,289.1h0"/>
<path d="M165.4,280.9h0M147.9,288.1h0M149.6,278.8h0M137.3,266.7h0M127.1,281h0M139.6,270.7h0M146.9,293.1h0M151.8,292.3h0M139,272h0M149.5,285.9h0M143.2,281.6h0M159.7,304.3h0M127.8,264.4h0M145.5,293.5h0M165,288.6h0M152.1,282.1h0M144.5,289.9h0M153.8,288.4h0M161.1,290.2h0M145.5,272.9h0M145.3,287.7h0M181.2,296.4h0M141.1,279.3h0M142.8,279.3h0M156,277.3h0M145.2,265.9h0M147.3,288.5h0M158,287.4h0M163.7,299.1h0M153.2,284.4h0M155.2,293.4h0M168,274.8h0M148.6,281.7h0M170.9,290.9h0M150.7,277.6h0M139,285.1h0M135.2,297h0M137,266.8h0M156.5,286.4h0M159.4,285.9h0M153.3,279h0M164.8,290.9h0M173.8,296.2h0M147,286h0M143.9,275.4h0M156.5,290h0M121.1,274.4h0M154.1,285h0M139.6,278.7h0M140.5,280.7h0M146.9,287.4h0M181.4,278.8h0M143.2,263.6h0M166.8,279.4h0M177.9,279.1h0M135.7,277.9h0M160.2,282.6h0M158.5,300h0M164.5,288.3h0M150.6,272.1h0M161.5,286.6h0M140.5,292h0M160.8,291.2h0M137.6,275.1h0M144,274.6h0M162,295.4h0M170.9,294h0M147.3,264.8h0M139.1,288h0M140,261.3h0M156.1,281.5h0M134.9,277.9h0M154.1,286.9h0M141.2,282.6h0M147.5,286.5h0M137.7,276.4h0M148.2,283.6h0M144,281.1h0M159.9,287.7h0"/>
<path d="M158.9,294.4h0M142.4,282.6h0M175.9,273.3h0M177,297.4h0M132.6,274.7h0M156.7,272.7h0M145,269.3h0M134.3,282.8h0M165.5,291.3h0M138.4,264h0M150.2,285.5h0M180.6,291.3h0M149.3,288.2h0M157.4,279.7h0M131.6,275.6h0M155.9,284.8h0M145.9,277.4h0M155.5,285.5h0M138.5,291.6h0M187.1,294.2h0M155.1,274.3h0M137.5,269.4h0M147.5,292.9h0M161.1,289h0M190.5,290.8h0M161.2,282.6h0M148.5,278.9h0M162.6,293.7h0M156.1,299.4h0M152,280.7h0M164.4,297h0M142.6,280.3h0M140.7,267.5h0M155.1,269.3h0M164.3,278.7h0M174.5,299.4h0M154.7,300.1h0M139.1,261.7h0M185.7,298.5h0M171.2,276.8h0M179.2,290.8h0M146.2,290.6h0M134.6,279.8h0M187.1,276.3h0M146.3,282.1h0M155.1,269.4h0M144.7,289.9h0M136.5,275h0M166.2,288.9h0M159,280.8h0M127.4,254.9h0M158.4,298.6h0M145.8,282.2h0M154.8,280h0M144.8,292.1h0M159.6,273.1h0M152.9,307.9h0M151.8,296.2h0M127.2,278.9h0M167.2,278.9h0M166.9,293.4h0M138.9,267.8h0M155.3,281.1h0M144.8,282.5h0M175.8,289.2h0M137.1,280.3h0M152.5,280.7h0M152.3,273.2h0M158.9,287.7h0M185.2,309.8h0M165.5,295h0M167.6,282.2h0M172.6,290.8h0M168.6,285.3h0M130.9,280.2h0M136.8,281.5h0M148.1,278.3h0M172.3,288.9h0M148.9,276.2h0"/>
<path d="M172,309.1h0M144.1,271.8h0M135.4,286.3h0M167.4,282.1h0M153.3,265.8h0M160.7,288.1h0M140.2,277.7h0M161.2,288.5h0M142,268.3h0M139.6,273h0M131.5,270.8h0M147.6,277.8h0M134.1,268.9h0M138.8,274.4h0M157.4,290.8h0M150.2,277.3h0M141.5,281.5h0M164.7,291.6h0M124.4,266.4h0M169.8,277.8h0M126.6,260h0M149.8,290.9h0M147.8,300h0M173.7,298.6h0M166.1,287h0M162.3,300.1h0M147.3,276.6h0M159.2,287.7h0M166,290.9h0M164.3,294.4h0M187.6,294.5h0M145.6,278.2h0M166.5,274.2h0M144.2,268.5h0M140.3,283.7h0M169.2,295.9h0M134.1,270.7h0M185.2,281.4h0M145.1,279.5h0M153,279.5h0M142.9,281.9h0M152.3,292.9h0M130.7,277.5h0M182.5,295.8h0M160.8,291.8h0M160.5,291.8h0M176.2,281.2h0M180.1,301.7h0M190.3,290.3h0M150.1,276h0M143.8,284h0M143.7,276.5h0M153.1,305.4h0M145.1,294.2h0M144.6,272.9h0M139.1,264.2h0M137.5,255.6h0M150.5,280.2h0M184.5,290h0M145.8,271.3h0M161.6,271.5h0M190.9,280.7h0M141.3,272.7h0M133.9,267.4h0M160.1,283.5h0M151.7,281.6h0M136.1,288.3h0M152.1,293.9h0M143.9,281.3h0M136.5,274.3h0M151.8,273.7h0M170.9,287.2h0M142.7,280.8h0M163.6,297.8h0M153.1,268.6h0M160.3,269.3h0M164.5,302.6h0M173.2,282.9h0M151.3,281.3h0"/>
<path d="M135.3,258.7h0M139.9,284.5h0M143.5,273.6h0M145.9,273.9h0M157.9,282.1h0M131.9,268.2h0M145,276.2h0M128.2,269.9h0M147,286.3h0M155.1,284h0M116.5,282.7h0M139.2,289.7h0M139.8,278h0M149.7,295.4h0M160.5,289h0M154.4,281.3h0M152.2,278.4h0M139.5,280.8h0M166.8,263.5h0M159.3,286.2h0M122.4,267.7h0M118.1,277.3h0M161.7,283.5h0M153.1,286h0M181.3,294.7h0M152.4,265.9h0M132,265.8h0M146.4,295.3h0M124.2,268.6h0M146.7,281.5h0M149.7,290.8h0M148.3,291.3h0M174.1,282.3h0M130.8,289.6h0M151.9,295h0M141.7,267.9h0M139,273.2h0M181.7,293.4h0M146.8,277h0M135.3,288.9h0M152.3,281.9h0M154.8,293.1h0M158.6,273.2h0M141.5,289.3h0M135.4,280.9h0M131.5,282.2h0M177.5,293.6h0M145,289.5h0M139.4,267.5h0M141.7,275.7h0M168.4,288.9h0M142.5,287.5h0M144.9,286.3h0M151.6,284.7h0M152.5,285h0M152.8,277.2h0M145.4,267.3h0M146.6,292.1h0M125.2,280.4h0M158.5,277.5h0M130.7,255.4h0M159,280.5h0M166.6,282h0M129.8,274h0M135,261.2h0M125.1,261.5h0M142,272.3h0M166.3,284.8h0M129.9,268h0M159.3,296.6h0M149.7,289.8h0M150.6,298.7h0M134.9,286.1h0M142.6,279.1h0M136.7,270.8h0M122.8,266.1h0M170.3,304.6h0M136.7,270h0M144.8,276.2h0"/>
<path d="M156.2,289.7h0M181.9,296.4h0M145.8,286.8h0M157.7,287.2h0M133.7,282.2h0M168.6,294.4h0M147.9,292.9h0M140.7,290.9h0M149.1,291.2h0M162.5,292.6h0M156.1,288h0M160.6,296.3h0M148.4,278.9h0M137.9,282.3h0M165.2,282.4h0M138.5,262.2h0M155.5,297.7h0M149.1,271.2h0M158.8,279h0M175.1,293.7h0M142.9,276.1h0M144.9,287.7h0M146.1,281.6h0M172.9,292.9h0M159.6,277.9h0M146.6,277.3h0M162.7,293.4h0M182.7,301.4h0M172.5,295.7h0M159.4,290.6h0M164.4,293.9h0M153.4,281.8h0M162.4,290h0M147.7,275.8h0M136.5,281.6h0M150.8,285.8h0M157.8,272.7h0M148.5,290.9h0M139.7,281h0M150.5,286.4h0M159.9,292.5h0M171.6,283.5h0M145.7,280.8h0M157.5,276.4h0M163.5,281.7h0M161.8,280.5h0M135.9,268.3h0M158.3,283.4h0M121.9,264.7h0M141.7,293.7h0M150.4,281.7h0M134.7,277.5h0M139.6,288.2h0M160.5,292.7h0M148.3,280.3h0M152,288h0M142.2,280.7h0M136.5,267.2h0M136.7,288.5h0M160.1,284.5h0M143.6,276.3h0M156.5,273.6h0M167,300.7h0M133.5,292h0M167.2,289.8h0M157.9,293.9h0M144,288.7h0M170,283.4h0M158,282.6h0M145.3,302.1h0M157.8,293.6h0M146.5,277.6h0M159.5,291.1h0M139.9,276h0M160.4,291.4h0M162.9,291.6h0M147.9,274.5h0M157.5,286.7h0M119.2,268.5h0"/>
</g>
</g>
<rect x="61.3" y="196" width="139.7" height="139.6" fill="none" stroke="#333333" stroke-width="1.4"/>
<path d="M67.60,336.1v3.6M99.45,336.1v3.6M131.30,336.1v3.6M163.15,336.1v3.6M195.00,336.1v3.6M60.8,329.80h-3.6M60.8,297.98h-3.6M60.8,266.15h-3.6M60.8,234.33h-3.6M60.8,202.50h-3.6" stroke="#333333" stroke-width="1.45" fill="none"/>
<text x="67.6" y="351.6" font-size="12.5" fill="#4d4d4d" text-anchor="middle">0</text>
<text x="99.4" y="351.6" font-size="12.5" fill="#4d4d4d" text-anchor="middle">1</text>
<text x="131.3" y="351.6" font-size="12.5" fill="#4d4d4d" text-anchor="middle">2</text>
<text x="163.2" y="351.6" font-size="12.5" fill="#4d4d4d" text-anchor="middle">3</text>
<text x="195" y="351.6" font-size="12.5" fill="#4d4d4d" text-anchor="middle">4</text>
<text x="54.4" y="334.2" font-size="12.5" fill="#4d4d4d" text-anchor="end">0.0</text>
<text x="54.4" y="302.4" font-size="12.5" fill="#4d4d4d" text-anchor="end">0.5</text>
<text x="54.4" y="270.6" font-size="12.5" fill="#4d4d4d" text-anchor="end">1.0</text>
<text x="54.4" y="238.7" font-size="12.5" fill="#4d4d4d" text-anchor="end">1.5</text>
<text x="54.4" y="206.9" font-size="12.5" fill="#4d4d4d" text-anchor="end">2.0</text>
<text x="131.5" y="373.0" font-size="15.3" fill="#000" text-anchor="middle">σ (km<tspan dy="-7.2" font-size="10.7">3</tspan><tspan dy="7.2" dx="0.7">)</tspan></text>
<text transform="translate(29.7,266) rotate(-90)" font-size="15.3" fill="#000" text-anchor="middle">k</text>
</g>
<g id="panel-c">
<path d="M375.2,196.2V337.5" stroke="#a6a6a6" stroke-width="1.4" fill="none"/>
<path d="M357.8,337.5V196.7" stroke="#b8b8b8" stroke-width="1.35" stroke-dasharray="5.7,6.05" fill="none"/>
<path d="M396.9,337.5V196.7" stroke="#b8b8b8" stroke-width="1.35" stroke-dasharray="5.7,6.05" fill="none"/>
<path d="M331,196.2V337.5H444.3" stroke="#cccccc" stroke-width="1.4" fill="none"/>
<path d="M336.3,337.5v3.4M387.6,337.5v3.4M439,337.5v3.4M331,221.5h-3.8M331,246.6h-3.8M331,271.6h-3.8M331,296.8h-3.8M331,322h-3.8" stroke="#cccccc" stroke-width="1.4" fill="none"/>
<text x="336.3" y="353.6" font-size="12.5" fill="#4d4d4d" text-anchor="middle">0</text>
<text x="387.6" y="353.6" font-size="12.5" fill="#4d4d4d" text-anchor="middle">1</text>
<text x="439" y="353.6" font-size="12.5" fill="#4d4d4d" text-anchor="middle">2</text>
<text x="324.3" y="225.9" font-size="12.5" fill="#4d4d4d" text-anchor="end">Escarpment</text>
<text x="324.3" y="251" font-size="12.5" fill="#4d4d4d" text-anchor="end">Fault−bounded</text>
<text x="324.3" y="276" font-size="12.5" fill="#4d4d4d" text-anchor="end">Volcano</text>
<text x="324.3" y="301.2" font-size="12.5" fill="#4d4d4d" text-anchor="end">Glacial valley</text>
<text x="324.3" y="326.4" font-size="12.5" fill="#4d4d4d" text-anchor="end">River valley</text>
<text x="387.4" y="376.4" font-size="15.3" fill="#000" text-anchor="middle">k</text>
<path d="M344.7,221.5L344.7,221.45L345.2,221.44L345.7,221.43L346.2,221.42L346.7,221.41L347.2,221.40L347.7,221.38L348.2,221.37L348.7,221.35L349.2,221.33L349.7,221.31L350.2,221.28L350.7,221.26L351.2,221.23L351.7,221.19L352.2,221.16L352.7,221.12L353.2,221.07L353.7,221.03L354.2,220.97L354.7,220.92L355.2,220.86L355.7,220.79L356.2,220.72L356.7,220.64L357.2,220.56L357.7,220.47L358.2,220.37L358.7,220.27L359.2,220.16L359.7,220.04L360.2,219.92L360.7,219.79L361.2,219.65L361.7,219.50L362.2,219.35L362.7,219.19L363.2,219.02L363.7,218.84L364.2,218.66L364.7,218.47L365.2,218.28L365.7,218.08L366.2,217.87L366.7,217.66L367.2,217.44L367.7,217.22L368.2,216.99L368.7,216.76L369.2,216.53L369.7,216.30L370.2,216.07L370.7,215.84L371.2,215.61L371.7,215.38L372.2,215.15L372.7,214.93L373.2,214.72L373.7,214.51L374.2,214.31L374.7,214.11L375.2,213.93L375.7,213.75L376.2,213.59L376.7,213.43L377.2,213.29L377.7,213.17L378.2,213.05L378.7,212.96L379.2,212.87L379.7,212.81L380.2,212.76L380.7,212.72L381.2,212.70L381.7,212.70L382.2,212.72L382.7,212.74L383.2,212.77L383.7,212.81L384.2,212.85L384.7,212.90L385.2,212.96L385.7,213.02L386.2,213.08L386.7,213.16L387.2,213.23L387.7,213.32L388.2,213.41L388.7,213.50L389.2,213.60L389.7,213.71L390.2,213.82L390.7,213.93L391.2,214.05L391.7,214.17L392.2,214.29L392.7,214.42L393.2,214.55L393.7,214.68L394.2,214.82L394.7,214.96L395.2,215.10L395.7,215.24L396.2,215.38L396.7,215.52L397.2,215.67L397.7,215.81L398.2,215.96L398.7,216.10L399.2,216.25L399.7,216.39L400.2,216.54L400.7,216.68L401.2,216.83L401.7,216.97L402.2,217.11L402.7,217.24L403.2,217.38L403.7,217.52L404.2,217.65L404.7,217.78L405.2,217.91L405.7,218.03L406.2,218.15L406.7,218.27L407.2,218.39L407.7,218.51L408.2,218.62L408.7,218.73L409.2,218.83L409.7,218.94L410.2,219.04L410.7,219.13L411.2,219.23L411.7,219.32L412.2,219.41L412.7,219.49L413.2,219.57L413.7,219.65L414.2,219.73L414.7,219.80L415.2,219.87L415.7,219.94L416.2,220.00L416.7,220.06L417.2,220.12L417.7,220.18L418.2,220.23L418.7,220.28L419.2,220.33L419.7,220.38L420.2,220.43L420.7,220.47L421.2,220.51L421.7,220.55L422.2,220.58L422.7,220.62L423.2,220.65L423.7,220.68L424.2,220.71L424.7,220.74L425.2,220.77L425.7,220.79L426.2,220.82L426.7,220.84L427.2,220.86L427.7,220.88L428.2,220.90L428.7,220.92L429.2,220.93L429.7,220.95L430.2,220.97L430.7,220.98L431.2,220.99L431.7,221.01L432.2,221.02L432.7,221.03L433.2,221.04L433.7,221.05L434.2,221.06L434.7,221.07L435.2,221.08L435.7,221.09L436.2,221.09L436.7,221.10L437.2,221.11L437.7,221.12L438.2,221.12L438.7,221.13L439.2,221.13L439.2,221.5Z" fill="#1B9E77"/>
<path d="M361.2,221.5H421.8" stroke="#000" stroke-width="1.7" fill="none"/>
<circle cx="385.9" cy="221.5" r="2.75" fill="#fff" stroke="#f00" stroke-width="1.9"/>
<path d="M344,246.6L344,246.45L344.5,246.42L345,246.40L345.5,246.37L346,246.34L346.5,246.30L347,246.26L347.5,246.22L348,246.17L348.5,246.12L349,246.06L349.5,245.99L350,245.92L350.5,245.84L351,245.75L351.5,245.66L352,245.55L352.5,245.44L353,245.32L353.5,245.19L354,245.05L354.5,244.90L355,244.75L355.5,244.58L356,244.40L356.5,244.21L357,244.01L357.5,243.80L358,243.57L358.5,243.34L359,243.10L359.5,242.85L360,242.59L360.5,242.32L361,242.05L361.5,241.77L362,241.48L362.5,241.19L363,240.89L363.5,240.59L364,240.29L364.5,239.99L365,239.69L365.5,239.40L366,239.11L366.5,238.82L367,238.54L367.5,238.27L368,238.01L368.5,237.77L369,237.53L369.5,237.31L370,237.11L370.5,236.93L371,236.76L371.5,236.62L372,236.49L372.5,236.39L373,236.31L373.5,236.25L374,236.21L374.5,236.20L375,236.22L375.5,236.24L376,236.28L376.5,236.32L377,236.37L377.5,236.44L378,236.50L378.5,236.58L379,236.67L379.5,236.76L380,236.86L380.5,236.97L381,237.08L381.5,237.20L382,237.33L382.5,237.47L383,237.61L383.5,237.75L384,237.90L384.5,238.06L385,238.22L385.5,238.38L386,238.55L386.5,238.72L387,238.89L387.5,239.07L388,239.25L388.5,239.43L389,239.61L389.5,239.79L390,239.97L390.5,240.15L391,240.34L391.5,240.52L392,240.70L392.5,240.88L393,241.06L393.5,241.24L394,241.41L394.5,241.59L395,241.76L395.5,241.93L396,242.09L396.5,242.25L397,242.41L397.5,242.57L398,242.72L398.5,242.87L399,243.02L399.5,243.16L400,243.30L400.5,243.43L401,243.56L401.5,243.69L402,243.81L402.5,243.92L403,244.04L403.5,244.15L404,244.25L404.5,244.35L405,244.45L405.5,244.55L406,244.63L406.5,244.72L407,244.80L407.5,244.88L408,244.96L408.5,245.03L409,245.10L409.5,245.16L410,245.22L410.5,245.28L411,245.34L411.5,245.39L412,245.44L412.5,245.49L413,245.53L413.5,245.58L414,245.62L414.5,245.66L415,245.69L415.5,245.73L416,245.76L416.5,245.79L417,245.82L417.5,245.84L418,245.87L418.5,245.89L419,245.91L419.5,245.94L420,245.96L420.5,245.97L421,245.99L421.5,246.01L422,246.02L422.5,246.04L423,246.05L423.5,246.07L424,246.08L424.5,246.09L425,246.10L425.5,246.11L426,246.12L426.5,246.13L427,246.14L427.5,246.15L428,246.16L428.5,246.16L429,246.17L429.5,246.18L430,246.18L430.5,246.19L431,246.20L431.5,246.20L432,246.21L432.5,246.21L433,246.22L433.5,246.22L434,246.23L434.5,246.23L435,246.24L435.5,246.24L436,246.25L436.5,246.25L437,246.26L437.5,246.26L438,246.26L438.3,246.6Z" fill="#D95F02"/>
<path d="M355,246.6H411.9" stroke="#000" stroke-width="1.7" fill="none"/>
<circle cx="377.5" cy="246.6" r="2.75" fill="#fff" stroke="#f00" stroke-width="1.9"/>
<path d="M351.8,271.6L351.8,271.49L352.3,271.46L352.8,271.42L353.3,271.37L353.8,271.30L354.3,271.23L354.8,271.13L355.3,271.02L355.8,270.89L356.3,270.73L356.8,270.55L357.3,270.33L357.8,270.08L358.3,269.79L358.8,269.46L359.3,269.10L359.8,268.68L360.3,268.23L360.8,267.73L361.3,267.19L361.8,266.60L362.3,265.98L362.8,265.32L363.3,264.64L363.8,263.93L364.3,263.22L364.8,262.49L365.3,261.78L365.8,261.08L366.3,260.41L366.8,259.78L367.3,259.20L367.8,258.68L368.3,258.23L368.8,257.86L369.3,257.58L369.8,257.40L370.3,257.31L370.8,257.31L371.3,257.37L371.8,257.45L372.3,257.57L372.8,257.71L373.3,257.89L373.8,258.10L374.3,258.34L374.8,258.60L375.3,258.89L375.8,259.20L376.3,259.53L376.8,259.88L377.3,260.25L377.8,260.63L378.3,261.02L378.8,261.42L379.3,261.83L379.8,262.25L380.3,262.67L380.8,263.08L381.3,263.50L381.8,263.91L382.3,264.32L382.8,264.72L383.3,265.11L383.8,265.50L384.3,265.87L384.8,266.23L385.3,266.58L385.8,266.91L386.3,267.24L386.8,267.54L387.3,267.83L387.8,268.11L388.3,268.37L388.8,268.61L389.3,268.85L389.8,269.06L390.3,269.26L390.8,269.45L391.3,269.63L391.8,269.79L392.3,269.94L392.8,270.07L393.3,270.20L393.8,270.31L394.3,270.42L394.8,270.52L395.3,270.60L395.8,270.68L396.3,270.75L396.8,270.82L397.3,270.88L397.8,270.93L398.3,270.98L398.8,271.02L399.3,271.06L399.8,271.09L400.3,271.12L400.8,271.15L401.3,271.18L401.8,271.20L402.3,271.22L402.8,271.23L403.3,271.25L403.8,271.26L404.3,271.28L404.8,271.29L405.3,271.30L405.8,271.31L406.3,271.32L406.8,271.33L407.3,271.33L407.8,271.34L408.3,271.35L408.8,271.35L409.3,271.36L409.8,271.36L410,271.6Z" fill="#E7298A"/>
<path d="M357.7,271.6H393.6" stroke="#000" stroke-width="1.7" fill="none"/>
<circle cx="372.9" cy="271.6" r="2.75" fill="#fff" stroke="#f00" stroke-width="1.9"/>
<path d="M352.9,296.8L352.9,296.66L353.4,296.61L353.9,296.53L354.4,296.43L354.9,296.31L355.4,296.14L355.9,295.93L356.4,295.67L356.9,295.34L357.4,294.94L357.9,294.45L358.4,293.88L358.9,293.21L359.4,292.44L359.9,291.56L360.4,290.58L360.9,289.50L361.4,288.34L361.9,287.11L362.4,285.83L362.9,284.53L363.4,283.23L363.9,281.98L364.4,280.79L364.9,279.72L365.4,278.79L365.9,278.03L366.4,277.46L366.9,277.12L367.4,277.00L367.9,277.06L368.4,277.22L368.9,277.46L369.4,277.79L369.9,278.20L370.4,278.68L370.9,279.24L371.4,279.85L371.9,280.52L372.4,281.24L372.9,281.99L373.4,282.77L373.9,283.57L374.4,284.38L374.9,285.19L375.4,286.00L375.9,286.80L376.4,287.58L376.9,288.33L377.4,289.06L377.9,289.75L378.4,290.41L378.9,291.03L379.4,291.61L379.9,292.14L380.4,292.64L380.9,293.10L381.4,293.52L381.9,293.89L382.4,294.23L382.9,294.54L383.4,294.81L383.9,295.06L384.4,295.27L384.9,295.46L385.4,295.62L385.9,295.76L386.4,295.89L386.9,295.99L387.4,296.08L387.9,296.16L388.4,296.23L388.9,296.29L389.4,296.34L389.9,296.38L390.4,296.41L390.9,296.44L391.4,296.47L391.9,296.49L392.4,296.51L392.9,296.52L393.4,296.53L393.9,296.55L394.4,296.56L394.7,296.8Z" fill="#7570B3"/>
<path d="M357.7,296.8H384.1" stroke="#000" stroke-width="1.7" fill="none"/>
<circle cx="369.2" cy="296.8" r="2.75" fill="#fff" stroke="#f00" stroke-width="1.9"/>
<path d="M344,322L344,321.91L344.5,321.87L345,321.81L345.5,321.73L346,321.62L346.5,321.47L347,321.27L347.5,321.01L348,320.68L348.5,320.26L349,319.73L349.5,319.10L350,318.33L350.5,317.43L351,316.39L351.5,315.21L352,313.89L352.5,312.45L353,310.92L353.5,309.33L354,307.70L354.5,306.10L355,304.57L355.5,303.15L356,301.91L356.5,300.89L357,300.13L357.5,299.66L358,299.50L358.5,299.59L359,299.83L359.5,300.19L360,300.69L360.5,301.30L361,302.02L361.5,302.84L362,303.73L362.5,304.70L363,305.71L363.5,306.76L364,307.82L364.5,308.90L365,309.96L365.5,311.01L366,312.02L366.5,312.99L367,313.91L367.5,314.78L368,315.59L368.5,316.34L369,317.03L369.5,317.65L370,318.21L370.5,318.71L371,319.16L371.5,319.55L372,319.89L372.5,320.19L373,320.44L373.5,320.66L374,320.85L374.5,321.00L375,321.14L375.5,321.25L376,321.34L376.5,321.42L377,321.48L377.5,321.53L378,321.57L378.5,321.61L379,321.64L379.5,321.66L380,321.68L380.5,321.70L381,321.72L381.5,321.73L382,321.74L382.5,321.75L383,321.76L383.5,321.77L384,321.77L384.5,321.78L385,321.79L385.5,321.79L386,321.80L386.5,321.81L387,321.81L387.5,321.82L388,321.82L388.5,321.83L389,321.83L389.5,321.83L390,321.84L390.5,321.84L391,321.85L391.5,321.85L392,321.86L392.5,321.86L392.5,322Z" fill="#66A61E"/>
<path d="M349.6,322H373.3" stroke="#000" stroke-width="1.7" fill="none"/>
<circle cx="359.3" cy="322" r="2.75" fill="#fff" stroke="#f00" stroke-width="1.9"/>
</g>
<g id="panel-d">
<path d="M617.2,196.2V330" stroke="#a6a6a6" stroke-width="1.4" fill="none"/>
<path d="M592.7,330V196.7" stroke="#b8b8b8" stroke-width="1.35" stroke-dasharray="5.7,6.05" fill="none"/>
<path d="M653.9,330V196.7" stroke="#b8b8b8" stroke-width="1.35" stroke-dasharray="5.7,6.05" fill="none"/>
<path d="M566.5,196.2V330H673.8" stroke="#cccccc" stroke-width="1.4" fill="none"/>
<path d="M571.5,330v3.4M596,330v3.4M620.5,330v3.4M645,330v3.4M669.5,330v3.4M566.5,220h-3.8M566.5,243.9h-3.8M566.5,267.8h-3.8M566.5,291.6h-3.8M566.5,315.5h-3.8" stroke="#cccccc" stroke-width="1.4" fill="none"/>
<text x="571.5" y="346.3" font-size="12.5" fill="#4d4d4d" text-anchor="middle">0</text>
<text x="596" y="346.3" font-size="12.5" fill="#4d4d4d" text-anchor="middle">1</text>
<text x="620.5" y="346.3" font-size="12.5" fill="#4d4d4d" text-anchor="middle">2</text>
<text x="645" y="346.3" font-size="12.5" fill="#4d4d4d" text-anchor="middle">3</text>
<text x="669.5" y="346.3" font-size="12.5" fill="#4d4d4d" text-anchor="middle">4</text>
<text x="559.3" y="224.4" font-size="12.5" fill="#4d4d4d" text-anchor="end">Volcano</text>
<text x="559.3" y="248.3" font-size="12.5" fill="#4d4d4d" text-anchor="end">Fault−bounded</text>
<text x="559.3" y="272.1" font-size="12.5" fill="#4d4d4d" text-anchor="end">River valley</text>
<text x="559.3" y="296" font-size="12.5" fill="#4d4d4d" text-anchor="end">Glacial valley</text>
<text x="559.3" y="319.9" font-size="12.5" fill="#4d4d4d" text-anchor="end">Escarpment</text>
<text x="620.4" y="374.4" font-size="15.3" fill="#000" text-anchor="middle">σ (km<tspan dy="-7.2" font-size="10.7">3</tspan><tspan dy="7.2" dx="0.7">)</tspan></text>
<path d="M604.4,220L604.4,219.93L604.9,219.91L605.4,219.90L605.9,219.88L606.4,219.86L606.9,219.84L607.4,219.81L607.9,219.79L608.4,219.75L608.9,219.72L609.4,219.68L609.9,219.63L610.4,219.58L610.9,219.52L611.4,219.46L611.9,219.39L612.4,219.31L612.9,219.23L613.4,219.14L613.9,219.04L614.4,218.93L614.9,218.81L615.4,218.68L615.9,218.54L616.4,218.40L616.9,218.24L617.4,218.07L617.9,217.90L618.4,217.71L618.9,217.51L619.4,217.31L619.9,217.09L620.4,216.87L620.9,216.64L621.4,216.40L621.9,216.16L622.4,215.91L622.9,215.65L623.4,215.40L623.9,215.14L624.4,214.88L624.9,214.62L625.4,214.37L625.9,214.12L626.4,213.87L626.9,213.64L627.4,213.41L627.9,213.19L628.4,212.99L628.9,212.80L629.4,212.62L629.9,212.46L630.4,212.32L630.9,212.20L631.4,212.10L631.9,212.01L632.4,211.95L632.9,211.92L633.4,211.90L633.9,211.91L634.4,211.94L634.9,211.98L635.4,212.03L635.9,212.10L636.4,212.18L636.9,212.27L637.4,212.38L637.9,212.50L638.4,212.63L638.9,212.77L639.4,212.92L639.9,213.07L640.4,213.24L640.9,213.42L641.4,213.60L641.9,213.79L642.4,213.98L642.9,214.18L643.4,214.38L643.9,214.58L644.4,214.79L644.9,214.99L645.4,215.20L645.9,215.40L646.4,215.61L646.9,215.81L647.4,216.01L647.9,216.20L648.4,216.40L648.9,216.58L649.4,216.77L649.9,216.94L650.4,217.12L650.9,217.28L651.4,217.44L651.9,217.60L652.4,217.75L652.9,217.89L653.4,218.02L653.9,218.15L654.4,218.27L654.9,218.39L655.4,218.50L655.9,218.60L656.4,218.70L656.9,218.79L657.4,218.88L657.9,218.96L658.4,219.03L658.9,219.10L659.4,219.17L659.9,219.23L660.4,219.28L660.9,219.33L661.4,219.38L661.9,219.43L662.4,219.47L662.9,219.50L663.4,219.54L663.9,219.57L664.4,219.60L664.9,219.62L665.4,219.64L665.9,219.67L666.4,219.69L666.9,219.70L667.4,219.72L667.9,219.73L668.4,219.75L668.9,219.76L669.4,219.77L669.4,220Z" fill="#E7298A"/>
<path d="M615.4,220H662.3" stroke="#000" stroke-width="1.7" fill="none"/>
<circle cx="636.3" cy="220" r="2.75" fill="#fff" stroke="#f00" stroke-width="1.9"/>
<path d="M585.2,243.9L585.2,243.76L585.7,243.74L586.2,243.72L586.7,243.70L587.2,243.67L587.7,243.64L588.2,243.60L588.7,243.57L589.2,243.53L589.7,243.48L590.2,243.43L590.7,243.38L591.2,243.32L591.7,243.26L592.2,243.19L592.7,243.11L593.2,243.03L593.7,242.94L594.2,242.85L594.7,242.75L595.2,242.64L595.7,242.53L596.2,242.41L596.7,242.28L597.2,242.15L597.7,242.01L598.2,241.86L598.7,241.71L599.2,241.55L599.7,241.38L600.2,241.21L600.7,241.03L601.2,240.85L601.7,240.67L602.2,240.48L602.7,240.28L603.2,240.09L603.7,239.89L604.2,239.70L604.7,239.50L605.2,239.31L605.7,239.11L606.2,238.92L606.7,238.74L607.2,238.56L607.7,238.39L608.2,238.22L608.7,238.06L609.2,237.91L609.7,237.77L610.2,237.65L610.7,237.53L611.2,237.43L611.7,237.34L612.2,237.26L612.7,237.20L613.2,237.15L613.7,237.12L614.2,237.10L614.7,237.10L615.2,237.12L615.7,237.13L616.2,237.16L616.7,237.18L617.2,237.22L617.7,237.25L618.2,237.30L618.7,237.34L619.2,237.40L619.7,237.45L620.2,237.51L620.7,237.58L621.2,237.65L621.7,237.72L622.2,237.80L622.7,237.88L623.2,237.96L623.7,238.05L624.2,238.14L624.7,238.23L625.2,238.33L625.7,238.43L626.2,238.53L626.7,238.63L627.2,238.74L627.7,238.84L628.2,238.95L628.7,239.06L629.2,239.17L629.7,239.28L630.2,239.39L630.7,239.51L631.2,239.62L631.7,239.73L632.2,239.84L632.7,239.96L633.2,240.07L633.7,240.18L634.2,240.29L634.7,240.40L635.2,240.50L635.7,240.61L636.2,240.72L636.7,240.82L637.2,240.92L637.7,241.02L638.2,241.12L638.7,241.22L639.2,241.31L639.7,241.41L640.2,241.50L640.7,241.59L641.2,241.67L641.7,241.76L642.2,241.84L642.7,241.92L643.2,242.00L643.7,242.07L644.2,242.14L644.7,242.21L645.2,242.28L645.7,242.35L646.2,242.41L646.7,242.47L647.2,242.53L647.7,242.59L648.2,242.64L648.7,242.69L649.2,242.74L649.7,242.79L650.2,242.84L650.7,242.88L651.2,242.92L651.7,242.96L652.2,243.00L652.7,243.03L653.2,243.07L653.7,243.10L654.2,243.13L654.7,243.16L655.2,243.19L655.7,243.22L656.2,243.24L656.7,243.27L657.2,243.29L657.7,243.31L658.2,243.33L658.7,243.35L659.2,243.37L659.7,243.39L660.2,243.41L660.7,243.42L661.2,243.44L661.7,243.45L662.2,243.46L662.7,243.48L663.2,243.49L663.7,243.50L664.2,243.51L664.7,243.52L665.2,243.53L665.7,243.54L666.2,243.55L666.7,243.55L667.2,243.56L667.7,243.57L668.2,243.57L668.7,243.58L669.2,243.59L669.4,243.9Z" fill="#D95F02"/>
<path d="M597.3,243.9H656.1" stroke="#000" stroke-width="1.7" fill="none"/>
<circle cx="619.8" cy="243.9" r="2.75" fill="#fff" stroke="#f00" stroke-width="1.9"/>
<path d="M600,267.8L600,267.73L600.5,267.72L601,267.70L601.5,267.69L602,267.66L602.5,267.63L603,267.59L603.5,267.53L604,267.46L604.5,267.36L605,267.25L605.5,267.10L606,266.92L606.5,266.70L607,266.43L607.5,266.12L608,265.75L608.5,265.32L609,264.82L609.5,264.26L610,263.64L610.5,262.95L611,262.20L611.5,261.39L612,260.55L612.5,259.67L613,258.77L613.5,257.88L614,257.00L614.5,256.17L615,255.39L615.5,254.69L616,254.09L616.5,253.60L617,253.24L617.5,253.02L618,252.95L618.5,253.00L619,253.13L619.5,253.32L620,253.58L620.5,253.90L621,254.28L621.5,254.72L622,255.20L622.5,255.72L623,256.27L623.5,256.85L624,257.46L624.5,258.07L625,258.69L625.5,259.31L626,259.93L626.5,260.53L627,261.12L627.5,261.68L628,262.22L628.5,262.74L629,263.22L629.5,263.68L630,264.10L630.5,264.49L631,264.85L631.5,265.17L632,265.47L632.5,265.73L633,265.97L633.5,266.18L634,266.37L634.5,266.54L635,266.68L635.5,266.81L636,266.92L636.5,267.02L637,267.10L637.5,267.17L638,267.23L638.5,267.28L639,267.32L639.5,267.36L640,267.39L640.5,267.42L641,267.44L641.5,267.46L642,267.47L642.5,267.49L643,267.50L643.5,267.51L644,267.52L644.5,267.53L645,267.54L645.5,267.54L646,267.55L646.5,267.56L647,267.56L647.5,267.57L648,267.57L648.5,267.58L649,267.58L649.5,267.58L649.5,267.8Z" fill="#66A61E"/>
<path d="M607.2,267.8H633.7" stroke="#000" stroke-width="1.7" fill="none"/>
<circle cx="618.7" cy="267.8" r="2.75" fill="#fff" stroke="#f00" stroke-width="1.9"/>
<path d="M587.4,291.6L587.4,291.60L587.9,291.59L588.4,291.59L588.9,291.58L589.4,291.56L589.9,291.54L590.4,291.50L590.9,291.43L591.4,291.34L591.9,291.20L592.4,291.00L592.9,290.72L593.4,290.34L593.9,289.82L594.4,289.16L594.9,288.32L595.4,287.28L595.9,286.04L596.4,284.59L596.9,282.95L597.4,281.16L597.9,279.27L598.4,277.35L598.9,275.48L599.4,273.75L599.9,272.26L600.4,271.10L600.9,270.33L601.4,270.01L601.9,270.10L602.4,270.45L602.9,271.02L603.4,271.81L603.9,272.78L604.4,273.90L604.9,275.15L605.4,276.47L605.9,277.85L606.4,279.24L606.9,280.61L607.4,281.93L607.9,283.18L608.4,284.34L608.9,285.41L609.4,286.37L609.9,287.22L610.4,287.96L610.9,288.59L611.4,289.13L611.9,289.58L612.4,289.96L612.9,290.26L613.4,290.50L613.9,290.70L614.4,290.85L614.9,290.97L615.4,291.07L615.9,291.14L616.4,291.20L616.9,291.24L617.4,291.27L617.9,291.30L618.4,291.32L618.9,291.34L619.4,291.35L619.9,291.37L620.4,291.38L620.9,291.39L621.4,291.39L621.9,291.40L622,291.6Z" fill="#7570B3"/>
<path d="M594.5,291.6H612.5" stroke="#000" stroke-width="1.7" fill="none"/>
<circle cx="602.6" cy="291.6" r="2.75" fill="#fff" stroke="#f00" stroke-width="1.9"/>
<path d="M575.3,315.5L575.3,315.29L575.8,315.22L576.3,315.12L576.8,315.00L577.3,314.84L577.8,314.65L578.3,314.41L578.8,314.11L579.3,313.76L579.8,313.35L580.3,312.87L580.8,312.32L581.3,311.70L581.8,311.01L582.3,310.25L582.8,309.45L583.3,308.60L583.8,307.73L584.3,306.84L584.8,305.97L585.3,305.14L585.8,304.37L586.3,303.67L586.8,303.09L587.3,302.62L587.8,302.30L588.3,302.13L588.8,302.12L589.3,302.21L589.8,302.33L590.3,302.49L590.8,302.69L591.3,302.92L591.8,303.18L592.3,303.48L592.8,303.80L593.3,304.15L593.8,304.52L594.3,304.91L594.8,305.32L595.3,305.74L595.8,306.17L596.3,306.61L596.8,307.05L597.3,307.50L597.8,307.94L598.3,308.37L598.8,308.80L599.3,309.22L599.8,309.63L600.3,310.03L600.8,310.41L601.3,310.77L601.8,311.12L602.3,311.45L602.8,311.77L603.3,312.06L603.8,312.34L604.3,312.60L604.8,312.84L605.3,313.06L605.8,313.26L606.3,313.45L606.8,313.63L607.3,313.79L607.8,313.93L608.3,314.06L608.8,314.18L609.3,314.29L609.8,314.38L610.3,314.47L610.8,314.55L611.3,314.62L611.8,314.68L612.3,314.74L612.8,314.79L613.3,314.83L613.8,314.87L614.3,314.91L614.8,314.94L615.3,314.97L615.8,314.99L616.3,315.02L616.8,315.04L617.3,315.06L617.8,315.07L618.3,315.09L618.8,315.11L619.3,315.12L619.8,315.13L620.3,315.14L620.8,315.16L621.3,315.17L621.8,315.18L622.3,315.19L622.8,315.20L623.3,315.20L623.8,315.21L624.3,315.22L624.8,315.23L625.3,315.24L625.8,315.24L626.3,315.25L626.8,315.26L627.3,315.26L627.8,315.27L628.3,315.28L628.8,315.28L629.3,315.29L629.8,315.29L630.3,315.30L630.8,315.30L631.3,315.31L631.8,315.31L632.3,315.32L632.8,315.32L633.3,315.33L633.8,315.33L634.3,315.34L634.8,315.34L635.3,315.35L635.8,315.35L636.3,315.35L636.8,315.36L637.3,315.36L637.8,315.36L638.3,315.37L638.8,315.37L639.3,315.38L639.8,315.38L640.3,315.38L640.8,315.38L641.3,315.39L641.8,315.39L642.3,315.39L642.8,315.40L643.3,315.40L643.8,315.40L644.3,315.40L644.8,315.41L645.3,315.41L645.8,315.41L646.3,315.41L646.8,315.42L647.3,315.42L647.8,315.42L648.3,315.42L648.8,315.42L649.3,315.43L649.8,315.43L650.3,315.43L650.8,315.43L651.3,315.43L651.8,315.44L652.3,315.44L652.8,315.44L653.3,315.44L653.8,315.44L654.3,315.44L654.8,315.45L655.3,315.45L655.8,315.45L656.3,315.45L656.8,315.45L657.3,315.45L657.8,315.45L658.3,315.45L658.3,315.5Z" fill="#1B9E77"/>
<path d="M580.2,315.5H613.9" stroke="#000" stroke-width="1.7" fill="none"/>
<circle cx="591.8" cy="315.5" r="2.75" fill="#fff" stroke="#f00" stroke-width="1.9"/>
</g>
</svg>
</body>
</html>
